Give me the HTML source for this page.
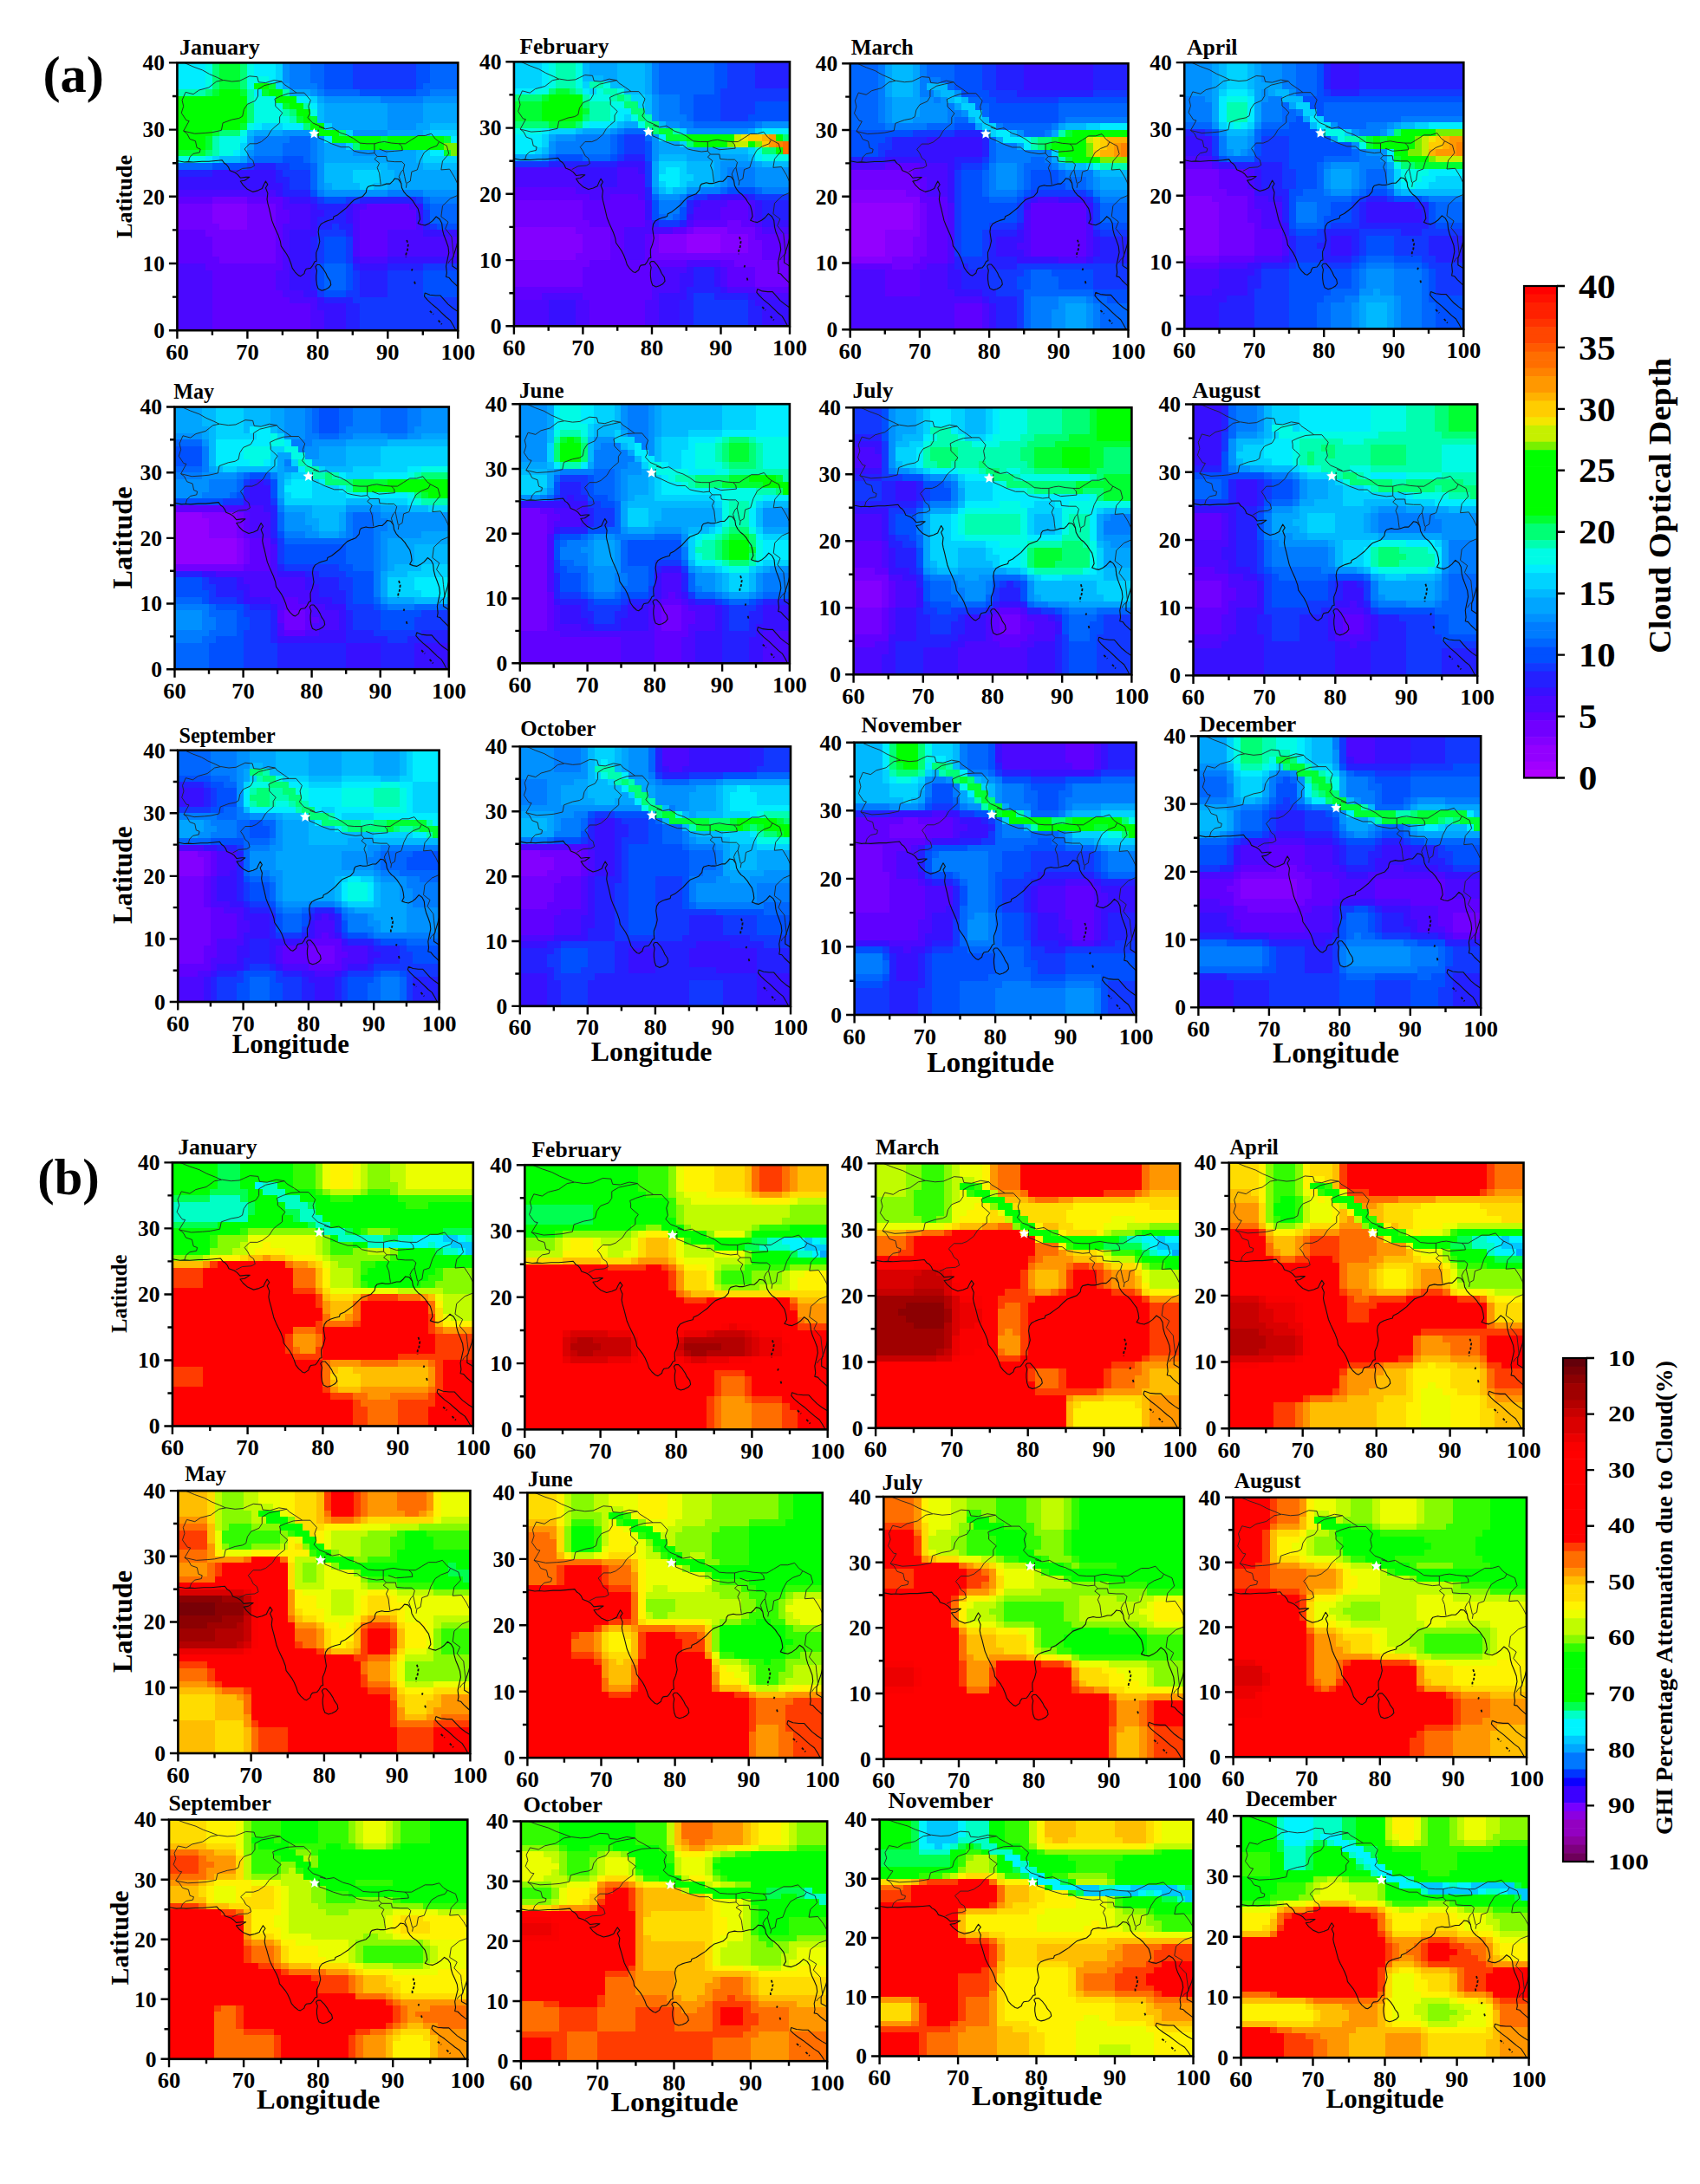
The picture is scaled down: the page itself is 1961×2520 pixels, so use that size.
<!DOCTYPE html>
<html><head><meta charset="utf-8"><title>Cloud optical depth and GHI attenuation</title>
<style>html,body{margin:0;padding:0;background:#fff;}body{width:1961px;height:2520px;overflow:hidden;}svg text{font-family:"Liberation Serif",serif;font-weight:bold;fill:#000;}</style></head>
<body><svg width="1961" height="2520" viewBox="0 0 1961 2520" style="display:block">
<rect width="1961" height="2520" fill="#fff"/>
<svg x="204.4" y="72.4" width="323.9" height="308.8" viewBox="0 0 40 40" preserveAspectRatio="none" shape-rendering="crispEdges">
<path fill="#00edff" d="M0 0h4v1h-4zM11 0h3v1h-3zM0 1h4v1h-4zM11 1h3v1h-3zM0 2h4v1h-4zM13 2h1v1h-1zM0 3h4v1h-4zM11 4h1v1h-1zM17 5h2v1h-2zM19 6h1v1h-1zM11 9h1v1h-1zM15 9h3v1h-3zM19 10h1v1h-1zM9 11h1v1h-1zM21 11h1v1h-1zM39 11h1v1h-1zM8 13h1v1h-1zM36 13h2v1h-2zM4 14h1v1h-1z"/><path fill="#00fbe5" d="M4 0h1v1h-1zM10 0h1v1h-1zM4 1h1v1h-1zM10 1h1v1h-1zM4 2h1v1h-1zM10 2h3v1h-3zM4 3h1v1h-1zM10 3h1v1h-1zM11 5h3v1h-3zM11 6h4v1h-4zM11 7h4v1h-4zM19 7h1v1h-1zM11 8h5v1h-5zM10 9h1v1h-1zM9 10h1v1h-1zM6 11h3v1h-3zM6 12h3v1h-3zM6 13h2v1h-2zM0 14h4v1h-4z"/><path fill="#00ff75" d="M5 0h1v1h-1zM9 0h1v1h-1zM5 1h1v1h-1zM9 1h1v1h-1zM5 2h1v1h-1zM9 2h1v1h-1zM5 3h1v1h-1zM9 3h1v1h-1zM4 4h1v1h-1zM10 6h1v1h-1zM10 7h1v1h-1zM16 7h1v1h-1zM10 8h1v1h-1zM18 9h1v1h-1zM6 10h3v1h-3zM23 10h1v1h-1zM25 12h1v1h-1zM4 13h1v1h-1z"/><path fill="#00ff32" d="M6 0h3v1h-3zM6 1h3v1h-3zM6 2h3v1h-3zM6 3h3v1h-3zM13 3h1v1h-1zM5 4h1v1h-1zM9 4h1v1h-1zM12 4h1v1h-1zM15 6h1v1h-1zM17 8h1v1h-1zM19 8h1v1h-1zM9 9h1v1h-1zM5 10h1v1h-1zM4 11h1v1h-1zM29 11h1v1h-1zM38 11h1v1h-1zM4 12h1v1h-1zM0 13h4v1h-4zM38 13h1v1h-1z"/><path fill="#00d3ff" d="M14 0h1v1h-1zM14 1h1v1h-1zM14 2h1v1h-1zM14 3h1v1h-1zM19 5h1v1h-1zM12 9h3v1h-3zM21 9h1v1h-1zM24 10h1v1h-1zM36 10h4v1h-4zM9 12h1v1h-1zM24 12h1v1h-1zM9 13h1v1h-1zM35 13h1v1h-1zM5 14h1v1h-1zM35 14h5v1h-5zM25 16h4v1h-4zM25 17h4v1h-4zM26 18h2v1h-2z"/><path fill="#0091ff" d="M15 0h1v1h-1zM15 1h1v1h-1zM15 2h1v1h-1zM19 4h1v1h-1zM21 5h8v1h-8zM35 5h5v1h-5zM30 6h5v1h-5zM30 7h5v1h-5zM30 8h5v1h-5zM30 9h4v1h-4zM15 10h4v1h-4zM25 10h5v1h-5zM20 11h1v1h-1zM20 12h1v1h-1zM10 13h1v1h-1zM20 13h1v1h-1zM25 13h5v1h-5zM20 14h1v1h-1zM20 15h1v1h-1zM20 16h1v1h-1zM20 17h1v1h-1zM20 18h1v1h-1zM21 19h9v1h-9zM35 19h5v1h-5z"/><path fill="#007cff" d="M16 0h3v1h-3zM16 1h3v1h-3zM16 2h3v1h-3zM16 3h4v1h-4zM20 4h1v1h-1zM36 4h4v1h-4zM29 5h6v1h-6zM11 11h5v1h-5zM19 11h1v1h-1zM11 12h4v1h-4zM19 12h1v1h-1zM11 13h4v1h-4zM19 13h1v1h-1zM10 14h1v1h-1zM19 14h1v1h-1zM20 19h1v1h-1zM30 19h5v1h-5zM36 20h4v1h-4z"/><path fill="#0066ff" d="M19 0h2v1h-2zM36 0h4v1h-4zM19 1h2v1h-2zM36 1h4v1h-4zM19 2h2v1h-2zM36 2h4v1h-4zM20 3h1v1h-1zM35 3h5v1h-5zM21 4h5v1h-5zM34 4h2v1h-2zM16 11h3v1h-3zM15 12h4v1h-4zM15 13h4v1h-4zM11 14h4v1h-4zM18 14h1v1h-1zM0 15h5v1h-5zM19 15h1v1h-1zM19 16h1v1h-1zM19 17h1v1h-1zM19 18h1v1h-1zM35 20h1v1h-1zM36 21h4v1h-4zM36 22h4v1h-4zM36 23h4v1h-4zM21 30h3v1h-3zM21 31h3v1h-3zM21 32h3v1h-3zM21 33h3v1h-3z"/><path fill="#0050ff" d="M21 0h4v1h-4zM34 0h2v1h-2zM21 1h4v1h-4zM34 1h2v1h-2zM21 2h4v1h-4zM34 2h2v1h-2zM21 3h4v1h-4zM34 3h1v1h-1zM26 4h8v1h-8zM15 14h3v1h-3zM5 15h5v1h-5zM16 15h3v1h-3zM19 19h1v1h-1zM21 20h3v1h-3zM35 21h1v1h-1zM37 24h3v1h-3zM21 26h3v1h-3zM21 27h3v1h-3zM21 28h3v1h-3zM21 29h3v1h-3zM20 30h1v1h-1zM24 30h1v1h-1zM20 31h1v1h-1zM24 31h1v1h-1zM35 31h5v1h-5zM20 32h1v1h-1zM24 32h1v1h-1zM35 32h5v1h-5zM20 33h1v1h-1zM24 33h1v1h-1zM35 33h5v1h-5zM21 34h3v1h-3zM35 34h5v1h-5z"/><path fill="#1238ff" d="M25 0h9v1h-9zM25 1h9v1h-9zM25 2h9v1h-9zM25 3h9v1h-9zM10 15h1v1h-1zM14 15h2v1h-2zM15 16h4v1h-4zM16 17h3v1h-3zM16 18h3v1h-3zM20 20h1v1h-1zM24 20h2v1h-2zM34 20h1v1h-1zM35 22h1v1h-1zM35 23h1v1h-1zM22 24h1v1h-1zM36 24h1v1h-1zM20 25h4v1h-4zM20 26h1v1h-1zM24 26h1v1h-1zM20 27h1v1h-1zM24 27h1v1h-1zM20 28h1v1h-1zM24 28h1v1h-1zM20 29h1v1h-1zM24 29h1v1h-1zM35 30h5v1h-5zM25 31h1v1h-1zM30 31h5v1h-5zM25 32h1v1h-1zM30 32h5v1h-5zM25 33h1v1h-1zM30 33h5v1h-5zM20 34h1v1h-1zM24 34h2v1h-2zM30 34h5v1h-5zM25 35h15v1h-15zM26 36h14v1h-14zM26 37h14v1h-14zM26 38h14v1h-14zM26 39h14v1h-14z"/><path fill="#00ff00" d="M11 3h2v1h-2zM6 4h3v1h-3zM13 4h2v1h-2zM0 5h10v1h-10zM14 5h3v1h-3zM0 6h10v1h-10zM16 6h2v1h-2zM0 7h10v1h-10zM17 7h2v1h-2zM0 8h10v1h-10zM18 8h1v1h-1zM0 9h9v1h-9zM19 9h2v1h-2zM0 10h5v1h-5zM20 10h3v1h-3zM0 11h4v1h-4zM22 11h7v1h-7zM30 11h8v1h-8zM0 12h4v1h-4zM26 12h12v1h-12z"/><path fill="#00a5ff" d="M15 3h1v1h-1zM16 4h3v1h-3zM20 5h1v1h-1zM21 6h9v1h-9zM35 6h5v1h-5zM21 7h9v1h-9zM35 7h5v1h-5zM21 8h9v1h-9zM35 8h5v1h-5zM22 9h8v1h-8zM34 9h2v1h-2zM11 10h4v1h-4zM30 10h5v1h-5zM10 11h1v1h-1zM10 12h1v1h-1zM21 12h3v1h-3zM21 13h4v1h-4zM30 13h4v1h-4zM9 14h1v1h-1zM21 14h13v1h-13zM30 15h5v1h-5zM31 16h9v1h-9zM31 17h9v1h-9zM21 18h1v1h-1zM30 18h10v1h-10z"/><path fill="#00feb0" d="M0 4h4v1h-4zM10 4h1v1h-1zM15 4h1v1h-1zM10 5h1v1h-1zM18 6h1v1h-1zM15 7h1v1h-1zM16 8h1v1h-1zM5 11h1v1h-1zM5 12h1v1h-1zM5 13h1v1h-1z"/><path fill="#00b9ff" d="M20 6h1v1h-1zM20 7h1v1h-1zM20 8h1v1h-1zM36 9h4v1h-4zM10 10h1v1h-1zM35 10h1v1h-1zM34 13h1v1h-1zM6 14h3v1h-3zM34 14h1v1h-1zM21 15h9v1h-9zM35 15h5v1h-5zM21 16h4v1h-4zM29 16h2v1h-2zM21 17h4v1h-4zM29 17h2v1h-2zM22 18h4v1h-4zM28 18h2v1h-2z"/><path fill="#78f000" d="M38 12h2v1h-2zM39 13h1v1h-1z"/><path fill="#2420ff" d="M11 15h3v1h-3zM0 16h5v1h-5zM14 16h1v1h-1zM14 17h2v1h-2zM15 18h1v1h-1zM15 19h4v1h-4zM19 20h1v1h-1zM26 20h8v1h-8zM20 21h4v1h-4zM21 22h3v1h-3zM20 23h4v1h-4zM20 24h2v1h-2zM23 24h2v1h-2zM35 24h1v1h-1zM24 25h1v1h-1zM19 26h1v1h-1zM19 27h1v1h-1zM19 28h1v1h-1zM19 29h1v1h-1zM19 30h1v1h-1zM25 30h1v1h-1zM30 30h5v1h-5zM19 31h1v1h-1zM26 31h4v1h-4zM19 32h1v1h-1zM26 32h4v1h-4zM19 33h1v1h-1zM26 33h4v1h-4zM26 34h4v1h-4zM21 35h4v1h-4zM24 36h2v1h-2zM24 37h2v1h-2zM24 38h2v1h-2zM24 39h2v1h-2z"/><path fill="#3710ff" d="M5 16h9v1h-9zM0 17h14v1h-14zM0 18h15v1h-15zM14 19h1v1h-1zM16 20h3v1h-3zM19 21h1v1h-1zM24 21h1v1h-1zM34 21h1v1h-1zM19 22h2v1h-2zM24 22h1v1h-1zM34 22h1v1h-1zM19 23h1v1h-1zM24 23h1v1h-1zM34 23h1v1h-1zM19 24h1v1h-1zM16 25h4v1h-4zM35 25h5v1h-5zM16 26h3v1h-3zM16 27h3v1h-3zM16 28h3v1h-3zM16 29h3v1h-3zM25 29h1v1h-1zM30 29h10v1h-10zM16 30h3v1h-3zM26 30h4v1h-4zM16 31h3v1h-3zM16 32h3v1h-3zM16 33h3v1h-3zM18 34h2v1h-2zM20 35h1v1h-1zM20 36h4v1h-4zM21 37h3v1h-3zM21 38h3v1h-3zM21 39h3v1h-3z"/><path fill="#4b08ff" d="M0 19h14v1h-14zM15 20h1v1h-1zM15 21h4v1h-4zM25 21h2v1h-2zM33 21h1v1h-1zM16 22h3v1h-3zM25 22h1v1h-1zM16 23h3v1h-3zM25 23h1v1h-1zM15 24h4v1h-4zM25 24h1v1h-1zM34 24h1v1h-1zM15 25h1v1h-1zM25 25h1v1h-1zM30 25h5v1h-5zM15 26h1v1h-1zM25 26h1v1h-1zM30 26h10v1h-10zM15 27h1v1h-1zM25 27h1v1h-1zM30 27h10v1h-10zM15 28h1v1h-1zM25 28h1v1h-1zM30 28h10v1h-10zM15 29h1v1h-1zM26 29h4v1h-4zM0 30h4v1h-4zM15 30h1v1h-1zM0 31h5v1h-5zM14 31h2v1h-2zM0 32h5v1h-5zM14 32h2v1h-2zM0 33h5v1h-5zM14 33h2v1h-2zM0 34h5v1h-5zM15 34h3v1h-3zM0 35h5v1h-5zM16 35h4v1h-4zM0 36h5v1h-5zM19 36h1v1h-1zM0 37h5v1h-5zM19 37h2v1h-2zM0 38h5v1h-5zM19 38h2v1h-2zM0 39h5v1h-5zM19 39h2v1h-2z"/><path fill="#5f00ff" d="M0 20h5v1h-5zM10 20h5v1h-5zM14 21h1v1h-1zM27 21h6v1h-6zM14 22h2v1h-2zM26 22h8v1h-8zM14 23h2v1h-2zM26 23h8v1h-8zM14 24h1v1h-1zM26 24h8v1h-8zM0 25h4v1h-4zM14 25h1v1h-1zM26 25h4v1h-4zM0 26h5v1h-5zM14 26h1v1h-1zM26 26h4v1h-4zM0 27h5v1h-5zM14 27h1v1h-1zM26 27h4v1h-4zM0 28h5v1h-5zM14 28h1v1h-1zM26 28h4v1h-4zM0 29h6v1h-6zM14 29h1v1h-1zM4 30h11v1h-11zM5 31h9v1h-9zM5 32h9v1h-9zM5 33h9v1h-9zM5 34h10v1h-10zM5 35h11v1h-11zM5 36h14v1h-14zM5 37h14v1h-14zM5 38h14v1h-14zM5 39h14v1h-14z"/><path fill="#7100ff" d="M5 20h5v1h-5zM0 21h5v1h-5zM10 21h4v1h-4zM0 22h5v1h-5zM10 22h4v1h-4zM0 23h5v1h-5zM10 23h4v1h-4zM0 24h6v1h-6zM10 24h4v1h-4zM4 25h10v1h-10zM5 26h9v1h-9zM5 27h9v1h-9zM5 28h9v1h-9zM6 29h8v1h-8z"/><path fill="#8300ff" d="M5 21h5v1h-5zM5 22h5v1h-5zM5 23h5v1h-5zM6 24h4v1h-4z"/>
</svg>
<svg x="204.4" y="72.4" width="323.9" height="308.8" viewBox="0 0 40 40" preserveAspectRatio="none">
<path d="M0.00 14.65 1.00 14.85 1.60 14.80 2.30 14.85 3.50 14.75 4.50 14.75 5.50 14.65 6.40 14.55 6.70 15.00 7.00 15.20 7.30 15.60 7.50 16.10 8.20 16.40 8.60 16.70 9.00 17.20 9.80 17.10 10.30 17.10 9.60 17.60 9.00 17.70 9.40 18.30 10.00 18.90 10.80 19.30 11.50 19.10 12.10 18.80 12.30 18.30 12.60 17.70 12.90 18.20 12.60 18.70 12.90 19.50 12.80 20.40 12.90 21.00 13.10 21.80 13.30 22.70 13.50 23.60 13.80 24.40 14.10 25.10 14.40 25.80 14.70 26.70 14.80 27.40 15.20 28.00 15.60 28.60 15.90 29.20 16.20 30.00 16.40 30.70 16.80 31.30 17.30 31.80 17.60 31.90 18.10 31.50 18.20 31.10 18.40 30.80 19.00 30.70 19.30 30.30 19.60 29.70 19.85 29.65 19.80 29.00 19.80 28.40 20.10 27.60 20.30 26.70 20.20 26.00 20.10 25.30 20.20 24.60 20.50 24.10 21.00 23.80 21.50 23.60 22.20 23.40 22.30 23.00 22.90 22.70 23.50 22.20 24.10 21.70 24.70 21.00 25.20 20.50 25.90 20.20 26.40 20.00 26.90 19.40 27.00 18.80 27.20 18.50 27.90 18.30 28.30 18.40 28.80 18.40 29.20 18.30 29.80 18.10 30.30 18.10 30.70 17.70 31.00 17.30 31.50 17.40 31.90 18.00 32.00 18.70 32.30 19.30 32.70 19.80 33.10 20.10 33.60 20.70 33.90 21.20 34.30 21.80 34.50 22.60 34.60 23.40 34.30 24.00 34.80 24.20 35.30 24.30 35.90 24.00 36.40 23.60 36.90 23.00 37.40 23.40 37.70 24.00 37.80 25.00 38.00 25.80 38.30 26.60 38.60 27.50 38.70 28.40 38.50 29.40 38.30 30.40 38.40 31.40 38.30 32.00 38.70 32.10 39.10 32.60 39.60 33.10 40.00 33.50M40.00 26.50 39.80 27.40 39.50 28.40 39.20 29.40 39.20 30.40 39.80 30.80 40.00 31.00M19.90 30.20 20.30 30.20 20.80 30.80 21.20 31.50 21.40 32.00 21.80 32.60 21.90 33.20 21.60 33.60 21.10 33.90 20.60 34.05 20.10 33.80 19.90 33.20 19.80 32.40 19.80 31.80 19.90 31.10 19.70 30.50 19.90 30.20M35.30 34.40 36.00 34.70 36.80 34.80 37.50 34.80 38.00 35.40 38.60 36.10 39.30 36.70 40.00 37.20M35.30 34.40 35.20 34.90 35.60 35.40 36.20 36.00 36.90 36.60 37.60 37.30 38.30 38.00 38.90 38.50 39.30 39.20 39.70 40.00" fill="none" stroke="#111" stroke-width="1.1" vector-effect="non-scaling-stroke" stroke-linejoin="round"/>
<path d="M1.00 0.00 2.30 0.60 3.60 1.10 4.60 1.70 5.70 2.20 6.50 2.60M1.20 4.40 2.30 4.70 3.10 4.10 4.50 3.70 5.60 2.80 6.60 2.60 7.80 2.80 8.90 2.70 9.50 2.40 10.30 2.00 11.40 2.10 11.60 2.90 12.60 3.00 13.80 2.60 14.90 2.80M1.20 4.40 0.70 5.60 0.90 6.50 0.60 7.50 1.30 8.60 1.70 8.70 0.90 10.20 1.40 10.60 1.80 11.40 2.60 11.70 2.80 12.70 3.30 12.90 3.20 13.40 2.30 13.60 1.80 14.10 1.60 14.80M0.90 10.20 2.50 10.60 4.00 10.50 5.00 10.40 6.30 10.10 6.50 9.00 7.80 8.50 8.80 8.30 9.30 8.00 9.50 7.00 10.00 6.20 11.10 5.70 11.50 5.00 11.50 4.00 12.40 3.40 13.60 3.10 14.90 2.80M8.40 16.30 9.30 15.80 10.50 15.70 11.00 15.40 10.80 14.60 10.30 14.20 10.00 13.50 9.60 12.90 10.30 12.10 11.30 12.10 12.00 11.80 12.90 11.00 13.40 10.10 13.90 9.60 14.60 9.00 14.60 8.10 15.00 7.50 14.40 6.90 14.00 6.50 14.00 5.90 13.90 5.40 14.70 5.00 15.80 4.60 17.00 4.50M14.90 2.80 15.20 3.20 16.20 3.90 17.00 4.50 18.10 4.50 19.00 5.60 18.70 6.50 18.90 7.60 18.60 8.20 19.30 9.00 20.20 9.40 21.00 9.80M20.20 9.60 21.10 9.90 22.10 9.70 23.30 10.50 24.20 10.80 25.10 11.30 26.00 12.00 27.00 12.10 28.10 12.10M20.10 10.00 20.10 11.20 21.00 11.60 22.00 12.10 23.30 12.60 24.50 12.60 25.20 13.20 26.00 13.40 27.20 13.60 28.10 13.50 28.10 12.10M28.10 12.10 28.80 11.90 29.50 11.80 30.50 12.00 31.60 12.10 32.50 12.10 33.40 11.50 34.30 10.90 35.30 10.90 36.20 10.60 36.80 11.40 37.30 11.80M28.80 12.90 29.80 13.30 31.00 13.20 32.10 13.10 32.00 12.50 31.60 12.10M37.30 11.80 38.40 12.40 38.70 13.60 37.80 14.70 37.60 16.00 38.80 15.90 39.50 17.10 39.90 18.00 40.00 18.20M37.30 11.80 37.00 12.40 36.00 12.80 35.20 13.40 34.60 14.60 34.20 16.00 33.40 16.30 33.20 17.70 32.70 18.00 32.60 18.70M28.10 13.50 28.50 14.00 29.80 14.00 29.90 14.70 31.00 14.80 32.00 14.80 32.40 15.20 32.20 16.00 31.90 16.30 31.60 17.00 31.90 18.00M28.50 14.00 28.10 14.40 28.80 15.00 28.50 15.70 28.80 16.50 28.90 17.40 29.00 18.20M32.20 16.00 32.40 17.00 32.60 18.00M40.00 19.80 38.90 20.30 37.80 21.40 37.60 23.00 38.60 23.80 38.20 24.80 39.10 26.00 39.20 27.10 39.40 29.00 38.80 29.60 38.60 30.00M40.00 18.20 40.00 19.80" fill="none" stroke="#222" stroke-width="0.9" vector-effect="non-scaling-stroke" stroke-linejoin="round"/>
<path d="M32.70 26.50 32.90 27.20 32.80 28.00 32.60 28.60 32.60 29.10M33.50 30.80 33.40 31.10M33.80 32.70 33.90 33.10M36.00 37.10 36.50 37.60M37.20 38.50 37.70 39.10" fill="none" stroke="#111" stroke-width="1.8" stroke-dasharray="3 2" vector-effect="non-scaling-stroke"/>
</svg>
<polygon points="362.30,147.73 364.02,151.87 368.48,152.22 365.08,155.14 366.12,159.49 362.30,157.16 358.48,159.49 359.52,155.14 356.12,152.22 360.58,151.87" fill="#fff"/>
<rect x="204.4" y="72.4" width="323.9" height="308.8" fill="none" stroke="#000" stroke-width="2.6"/>
<path d="M204.4 381.2v9.5M204.4 381.2h-9.5M244.9 381.2v5.5M204.4 342.6h-5.5M285.4 381.2v9.5M204.4 304.0h-9.5M325.9 381.2v5.5M204.4 265.4h-5.5M366.4 381.2v9.5M204.4 226.8h-9.5M406.8 381.2v5.5M204.4 188.2h-5.5M447.3 381.2v9.5M204.4 149.6h-9.5M487.8 381.2v5.5M204.4 111.0h-5.5M528.3 381.2v9.5M204.4 72.4h-9.5" stroke="#000" stroke-width="2.4" fill="none"/>
<text x="204.4" y="414.7" text-anchor="middle" font-size="25.5" textLength="26.5" lengthAdjust="spacingAndGlyphs">60</text>
<text x="285.4" y="414.7" text-anchor="middle" font-size="25.5" textLength="26.5" lengthAdjust="spacingAndGlyphs">70</text>
<text x="366.4" y="414.7" text-anchor="middle" font-size="25.5" textLength="26.5" lengthAdjust="spacingAndGlyphs">80</text>
<text x="447.3" y="414.7" text-anchor="middle" font-size="25.5" textLength="26.5" lengthAdjust="spacingAndGlyphs">90</text>
<text x="528.3" y="414.7" text-anchor="middle" font-size="25.5" textLength="39.8" lengthAdjust="spacingAndGlyphs">100</text>
<text x="189.9" y="390.0" text-anchor="end" font-size="25.5">0</text>
<text x="189.9" y="312.8" text-anchor="end" font-size="25.5">10</text>
<text x="189.9" y="235.6" text-anchor="end" font-size="25.5">20</text>
<text x="189.9" y="158.4" text-anchor="end" font-size="25.5">30</text>
<text x="189.9" y="81.2" text-anchor="end" font-size="25.5">40</text>
<text x="206.9" y="63.2" font-size="25.0" textLength="92.8" lengthAdjust="spacingAndGlyphs">January</text>
<svg x="592.9" y="71.3" width="318.1" height="305.0" viewBox="0 0 40 40" preserveAspectRatio="none" shape-rendering="crispEdges">
<path fill="#00d3ff" d="M0 0h4v1h-4zM0 1h4v1h-4zM0 2h4v1h-4zM0 3h4v1h-4zM10 3h1v1h-1zM11 4h1v1h-1zM17 5h2v1h-2zM18 6h1v1h-1zM16 8h1v1h-1zM14 9h1v1h-1zM5 10h4v1h-4zM19 10h1v1h-1zM24 10h1v1h-1zM35 10h1v1h-1zM4 11h1v1h-1zM4 12h1v1h-1zM24 12h1v1h-1zM3 13h1v1h-1zM34 13h1v1h-1zM21 15h4v1h-4zM21 16h1v1h-1zM24 16h1v1h-1zM24 17h2v1h-2zM21 18h1v1h-1zM24 18h1v1h-1zM22 19h1v1h-1z"/><path fill="#00edff" d="M4 0h1v1h-1zM4 1h1v1h-1zM4 2h1v1h-1zM4 3h1v1h-1zM0 4h3v1h-3zM10 4h1v1h-1zM15 7h2v1h-2zM15 8h1v1h-1zM11 9h3v1h-3zM4 10h1v1h-1zM36 10h4v1h-4zM0 11h4v1h-4zM21 11h1v1h-1zM0 12h4v1h-4zM0 13h3v1h-3zM35 14h1v1h-1zM22 16h2v1h-2zM21 17h3v1h-3zM22 18h2v1h-2z"/><path fill="#00fbe5" d="M5 0h1v1h-1zM9 0h1v1h-1zM5 1h1v1h-1zM9 1h1v1h-1zM5 2h1v1h-1zM9 2h1v1h-1zM5 3h1v1h-1zM9 3h1v1h-1zM13 3h1v1h-1zM3 4h2v1h-2zM12 4h1v1h-1zM15 4h1v1h-1zM11 5h3v1h-3zM14 6h2v1h-2zM14 7h1v1h-1zM14 8h1v1h-1zM17 8h1v1h-1zM10 9h1v1h-1zM18 9h1v1h-1zM0 10h4v1h-4zM35 13h1v1h-1zM36 14h4v1h-4z"/><path fill="#00feb0" d="M6 0h3v1h-3zM6 1h3v1h-3zM6 2h3v1h-3zM6 3h3v1h-3zM11 3h2v1h-2zM9 4h1v1h-1zM13 4h2v1h-2zM10 5h1v1h-1zM14 5h1v1h-1zM16 5h1v1h-1zM11 6h3v1h-3zM11 7h3v1h-3zM11 8h3v1h-3zM19 8h1v1h-1zM23 10h1v1h-1z"/><path fill="#00b9ff" d="M10 0h1v1h-1zM15 0h4v1h-4zM10 1h1v1h-1zM15 1h4v1h-4zM10 2h3v1h-3zM15 2h4v1h-4zM14 3h5v1h-5zM16 4h3v1h-3zM19 5h1v1h-1zM19 6h1v1h-1zM19 7h1v1h-1zM15 9h1v1h-1zM21 9h1v1h-1zM9 10h1v1h-1zM4 13h1v1h-1zM30 13h4v1h-4zM21 14h4v1h-4zM34 14h1v1h-1zM25 15h4v1h-4zM36 15h4v1h-4zM25 16h4v1h-4zM26 17h3v1h-3zM25 18h4v1h-4zM21 19h1v1h-1zM23 19h2v1h-2z"/><path fill="#00a5ff" d="M11 0h4v1h-4zM19 0h1v1h-1zM11 1h4v1h-4zM19 1h1v1h-1zM13 2h2v1h-2zM19 2h1v1h-1zM19 3h1v1h-1zM19 4h1v1h-1zM16 9h2v1h-2zM10 10h4v1h-4zM34 10h1v1h-1zM5 11h1v1h-1zM21 12h3v1h-3zM21 13h9v1h-9zM0 14h4v1h-4zM25 14h9v1h-9zM20 15h1v1h-1zM29 15h1v1h-1zM35 15h1v1h-1zM20 16h1v1h-1zM29 16h1v1h-1zM20 17h1v1h-1zM29 17h1v1h-1zM20 18h1v1h-1zM29 18h1v1h-1z"/><path fill="#007cff" d="M20 0h1v1h-1zM20 1h1v1h-1zM20 2h1v1h-1zM20 3h1v1h-1zM20 4h1v1h-1zM21 5h3v1h-3zM21 6h3v1h-3zM21 7h3v1h-3zM21 8h4v1h-4zM24 9h2v1h-2zM35 9h1v1h-1zM15 10h1v1h-1zM9 11h5v1h-5zM6 12h8v1h-8zM6 13h8v1h-8zM31 16h4v1h-4zM31 17h4v1h-4zM31 18h4v1h-4zM27 19h3v1h-3zM36 19h4v1h-4zM24 20h1v1h-1zM21 21h3v1h-3zM21 22h3v1h-3zM22 23h1v1h-1z"/><path fill="#0066ff" d="M21 0h8v1h-8zM21 1h8v1h-8zM21 2h8v1h-8zM21 3h8v1h-8zM21 4h8v1h-8zM24 5h2v1h-2zM24 6h2v1h-2zM24 7h2v1h-2zM25 8h1v1h-1zM26 9h9v1h-9zM16 10h3v1h-3zM14 11h1v1h-1zM19 11h1v1h-1zM14 12h1v1h-1zM14 13h1v1h-1zM5 14h1v1h-1zM10 14h4v1h-4zM30 19h1v1h-1zM35 19h1v1h-1zM20 20h1v1h-1zM24 21h1v1h-1zM21 23h1v1h-1zM23 23h1v1h-1z"/><path fill="#0050ff" d="M29 0h2v1h-2zM29 1h2v1h-2zM29 2h2v1h-2zM29 3h2v1h-2zM29 4h1v1h-1zM26 5h4v1h-4zM26 6h4v1h-4zM35 6h5v1h-5zM26 7h4v1h-4zM35 7h5v1h-5zM26 8h4v1h-4zM34 8h6v1h-6zM15 11h1v1h-1zM15 12h1v1h-1zM19 12h1v1h-1zM15 13h1v1h-1zM19 13h1v1h-1zM6 14h4v1h-4zM14 14h1v1h-1zM19 14h1v1h-1zM31 19h4v1h-4zM25 20h1v1h-1zM20 21h1v1h-1zM20 22h1v1h-1zM24 22h1v1h-1zM20 23h1v1h-1zM24 23h1v1h-1z"/><path fill="#1238ff" d="M31 0h4v1h-4zM31 1h4v1h-4zM31 2h4v1h-4zM31 3h4v1h-4zM30 4h10v1h-10zM30 5h10v1h-10zM30 6h5v1h-5zM30 7h5v1h-5zM30 8h4v1h-4zM16 11h3v1h-3zM16 12h3v1h-3zM16 13h3v1h-3zM15 14h1v1h-1zM0 15h5v1h-5zM19 15h1v1h-1zM19 16h1v1h-1zM19 17h1v1h-1zM19 18h1v1h-1zM26 20h2v1h-2zM35 20h5v1h-5zM21 24h3v1h-3zM26 35h3v1h-3zM26 36h8v1h-8zM26 37h8v1h-8zM26 38h8v1h-8zM26 39h8v1h-8z"/><path fill="#2420ff" d="M35 0h5v1h-5zM35 1h5v1h-5zM35 2h5v1h-5zM35 3h5v1h-5zM16 14h3v1h-3zM5 15h10v1h-10zM19 19h1v1h-1zM19 20h1v1h-1zM28 20h2v1h-2zM34 20h1v1h-1zM25 21h1v1h-1zM36 21h4v1h-4zM25 22h1v1h-1zM36 22h4v1h-4zM36 23h4v1h-4zM20 24h1v1h-1zM24 24h1v1h-1zM26 31h3v1h-3zM26 32h3v1h-3zM26 33h3v1h-3zM25 34h5v1h-5zM25 35h1v1h-1zM29 35h5v1h-5zM24 36h2v1h-2zM34 36h1v1h-1zM24 37h2v1h-2zM34 37h2v1h-2zM24 38h2v1h-2zM34 38h2v1h-2zM24 39h2v1h-2zM34 39h2v1h-2z"/><path fill="#00ff75" d="M5 4h1v1h-1zM8 4h1v1h-1zM0 5h4v1h-4zM15 5h1v1h-1zM10 6h1v1h-1zM16 6h2v1h-2zM17 7h2v1h-2zM10 8h1v1h-1zM18 8h1v1h-1zM0 9h5v1h-5zM9 9h1v1h-1zM19 9h2v1h-2zM20 10h1v1h-1zM39 11h1v1h-1zM25 12h1v1h-1zM36 13h2v1h-2z"/><path fill="#00ff32" d="M6 4h2v1h-2zM4 5h1v1h-1zM0 6h4v1h-4zM0 7h4v1h-4zM10 7h1v1h-1zM0 8h4v1h-4zM5 9h4v1h-4zM21 10h2v1h-2zM22 11h3v1h-3z"/><path fill="#00ff00" d="M5 5h5v1h-5zM4 6h6v1h-6zM4 7h6v1h-6zM4 8h6v1h-6zM25 11h7v1h-7zM38 11h1v1h-1zM26 12h5v1h-5zM34 12h1v1h-1zM38 13h1v1h-1z"/><path fill="#0091ff" d="M20 5h1v1h-1zM20 6h1v1h-1zM20 7h1v1h-1zM20 8h1v1h-1zM22 9h2v1h-2zM36 9h4v1h-4zM14 10h1v1h-1zM25 10h9v1h-9zM6 11h3v1h-3zM20 11h1v1h-1zM5 12h1v1h-1zM20 12h1v1h-1zM5 13h1v1h-1zM20 13h1v1h-1zM4 14h1v1h-1zM20 14h1v1h-1zM30 15h5v1h-5zM30 16h1v1h-1zM35 16h5v1h-5zM30 17h1v1h-1zM35 17h5v1h-5zM30 18h1v1h-1zM35 18h5v1h-5zM20 19h1v1h-1zM25 19h2v1h-2zM21 20h3v1h-3z"/><path fill="#c5f000" d="M32 11h1v1h-1zM32 12h2v1h-2z"/><path fill="#f4e600" d="M33 11h1v1h-1z"/><path fill="#ffcd00" d="M34 11h2v1h-2zM36 12h1v1h-1z"/><path fill="#ffb200" d="M36 11h1v1h-1z"/><path fill="#ff9800" d="M37 11h1v1h-1zM37 12h1v1h-1z"/><path fill="#78f000" d="M31 12h1v1h-1zM35 12h1v1h-1z"/><path fill="#ff8200" d="M38 12h1v1h-1z"/><path fill="#ff6e00" d="M39 12h1v1h-1zM39 13h1v1h-1z"/><path fill="#3710ff" d="M15 15h4v1h-4zM9 16h6v1h-6zM18 16h1v1h-1zM10 17h5v1h-5zM10 18h5v1h-5zM30 20h4v1h-4zM19 21h1v1h-1zM26 21h1v1h-1zM35 21h1v1h-1zM19 22h1v1h-1zM35 22h1v1h-1zM19 23h1v1h-1zM25 23h1v1h-1zM35 23h1v1h-1zM36 24h4v1h-4zM25 31h1v1h-1zM29 31h1v1h-1zM24 32h2v1h-2zM29 32h1v1h-1zM24 33h2v1h-2zM29 33h1v1h-1zM24 34h1v1h-1zM30 34h1v1h-1zM21 35h4v1h-4zM34 35h2v1h-2zM5 36h4v1h-4zM21 36h3v1h-3zM35 36h5v1h-5zM5 37h4v1h-4zM21 37h3v1h-3zM36 37h4v1h-4zM5 38h4v1h-4zM21 38h3v1h-3zM36 38h4v1h-4zM5 39h4v1h-4zM21 39h3v1h-3zM36 39h4v1h-4z"/><path fill="#4b08ff" d="M0 16h9v1h-9zM15 16h3v1h-3zM0 17h10v1h-10zM15 17h4v1h-4zM0 18h10v1h-10zM15 18h4v1h-4zM9 19h10v1h-10zM11 20h3v1h-3zM18 20h1v1h-1zM27 21h4v1h-4zM34 21h1v1h-1zM26 22h4v1h-4zM34 22h1v1h-1zM26 23h4v1h-4zM34 23h1v1h-1zM19 24h1v1h-1zM25 24h1v1h-1zM35 24h1v1h-1zM16 25h7v1h-7zM36 25h4v1h-4zM16 26h3v1h-3zM16 27h3v1h-3zM16 28h3v1h-3zM16 29h3v1h-3zM25 30h5v1h-5zM20 31h5v1h-5zM30 31h1v1h-1zM20 32h4v1h-4zM30 32h1v1h-1zM20 33h4v1h-4zM30 33h1v1h-1zM20 34h4v1h-4zM31 34h4v1h-4zM4 35h6v1h-6zM20 35h1v1h-1zM36 35h4v1h-4zM0 36h5v1h-5zM9 36h2v1h-2zM19 36h2v1h-2zM0 37h5v1h-5zM9 37h2v1h-2zM19 37h2v1h-2zM0 38h5v1h-5zM9 38h2v1h-2zM19 38h2v1h-2zM0 39h5v1h-5zM9 39h2v1h-2zM19 39h2v1h-2z"/><path fill="#5f00ff" d="M0 19h9v1h-9zM0 20h11v1h-11zM14 20h4v1h-4zM10 21h9v1h-9zM31 21h3v1h-3zM10 22h9v1h-9zM30 22h4v1h-4zM10 23h9v1h-9zM30 23h4v1h-4zM11 24h8v1h-8zM26 24h5v1h-5zM33 24h2v1h-2zM14 25h2v1h-2zM23 25h2v1h-2zM35 25h1v1h-1zM14 26h2v1h-2zM19 26h1v1h-1zM35 26h5v1h-5zM14 27h2v1h-2zM19 27h1v1h-1zM36 27h4v1h-4zM14 28h2v1h-2zM19 28h1v1h-1zM36 28h4v1h-4zM14 29h2v1h-2zM19 29h1v1h-1zM36 29h4v1h-4zM11 30h14v1h-14zM30 30h2v1h-2zM10 31h10v1h-10zM31 31h4v1h-4zM10 32h10v1h-10zM31 32h4v1h-4zM10 33h10v1h-10zM31 33h4v1h-4zM0 34h20v1h-20zM35 34h5v1h-5zM0 35h4v1h-4zM10 35h10v1h-10zM11 36h8v1h-8zM11 37h8v1h-8zM11 38h8v1h-8zM11 39h8v1h-8z"/><path fill="#7100ff" d="M0 21h10v1h-10zM0 22h10v1h-10zM0 23h10v1h-10zM0 24h11v1h-11zM31 24h2v1h-2zM9 25h5v1h-5zM25 25h1v1h-1zM31 25h4v1h-4zM10 26h4v1h-4zM20 26h1v1h-1zM34 26h1v1h-1zM10 27h4v1h-4zM20 27h1v1h-1zM34 27h2v1h-2zM10 28h4v1h-4zM20 28h1v1h-1zM34 28h2v1h-2zM9 29h5v1h-5zM20 29h16v1h-16zM0 30h11v1h-11zM32 30h8v1h-8zM0 31h10v1h-10zM35 31h5v1h-5zM0 32h10v1h-10zM35 32h5v1h-5zM0 33h10v1h-10zM35 33h5v1h-5z"/><path fill="#8300ff" d="M0 25h9v1h-9zM26 25h5v1h-5zM0 26h10v1h-10zM21 26h4v1h-4zM30 26h4v1h-4zM0 27h10v1h-10zM21 27h4v1h-4zM30 27h4v1h-4zM0 28h10v1h-10zM21 28h4v1h-4zM30 28h4v1h-4zM0 29h9v1h-9z"/><path fill="#9300ff" d="M25 26h5v1h-5zM25 27h5v1h-5zM25 28h5v1h-5z"/>
</svg>
<svg x="592.9" y="71.3" width="318.1" height="305.0" viewBox="0 0 40 40" preserveAspectRatio="none">
<path d="M0.00 14.65 1.00 14.85 1.60 14.80 2.30 14.85 3.50 14.75 4.50 14.75 5.50 14.65 6.40 14.55 6.70 15.00 7.00 15.20 7.30 15.60 7.50 16.10 8.20 16.40 8.60 16.70 9.00 17.20 9.80 17.10 10.30 17.10 9.60 17.60 9.00 17.70 9.40 18.30 10.00 18.90 10.80 19.30 11.50 19.10 12.10 18.80 12.30 18.30 12.60 17.70 12.90 18.20 12.60 18.70 12.90 19.50 12.80 20.40 12.90 21.00 13.10 21.80 13.30 22.70 13.50 23.60 13.80 24.40 14.10 25.10 14.40 25.80 14.70 26.70 14.80 27.40 15.20 28.00 15.60 28.60 15.90 29.20 16.20 30.00 16.40 30.70 16.80 31.30 17.30 31.80 17.60 31.90 18.10 31.50 18.20 31.10 18.40 30.80 19.00 30.70 19.30 30.30 19.60 29.70 19.85 29.65 19.80 29.00 19.80 28.40 20.10 27.60 20.30 26.70 20.20 26.00 20.10 25.30 20.20 24.60 20.50 24.10 21.00 23.80 21.50 23.60 22.20 23.40 22.30 23.00 22.90 22.70 23.50 22.20 24.10 21.70 24.70 21.00 25.20 20.50 25.90 20.20 26.40 20.00 26.90 19.40 27.00 18.80 27.20 18.50 27.90 18.30 28.30 18.40 28.80 18.40 29.20 18.30 29.80 18.10 30.30 18.10 30.70 17.70 31.00 17.30 31.50 17.40 31.90 18.00 32.00 18.70 32.30 19.30 32.70 19.80 33.10 20.10 33.60 20.70 33.90 21.20 34.30 21.80 34.50 22.60 34.60 23.40 34.30 24.00 34.80 24.20 35.30 24.30 35.90 24.00 36.40 23.60 36.90 23.00 37.40 23.40 37.70 24.00 37.80 25.00 38.00 25.80 38.30 26.60 38.60 27.50 38.70 28.40 38.50 29.40 38.30 30.40 38.40 31.40 38.30 32.00 38.70 32.10 39.10 32.60 39.60 33.10 40.00 33.50M40.00 26.50 39.80 27.40 39.50 28.40 39.20 29.40 39.20 30.40 39.80 30.80 40.00 31.00M19.90 30.20 20.30 30.20 20.80 30.80 21.20 31.50 21.40 32.00 21.80 32.60 21.90 33.20 21.60 33.60 21.10 33.90 20.60 34.05 20.10 33.80 19.90 33.20 19.80 32.40 19.80 31.80 19.90 31.10 19.70 30.50 19.90 30.20M35.30 34.40 36.00 34.70 36.80 34.80 37.50 34.80 38.00 35.40 38.60 36.10 39.30 36.70 40.00 37.20M35.30 34.40 35.20 34.90 35.60 35.40 36.20 36.00 36.90 36.60 37.60 37.30 38.30 38.00 38.90 38.50 39.30 39.20 39.70 40.00" fill="none" stroke="#111" stroke-width="1.1" vector-effect="non-scaling-stroke" stroke-linejoin="round"/>
<path d="M1.00 0.00 2.30 0.60 3.60 1.10 4.60 1.70 5.70 2.20 6.50 2.60M1.20 4.40 2.30 4.70 3.10 4.10 4.50 3.70 5.60 2.80 6.60 2.60 7.80 2.80 8.90 2.70 9.50 2.40 10.30 2.00 11.40 2.10 11.60 2.90 12.60 3.00 13.80 2.60 14.90 2.80M1.20 4.40 0.70 5.60 0.90 6.50 0.60 7.50 1.30 8.60 1.70 8.70 0.90 10.20 1.40 10.60 1.80 11.40 2.60 11.70 2.80 12.70 3.30 12.90 3.20 13.40 2.30 13.60 1.80 14.10 1.60 14.80M0.90 10.20 2.50 10.60 4.00 10.50 5.00 10.40 6.30 10.10 6.50 9.00 7.80 8.50 8.80 8.30 9.30 8.00 9.50 7.00 10.00 6.20 11.10 5.70 11.50 5.00 11.50 4.00 12.40 3.40 13.60 3.10 14.90 2.80M8.40 16.30 9.30 15.80 10.50 15.70 11.00 15.40 10.80 14.60 10.30 14.20 10.00 13.50 9.60 12.90 10.30 12.10 11.30 12.10 12.00 11.80 12.90 11.00 13.40 10.10 13.90 9.60 14.60 9.00 14.60 8.10 15.00 7.50 14.40 6.90 14.00 6.50 14.00 5.90 13.90 5.40 14.70 5.00 15.80 4.60 17.00 4.50M14.90 2.80 15.20 3.20 16.20 3.90 17.00 4.50 18.10 4.50 19.00 5.60 18.70 6.50 18.90 7.60 18.60 8.20 19.30 9.00 20.20 9.40 21.00 9.80M20.20 9.60 21.10 9.90 22.10 9.70 23.30 10.50 24.20 10.80 25.10 11.30 26.00 12.00 27.00 12.10 28.10 12.10M20.10 10.00 20.10 11.20 21.00 11.60 22.00 12.10 23.30 12.60 24.50 12.60 25.20 13.20 26.00 13.40 27.20 13.60 28.10 13.50 28.10 12.10M28.10 12.10 28.80 11.90 29.50 11.80 30.50 12.00 31.60 12.10 32.50 12.10 33.40 11.50 34.30 10.90 35.30 10.90 36.20 10.60 36.80 11.40 37.30 11.80M28.80 12.90 29.80 13.30 31.00 13.20 32.10 13.10 32.00 12.50 31.60 12.10M37.30 11.80 38.40 12.40 38.70 13.60 37.80 14.70 37.60 16.00 38.80 15.90 39.50 17.10 39.90 18.00 40.00 18.20M37.30 11.80 37.00 12.40 36.00 12.80 35.20 13.40 34.60 14.60 34.20 16.00 33.40 16.30 33.20 17.70 32.70 18.00 32.60 18.70M28.10 13.50 28.50 14.00 29.80 14.00 29.90 14.70 31.00 14.80 32.00 14.80 32.40 15.20 32.20 16.00 31.90 16.30 31.60 17.00 31.90 18.00M28.50 14.00 28.10 14.40 28.80 15.00 28.50 15.70 28.80 16.50 28.90 17.40 29.00 18.20M32.20 16.00 32.40 17.00 32.60 18.00M40.00 19.80 38.90 20.30 37.80 21.40 37.60 23.00 38.60 23.80 38.20 24.80 39.10 26.00 39.20 27.10 39.40 29.00 38.80 29.60 38.60 30.00M40.00 18.20 40.00 19.80" fill="none" stroke="#222" stroke-width="0.9" vector-effect="non-scaling-stroke" stroke-linejoin="round"/>
<path d="M32.70 26.50 32.90 27.20 32.80 28.00 32.60 28.60 32.60 29.10M33.50 30.80 33.40 31.10M33.80 32.70 33.90 33.10M36.00 37.10 36.50 37.60M37.20 38.50 37.70 39.10" fill="none" stroke="#111" stroke-width="1.8" stroke-dasharray="3 2" vector-effect="non-scaling-stroke"/>
</svg>
<polygon points="747.97,145.62 749.69,149.76 754.16,150.12 750.76,153.03 751.79,157.38 747.97,155.05 744.15,157.38 745.19,153.03 741.79,150.12 746.25,149.76" fill="#fff"/>
<rect x="592.9" y="71.3" width="318.1" height="305.0" fill="none" stroke="#000" stroke-width="2.6"/>
<path d="M592.9 376.3v9.5M592.9 376.3h-9.5M632.7 376.3v5.5M592.9 338.2h-5.5M672.4 376.3v9.5M592.9 300.1h-9.5M712.2 376.3v5.5M592.9 261.9h-5.5M752.0 376.3v9.5M592.9 223.8h-9.5M791.7 376.3v5.5M592.9 185.7h-5.5M831.5 376.3v9.5M592.9 147.6h-9.5M871.2 376.3v5.5M592.9 109.4h-5.5M911.0 376.3v9.5M592.9 71.3h-9.5" stroke="#000" stroke-width="2.4" fill="none"/>
<text x="592.9" y="409.8" text-anchor="middle" font-size="25.5" textLength="26.5" lengthAdjust="spacingAndGlyphs">60</text>
<text x="672.4" y="409.8" text-anchor="middle" font-size="25.5" textLength="26.5" lengthAdjust="spacingAndGlyphs">70</text>
<text x="752.0" y="409.8" text-anchor="middle" font-size="25.5" textLength="26.5" lengthAdjust="spacingAndGlyphs">80</text>
<text x="831.5" y="409.8" text-anchor="middle" font-size="25.5" textLength="26.5" lengthAdjust="spacingAndGlyphs">90</text>
<text x="911.0" y="409.8" text-anchor="middle" font-size="25.5" textLength="39.8" lengthAdjust="spacingAndGlyphs">100</text>
<text x="578.4" y="385.1" text-anchor="end" font-size="25.5">0</text>
<text x="578.4" y="308.9" text-anchor="end" font-size="25.5">10</text>
<text x="578.4" y="232.6" text-anchor="end" font-size="25.5">20</text>
<text x="578.4" y="156.4" text-anchor="end" font-size="25.5">30</text>
<text x="578.4" y="80.1" text-anchor="end" font-size="25.5">40</text>
<text x="599.6" y="61.5" font-size="25.0" textLength="102.8" lengthAdjust="spacingAndGlyphs">February</text>
<svg x="980.7" y="73.2" width="320.8" height="307.1" viewBox="0 0 40 40" preserveAspectRatio="none" shape-rendering="crispEdges">
<path fill="#0066ff" d="M0 0h4v1h-4zM11 0h4v1h-4zM0 1h4v1h-4zM11 1h4v1h-4zM0 2h4v1h-4zM13 2h2v1h-2zM0 3h4v1h-4zM14 3h1v1h-1zM0 4h4v1h-4zM0 5h4v1h-4zM17 5h2v1h-2zM0 6h4v1h-4zM18 6h2v1h-2zM30 6h10v1h-10zM0 7h4v1h-4zM19 7h1v1h-1zM30 7h10v1h-10zM0 8h4v1h-4zM15 8h2v1h-2zM30 8h1v1h-1zM0 9h5v1h-5zM11 9h4v1h-4zM22 9h7v1h-7zM25 10h3v1h-3zM20 11h1v1h-1zM20 12h1v1h-1zM20 13h1v1h-1zM20 14h1v1h-1zM26 14h2v1h-2zM25 15h4v1h-4zM19 16h1v1h-1zM25 16h1v1h-1zM30 16h1v1h-1zM19 17h1v1h-1zM25 17h1v1h-1zM30 17h4v1h-4zM19 18h1v1h-1zM25 18h1v1h-1zM31 18h3v1h-3zM19 19h1v1h-1zM24 19h1v1h-1zM20 20h4v1h-4zM36 21h4v1h-4zM36 22h4v1h-4zM36 23h4v1h-4zM26 31h3v1h-3zM26 32h4v1h-4zM26 33h4v1h-4zM25 34h10v1h-10zM25 35h1v1h-1zM35 35h2v1h-2zM25 36h1v1h-1zM36 36h4v1h-4zM25 37h1v1h-1zM36 37h4v1h-4zM25 38h1v1h-1zM36 38h4v1h-4zM25 39h1v1h-1zM36 39h4v1h-4z"/><path fill="#007cff" d="M4 0h1v1h-1zM10 0h1v1h-1zM4 1h1v1h-1zM10 1h1v1h-1zM4 2h1v1h-1zM10 2h3v1h-3zM4 3h1v1h-1zM10 3h1v1h-1zM4 4h1v1h-1zM10 4h2v1h-2zM4 5h1v1h-1zM12 5h1v1h-1zM4 6h1v1h-1zM14 6h1v1h-1zM4 7h1v1h-1zM14 7h2v1h-2zM4 8h1v1h-1zM14 8h1v1h-1zM31 8h9v1h-9zM5 9h6v1h-6zM21 9h1v1h-1zM29 9h1v1h-1zM19 10h1v1h-1zM28 10h1v1h-1zM21 12h3v1h-3zM21 13h8v1h-8zM21 14h5v1h-5zM28 14h1v1h-1zM20 15h1v1h-1zM24 15h1v1h-1zM29 15h1v1h-1zM20 16h1v1h-1zM24 16h1v1h-1zM31 16h4v1h-4zM20 17h1v1h-1zM24 17h1v1h-1zM34 17h1v1h-1zM20 18h1v1h-1zM24 18h1v1h-1zM34 18h1v1h-1zM20 19h4v1h-4zM35 19h1v1h-1zM36 20h4v1h-4zM26 35h4v1h-4zM34 35h1v1h-1zM26 36h4v1h-4zM35 36h1v1h-1zM26 37h3v1h-3zM35 37h1v1h-1zM26 38h3v1h-3zM35 38h1v1h-1zM26 39h3v1h-3zM35 39h1v1h-1z"/><path fill="#00a5ff" d="M5 0h1v1h-1zM9 0h1v1h-1zM5 1h1v1h-1zM9 1h1v1h-1zM5 2h1v1h-1zM9 2h1v1h-1zM5 3h1v1h-1zM9 3h1v1h-1zM5 4h1v1h-1zM9 4h1v1h-1zM12 4h1v1h-1zM6 5h4v1h-4zM6 6h4v1h-4zM15 6h1v1h-1zM6 7h4v1h-4zM6 8h3v1h-3zM17 8h1v1h-1zM18 9h1v1h-1zM30 9h1v1h-1zM29 10h1v1h-1zM21 11h1v1h-1zM24 12h1v1h-1zM29 14h1v1h-1zM30 15h1v1h-1zM35 16h1v1h-1zM36 17h4v1h-4zM36 18h4v1h-4zM31 36h3v1h-3zM31 37h3v1h-3zM31 38h3v1h-3zM31 39h3v1h-3z"/><path fill="#00b9ff" d="M6 0h3v1h-3zM6 1h3v1h-3zM6 2h3v1h-3zM6 3h3v1h-3zM11 3h3v1h-3zM6 4h3v1h-3zM13 4h2v1h-2zM14 5h1v1h-1zM16 5h1v1h-1zM19 8h1v1h-1zM31 9h3v1h-3zM23 10h1v1h-1zM31 15h3v1h-3zM36 16h4v1h-4z"/><path fill="#0050ff" d="M15 0h4v1h-4zM15 1h4v1h-4zM15 2h4v1h-4zM15 3h4v1h-4zM16 4h4v1h-4zM19 5h2v1h-2zM30 5h10v1h-10zM20 6h10v1h-10zM20 7h10v1h-10zM20 8h10v1h-10zM15 9h3v1h-3zM0 10h9v1h-9zM0 11h5v1h-5zM0 12h4v1h-4zM0 13h4v1h-4zM19 15h1v1h-1zM16 16h3v1h-3zM26 16h4v1h-4zM16 17h3v1h-3zM26 17h4v1h-4zM16 18h3v1h-3zM26 18h5v1h-5zM16 19h3v1h-3zM25 19h1v1h-1zM34 19h1v1h-1zM16 20h4v1h-4zM24 20h1v1h-1zM35 20h1v1h-1zM16 21h8v1h-8zM16 22h8v1h-8zM16 23h8v1h-8zM16 24h4v1h-4zM36 24h4v1h-4zM16 25h3v1h-3zM16 26h3v1h-3zM16 27h3v1h-3zM16 28h3v1h-3zM25 31h1v1h-1zM29 31h6v1h-6zM24 32h2v1h-2zM30 32h5v1h-5zM24 33h2v1h-2zM30 33h5v1h-5zM35 34h5v1h-5zM37 35h3v1h-3z"/><path fill="#1238ff" d="M19 0h2v1h-2zM19 1h2v1h-2zM19 2h2v1h-2zM19 3h2v1h-2zM20 4h4v1h-4zM35 4h5v1h-5zM21 5h9v1h-9zM9 10h6v1h-6zM5 11h1v1h-1zM4 12h2v1h-2zM4 13h1v1h-1zM19 14h1v1h-1zM16 15h3v1h-3zM15 16h1v1h-1zM15 17h1v1h-1zM15 18h1v1h-1zM15 19h1v1h-1zM26 19h8v1h-8zM15 20h1v1h-1zM15 21h1v1h-1zM24 21h1v1h-1zM35 21h1v1h-1zM15 22h1v1h-1zM24 22h1v1h-1zM35 22h1v1h-1zM15 23h1v1h-1zM24 23h1v1h-1zM35 23h1v1h-1zM15 24h1v1h-1zM20 24h4v1h-4zM35 24h1v1h-1zM15 25h1v1h-1zM19 25h1v1h-1zM36 25h4v1h-4zM15 26h1v1h-1zM19 26h1v1h-1zM15 27h1v1h-1zM19 27h1v1h-1zM15 28h1v1h-1zM19 28h1v1h-1zM16 29h4v1h-4zM17 30h3v1h-3zM24 30h16v1h-16zM20 31h5v1h-5zM35 31h5v1h-5zM20 32h4v1h-4zM35 32h5v1h-5zM20 33h4v1h-4zM35 33h5v1h-5zM21 34h4v1h-4zM24 35h1v1h-1zM24 36h1v1h-1zM24 37h1v1h-1zM24 38h1v1h-1zM24 39h1v1h-1z"/><path fill="#2420ff" d="M21 0h4v1h-4zM35 0h5v1h-5zM21 1h4v1h-4zM35 1h5v1h-5zM21 2h4v1h-4zM35 2h5v1h-5zM21 3h4v1h-4zM35 3h5v1h-5zM24 4h11v1h-11zM15 10h4v1h-4zM6 11h5v1h-5zM19 11h1v1h-1zM6 12h4v1h-4zM19 12h1v1h-1zM5 13h5v1h-5zM19 13h1v1h-1zM0 14h5v1h-5zM15 14h4v1h-4zM15 15h1v1h-1zM25 20h1v1h-1zM34 20h1v1h-1zM24 24h1v1h-1zM20 25h4v1h-4zM35 25h1v1h-1zM20 26h1v1h-1zM36 26h4v1h-4zM20 27h1v1h-1zM36 27h4v1h-4zM20 28h1v1h-1zM36 28h4v1h-4zM15 29h1v1h-1zM20 29h4v1h-4zM35 29h5v1h-5zM15 30h2v1h-2zM20 30h4v1h-4zM16 31h4v1h-4zM16 32h4v1h-4zM16 33h4v1h-4zM19 34h2v1h-2zM20 35h4v1h-4zM21 36h3v1h-3zM21 37h3v1h-3zM21 38h3v1h-3zM21 39h3v1h-3z"/><path fill="#3710ff" d="M25 0h10v1h-10zM25 1h10v1h-10zM25 2h10v1h-10zM25 3h10v1h-10zM11 11h8v1h-8zM10 12h9v1h-9zM10 13h9v1h-9zM5 14h10v1h-10zM14 15h1v1h-1zM14 16h1v1h-1zM14 17h1v1h-1zM14 18h1v1h-1zM14 19h1v1h-1zM14 20h1v1h-1zM26 20h1v1h-1zM30 20h4v1h-4zM25 21h1v1h-1zM34 21h1v1h-1zM34 22h1v1h-1zM34 23h1v1h-1zM24 25h1v1h-1zM21 26h4v1h-4zM35 26h1v1h-1zM21 27h3v1h-3zM35 27h1v1h-1zM21 28h4v1h-4zM35 28h1v1h-1zM24 29h6v1h-6zM34 29h1v1h-1zM14 30h1v1h-1zM14 31h2v1h-2zM14 32h2v1h-2zM14 33h2v1h-2zM15 34h4v1h-4zM19 35h1v1h-1zM20 36h1v1h-1zM20 37h1v1h-1zM20 38h1v1h-1zM20 39h1v1h-1z"/><path fill="#0091ff" d="M15 4h1v1h-1zM5 5h1v1h-1zM10 5h2v1h-2zM13 5h1v1h-1zM5 6h1v1h-1zM10 6h4v1h-4zM5 7h1v1h-1zM10 7h4v1h-4zM16 7h1v1h-1zM5 8h1v1h-1zM9 8h5v1h-5zM24 10h1v1h-1zM21 15h3v1h-3zM21 16h3v1h-3zM21 17h3v1h-3zM35 17h1v1h-1zM21 18h3v1h-3zM35 18h1v1h-1zM36 19h4v1h-4zM30 35h4v1h-4zM30 36h1v1h-1zM34 36h1v1h-1zM29 37h2v1h-2zM34 37h1v1h-1zM29 38h2v1h-2zM34 38h1v1h-1zM29 39h2v1h-2zM34 39h1v1h-1z"/><path fill="#00d3ff" d="M15 5h1v1h-1zM16 6h2v1h-2zM17 7h2v1h-2zM18 8h1v1h-1zM19 9h2v1h-2zM34 9h2v1h-2zM20 10h1v1h-1zM29 13h1v1h-1zM34 15h1v1h-1z"/><path fill="#00edff" d="M36 9h4v1h-4zM21 10h2v1h-2zM22 11h3v1h-3zM25 12h1v1h-1z"/><path fill="#00feb0" d="M30 10h1v1h-1zM26 11h1v1h-1zM26 12h1v1h-1zM30 14h1v1h-1zM36 15h4v1h-4z"/><path fill="#00ff32" d="M31 10h1v1h-1zM29 11h1v1h-1zM28 12h1v1h-1zM31 14h1v1h-1z"/><path fill="#00ff00" d="M32 10h8v1h-8zM30 11h4v1h-4zM29 12h5v1h-5zM30 13h4v1h-4zM32 14h4v1h-4z"/><path fill="#00fbe5" d="M25 11h1v1h-1zM35 15h1v1h-1z"/><path fill="#00ff75" d="M27 11h2v1h-2zM27 12h1v1h-1z"/><path fill="#c5f000" d="M34 11h1v1h-1z"/><path fill="#f4e600" d="M35 11h1v1h-1zM35 12h1v1h-1z"/><path fill="#ffcd00" d="M36 11h1v1h-1zM36 12h1v1h-1zM35 13h1v1h-1z"/><path fill="#ffb200" d="M37 11h3v1h-3zM37 12h1v1h-1zM36 13h2v1h-2z"/><path fill="#78f000" d="M34 12h1v1h-1zM34 13h1v1h-1zM36 14h4v1h-4z"/><path fill="#ff9800" d="M38 12h1v1h-1zM38 13h1v1h-1z"/><path fill="#ff8200" d="M39 12h1v1h-1zM39 13h1v1h-1z"/><path fill="#4b08ff" d="M0 15h5v1h-5zM10 15h4v1h-4zM10 16h4v1h-4zM11 17h3v1h-3zM11 18h3v1h-3zM11 19h3v1h-3zM27 20h3v1h-3zM14 21h1v1h-1zM14 22h1v1h-1zM25 22h1v1h-1zM14 23h1v1h-1zM25 23h1v1h-1zM14 24h1v1h-1zM25 24h1v1h-1zM34 24h1v1h-1zM14 25h1v1h-1zM25 25h1v1h-1zM34 25h1v1h-1zM14 26h1v1h-1zM25 26h1v1h-1zM34 26h1v1h-1zM14 27h1v1h-1zM24 27h2v1h-2zM34 27h1v1h-1zM14 28h1v1h-1zM25 28h1v1h-1zM34 28h1v1h-1zM14 29h1v1h-1zM30 29h4v1h-4zM11 30h3v1h-3zM0 31h5v1h-5zM10 31h4v1h-4zM0 32h5v1h-5zM10 32h4v1h-4zM0 33h5v1h-5zM10 33h4v1h-4zM0 34h5v1h-5zM10 34h5v1h-5zM0 35h19v1h-19zM0 36h15v1h-15zM19 36h1v1h-1zM0 37h15v1h-15zM19 37h1v1h-1zM0 38h15v1h-15zM19 38h1v1h-1zM0 39h15v1h-15zM19 39h1v1h-1z"/><path fill="#5f00ff" d="M5 15h5v1h-5zM9 16h1v1h-1zM9 17h2v1h-2zM10 18h1v1h-1zM10 19h1v1h-1zM10 20h4v1h-4zM11 21h3v1h-3zM26 21h8v1h-8zM11 22h3v1h-3zM26 22h8v1h-8zM11 23h3v1h-3zM26 23h8v1h-8zM11 24h3v1h-3zM26 24h8v1h-8zM11 25h3v1h-3zM26 25h8v1h-8zM11 26h3v1h-3zM26 26h8v1h-8zM11 27h3v1h-3zM26 27h8v1h-8zM11 28h3v1h-3zM26 28h8v1h-8zM10 29h4v1h-4zM0 30h6v1h-6zM9 30h2v1h-2zM5 31h5v1h-5zM5 32h5v1h-5zM5 33h5v1h-5zM5 34h5v1h-5zM15 36h4v1h-4zM15 37h4v1h-4zM15 38h4v1h-4zM15 39h4v1h-4z"/><path fill="#7100ff" d="M0 16h9v1h-9zM0 17h9v1h-9zM0 18h10v1h-10zM8 19h2v1h-2zM10 21h1v1h-1zM10 22h1v1h-1zM10 23h1v1h-1zM10 24h1v1h-1zM10 25h1v1h-1zM9 26h2v1h-2zM9 27h2v1h-2zM9 28h2v1h-2zM6 29h4v1h-4zM6 30h3v1h-3z"/><path fill="#8300ff" d="M0 19h8v1h-8zM0 20h10v1h-10zM9 21h1v1h-1zM9 22h1v1h-1zM9 23h1v1h-1zM9 24h1v1h-1zM5 25h5v1h-5zM5 26h4v1h-4zM5 27h4v1h-4zM5 28h4v1h-4zM0 29h6v1h-6z"/><path fill="#9300ff" d="M0 21h9v1h-9zM0 22h9v1h-9zM0 23h9v1h-9zM0 24h9v1h-9zM0 25h5v1h-5zM0 26h5v1h-5zM0 27h5v1h-5zM0 28h5v1h-5z"/>
</svg>
<svg x="980.7" y="73.2" width="320.8" height="307.1" viewBox="0 0 40 40" preserveAspectRatio="none">
<path d="M0.00 14.65 1.00 14.85 1.60 14.80 2.30 14.85 3.50 14.75 4.50 14.75 5.50 14.65 6.40 14.55 6.70 15.00 7.00 15.20 7.30 15.60 7.50 16.10 8.20 16.40 8.60 16.70 9.00 17.20 9.80 17.10 10.30 17.10 9.60 17.60 9.00 17.70 9.40 18.30 10.00 18.90 10.80 19.30 11.50 19.10 12.10 18.80 12.30 18.30 12.60 17.70 12.90 18.20 12.60 18.70 12.90 19.50 12.80 20.40 12.90 21.00 13.10 21.80 13.30 22.70 13.50 23.60 13.80 24.40 14.10 25.10 14.40 25.80 14.70 26.70 14.80 27.40 15.20 28.00 15.60 28.60 15.90 29.20 16.20 30.00 16.40 30.70 16.80 31.30 17.30 31.80 17.60 31.90 18.10 31.50 18.20 31.10 18.40 30.80 19.00 30.70 19.30 30.30 19.60 29.70 19.85 29.65 19.80 29.00 19.80 28.40 20.10 27.60 20.30 26.70 20.20 26.00 20.10 25.30 20.20 24.60 20.50 24.10 21.00 23.80 21.50 23.60 22.20 23.40 22.30 23.00 22.90 22.70 23.50 22.20 24.10 21.70 24.70 21.00 25.20 20.50 25.90 20.20 26.40 20.00 26.90 19.40 27.00 18.80 27.20 18.50 27.90 18.30 28.30 18.40 28.80 18.40 29.20 18.30 29.80 18.10 30.30 18.10 30.70 17.70 31.00 17.30 31.50 17.40 31.90 18.00 32.00 18.70 32.30 19.30 32.70 19.80 33.10 20.10 33.60 20.70 33.90 21.20 34.30 21.80 34.50 22.60 34.60 23.40 34.30 24.00 34.80 24.20 35.30 24.30 35.90 24.00 36.40 23.60 36.90 23.00 37.40 23.40 37.70 24.00 37.80 25.00 38.00 25.80 38.30 26.60 38.60 27.50 38.70 28.40 38.50 29.40 38.30 30.40 38.40 31.40 38.30 32.00 38.70 32.10 39.10 32.60 39.60 33.10 40.00 33.50M40.00 26.50 39.80 27.40 39.50 28.40 39.20 29.40 39.20 30.40 39.80 30.80 40.00 31.00M19.90 30.20 20.30 30.20 20.80 30.80 21.20 31.50 21.40 32.00 21.80 32.60 21.90 33.20 21.60 33.60 21.10 33.90 20.60 34.05 20.10 33.80 19.90 33.20 19.80 32.40 19.80 31.80 19.90 31.10 19.70 30.50 19.90 30.20M35.30 34.40 36.00 34.70 36.80 34.80 37.50 34.80 38.00 35.40 38.60 36.10 39.30 36.70 40.00 37.20M35.30 34.40 35.20 34.90 35.60 35.40 36.20 36.00 36.90 36.60 37.60 37.30 38.30 38.00 38.90 38.50 39.30 39.20 39.70 40.00" fill="none" stroke="#111" stroke-width="1.1" vector-effect="non-scaling-stroke" stroke-linejoin="round"/>
<path d="M1.00 0.00 2.30 0.60 3.60 1.10 4.60 1.70 5.70 2.20 6.50 2.60M1.20 4.40 2.30 4.70 3.10 4.10 4.50 3.70 5.60 2.80 6.60 2.60 7.80 2.80 8.90 2.70 9.50 2.40 10.30 2.00 11.40 2.10 11.60 2.90 12.60 3.00 13.80 2.60 14.90 2.80M1.20 4.40 0.70 5.60 0.90 6.50 0.60 7.50 1.30 8.60 1.70 8.70 0.90 10.20 1.40 10.60 1.80 11.40 2.60 11.70 2.80 12.70 3.30 12.90 3.20 13.40 2.30 13.60 1.80 14.10 1.60 14.80M0.90 10.20 2.50 10.60 4.00 10.50 5.00 10.40 6.30 10.10 6.50 9.00 7.80 8.50 8.80 8.30 9.30 8.00 9.50 7.00 10.00 6.20 11.10 5.70 11.50 5.00 11.50 4.00 12.40 3.40 13.60 3.10 14.90 2.80M8.40 16.30 9.30 15.80 10.50 15.70 11.00 15.40 10.80 14.60 10.30 14.20 10.00 13.50 9.60 12.90 10.30 12.10 11.30 12.10 12.00 11.80 12.90 11.00 13.40 10.10 13.90 9.60 14.60 9.00 14.60 8.10 15.00 7.50 14.40 6.90 14.00 6.50 14.00 5.90 13.90 5.40 14.70 5.00 15.80 4.60 17.00 4.50M14.90 2.80 15.20 3.20 16.20 3.90 17.00 4.50 18.10 4.50 19.00 5.60 18.70 6.50 18.90 7.60 18.60 8.20 19.30 9.00 20.20 9.40 21.00 9.80M20.20 9.60 21.10 9.90 22.10 9.70 23.30 10.50 24.20 10.80 25.10 11.30 26.00 12.00 27.00 12.10 28.10 12.10M20.10 10.00 20.10 11.20 21.00 11.60 22.00 12.10 23.30 12.60 24.50 12.60 25.20 13.20 26.00 13.40 27.20 13.60 28.10 13.50 28.10 12.10M28.10 12.10 28.80 11.90 29.50 11.80 30.50 12.00 31.60 12.10 32.50 12.10 33.40 11.50 34.30 10.90 35.30 10.90 36.20 10.60 36.80 11.40 37.30 11.80M28.80 12.90 29.80 13.30 31.00 13.20 32.10 13.10 32.00 12.50 31.60 12.10M37.30 11.80 38.40 12.40 38.70 13.60 37.80 14.70 37.60 16.00 38.80 15.90 39.50 17.10 39.90 18.00 40.00 18.20M37.30 11.80 37.00 12.40 36.00 12.80 35.20 13.40 34.60 14.60 34.20 16.00 33.40 16.30 33.20 17.70 32.70 18.00 32.60 18.70M28.10 13.50 28.50 14.00 29.80 14.00 29.90 14.70 31.00 14.80 32.00 14.80 32.40 15.20 32.20 16.00 31.90 16.30 31.60 17.00 31.90 18.00M28.50 14.00 28.10 14.40 28.80 15.00 28.50 15.70 28.80 16.50 28.90 17.40 29.00 18.20M32.20 16.00 32.40 17.00 32.60 18.00M40.00 19.80 38.90 20.30 37.80 21.40 37.60 23.00 38.60 23.80 38.20 24.80 39.10 26.00 39.20 27.10 39.40 29.00 38.80 29.60 38.60 30.00M40.00 18.20 40.00 19.80" fill="none" stroke="#222" stroke-width="0.9" vector-effect="non-scaling-stroke" stroke-linejoin="round"/>
<path d="M32.70 26.50 32.90 27.20 32.80 28.00 32.60 28.60 32.60 29.10M33.50 30.80 33.40 31.10M33.80 32.70 33.90 33.10M36.00 37.10 36.50 37.60M37.20 38.50 37.70 39.10" fill="none" stroke="#111" stroke-width="1.8" stroke-dasharray="3 2" vector-effect="non-scaling-stroke"/>
</svg>
<polygon points="1137.09,148.08 1138.81,152.22 1143.27,152.57 1139.87,155.49 1140.91,159.84 1137.09,157.51 1133.27,159.84 1134.31,155.49 1130.91,152.57 1135.37,152.22" fill="#fff"/>
<rect x="980.7" y="73.2" width="320.8" height="307.1" fill="none" stroke="#000" stroke-width="2.6"/>
<path d="M980.7 380.3v9.5M980.7 380.3h-9.5M1020.8 380.3v5.5M980.7 341.9h-5.5M1060.9 380.3v9.5M980.7 303.5h-9.5M1101.0 380.3v5.5M980.7 265.1h-5.5M1141.1 380.3v9.5M980.7 226.8h-9.5M1181.2 380.3v5.5M980.7 188.4h-5.5M1221.3 380.3v9.5M980.7 150.0h-9.5M1261.4 380.3v5.5M980.7 111.6h-5.5M1301.5 380.3v9.5M980.7 73.2h-9.5" stroke="#000" stroke-width="2.4" fill="none"/>
<text x="980.7" y="413.8" text-anchor="middle" font-size="25.5" textLength="26.5" lengthAdjust="spacingAndGlyphs">60</text>
<text x="1060.9" y="413.8" text-anchor="middle" font-size="25.5" textLength="26.5" lengthAdjust="spacingAndGlyphs">70</text>
<text x="1141.1" y="413.8" text-anchor="middle" font-size="25.5" textLength="26.5" lengthAdjust="spacingAndGlyphs">80</text>
<text x="1221.3" y="413.8" text-anchor="middle" font-size="25.5" textLength="26.5" lengthAdjust="spacingAndGlyphs">90</text>
<text x="1301.5" y="413.8" text-anchor="middle" font-size="25.5" textLength="39.8" lengthAdjust="spacingAndGlyphs">100</text>
<text x="966.2" y="389.1" text-anchor="end" font-size="25.5">0</text>
<text x="966.2" y="312.3" text-anchor="end" font-size="25.5">10</text>
<text x="966.2" y="235.6" text-anchor="end" font-size="25.5">20</text>
<text x="966.2" y="158.8" text-anchor="end" font-size="25.5">30</text>
<text x="966.2" y="82.0" text-anchor="end" font-size="25.5">40</text>
<text x="981.8" y="63.3" font-size="25.0" textLength="72.0" lengthAdjust="spacingAndGlyphs">March</text>
<svg x="1366.2" y="72.1" width="322.1" height="307.4" viewBox="0 0 40 40" preserveAspectRatio="none" shape-rendering="crispEdges">
<path fill="#0091ff" d="M0 0h4v1h-4zM11 0h3v1h-3zM0 1h4v1h-4zM11 1h3v1h-3zM0 2h4v1h-4zM11 2h3v1h-3zM0 3h4v1h-4zM0 4h4v1h-4zM11 4h1v1h-1zM15 4h1v1h-1zM3 5h1v1h-1zM11 5h1v1h-1zM4 9h1v1h-1zM10 9h1v1h-1zM21 9h1v1h-1zM29 9h1v1h-1zM5 10h1v1h-1zM24 10h1v1h-1zM28 10h1v1h-1zM9 11h1v1h-1zM9 12h1v1h-1zM24 12h1v1h-1zM6 13h1v1h-1zM8 13h1v1h-1zM26 13h3v1h-3zM28 14h1v1h-1zM21 15h4v1h-4zM20 16h1v1h-1zM24 16h1v1h-1zM29 16h1v1h-1zM20 17h1v1h-1zM24 17h1v1h-1zM29 17h1v1h-1zM20 18h1v1h-1zM24 18h1v1h-1zM29 18h1v1h-1zM21 19h3v1h-3zM26 31h4v1h-4zM26 32h4v1h-4zM26 33h4v1h-4zM25 34h2v1h-2zM28 34h2v1h-2zM30 35h1v1h-1zM24 36h1v1h-1zM30 36h1v1h-1zM24 37h1v1h-1zM30 37h1v1h-1zM24 38h1v1h-1zM30 38h1v1h-1zM24 39h1v1h-1zM30 39h1v1h-1z"/><path fill="#00a5ff" d="M4 0h1v1h-1zM10 0h1v1h-1zM4 1h1v1h-1zM10 1h1v1h-1zM4 2h1v1h-1zM10 2h1v1h-1zM4 3h1v1h-1zM10 3h4v1h-4zM4 4h1v1h-1zM10 4h1v1h-1zM12 4h1v1h-1zM4 5h1v1h-1zM10 5h1v1h-1zM4 6h1v1h-1zM10 6h1v1h-1zM15 6h1v1h-1zM4 7h1v1h-1zM10 7h1v1h-1zM4 8h1v1h-1zM10 8h1v1h-1zM17 8h1v1h-1zM30 9h1v1h-1zM9 10h1v1h-1zM19 10h1v1h-1zM6 11h3v1h-3zM21 11h1v1h-1zM6 12h3v1h-3zM7 13h1v1h-1zM29 15h1v1h-1zM21 16h3v1h-3zM21 17h3v1h-3zM21 18h3v1h-3zM30 19h1v1h-1zM27 34h1v1h-1zM25 35h5v1h-5zM25 36h1v1h-1zM29 36h1v1h-1zM25 37h1v1h-1zM29 37h1v1h-1zM25 38h1v1h-1zM29 38h1v1h-1zM25 39h1v1h-1zM29 39h1v1h-1z"/><path fill="#00b9ff" d="M5 0h1v1h-1zM9 0h1v1h-1zM5 1h1v1h-1zM9 1h1v1h-1zM5 2h1v1h-1zM9 2h1v1h-1zM5 3h1v1h-1zM9 3h1v1h-1zM13 4h2v1h-2zM14 5h3v1h-3zM18 9h1v1h-1zM31 9h2v1h-2zM6 10h3v1h-3zM29 10h1v1h-1zM31 19h9v1h-9zM26 36h3v1h-3zM26 37h3v1h-3zM26 38h3v1h-3zM26 39h3v1h-3z"/><path fill="#00d3ff" d="M6 0h3v1h-3zM6 1h3v1h-3zM6 2h3v1h-3zM6 3h3v1h-3zM5 4h1v1h-1zM9 4h1v1h-1zM16 6h2v1h-2zM17 7h2v1h-2zM19 8h1v1h-1zM5 9h1v1h-1zM9 9h1v1h-1zM33 9h2v1h-2zM23 10h1v1h-1zM29 14h1v1h-1zM30 16h1v1h-1zM30 17h1v1h-1zM36 17h4v1h-4zM30 18h1v1h-1zM35 18h5v1h-5z"/><path fill="#007cff" d="M14 0h2v1h-2zM14 1h2v1h-2zM14 2h2v1h-2zM14 3h2v1h-2zM0 5h3v1h-3zM12 5h2v1h-2zM0 6h4v1h-4zM11 6h3v1h-3zM0 7h4v1h-4zM11 7h3v1h-3zM16 7h1v1h-1zM0 8h4v1h-4zM11 8h3v1h-3zM31 8h9v1h-9zM26 9h3v1h-3zM25 10h3v1h-3zM5 11h1v1h-1zM5 12h1v1h-1zM5 13h1v1h-1zM9 13h1v1h-1zM25 13h1v1h-1zM25 14h3v1h-3zM20 15h1v1h-1zM25 15h4v1h-4zM25 16h1v1h-1zM25 17h1v1h-1zM25 18h1v1h-1zM20 19h1v1h-1zM24 19h1v1h-1zM35 20h5v1h-5zM16 21h3v1h-3zM16 22h3v1h-3zM16 23h3v1h-3zM26 30h4v1h-4zM25 31h1v1h-1zM30 31h4v1h-4zM25 32h1v1h-1zM30 32h4v1h-4zM25 33h1v1h-1zM30 33h4v1h-4zM30 34h4v1h-4zM23 35h2v1h-2zM31 35h3v1h-3zM21 36h3v1h-3zM31 36h3v1h-3zM21 37h3v1h-3zM31 37h3v1h-3zM21 38h3v1h-3zM31 38h3v1h-3zM21 39h3v1h-3zM31 39h3v1h-3z"/><path fill="#0066ff" d="M16 0h3v1h-3zM16 1h3v1h-3zM16 2h3v1h-3zM16 3h3v1h-3zM16 4h3v1h-3zM14 6h1v1h-1zM20 6h20v1h-20zM14 7h2v1h-2zM20 7h20v1h-20zM14 8h2v1h-2zM20 8h11v1h-11zM0 9h4v1h-4zM11 9h4v1h-4zM22 9h4v1h-4zM10 10h1v1h-1zM10 11h1v1h-1zM24 13h1v1h-1zM6 14h4v1h-4zM20 14h5v1h-5zM19 15h1v1h-1zM19 16h1v1h-1zM26 16h3v1h-3zM19 17h1v1h-1zM26 17h3v1h-3zM19 18h1v1h-1zM26 18h3v1h-3zM17 19h3v1h-3zM25 19h1v1h-1zM29 19h1v1h-1zM16 20h8v1h-8zM34 20h1v1h-1zM19 21h2v1h-2zM36 21h4v1h-4zM19 22h2v1h-2zM36 22h4v1h-4zM19 23h1v1h-1zM36 23h4v1h-4zM16 24h4v1h-4zM26 29h4v1h-4zM25 30h1v1h-1zM30 30h4v1h-4zM24 31h1v1h-1zM34 31h1v1h-1zM24 32h1v1h-1zM34 32h1v1h-1zM24 33h1v1h-1zM34 33h1v1h-1zM21 34h4v1h-4zM34 34h1v1h-1zM20 35h3v1h-3zM34 35h1v1h-1zM19 36h2v1h-2zM34 36h2v1h-2zM19 37h2v1h-2zM34 37h2v1h-2zM19 38h2v1h-2zM34 38h2v1h-2zM19 39h2v1h-2zM34 39h2v1h-2z"/><path fill="#0050ff" d="M19 0h1v1h-1zM19 1h1v1h-1zM19 2h1v1h-1zM19 3h1v1h-1zM19 4h1v1h-1zM17 5h23v1h-23zM18 6h2v1h-2zM19 7h1v1h-1zM16 8h1v1h-1zM15 9h3v1h-3zM4 10h1v1h-1zM11 10h8v1h-8zM15 11h6v1h-6zM10 12h1v1h-1zM15 12h9v1h-9zM10 13h1v1h-1zM15 13h9v1h-9zM5 14h1v1h-1zM15 14h5v1h-5zM15 15h4v1h-4zM16 16h3v1h-3zM16 17h3v1h-3zM16 18h3v1h-3zM15 19h2v1h-2zM26 19h3v1h-3zM15 20h1v1h-1zM24 20h1v1h-1zM30 20h4v1h-4zM15 21h1v1h-1zM21 21h3v1h-3zM35 21h1v1h-1zM15 22h1v1h-1zM21 22h3v1h-3zM35 22h1v1h-1zM15 23h1v1h-1zM20 23h4v1h-4zM35 23h1v1h-1zM15 24h1v1h-1zM20 24h1v1h-1zM36 24h4v1h-4zM16 25h3v1h-3zM26 26h4v1h-4zM26 27h4v1h-4zM26 28h4v1h-4zM25 29h1v1h-1zM30 29h4v1h-4zM16 30h4v1h-4zM24 30h1v1h-1zM34 30h1v1h-1zM15 31h9v1h-9zM35 31h1v1h-1zM15 32h9v1h-9zM35 32h1v1h-1zM15 33h9v1h-9zM35 33h1v1h-1zM15 34h6v1h-6zM35 34h1v1h-1zM15 35h5v1h-5zM35 35h5v1h-5zM15 36h4v1h-4zM36 36h4v1h-4zM15 37h4v1h-4zM36 37h4v1h-4zM15 38h4v1h-4zM36 38h4v1h-4zM15 39h4v1h-4zM36 39h4v1h-4z"/><path fill="#2420ff" d="M20 0h1v1h-1zM25 0h15v1h-15zM20 1h1v1h-1zM25 1h15v1h-15zM20 2h1v1h-1zM25 2h15v1h-15zM20 3h1v1h-1zM25 3h15v1h-15zM21 4h4v1h-4zM0 10h3v1h-3zM4 14h1v1h-1zM7 15h7v1h-7zM11 16h3v1h-3zM11 17h3v1h-3zM11 18h3v1h-3zM13 19h2v1h-2zM14 20h1v1h-1zM26 20h3v1h-3zM14 21h1v1h-1zM25 21h1v1h-1zM33 21h2v1h-2zM14 22h1v1h-1zM25 22h1v1h-1zM34 22h1v1h-1zM14 23h1v1h-1zM25 23h1v1h-1zM34 23h1v1h-1zM25 24h10v1h-10zM20 25h5v1h-5zM31 25h3v1h-3zM15 26h1v1h-1zM20 26h1v1h-1zM24 26h1v1h-1zM35 26h5v1h-5zM15 27h1v1h-1zM19 27h2v1h-2zM24 27h1v1h-1zM35 27h5v1h-5zM15 28h1v1h-1zM20 28h1v1h-1zM24 28h1v1h-1zM35 28h5v1h-5zM15 29h1v1h-1zM20 29h4v1h-4zM36 29h4v1h-4zM11 30h4v1h-4zM10 31h1v1h-1zM9 32h2v1h-2zM9 33h2v1h-2zM9 34h1v1h-1zM6 35h4v1h-4zM5 36h5v1h-5zM5 37h5v1h-5zM5 38h5v1h-5zM5 39h5v1h-5z"/><path fill="#3710ff" d="M21 0h4v1h-4zM21 1h4v1h-4zM21 2h4v1h-4zM21 3h4v1h-4zM0 11h4v1h-4zM0 12h4v1h-4zM0 13h4v1h-4zM5 15h2v1h-2zM10 16h1v1h-1zM10 17h1v1h-1zM10 18h1v1h-1zM10 19h3v1h-3zM12 20h2v1h-2zM26 21h7v1h-7zM26 22h8v1h-8zM26 23h8v1h-8zM14 24h1v1h-1zM14 25h1v1h-1zM21 26h3v1h-3zM21 27h3v1h-3zM21 28h3v1h-3zM14 29h1v1h-1zM9 30h2v1h-2zM5 31h5v1h-5zM5 32h4v1h-4zM5 33h4v1h-4zM4 34h5v1h-5zM0 35h6v1h-6zM0 36h5v1h-5zM0 37h5v1h-5zM0 38h5v1h-5zM0 39h5v1h-5z"/><path fill="#00edff" d="M6 4h3v1h-3zM5 5h1v1h-1zM9 5h1v1h-1zM5 6h1v1h-1zM9 6h1v1h-1zM5 7h1v1h-1zM9 7h1v1h-1zM5 8h1v1h-1zM9 8h1v1h-1zM18 8h1v1h-1zM6 9h1v1h-1zM8 9h1v1h-1zM19 9h2v1h-2zM35 9h5v1h-5zM29 13h1v1h-1zM35 16h5v1h-5zM34 17h2v1h-2zM31 18h1v1h-1zM33 18h2v1h-2z"/><path fill="#1238ff" d="M20 4h1v1h-1zM25 4h15v1h-15zM3 10h1v1h-1zM4 11h1v1h-1zM11 11h4v1h-4zM4 12h1v1h-1zM11 12h4v1h-4zM4 13h1v1h-1zM11 13h4v1h-4zM10 14h5v1h-5zM14 15h1v1h-1zM14 16h2v1h-2zM14 17h2v1h-2zM14 18h2v1h-2zM25 20h1v1h-1zM29 20h1v1h-1zM24 21h1v1h-1zM24 22h1v1h-1zM24 23h1v1h-1zM21 24h4v1h-4zM35 24h1v1h-1zM15 25h1v1h-1zM19 25h1v1h-1zM25 25h6v1h-6zM34 25h6v1h-6zM16 26h4v1h-4zM25 26h1v1h-1zM30 26h5v1h-5zM16 27h3v1h-3zM25 27h1v1h-1zM30 27h5v1h-5zM16 28h4v1h-4zM25 28h1v1h-1zM30 28h5v1h-5zM16 29h4v1h-4zM24 29h1v1h-1zM34 29h2v1h-2zM15 30h1v1h-1zM20 30h4v1h-4zM35 30h5v1h-5zM11 31h4v1h-4zM36 31h4v1h-4zM11 32h4v1h-4zM36 32h4v1h-4zM11 33h4v1h-4zM36 33h4v1h-4zM10 34h5v1h-5zM36 34h4v1h-4zM10 35h5v1h-5zM10 36h5v1h-5zM10 37h5v1h-5zM10 38h5v1h-5zM10 39h5v1h-5z"/><path fill="#00fbe5" d="M6 5h3v1h-3zM7 9h1v1h-1zM20 10h3v1h-3zM22 11h1v1h-1zM25 12h1v1h-1zM30 15h1v1h-1zM31 16h4v1h-4zM31 17h3v1h-3zM32 18h1v1h-1z"/><path fill="#00feb0" d="M6 6h3v1h-3zM6 7h3v1h-3zM6 8h3v1h-3zM23 11h2v1h-2z"/><path fill="#00ff75" d="M30 10h1v1h-1zM25 11h1v1h-1zM31 15h2v1h-2z"/><path fill="#00ff00" d="M31 10h5v1h-5zM27 11h1v1h-1zM29 11h4v1h-4zM27 12h6v1h-6zM30 13h2v1h-2zM31 14h4v1h-4z"/><path fill="#78f000" d="M36 10h4v1h-4zM33 11h1v1h-1zM33 12h1v1h-1zM32 13h2v1h-2zM35 14h1v1h-1z"/><path fill="#00ff32" d="M26 11h1v1h-1zM28 11h1v1h-1zM26 12h1v1h-1zM30 14h1v1h-1zM33 15h7v1h-7z"/><path fill="#c5f000" d="M34 11h1v1h-1zM34 12h1v1h-1zM34 13h1v1h-1zM36 14h4v1h-4z"/><path fill="#f4e600" d="M35 11h1v1h-1z"/><path fill="#ffcd00" d="M36 11h1v1h-1zM35 12h2v1h-2z"/><path fill="#ffb200" d="M37 11h1v1h-1zM37 12h1v1h-1zM35 13h1v1h-1z"/><path fill="#ff9800" d="M38 11h2v1h-2zM38 12h1v1h-1zM36 13h3v1h-3z"/><path fill="#ff8200" d="M39 12h1v1h-1zM39 13h1v1h-1z"/><path fill="#4b08ff" d="M0 14h4v1h-4zM4 15h1v1h-1zM9 16h1v1h-1zM9 17h1v1h-1zM9 18h1v1h-1zM10 20h2v1h-2zM10 21h4v1h-4zM11 22h3v1h-3zM11 23h3v1h-3zM11 24h3v1h-3zM14 26h1v1h-1zM14 27h1v1h-1zM14 28h1v1h-1zM10 29h4v1h-4zM5 30h4v1h-4zM0 31h5v1h-5zM0 32h5v1h-5zM0 33h5v1h-5zM0 34h4v1h-4z"/><path fill="#5f00ff" d="M0 15h4v1h-4zM5 16h4v1h-4zM5 17h4v1h-4zM5 18h4v1h-4zM6 19h4v1h-4zM9 20h1v1h-1zM9 21h1v1h-1zM9 22h2v1h-2zM9 23h2v1h-2zM10 24h1v1h-1zM10 25h4v1h-4zM10 26h4v1h-4zM10 27h4v1h-4zM10 28h4v1h-4zM5 29h5v1h-5zM0 30h5v1h-5z"/><path fill="#7100ff" d="M0 16h5v1h-5zM0 17h5v1h-5zM0 18h5v1h-5zM0 19h6v1h-6zM4 20h5v1h-5zM5 21h4v1h-4zM5 22h4v1h-4zM5 23h4v1h-4zM5 24h5v1h-5zM5 25h5v1h-5zM5 26h5v1h-5zM5 27h5v1h-5zM5 28h5v1h-5zM0 29h5v1h-5z"/><path fill="#8300ff" d="M0 20h4v1h-4zM0 21h5v1h-5zM0 22h5v1h-5zM0 23h5v1h-5zM0 24h5v1h-5zM0 25h5v1h-5zM0 26h5v1h-5zM0 27h5v1h-5zM0 28h5v1h-5z"/>
</svg>
<svg x="1366.2" y="72.1" width="322.1" height="307.4" viewBox="0 0 40 40" preserveAspectRatio="none">
<path d="M0.00 14.65 1.00 14.85 1.60 14.80 2.30 14.85 3.50 14.75 4.50 14.75 5.50 14.65 6.40 14.55 6.70 15.00 7.00 15.20 7.30 15.60 7.50 16.10 8.20 16.40 8.60 16.70 9.00 17.20 9.80 17.10 10.30 17.10 9.60 17.60 9.00 17.70 9.40 18.30 10.00 18.90 10.80 19.30 11.50 19.10 12.10 18.80 12.30 18.30 12.60 17.70 12.90 18.20 12.60 18.70 12.90 19.50 12.80 20.40 12.90 21.00 13.10 21.80 13.30 22.70 13.50 23.60 13.80 24.40 14.10 25.10 14.40 25.80 14.70 26.70 14.80 27.40 15.20 28.00 15.60 28.60 15.90 29.20 16.20 30.00 16.40 30.70 16.80 31.30 17.30 31.80 17.60 31.90 18.10 31.50 18.20 31.10 18.40 30.80 19.00 30.70 19.30 30.30 19.60 29.70 19.85 29.65 19.80 29.00 19.80 28.40 20.10 27.60 20.30 26.70 20.20 26.00 20.10 25.30 20.20 24.60 20.50 24.10 21.00 23.80 21.50 23.60 22.20 23.40 22.30 23.00 22.90 22.70 23.50 22.20 24.10 21.70 24.70 21.00 25.20 20.50 25.90 20.20 26.40 20.00 26.90 19.40 27.00 18.80 27.20 18.50 27.90 18.30 28.30 18.40 28.80 18.40 29.20 18.30 29.80 18.10 30.30 18.10 30.70 17.70 31.00 17.30 31.50 17.40 31.90 18.00 32.00 18.70 32.30 19.30 32.70 19.80 33.10 20.10 33.60 20.70 33.90 21.20 34.30 21.80 34.50 22.60 34.60 23.40 34.30 24.00 34.80 24.20 35.30 24.30 35.90 24.00 36.40 23.60 36.90 23.00 37.40 23.40 37.70 24.00 37.80 25.00 38.00 25.80 38.30 26.60 38.60 27.50 38.70 28.40 38.50 29.40 38.30 30.40 38.40 31.40 38.30 32.00 38.70 32.10 39.10 32.60 39.60 33.10 40.00 33.50M40.00 26.50 39.80 27.40 39.50 28.40 39.20 29.40 39.20 30.40 39.80 30.80 40.00 31.00M19.90 30.20 20.30 30.20 20.80 30.80 21.20 31.50 21.40 32.00 21.80 32.60 21.90 33.20 21.60 33.60 21.10 33.90 20.60 34.05 20.10 33.80 19.90 33.20 19.80 32.40 19.80 31.80 19.90 31.10 19.70 30.50 19.90 30.20M35.30 34.40 36.00 34.70 36.80 34.80 37.50 34.80 38.00 35.40 38.60 36.10 39.30 36.70 40.00 37.20M35.30 34.40 35.20 34.90 35.60 35.40 36.20 36.00 36.90 36.60 37.60 37.30 38.30 38.00 38.90 38.50 39.30 39.20 39.70 40.00" fill="none" stroke="#111" stroke-width="1.1" vector-effect="non-scaling-stroke" stroke-linejoin="round"/>
<path d="M1.00 0.00 2.30 0.60 3.60 1.10 4.60 1.70 5.70 2.20 6.50 2.60M1.20 4.40 2.30 4.70 3.10 4.10 4.50 3.70 5.60 2.80 6.60 2.60 7.80 2.80 8.90 2.70 9.50 2.40 10.30 2.00 11.40 2.10 11.60 2.90 12.60 3.00 13.80 2.60 14.90 2.80M1.20 4.40 0.70 5.60 0.90 6.50 0.60 7.50 1.30 8.60 1.70 8.70 0.90 10.20 1.40 10.60 1.80 11.40 2.60 11.70 2.80 12.70 3.30 12.90 3.20 13.40 2.30 13.60 1.80 14.10 1.60 14.80M0.90 10.20 2.50 10.60 4.00 10.50 5.00 10.40 6.30 10.10 6.50 9.00 7.80 8.50 8.80 8.30 9.30 8.00 9.50 7.00 10.00 6.20 11.10 5.70 11.50 5.00 11.50 4.00 12.40 3.40 13.60 3.10 14.90 2.80M8.40 16.30 9.30 15.80 10.50 15.70 11.00 15.40 10.80 14.60 10.30 14.20 10.00 13.50 9.60 12.90 10.30 12.10 11.30 12.10 12.00 11.80 12.90 11.00 13.40 10.10 13.90 9.60 14.60 9.00 14.60 8.10 15.00 7.50 14.40 6.90 14.00 6.50 14.00 5.90 13.90 5.40 14.70 5.00 15.80 4.60 17.00 4.50M14.90 2.80 15.20 3.20 16.20 3.90 17.00 4.50 18.10 4.50 19.00 5.60 18.70 6.50 18.90 7.60 18.60 8.20 19.30 9.00 20.20 9.40 21.00 9.80M20.20 9.60 21.10 9.90 22.10 9.70 23.30 10.50 24.20 10.80 25.10 11.30 26.00 12.00 27.00 12.10 28.10 12.10M20.10 10.00 20.10 11.20 21.00 11.60 22.00 12.10 23.30 12.60 24.50 12.60 25.20 13.20 26.00 13.40 27.20 13.60 28.10 13.50 28.10 12.10M28.10 12.10 28.80 11.90 29.50 11.80 30.50 12.00 31.60 12.10 32.50 12.10 33.40 11.50 34.30 10.90 35.30 10.90 36.20 10.60 36.80 11.40 37.30 11.80M28.80 12.90 29.80 13.30 31.00 13.20 32.10 13.10 32.00 12.50 31.60 12.10M37.30 11.80 38.40 12.40 38.70 13.60 37.80 14.70 37.60 16.00 38.80 15.90 39.50 17.10 39.90 18.00 40.00 18.20M37.30 11.80 37.00 12.40 36.00 12.80 35.20 13.40 34.60 14.60 34.20 16.00 33.40 16.30 33.20 17.70 32.70 18.00 32.60 18.70M28.10 13.50 28.50 14.00 29.80 14.00 29.90 14.70 31.00 14.80 32.00 14.80 32.40 15.20 32.20 16.00 31.90 16.30 31.60 17.00 31.90 18.00M28.50 14.00 28.10 14.40 28.80 15.00 28.50 15.70 28.80 16.50 28.90 17.40 29.00 18.20M32.20 16.00 32.40 17.00 32.60 18.00M40.00 19.80 38.90 20.30 37.80 21.40 37.60 23.00 38.60 23.80 38.20 24.80 39.10 26.00 39.20 27.10 39.40 29.00 38.80 29.60 38.60 30.00M40.00 18.20 40.00 19.80" fill="none" stroke="#222" stroke-width="0.9" vector-effect="non-scaling-stroke" stroke-linejoin="round"/>
<path d="M32.70 26.50 32.90 27.20 32.80 28.00 32.60 28.60 32.60 29.10M33.50 30.80 33.40 31.10M33.80 32.70 33.90 33.10M36.00 37.10 36.50 37.60M37.20 38.50 37.70 39.10" fill="none" stroke="#111" stroke-width="1.8" stroke-dasharray="3 2" vector-effect="non-scaling-stroke"/>
</svg>
<polygon points="1523.22,147.06 1524.94,151.19 1529.41,151.55 1526.01,154.46 1527.04,158.82 1523.22,156.49 1519.40,158.82 1520.44,154.46 1517.04,151.55 1521.50,151.19" fill="#fff"/>
<rect x="1366.2" y="72.1" width="322.1" height="307.4" fill="none" stroke="#000" stroke-width="2.6"/>
<path d="M1366.2 379.5v9.5M1366.2 379.5h-9.5M1406.5 379.5v5.5M1366.2 341.1h-5.5M1446.7 379.5v9.5M1366.2 302.6h-9.5M1487.0 379.5v5.5M1366.2 264.2h-5.5M1527.2 379.5v9.5M1366.2 225.8h-9.5M1567.5 379.5v5.5M1366.2 187.4h-5.5M1607.8 379.5v9.5M1366.2 149.0h-9.5M1648.0 379.5v5.5M1366.2 110.5h-5.5M1688.3 379.5v9.5M1366.2 72.1h-9.5" stroke="#000" stroke-width="2.4" fill="none"/>
<text x="1366.2" y="413.0" text-anchor="middle" font-size="25.5" textLength="26.5" lengthAdjust="spacingAndGlyphs">60</text>
<text x="1446.7" y="413.0" text-anchor="middle" font-size="25.5" textLength="26.5" lengthAdjust="spacingAndGlyphs">70</text>
<text x="1527.2" y="413.0" text-anchor="middle" font-size="25.5" textLength="26.5" lengthAdjust="spacingAndGlyphs">80</text>
<text x="1607.8" y="413.0" text-anchor="middle" font-size="25.5" textLength="26.5" lengthAdjust="spacingAndGlyphs">90</text>
<text x="1688.3" y="413.0" text-anchor="middle" font-size="25.5" textLength="39.8" lengthAdjust="spacingAndGlyphs">100</text>
<text x="1351.7" y="388.3" text-anchor="end" font-size="25.5">0</text>
<text x="1351.7" y="311.4" text-anchor="end" font-size="25.5">10</text>
<text x="1351.7" y="234.6" text-anchor="end" font-size="25.5">20</text>
<text x="1351.7" y="157.8" text-anchor="end" font-size="25.5">30</text>
<text x="1351.7" y="80.9" text-anchor="end" font-size="25.5">40</text>
<text x="1369.0" y="62.9" font-size="25.0" textLength="58.5" lengthAdjust="spacingAndGlyphs">April</text>
<svg x="201.5" y="469.5" width="316.3" height="302.7" viewBox="0 0 40 40" preserveAspectRatio="none" shape-rendering="crispEdges">
<path fill="#00a5ff" d="M0 0h4v1h-4zM14 0h2v1h-2zM0 1h4v1h-4zM14 1h2v1h-2zM0 2h4v1h-4zM14 2h2v1h-2zM0 3h5v1h-5zM15 3h1v1h-1zM4 4h1v1h-1zM36 4h4v1h-4zM25 5h6v1h-6zM21 6h4v1h-4zM15 7h2v1h-2zM21 7h4v1h-4zM15 8h1v1h-1zM20 8h5v1h-5zM5 9h1v1h-1zM15 9h1v1h-1zM15 10h1v1h-1zM15 11h1v1h-1zM15 12h1v1h-1zM15 13h1v1h-1zM16 15h4v1h-4zM30 15h4v1h-4zM19 16h1v1h-1zM24 16h1v1h-1zM19 17h2v1h-2zM24 17h1v1h-1zM20 18h1v1h-1zM24 18h1v1h-1zM21 19h3v1h-3zM36 19h4v1h-4zM31 20h9v1h-9zM31 21h4v1h-4zM31 22h4v1h-4zM31 23h4v1h-4zM31 24h1v1h-1zM30 25h1v1h-1zM30 26h1v1h-1zM30 27h1v1h-1zM30 28h1v1h-1zM31 29h4v1h-4z"/><path fill="#00b9ff" d="M4 0h2v1h-2zM10 0h4v1h-4zM4 1h2v1h-2zM10 1h4v1h-4zM4 2h2v1h-2zM10 2h4v1h-4zM5 3h1v1h-1zM10 3h1v1h-1zM14 3h1v1h-1zM5 4h1v1h-1zM5 5h1v1h-1zM31 5h9v1h-9zM5 6h1v1h-1zM25 6h5v1h-5zM5 7h1v1h-1zM25 7h5v1h-5zM5 8h1v1h-1zM25 8h5v1h-5zM6 9h1v1h-1zM9 9h6v1h-6zM22 9h4v1h-4zM16 10h1v1h-1zM25 14h5v1h-5zM20 15h5v1h-5zM34 15h3v1h-3zM20 16h4v1h-4zM21 17h3v1h-3zM21 18h3v1h-3zM35 21h5v1h-5zM35 22h5v1h-5zM35 23h5v1h-5zM32 24h4v1h-4zM31 25h3v1h-3zM35 29h5v1h-5z"/><path fill="#00d3ff" d="M6 0h4v1h-4zM6 1h4v1h-4zM6 2h4v1h-4zM6 3h4v1h-4zM6 4h6v1h-6zM15 4h1v1h-1zM14 6h2v1h-2zM30 6h10v1h-10zM14 7h1v1h-1zM30 7h10v1h-10zM14 8h1v1h-1zM17 8h1v1h-1zM30 8h10v1h-10zM7 9h2v1h-2zM21 9h1v1h-1zM26 9h8v1h-8zM17 10h2v1h-2zM25 10h4v1h-4zM16 11h1v1h-1zM20 11h1v1h-1zM20 12h4v1h-4zM16 13h1v1h-1zM20 13h5v1h-5zM16 14h9v1h-9zM30 14h4v1h-4zM37 15h3v1h-3zM36 24h4v1h-4zM34 25h6v1h-6zM31 26h4v1h-4zM31 27h4v1h-4zM31 28h5v1h-5z"/><path fill="#0091ff" d="M16 0h3v1h-3zM36 0h4v1h-4zM16 1h3v1h-3zM36 1h4v1h-4zM16 2h3v1h-3zM36 2h4v1h-4zM16 3h3v1h-3zM35 3h5v1h-5zM0 4h4v1h-4zM16 4h3v1h-3zM26 4h5v1h-5zM34 4h2v1h-2zM4 5h1v1h-1zM20 5h5v1h-5zM19 6h2v1h-2zM19 7h2v1h-2zM16 9h2v1h-2zM4 10h5v1h-5zM0 11h5v1h-5zM0 12h5v1h-5zM0 13h4v1h-4zM15 14h1v1h-1zM25 15h5v1h-5zM16 16h3v1h-3zM30 16h10v1h-10zM16 17h3v1h-3zM31 17h9v1h-9zM16 18h4v1h-4zM31 18h9v1h-9zM19 19h2v1h-2zM24 19h1v1h-1zM30 19h6v1h-6zM30 20h1v1h-1zM30 21h1v1h-1zM30 22h1v1h-1zM30 23h1v1h-1zM30 24h1v1h-1zM30 29h1v1h-1zM0 31h4v1h-4zM0 32h4v1h-4zM0 33h4v1h-4z"/><path fill="#007cff" d="M19 0h1v1h-1zM26 0h4v1h-4zM34 0h2v1h-2zM19 1h1v1h-1zM26 1h4v1h-4zM34 1h2v1h-2zM19 2h1v1h-1zM26 2h4v1h-4zM34 2h2v1h-2zM19 3h1v1h-1zM25 3h5v1h-5zM34 3h1v1h-1zM19 4h2v1h-2zM24 4h2v1h-2zM31 4h3v1h-3zM17 5h3v1h-3zM4 6h1v1h-1zM18 6h1v1h-1zM4 7h1v1h-1zM4 8h1v1h-1zM16 8h1v1h-1zM4 9h1v1h-1zM0 10h4v1h-4zM9 10h1v1h-1zM14 10h1v1h-1zM5 11h4v1h-4zM5 12h4v1h-4zM4 13h4v1h-4zM15 15h1v1h-1zM25 16h1v1h-1zM29 16h1v1h-1zM25 17h1v1h-1zM29 17h2v1h-2zM25 18h1v1h-1zM29 18h2v1h-2zM16 19h3v1h-3zM25 19h1v1h-1zM29 19h1v1h-1zM29 20h1v1h-1zM29 21h1v1h-1zM29 22h1v1h-1zM29 23h1v1h-1zM29 24h1v1h-1zM29 25h1v1h-1zM29 26h1v1h-1zM29 27h1v1h-1zM29 28h1v1h-1zM0 30h5v1h-5zM31 30h4v1h-4zM4 31h1v1h-1zM4 32h2v1h-2zM4 33h2v1h-2zM0 34h5v1h-5zM0 35h4v1h-4z"/><path fill="#0066ff" d="M20 0h1v1h-1zM24 0h2v1h-2zM30 0h4v1h-4zM20 1h1v1h-1zM24 1h2v1h-2zM30 1h4v1h-4zM20 2h1v1h-1zM24 2h2v1h-2zM30 2h4v1h-4zM20 3h1v1h-1zM24 3h1v1h-1zM30 3h4v1h-4zM21 4h3v1h-3zM0 5h4v1h-4zM0 9h4v1h-4zM10 10h1v1h-1zM9 11h1v1h-1zM9 12h1v1h-1zM8 13h1v1h-1zM15 16h1v1h-1zM26 16h3v1h-3zM15 17h1v1h-1zM26 17h3v1h-3zM15 18h1v1h-1zM26 18h3v1h-3zM26 19h3v1h-3zM16 20h13v1h-13zM25 21h4v1h-4zM25 22h4v1h-4zM25 23h4v1h-4zM26 24h3v1h-3zM0 29h4v1h-4zM29 29h1v1h-1zM5 30h1v1h-1zM30 30h1v1h-1zM35 30h5v1h-5zM5 31h4v1h-4zM6 32h3v1h-3zM6 33h3v1h-3zM5 34h4v1h-4zM4 35h2v1h-2zM0 36h5v1h-5zM0 37h5v1h-5zM0 38h5v1h-5zM0 39h5v1h-5z"/><path fill="#0050ff" d="M21 0h3v1h-3zM21 1h3v1h-3zM21 2h3v1h-3zM21 3h3v1h-3zM0 6h4v1h-4zM0 7h4v1h-4zM0 8h4v1h-4zM11 10h3v1h-3zM14 11h1v1h-1zM14 12h1v1h-1zM9 13h1v1h-1zM14 13h1v1h-1zM0 14h7v1h-7zM15 19h1v1h-1zM16 21h9v1h-9zM16 22h9v1h-9zM16 23h9v1h-9zM24 24h2v1h-2zM25 25h4v1h-4zM0 26h4v1h-4zM26 26h3v1h-3zM0 27h4v1h-4zM26 27h3v1h-3zM0 28h5v1h-5zM26 28h3v1h-3zM4 29h1v1h-1zM26 29h3v1h-3zM6 30h4v1h-4zM29 30h1v1h-1zM9 31h1v1h-1zM30 31h6v1h-6zM9 32h2v1h-2zM30 32h5v1h-5zM9 33h2v1h-2zM30 33h5v1h-5zM9 34h1v1h-1zM6 35h4v1h-4zM5 36h5v1h-5zM5 37h5v1h-5zM5 38h5v1h-5zM5 39h5v1h-5z"/><path fill="#00edff" d="M11 3h3v1h-3zM12 4h2v1h-2zM6 5h8v1h-8zM16 5h1v1h-1zM6 6h4v1h-4zM6 7h4v1h-4zM6 8h5v1h-5zM13 8h1v1h-1zM18 9h1v1h-1zM34 9h2v1h-2zM19 10h1v1h-1zM24 10h1v1h-1zM29 10h5v1h-5zM17 11h3v1h-3zM21 11h1v1h-1zM16 12h4v1h-4zM24 12h1v1h-1zM17 13h3v1h-3zM25 13h9v1h-9zM34 14h1v1h-1zM35 26h5v1h-5zM35 27h5v1h-5zM36 28h4v1h-4z"/><path fill="#00fbe5" d="M14 4h1v1h-1zM14 5h2v1h-2zM10 6h4v1h-4zM16 6h2v1h-2zM10 7h4v1h-4zM17 7h2v1h-2zM11 8h2v1h-2zM19 8h1v1h-1zM36 9h4v1h-4zM34 10h1v1h-1zM34 13h1v1h-1zM35 14h1v1h-1z"/><path fill="#00feb0" d="M18 8h1v1h-1zM19 9h2v1h-2zM20 10h2v1h-2zM23 10h1v1h-1zM35 10h1v1h-1zM25 12h1v1h-1zM36 14h4v1h-4z"/><path fill="#00ff75" d="M22 10h1v1h-1zM36 10h4v1h-4zM22 11h4v1h-4zM35 13h1v1h-1z"/><path fill="#1238ff" d="M10 11h1v1h-1zM7 14h3v1h-3zM14 14h1v1h-1zM15 20h1v1h-1zM15 21h1v1h-1zM15 22h1v1h-1zM15 23h1v1h-1zM16 24h8v1h-8zM21 25h4v1h-4zM4 26h1v1h-1zM24 26h2v1h-2zM4 27h2v1h-2zM24 27h2v1h-2zM5 28h1v1h-1zM25 28h1v1h-1zM5 29h4v1h-4zM25 29h1v1h-1zM10 30h1v1h-1zM25 30h4v1h-4zM10 31h4v1h-4zM26 31h4v1h-4zM36 31h4v1h-4zM11 32h3v1h-3zM26 32h4v1h-4zM35 32h5v1h-5zM11 33h3v1h-3zM26 33h4v1h-4zM35 33h5v1h-5zM10 34h4v1h-4zM29 34h7v1h-7zM10 35h4v1h-4zM31 35h3v1h-3zM10 36h5v1h-5zM10 37h5v1h-5zM10 38h5v1h-5zM10 39h5v1h-5z"/><path fill="#2420ff" d="M11 11h1v1h-1zM13 11h1v1h-1zM10 12h1v1h-1zM10 13h1v1h-1zM14 15h1v1h-1zM14 16h1v1h-1zM14 17h1v1h-1zM14 18h1v1h-1zM14 19h1v1h-1zM15 24h1v1h-1zM0 25h4v1h-4zM19 25h2v1h-2zM5 26h4v1h-4zM20 26h4v1h-4zM6 27h3v1h-3zM21 27h3v1h-3zM6 28h4v1h-4zM21 28h4v1h-4zM9 29h1v1h-1zM23 29h2v1h-2zM11 30h3v1h-3zM14 31h1v1h-1zM25 31h1v1h-1zM14 32h1v1h-1zM25 32h1v1h-1zM14 33h1v1h-1zM25 33h1v1h-1zM14 34h1v1h-1zM25 34h4v1h-4zM36 34h4v1h-4zM14 35h1v1h-1zM25 35h6v1h-6zM34 35h6v1h-6zM15 36h10v1h-10zM30 36h5v1h-5zM15 37h10v1h-10zM30 37h5v1h-5zM15 38h10v1h-10zM30 38h5v1h-5zM15 39h10v1h-10zM30 39h5v1h-5z"/><path fill="#3710ff" d="M12 11h1v1h-1zM11 12h3v1h-3zM11 13h3v1h-3zM10 14h4v1h-4zM13 15h1v1h-1zM14 20h1v1h-1zM4 25h2v1h-2zM15 25h4v1h-4zM9 26h1v1h-1zM19 26h1v1h-1zM9 27h2v1h-2zM19 27h2v1h-2zM10 28h1v1h-1zM20 28h1v1h-1zM10 29h4v1h-4zM20 29h3v1h-3zM14 30h1v1h-1zM22 30h3v1h-3zM24 31h1v1h-1zM24 32h1v1h-1zM24 33h1v1h-1zM21 34h4v1h-4zM15 35h10v1h-10zM25 36h5v1h-5zM35 36h5v1h-5zM25 37h5v1h-5zM35 37h5v1h-5zM25 38h5v1h-5zM35 38h5v1h-5zM25 39h5v1h-5zM35 39h5v1h-5z"/><path fill="#00ff32" d="M26 11h5v1h-5zM26 12h2v1h-2zM36 13h1v1h-1z"/><path fill="#00ff00" d="M31 11h9v1h-9zM28 12h12v1h-12zM37 13h3v1h-3z"/><path fill="#5f00ff" d="M0 15h7v1h-7zM10 16h1v1h-1zM10 17h1v1h-1zM10 18h1v1h-1zM10 19h1v1h-1zM11 20h3v1h-3zM11 21h3v1h-3zM11 22h3v1h-3zM11 23h3v1h-3zM10 24h4v1h-4zM16 29h2v1h-2zM16 30h4v1h-4zM15 31h1v1h-1zM19 31h1v1h-1zM15 32h1v1h-1zM19 32h2v1h-2zM19 33h1v1h-1zM16 34h3v1h-3z"/><path fill="#4b08ff" d="M7 15h6v1h-6zM11 16h3v1h-3zM11 17h3v1h-3zM11 18h3v1h-3zM11 19h3v1h-3zM14 21h1v1h-1zM14 22h1v1h-1zM14 23h1v1h-1zM14 24h1v1h-1zM6 25h9v1h-9zM10 26h9v1h-9zM11 27h8v1h-8zM11 28h9v1h-9zM14 29h2v1h-2zM18 29h2v1h-2zM15 30h1v1h-1zM20 30h2v1h-2zM20 31h4v1h-4zM21 32h3v1h-3zM15 33h1v1h-1zM20 33h4v1h-4zM15 34h1v1h-1zM19 34h2v1h-2z"/><path fill="#9300ff" d="M0 16h4v1h-4zM0 17h5v1h-5zM0 18h5v1h-5zM0 19h5v1h-5zM0 20h9v1h-9zM0 21h9v1h-9zM0 22h9v1h-9zM0 23h9v1h-9z"/><path fill="#8300ff" d="M4 16h5v1h-5zM5 17h4v1h-4zM5 18h4v1h-4zM5 19h4v1h-4zM9 20h1v1h-1zM9 21h1v1h-1zM9 22h1v1h-1zM9 23h1v1h-1z"/><path fill="#7100ff" d="M9 16h1v1h-1zM9 17h1v1h-1zM9 18h1v1h-1zM9 19h1v1h-1zM10 20h1v1h-1zM10 21h1v1h-1zM10 22h1v1h-1zM10 23h1v1h-1zM0 24h10v1h-10zM16 31h3v1h-3zM16 32h3v1h-3zM16 33h3v1h-3z"/>
</svg>
<svg x="201.5" y="469.5" width="316.3" height="302.7" viewBox="0 0 40 40" preserveAspectRatio="none">
<path d="M0.00 14.65 1.00 14.85 1.60 14.80 2.30 14.85 3.50 14.75 4.50 14.75 5.50 14.65 6.40 14.55 6.70 15.00 7.00 15.20 7.30 15.60 7.50 16.10 8.20 16.40 8.60 16.70 9.00 17.20 9.80 17.10 10.30 17.10 9.60 17.60 9.00 17.70 9.40 18.30 10.00 18.90 10.80 19.30 11.50 19.10 12.10 18.80 12.30 18.30 12.60 17.70 12.90 18.20 12.60 18.70 12.90 19.50 12.80 20.40 12.90 21.00 13.10 21.80 13.30 22.70 13.50 23.60 13.80 24.40 14.10 25.10 14.40 25.80 14.70 26.70 14.80 27.40 15.20 28.00 15.60 28.60 15.90 29.20 16.20 30.00 16.40 30.70 16.80 31.30 17.30 31.80 17.60 31.90 18.10 31.50 18.20 31.10 18.40 30.80 19.00 30.70 19.30 30.30 19.60 29.70 19.85 29.65 19.80 29.00 19.80 28.40 20.10 27.60 20.30 26.70 20.20 26.00 20.10 25.30 20.20 24.60 20.50 24.10 21.00 23.80 21.50 23.60 22.20 23.40 22.30 23.00 22.90 22.70 23.50 22.20 24.10 21.70 24.70 21.00 25.20 20.50 25.90 20.20 26.40 20.00 26.90 19.40 27.00 18.80 27.20 18.50 27.90 18.30 28.30 18.40 28.80 18.40 29.20 18.30 29.80 18.10 30.30 18.10 30.70 17.70 31.00 17.30 31.50 17.40 31.90 18.00 32.00 18.70 32.30 19.30 32.70 19.80 33.10 20.10 33.60 20.70 33.90 21.20 34.30 21.80 34.50 22.60 34.60 23.40 34.30 24.00 34.80 24.20 35.30 24.30 35.90 24.00 36.40 23.60 36.90 23.00 37.40 23.40 37.70 24.00 37.80 25.00 38.00 25.80 38.30 26.60 38.60 27.50 38.70 28.40 38.50 29.40 38.30 30.40 38.40 31.40 38.30 32.00 38.70 32.10 39.10 32.60 39.60 33.10 40.00 33.50M40.00 26.50 39.80 27.40 39.50 28.40 39.20 29.40 39.20 30.40 39.80 30.80 40.00 31.00M19.90 30.20 20.30 30.20 20.80 30.80 21.20 31.50 21.40 32.00 21.80 32.60 21.90 33.20 21.60 33.60 21.10 33.90 20.60 34.05 20.10 33.80 19.90 33.20 19.80 32.40 19.80 31.80 19.90 31.10 19.70 30.50 19.90 30.20M35.30 34.40 36.00 34.70 36.80 34.80 37.50 34.80 38.00 35.40 38.60 36.10 39.30 36.70 40.00 37.20M35.30 34.40 35.20 34.90 35.60 35.40 36.20 36.00 36.90 36.60 37.60 37.30 38.30 38.00 38.90 38.50 39.30 39.20 39.70 40.00" fill="none" stroke="#111" stroke-width="1.1" vector-effect="non-scaling-stroke" stroke-linejoin="round"/>
<path d="M1.00 0.00 2.30 0.60 3.60 1.10 4.60 1.70 5.70 2.20 6.50 2.60M1.20 4.40 2.30 4.70 3.10 4.10 4.50 3.70 5.60 2.80 6.60 2.60 7.80 2.80 8.90 2.70 9.50 2.40 10.30 2.00 11.40 2.10 11.60 2.90 12.60 3.00 13.80 2.60 14.90 2.80M1.20 4.40 0.70 5.60 0.90 6.50 0.60 7.50 1.30 8.60 1.70 8.70 0.90 10.20 1.40 10.60 1.80 11.40 2.60 11.70 2.80 12.70 3.30 12.90 3.20 13.40 2.30 13.60 1.80 14.10 1.60 14.80M0.90 10.20 2.50 10.60 4.00 10.50 5.00 10.40 6.30 10.10 6.50 9.00 7.80 8.50 8.80 8.30 9.30 8.00 9.50 7.00 10.00 6.20 11.10 5.70 11.50 5.00 11.50 4.00 12.40 3.40 13.60 3.10 14.90 2.80M8.40 16.30 9.30 15.80 10.50 15.70 11.00 15.40 10.80 14.60 10.30 14.20 10.00 13.50 9.60 12.90 10.30 12.10 11.30 12.10 12.00 11.80 12.90 11.00 13.40 10.10 13.90 9.60 14.60 9.00 14.60 8.10 15.00 7.50 14.40 6.90 14.00 6.50 14.00 5.90 13.90 5.40 14.70 5.00 15.80 4.60 17.00 4.50M14.90 2.80 15.20 3.20 16.20 3.90 17.00 4.50 18.10 4.50 19.00 5.60 18.70 6.50 18.90 7.60 18.60 8.20 19.30 9.00 20.20 9.40 21.00 9.80M20.20 9.60 21.10 9.90 22.10 9.70 23.30 10.50 24.20 10.80 25.10 11.30 26.00 12.00 27.00 12.10 28.10 12.10M20.10 10.00 20.10 11.20 21.00 11.60 22.00 12.10 23.30 12.60 24.50 12.60 25.20 13.20 26.00 13.40 27.20 13.60 28.10 13.50 28.10 12.10M28.10 12.10 28.80 11.90 29.50 11.80 30.50 12.00 31.60 12.10 32.50 12.10 33.40 11.50 34.30 10.90 35.30 10.90 36.20 10.60 36.80 11.40 37.30 11.80M28.80 12.90 29.80 13.30 31.00 13.20 32.10 13.10 32.00 12.50 31.60 12.10M37.30 11.80 38.40 12.40 38.70 13.60 37.80 14.70 37.60 16.00 38.80 15.90 39.50 17.10 39.90 18.00 40.00 18.20M37.30 11.80 37.00 12.40 36.00 12.80 35.20 13.40 34.60 14.60 34.20 16.00 33.40 16.30 33.20 17.70 32.70 18.00 32.60 18.70M28.10 13.50 28.50 14.00 29.80 14.00 29.90 14.70 31.00 14.80 32.00 14.80 32.40 15.20 32.20 16.00 31.90 16.30 31.60 17.00 31.90 18.00M28.50 14.00 28.10 14.40 28.80 15.00 28.50 15.70 28.80 16.50 28.90 17.40 29.00 18.20M32.20 16.00 32.40 17.00 32.60 18.00M40.00 19.80 38.90 20.30 37.80 21.40 37.60 23.00 38.60 23.80 38.20 24.80 39.10 26.00 39.20 27.10 39.40 29.00 38.80 29.60 38.60 30.00M40.00 18.20 40.00 19.80" fill="none" stroke="#222" stroke-width="0.9" vector-effect="non-scaling-stroke" stroke-linejoin="round"/>
<path d="M32.70 26.50 32.90 27.20 32.80 28.00 32.60 28.60 32.60 29.10M33.50 30.80 33.40 31.10M33.80 32.70 33.90 33.10M36.00 37.10 36.50 37.60M37.20 38.50 37.70 39.10" fill="none" stroke="#111" stroke-width="1.8" stroke-dasharray="3 2" vector-effect="non-scaling-stroke"/>
</svg>
<polygon points="355.70,543.22 357.42,547.35 361.88,547.71 358.48,550.62 359.52,554.97 355.70,552.64 351.88,554.97 352.91,550.62 349.51,547.71 353.98,547.35" fill="#fff"/>
<rect x="201.5" y="469.5" width="316.3" height="302.7" fill="none" stroke="#000" stroke-width="2.6"/>
<path d="M201.5 772.2v9.5M201.5 772.2h-9.5M241.0 772.2v5.5M201.5 734.4h-5.5M280.6 772.2v9.5M201.5 696.5h-9.5M320.1 772.2v5.5M201.5 658.7h-5.5M359.6 772.2v9.5M201.5 620.9h-9.5M399.2 772.2v5.5M201.5 583.0h-5.5M438.7 772.2v9.5M201.5 545.2h-9.5M478.3 772.2v5.5M201.5 507.3h-5.5M517.8 772.2v9.5M201.5 469.5h-9.5" stroke="#000" stroke-width="2.4" fill="none"/>
<text x="201.5" y="805.7" text-anchor="middle" font-size="25.5" textLength="26.5" lengthAdjust="spacingAndGlyphs">60</text>
<text x="280.6" y="805.7" text-anchor="middle" font-size="25.5" textLength="26.5" lengthAdjust="spacingAndGlyphs">70</text>
<text x="359.6" y="805.7" text-anchor="middle" font-size="25.5" textLength="26.5" lengthAdjust="spacingAndGlyphs">80</text>
<text x="438.7" y="805.7" text-anchor="middle" font-size="25.5" textLength="26.5" lengthAdjust="spacingAndGlyphs">90</text>
<text x="517.8" y="805.7" text-anchor="middle" font-size="25.5" textLength="39.8" lengthAdjust="spacingAndGlyphs">100</text>
<text x="187.0" y="781.0" text-anchor="end" font-size="25.5">0</text>
<text x="187.0" y="705.3" text-anchor="end" font-size="25.5">10</text>
<text x="187.0" y="629.6" text-anchor="end" font-size="25.5">20</text>
<text x="187.0" y="554.0" text-anchor="end" font-size="25.5">30</text>
<text x="187.0" y="478.3" text-anchor="end" font-size="25.5">40</text>
<text x="200.3" y="459.6" font-size="25.0" textLength="46.9" lengthAdjust="spacingAndGlyphs">May</text>
<svg x="599.8" y="466.2" width="311.1" height="299.1" viewBox="0 0 40 40" preserveAspectRatio="none" shape-rendering="crispEdges">
<path fill="#0091ff" d="M0 0h4v1h-4zM15 0h1v1h-1zM19 0h1v1h-1zM0 1h4v1h-4zM15 1h1v1h-1zM19 1h1v1h-1zM0 2h4v1h-4zM15 2h1v1h-1zM19 2h1v1h-1zM0 3h4v1h-4zM15 3h1v1h-1zM19 3h1v1h-1zM0 4h4v1h-4zM19 4h1v1h-1zM0 5h4v1h-4zM11 5h3v1h-3zM19 5h1v1h-1zM0 6h4v1h-4zM11 6h1v1h-1zM19 6h1v1h-1zM0 7h4v1h-4zM19 7h1v1h-1zM0 8h4v1h-4zM16 9h2v1h-2zM5 10h1v1h-1zM15 10h3v1h-3zM15 11h1v1h-1zM15 12h1v1h-1zM4 13h1v1h-1zM15 13h1v1h-1zM0 14h3v1h-3zM15 14h1v1h-1zM36 16h4v1h-4zM36 17h4v1h-4zM36 18h4v1h-4zM15 19h1v1h-1zM20 19h4v1h-4zM11 20h3v1h-3zM24 20h1v1h-1zM10 21h1v1h-1zM14 21h1v1h-1zM24 21h1v1h-1zM9 22h2v1h-2zM14 22h1v1h-1zM10 23h1v1h-1zM14 23h1v1h-1zM10 24h1v1h-1zM14 24h1v1h-1zM10 25h5v1h-5zM25 25h1v1h-1zM37 25h3v1h-3zM11 26h3v1h-3zM26 26h3v1h-3zM35 26h1v1h-1zM11 27h3v1h-3zM26 27h3v1h-3zM35 27h1v1h-1zM11 28h3v1h-3zM27 28h2v1h-2zM35 28h1v1h-1zM30 29h1v1h-1zM34 29h1v1h-1z"/><path fill="#00a5ff" d="M4 0h1v1h-1zM20 0h1v1h-1zM4 1h1v1h-1zM20 1h1v1h-1zM4 2h1v1h-1zM20 2h1v1h-1zM4 3h1v1h-1zM20 3h1v1h-1zM15 4h1v1h-1zM20 4h1v1h-1zM16 7h1v1h-1zM0 9h4v1h-4zM10 9h1v1h-1zM4 10h1v1h-1zM18 10h1v1h-1zM4 11h1v1h-1zM16 11h3v1h-3zM4 12h1v1h-1zM16 12h3v1h-3zM16 13h3v1h-3zM16 14h1v1h-1zM15 15h1v1h-1zM15 16h1v1h-1zM21 16h8v1h-8zM15 17h1v1h-1zM21 17h8v1h-8zM15 18h1v1h-1zM20 18h9v1h-9zM16 19h4v1h-4zM24 19h1v1h-1zM36 19h4v1h-4zM11 21h3v1h-3zM11 22h3v1h-3zM11 23h3v1h-3zM11 24h3v1h-3zM26 25h1v1h-1zM36 25h1v1h-1zM29 26h1v1h-1zM29 27h1v1h-1zM29 28h1v1h-1zM31 29h3v1h-3z"/><path fill="#00edff" d="M5 0h1v1h-1zM9 0h2v1h-2zM35 0h5v1h-5zM5 1h1v1h-1zM9 1h2v1h-2zM35 1h5v1h-5zM5 2h1v1h-1zM9 2h2v1h-2zM35 2h5v1h-5zM5 3h1v1h-1zM35 3h5v1h-5zM30 4h10v1h-10zM25 5h4v1h-4zM17 6h1v1h-1zM25 6h1v1h-1zM17 7h2v1h-2zM24 7h2v1h-2zM18 8h2v1h-2zM24 8h2v1h-2zM5 9h1v1h-1zM9 9h1v1h-1zM21 9h1v1h-1zM24 9h2v1h-2zM25 10h4v1h-4zM21 11h1v1h-1zM21 12h3v1h-3zM21 13h9v1h-9zM29 14h1v1h-1zM36 14h4v1h-4zM34 16h1v1h-1zM34 17h1v1h-1zM34 18h1v1h-1zM29 19h1v1h-1zM26 20h1v1h-1zM35 20h1v1h-1zM36 21h4v1h-4zM36 22h4v1h-4zM36 23h4v1h-4zM26 24h3v1h-3zM35 24h1v1h-1zM30 25h1v1h-1z"/><path fill="#00fbe5" d="M6 0h3v1h-3zM6 1h3v1h-3zM6 2h3v1h-3zM6 3h4v1h-4zM5 4h1v1h-1zM9 4h1v1h-1zM29 5h1v1h-1zM35 5h5v1h-5zM26 6h3v1h-3zM36 6h4v1h-4zM26 7h3v1h-3zM36 7h4v1h-4zM26 8h3v1h-3zM36 8h4v1h-4zM19 9h2v1h-2zM26 9h4v1h-4zM36 9h4v1h-4zM20 10h5v1h-5zM29 10h2v1h-2zM22 11h1v1h-1zM24 12h1v1h-1zM30 13h5v1h-5zM30 14h6v1h-6zM30 15h1v1h-1zM34 15h1v1h-1zM30 16h1v1h-1zM30 17h1v1h-1zM30 18h1v1h-1zM34 19h1v1h-1zM27 20h2v1h-2zM26 21h1v1h-1zM35 21h1v1h-1zM35 22h1v1h-1zM26 23h1v1h-1zM35 23h1v1h-1zM29 24h1v1h-1zM31 25h3v1h-3z"/><path fill="#00d3ff" d="M11 0h3v1h-3zM30 0h5v1h-5zM11 1h3v1h-3zM30 1h5v1h-5zM11 2h3v1h-3zM30 2h5v1h-5zM10 3h1v1h-1zM30 3h5v1h-5zM10 4h1v1h-1zM14 4h1v1h-1zM25 4h5v1h-5zM14 5h3v1h-3zM21 5h4v1h-4zM4 6h1v1h-1zM16 6h1v1h-1zM21 6h4v1h-4zM4 7h1v1h-1zM21 7h3v1h-3zM4 8h1v1h-1zM21 8h3v1h-3zM18 9h1v1h-1zM22 9h2v1h-2zM19 10h1v1h-1zM0 11h4v1h-4zM20 11h1v1h-1zM0 12h4v1h-4zM20 12h1v1h-1zM0 13h3v1h-3zM20 13h1v1h-1zM20 14h9v1h-9zM29 15h1v1h-1zM35 15h1v1h-1zM16 16h3v1h-3zM16 17h3v1h-3zM16 18h3v1h-3zM29 18h1v1h-1zM28 19h1v1h-1zM35 19h1v1h-1zM25 20h1v1h-1zM36 20h4v1h-4zM25 21h1v1h-1zM25 22h1v1h-1zM25 23h1v1h-1zM36 24h4v1h-4zM29 25h1v1h-1zM34 25h1v1h-1zM31 26h3v1h-3zM31 27h3v1h-3zM31 28h3v1h-3z"/><path fill="#00b9ff" d="M14 0h1v1h-1zM21 0h9v1h-9zM14 1h1v1h-1zM21 1h9v1h-9zM14 2h1v1h-1zM21 2h9v1h-9zM11 3h4v1h-4zM21 3h9v1h-9zM4 4h1v1h-1zM11 4h3v1h-3zM21 4h4v1h-4zM4 5h1v1h-1zM10 5h1v1h-1zM20 5h1v1h-1zM10 6h1v1h-1zM15 6h1v1h-1zM20 6h1v1h-1zM10 7h1v1h-1zM20 7h1v1h-1zM10 8h1v1h-1zM17 8h1v1h-1zM20 8h1v1h-1zM4 9h1v1h-1zM0 10h4v1h-4zM19 11h1v1h-1zM19 12h1v1h-1zM3 13h1v1h-1zM19 13h1v1h-1zM17 14h3v1h-3zM16 15h13v1h-13zM36 15h4v1h-4zM19 16h2v1h-2zM29 16h1v1h-1zM35 16h1v1h-1zM19 17h2v1h-2zM29 17h1v1h-1zM35 17h1v1h-1zM19 18h1v1h-1zM35 18h1v1h-1zM25 19h3v1h-3zM25 24h1v1h-1zM27 25h2v1h-2zM35 25h1v1h-1zM30 26h1v1h-1zM34 26h1v1h-1zM30 27h1v1h-1zM34 27h1v1h-1zM30 28h1v1h-1zM34 28h1v1h-1z"/><path fill="#007cff" d="M16 0h3v1h-3zM16 1h3v1h-3zM16 2h3v1h-3zM16 3h3v1h-3zM16 4h3v1h-3zM17 5h2v1h-2zM12 6h3v1h-3zM18 6h1v1h-1zM11 7h5v1h-5zM11 8h6v1h-6zM11 9h5v1h-5zM6 10h5v1h-5zM14 10h1v1h-1zM14 11h1v1h-1zM14 12h1v1h-1zM14 13h1v1h-1zM3 14h1v1h-1zM14 14h1v1h-1zM10 20h1v1h-1zM14 20h6v1h-6zM7 21h3v1h-3zM6 22h3v1h-3zM24 22h1v1h-1zM6 23h4v1h-4zM24 23h1v1h-1zM8 24h2v1h-2zM10 26h1v1h-1zM14 26h2v1h-2zM36 26h4v1h-4zM10 27h1v1h-1zM14 27h2v1h-2zM36 27h4v1h-4zM10 28h1v1h-1zM14 28h1v1h-1zM26 28h1v1h-1zM36 28h4v1h-4zM11 29h3v1h-3zM29 29h1v1h-1zM35 29h1v1h-1z"/><path fill="#00feb0" d="M6 4h3v1h-3zM5 5h1v1h-1zM9 5h1v1h-1zM30 5h1v1h-1zM34 5h1v1h-1zM29 6h1v1h-1zM35 6h1v1h-1zM29 7h1v1h-1zM35 7h1v1h-1zM29 8h1v1h-1zM35 8h1v1h-1zM6 9h3v1h-3zM30 9h1v1h-1zM35 9h1v1h-1zM31 10h9v1h-9zM23 11h3v1h-3zM39 11h1v1h-1zM25 12h1v1h-1zM35 13h3v1h-3zM31 15h3v1h-3zM31 16h3v1h-3zM31 17h3v1h-3zM31 18h3v1h-3zM30 19h1v1h-1zM29 20h1v1h-1zM27 21h2v1h-2zM26 22h3v1h-3zM27 23h2v1h-2zM30 24h1v1h-1zM34 24h1v1h-1z"/><path fill="#00ff32" d="M6 5h1v1h-1zM8 5h1v1h-1zM31 6h3v1h-3zM31 7h3v1h-3zM31 8h3v1h-3zM31 11h3v1h-3zM38 11h1v1h-1zM30 12h6v1h-6zM31 20h3v1h-3zM30 21h1v1h-1zM30 22h1v1h-1zM34 22h1v1h-1zM30 23h1v1h-1z"/><path fill="#00ff00" d="M7 5h1v1h-1zM6 6h3v1h-3zM6 7h3v1h-3zM6 8h3v1h-3zM34 11h4v1h-4zM36 12h4v1h-4zM39 13h1v1h-1zM31 21h3v1h-3zM31 22h3v1h-3zM31 23h3v1h-3z"/><path fill="#00ff75" d="M31 5h3v1h-3zM5 6h1v1h-1zM9 6h1v1h-1zM30 6h1v1h-1zM34 6h1v1h-1zM5 7h1v1h-1zM9 7h1v1h-1zM30 7h1v1h-1zM34 7h1v1h-1zM5 8h1v1h-1zM9 8h1v1h-1zM30 8h1v1h-1zM34 8h1v1h-1zM31 9h4v1h-4zM26 11h5v1h-5zM26 12h4v1h-4zM38 13h1v1h-1zM31 19h3v1h-3zM30 20h1v1h-1zM34 20h1v1h-1zM29 21h1v1h-1zM34 21h1v1h-1zM29 22h1v1h-1zM29 23h1v1h-1zM34 23h1v1h-1zM31 24h3v1h-3z"/><path fill="#0066ff" d="M11 10h3v1h-3zM5 11h1v1h-1zM11 11h3v1h-3zM11 12h3v1h-3zM11 13h3v1h-3zM4 14h1v1h-1zM13 14h1v1h-1zM14 15h1v1h-1zM14 16h1v1h-1zM14 17h1v1h-1zM14 18h1v1h-1zM13 19h2v1h-2zM9 20h1v1h-1zM20 20h4v1h-4zM6 21h1v1h-1zM15 21h1v1h-1zM15 22h1v1h-1zM15 23h1v1h-1zM6 24h2v1h-2zM15 24h1v1h-1zM24 24h1v1h-1zM7 25h3v1h-3zM15 25h4v1h-4zM9 26h1v1h-1zM16 26h3v1h-3zM25 26h1v1h-1zM9 27h1v1h-1zM16 27h3v1h-3zM25 27h1v1h-1zM9 28h1v1h-1zM15 28h4v1h-4zM25 28h1v1h-1zM10 29h1v1h-1zM14 29h1v1h-1zM26 29h3v1h-3zM36 29h4v1h-4zM31 30h3v1h-3z"/><path fill="#1238ff" d="M6 11h4v1h-4zM9 12h1v1h-1zM9 13h1v1h-1zM5 14h1v1h-1zM10 15h2v1h-2zM11 16h3v1h-3zM11 17h3v1h-3zM11 18h3v1h-3zM5 20h1v1h-1zM5 24h1v1h-1zM20 24h4v1h-4zM5 25h1v1h-1zM24 25h1v1h-1zM19 28h1v1h-1zM6 29h3v1h-3zM19 29h1v1h-1zM25 29h1v1h-1zM10 30h1v1h-1zM15 30h1v1h-1zM29 30h1v1h-1zM35 30h1v1h-1zM10 31h5v1h-5zM31 31h4v1h-4zM11 32h3v1h-3zM31 32h3v1h-3zM11 33h3v1h-3zM31 33h3v1h-3zM31 34h3v1h-3z"/><path fill="#0050ff" d="M10 11h1v1h-1zM5 12h1v1h-1zM10 12h1v1h-1zM5 13h1v1h-1zM10 13h1v1h-1zM10 14h3v1h-3zM12 15h2v1h-2zM10 19h3v1h-3zM6 20h3v1h-3zM5 21h1v1h-1zM16 21h8v1h-8zM5 22h1v1h-1zM16 22h8v1h-8zM5 23h1v1h-1zM16 23h8v1h-8zM16 24h4v1h-4zM6 25h1v1h-1zM19 25h1v1h-1zM6 26h3v1h-3zM19 26h1v1h-1zM6 27h3v1h-3zM19 27h1v1h-1zM6 28h3v1h-3zM9 29h1v1h-1zM15 29h4v1h-4zM11 30h4v1h-4zM30 30h1v1h-1zM34 30h1v1h-1z"/><path fill="#2420ff" d="M6 12h3v1h-3zM6 13h3v1h-3zM6 14h1v1h-1zM8 14h2v1h-2zM10 16h1v1h-1zM10 17h1v1h-1zM10 18h1v1h-1zM6 19h4v1h-4zM20 25h1v1h-1zM5 26h1v1h-1zM24 26h1v1h-1zM5 27h1v1h-1zM24 27h1v1h-1zM5 28h1v1h-1zM24 28h1v1h-1zM5 29h1v1h-1zM6 30h4v1h-4zM16 30h3v1h-3zM26 30h3v1h-3zM36 30h4v1h-4zM9 31h1v1h-1zM15 31h1v1h-1zM30 31h1v1h-1zM35 31h1v1h-1zM9 32h2v1h-2zM14 32h2v1h-2zM30 32h1v1h-1zM34 32h2v1h-2zM10 33h1v1h-1zM14 33h1v1h-1zM30 33h1v1h-1zM34 33h2v1h-2zM11 34h4v1h-4zM30 34h1v1h-1zM34 34h1v1h-1zM30 35h5v1h-5zM30 36h4v1h-4zM30 37h4v1h-4zM30 38h4v1h-4zM30 39h4v1h-4z"/><path fill="#3710ff" d="M7 14h1v1h-1zM0 15h10v1h-10zM9 16h1v1h-1zM9 17h1v1h-1zM9 18h1v1h-1zM5 19h1v1h-1zM21 25h3v1h-3zM20 26h1v1h-1zM20 27h1v1h-1zM20 28h1v1h-1zM20 29h1v1h-1zM24 29h1v1h-1zM5 30h1v1h-1zM19 30h1v1h-1zM25 30h1v1h-1zM6 31h3v1h-3zM16 31h3v1h-3zM29 31h1v1h-1zM36 31h4v1h-4zM6 32h3v1h-3zM16 32h3v1h-3zM29 32h1v1h-1zM36 32h4v1h-4zM6 33h4v1h-4zM15 33h4v1h-4zM29 33h1v1h-1zM36 33h4v1h-4zM9 34h2v1h-2zM15 34h4v1h-4zM29 34h1v1h-1zM35 34h5v1h-5zM26 35h4v1h-4zM35 35h1v1h-1zM26 36h4v1h-4zM34 36h2v1h-2zM26 37h4v1h-4zM34 37h2v1h-2zM26 38h4v1h-4zM34 38h2v1h-2zM26 39h4v1h-4zM34 39h2v1h-2z"/><path fill="#7100ff" d="M0 16h3v1h-3zM0 17h4v1h-4zM0 18h4v1h-4zM0 19h4v1h-4zM0 20h4v1h-4zM0 21h4v1h-4zM0 22h4v1h-4zM0 23h4v1h-4zM0 24h4v1h-4zM0 25h4v1h-4zM0 26h4v1h-4zM0 27h4v1h-4zM0 28h4v1h-4zM0 29h4v1h-4zM0 30h4v1h-4zM0 31h4v1h-4zM21 31h3v1h-3zM0 32h4v1h-4zM21 32h3v1h-3zM0 33h4v1h-4zM21 33h3v1h-3zM0 34h4v1h-4zM21 34h3v1h-3z"/><path fill="#5f00ff" d="M3 16h2v1h-2zM4 17h2v1h-2zM4 18h1v1h-1zM4 19h1v1h-1zM4 29h1v1h-1zM22 29h1v1h-1zM4 30h1v1h-1zM21 30h3v1h-3zM4 31h1v1h-1zM20 31h1v1h-1zM24 31h1v1h-1zM4 32h1v1h-1zM20 32h1v1h-1zM24 32h2v1h-2zM4 33h1v1h-1zM20 33h1v1h-1zM24 33h2v1h-2zM4 34h1v1h-1zM20 34h1v1h-1zM24 34h1v1h-1zM0 35h6v1h-6zM20 35h5v1h-5zM0 36h15v1h-15zM20 36h4v1h-4zM0 37h15v1h-15zM20 37h4v1h-4zM0 38h15v1h-15zM20 38h4v1h-4zM0 39h15v1h-15zM20 39h4v1h-4z"/><path fill="#4b08ff" d="M5 16h4v1h-4zM6 17h3v1h-3zM5 18h4v1h-4zM4 20h1v1h-1zM4 21h1v1h-1zM4 22h1v1h-1zM4 23h1v1h-1zM4 24h1v1h-1zM4 25h1v1h-1zM4 26h1v1h-1zM21 26h3v1h-3zM4 27h1v1h-1zM21 27h3v1h-3zM4 28h1v1h-1zM21 28h3v1h-3zM21 29h1v1h-1zM23 29h1v1h-1zM20 30h1v1h-1zM24 30h1v1h-1zM5 31h1v1h-1zM19 31h1v1h-1zM25 31h4v1h-4zM5 32h1v1h-1zM19 32h1v1h-1zM26 32h3v1h-3zM5 33h1v1h-1zM19 33h1v1h-1zM26 33h3v1h-3zM5 34h4v1h-4zM19 34h1v1h-1zM25 34h4v1h-4zM6 35h14v1h-14zM25 35h1v1h-1zM36 35h4v1h-4zM15 36h5v1h-5zM24 36h2v1h-2zM36 36h4v1h-4zM15 37h5v1h-5zM24 37h2v1h-2zM36 37h4v1h-4zM15 38h5v1h-5zM24 38h2v1h-2zM36 38h4v1h-4zM15 39h5v1h-5zM24 39h2v1h-2zM36 39h4v1h-4z"/>
</svg>
<svg x="599.8" y="466.2" width="311.1" height="299.1" viewBox="0 0 40 40" preserveAspectRatio="none">
<path d="M0.00 14.65 1.00 14.85 1.60 14.80 2.30 14.85 3.50 14.75 4.50 14.75 5.50 14.65 6.40 14.55 6.70 15.00 7.00 15.20 7.30 15.60 7.50 16.10 8.20 16.40 8.60 16.70 9.00 17.20 9.80 17.10 10.30 17.10 9.60 17.60 9.00 17.70 9.40 18.30 10.00 18.90 10.80 19.30 11.50 19.10 12.10 18.80 12.30 18.30 12.60 17.70 12.90 18.20 12.60 18.70 12.90 19.50 12.80 20.40 12.90 21.00 13.10 21.80 13.30 22.70 13.50 23.60 13.80 24.40 14.10 25.10 14.40 25.80 14.70 26.70 14.80 27.40 15.20 28.00 15.60 28.60 15.90 29.20 16.20 30.00 16.40 30.70 16.80 31.30 17.30 31.80 17.60 31.90 18.10 31.50 18.20 31.10 18.40 30.80 19.00 30.70 19.30 30.30 19.60 29.70 19.85 29.65 19.80 29.00 19.80 28.40 20.10 27.60 20.30 26.70 20.20 26.00 20.10 25.30 20.20 24.60 20.50 24.10 21.00 23.80 21.50 23.60 22.20 23.40 22.30 23.00 22.90 22.70 23.50 22.20 24.10 21.70 24.70 21.00 25.20 20.50 25.90 20.20 26.40 20.00 26.90 19.40 27.00 18.80 27.20 18.50 27.90 18.30 28.30 18.40 28.80 18.40 29.20 18.30 29.80 18.10 30.30 18.10 30.70 17.70 31.00 17.30 31.50 17.40 31.90 18.00 32.00 18.70 32.30 19.30 32.70 19.80 33.10 20.10 33.60 20.70 33.90 21.20 34.30 21.80 34.50 22.60 34.60 23.40 34.30 24.00 34.80 24.20 35.30 24.30 35.90 24.00 36.40 23.60 36.90 23.00 37.40 23.40 37.70 24.00 37.80 25.00 38.00 25.80 38.30 26.60 38.60 27.50 38.70 28.40 38.50 29.40 38.30 30.40 38.40 31.40 38.30 32.00 38.70 32.10 39.10 32.60 39.60 33.10 40.00 33.50M40.00 26.50 39.80 27.40 39.50 28.40 39.20 29.40 39.20 30.40 39.80 30.80 40.00 31.00M19.90 30.20 20.30 30.20 20.80 30.80 21.20 31.50 21.40 32.00 21.80 32.60 21.90 33.20 21.60 33.60 21.10 33.90 20.60 34.05 20.10 33.80 19.90 33.20 19.80 32.40 19.80 31.80 19.90 31.10 19.70 30.50 19.90 30.20M35.30 34.40 36.00 34.70 36.80 34.80 37.50 34.80 38.00 35.40 38.60 36.10 39.30 36.70 40.00 37.20M35.30 34.40 35.20 34.90 35.60 35.40 36.20 36.00 36.90 36.60 37.60 37.30 38.30 38.00 38.90 38.50 39.30 39.20 39.70 40.00" fill="none" stroke="#111" stroke-width="1.1" vector-effect="non-scaling-stroke" stroke-linejoin="round"/>
<path d="M1.00 0.00 2.30 0.60 3.60 1.10 4.60 1.70 5.70 2.20 6.50 2.60M1.20 4.40 2.30 4.70 3.10 4.10 4.50 3.70 5.60 2.80 6.60 2.60 7.80 2.80 8.90 2.70 9.50 2.40 10.30 2.00 11.40 2.10 11.60 2.90 12.60 3.00 13.80 2.60 14.90 2.80M1.20 4.40 0.70 5.60 0.90 6.50 0.60 7.50 1.30 8.60 1.70 8.70 0.90 10.20 1.40 10.60 1.80 11.40 2.60 11.70 2.80 12.70 3.30 12.90 3.20 13.40 2.30 13.60 1.80 14.10 1.60 14.80M0.90 10.20 2.50 10.60 4.00 10.50 5.00 10.40 6.30 10.10 6.50 9.00 7.80 8.50 8.80 8.30 9.30 8.00 9.50 7.00 10.00 6.20 11.10 5.70 11.50 5.00 11.50 4.00 12.40 3.40 13.60 3.10 14.90 2.80M8.40 16.30 9.30 15.80 10.50 15.70 11.00 15.40 10.80 14.60 10.30 14.20 10.00 13.50 9.60 12.90 10.30 12.10 11.30 12.10 12.00 11.80 12.90 11.00 13.40 10.10 13.90 9.60 14.60 9.00 14.60 8.10 15.00 7.50 14.40 6.90 14.00 6.50 14.00 5.90 13.90 5.40 14.70 5.00 15.80 4.60 17.00 4.50M14.90 2.80 15.20 3.20 16.20 3.90 17.00 4.50 18.10 4.50 19.00 5.60 18.70 6.50 18.90 7.60 18.60 8.20 19.30 9.00 20.20 9.40 21.00 9.80M20.20 9.60 21.10 9.90 22.10 9.70 23.30 10.50 24.20 10.80 25.10 11.30 26.00 12.00 27.00 12.10 28.10 12.10M20.10 10.00 20.10 11.20 21.00 11.60 22.00 12.10 23.30 12.60 24.50 12.60 25.20 13.20 26.00 13.40 27.20 13.60 28.10 13.50 28.10 12.10M28.10 12.10 28.80 11.90 29.50 11.80 30.50 12.00 31.60 12.10 32.50 12.10 33.40 11.50 34.30 10.90 35.30 10.90 36.20 10.60 36.80 11.40 37.30 11.80M28.80 12.90 29.80 13.30 31.00 13.20 32.10 13.10 32.00 12.50 31.60 12.10M37.30 11.80 38.40 12.40 38.70 13.60 37.80 14.70 37.60 16.00 38.80 15.90 39.50 17.10 39.90 18.00 40.00 18.20M37.30 11.80 37.00 12.40 36.00 12.80 35.20 13.40 34.60 14.60 34.20 16.00 33.40 16.30 33.20 17.70 32.70 18.00 32.60 18.70M28.10 13.50 28.50 14.00 29.80 14.00 29.90 14.70 31.00 14.80 32.00 14.80 32.40 15.20 32.20 16.00 31.90 16.30 31.60 17.00 31.90 18.00M28.50 14.00 28.10 14.40 28.80 15.00 28.50 15.70 28.80 16.50 28.90 17.40 29.00 18.20M32.20 16.00 32.40 17.00 32.60 18.00M40.00 19.80 38.90 20.30 37.80 21.40 37.60 23.00 38.60 23.80 38.20 24.80 39.10 26.00 39.20 27.10 39.40 29.00 38.80 29.60 38.60 30.00M40.00 18.20 40.00 19.80" fill="none" stroke="#222" stroke-width="0.9" vector-effect="non-scaling-stroke" stroke-linejoin="round"/>
<path d="M32.70 26.50 32.90 27.20 32.80 28.00 32.60 28.60 32.60 29.10M33.50 30.80 33.40 31.10M33.80 32.70 33.90 33.10M36.00 37.10 36.50 37.60M37.20 38.50 37.70 39.10" fill="none" stroke="#111" stroke-width="1.8" stroke-dasharray="3 2" vector-effect="non-scaling-stroke"/>
</svg>
<polygon points="751.46,538.96 753.18,543.10 757.64,543.45 754.24,546.37 755.28,550.72 751.46,548.39 747.64,550.72 748.68,546.37 745.28,543.45 749.74,543.10" fill="#fff"/>
<rect x="599.8" y="466.2" width="311.1" height="299.1" fill="none" stroke="#000" stroke-width="2.6"/>
<path d="M599.8 765.3v9.5M599.8 765.3h-9.5M638.7 765.3v5.5M599.8 727.9h-5.5M677.6 765.3v9.5M599.8 690.5h-9.5M716.5 765.3v5.5M599.8 653.1h-5.5M755.3 765.3v9.5M599.8 615.8h-9.5M794.2 765.3v5.5M599.8 578.4h-5.5M833.1 765.3v9.5M599.8 541.0h-9.5M872.0 765.3v5.5M599.8 503.6h-5.5M910.9 765.3v9.5M599.8 466.2h-9.5" stroke="#000" stroke-width="2.4" fill="none"/>
<text x="599.8" y="798.8" text-anchor="middle" font-size="25.5" textLength="26.5" lengthAdjust="spacingAndGlyphs">60</text>
<text x="677.6" y="798.8" text-anchor="middle" font-size="25.5" textLength="26.5" lengthAdjust="spacingAndGlyphs">70</text>
<text x="755.3" y="798.8" text-anchor="middle" font-size="25.5" textLength="26.5" lengthAdjust="spacingAndGlyphs">80</text>
<text x="833.1" y="798.8" text-anchor="middle" font-size="25.5" textLength="26.5" lengthAdjust="spacingAndGlyphs">90</text>
<text x="910.9" y="798.8" text-anchor="middle" font-size="25.5" textLength="39.8" lengthAdjust="spacingAndGlyphs">100</text>
<text x="585.3" y="774.1" text-anchor="end" font-size="25.5">0</text>
<text x="585.3" y="699.3" text-anchor="end" font-size="25.5">10</text>
<text x="585.3" y="624.5" text-anchor="end" font-size="25.5">20</text>
<text x="585.3" y="549.8" text-anchor="end" font-size="25.5">30</text>
<text x="585.3" y="475.0" text-anchor="end" font-size="25.5">40</text>
<text x="599.1" y="459.0" font-size="25.0" textLength="51.4" lengthAdjust="spacingAndGlyphs">June</text>
<svg x="984.6" y="470.2" width="320.8" height="308.1" viewBox="0 0 40 40" preserveAspectRatio="none" shape-rendering="crispEdges">
<path fill="#1238ff" d="M0 0h4v1h-4zM0 1h4v1h-4zM0 2h4v1h-4zM0 3h4v1h-4zM4 5h1v1h-1zM4 6h1v1h-1zM4 7h1v1h-1zM4 8h1v1h-1zM4 9h1v1h-1zM4 10h3v1h-3zM0 11h4v1h-4zM0 12h4v1h-4zM10 12h1v1h-1zM0 13h4v1h-4zM10 13h1v1h-1zM9 14h1v1h-1zM5 15h4v1h-4zM5 16h1v1h-1zM5 17h1v1h-1zM5 18h1v1h-1zM6 19h2v1h-2zM7 20h2v1h-2zM9 24h1v1h-1zM21 26h1v1h-1zM23 26h1v1h-1zM20 27h1v1h-1zM20 28h1v1h-1zM10 29h1v1h-1zM10 30h2v1h-2zM14 30h5v1h-5zM27 30h2v1h-2zM11 31h4v1h-4zM36 31h4v1h-4zM11 32h3v1h-3zM36 32h4v1h-4zM11 33h3v1h-3zM36 33h4v1h-4zM30 34h1v1h-1zM35 34h5v1h-5zM30 35h1v1h-1zM35 35h5v1h-5zM30 36h1v1h-1zM35 36h5v1h-5zM30 37h1v1h-1zM35 37h5v1h-5zM30 38h1v1h-1zM35 38h5v1h-5zM30 39h1v1h-1zM35 39h5v1h-5z"/><path fill="#0050ff" d="M4 0h1v1h-1zM4 1h1v1h-1zM4 2h1v1h-1zM4 3h1v1h-1zM4 4h1v1h-1zM7 10h3v1h-3zM10 11h3v1h-3zM11 12h3v1h-3zM11 13h3v1h-3zM6 16h3v1h-3zM6 17h3v1h-3zM6 18h3v1h-3zM8 19h1v1h-1zM9 21h1v1h-1zM9 22h1v1h-1zM9 23h1v1h-1zM10 26h1v1h-1zM20 26h1v1h-1zM24 26h1v1h-1zM10 27h1v1h-1zM24 27h1v1h-1zM10 28h1v1h-1zM24 28h1v1h-1zM11 29h3v1h-3zM19 29h1v1h-1zM12 30h2v1h-2zM29 30h1v1h-1zM30 31h1v1h-1zM35 31h1v1h-1zM30 32h1v1h-1zM34 32h2v1h-2zM30 33h1v1h-1zM34 33h2v1h-2zM34 34h1v1h-1zM31 35h4v1h-4zM31 36h4v1h-4zM31 37h4v1h-4zM31 38h4v1h-4zM31 39h4v1h-4z"/><path fill="#0091ff" d="M5 0h1v1h-1zM5 1h1v1h-1zM5 2h1v1h-1zM5 3h1v1h-1zM5 4h1v1h-1zM5 5h1v1h-1zM5 6h1v1h-1zM5 7h1v1h-1zM5 8h1v1h-1zM6 9h2v1h-2zM11 10h3v1h-3zM14 14h1v1h-1zM10 15h1v1h-1zM36 16h1v1h-1zM36 19h4v1h-4zM37 20h3v1h-3zM10 24h1v1h-1zM14 25h2v1h-2zM18 25h2v1h-2zM15 26h4v1h-4zM25 26h1v1h-1zM16 27h3v1h-3zM25 27h1v1h-1zM16 28h3v1h-3zM25 28h1v1h-1zM28 29h3v1h-3z"/><path fill="#00a5ff" d="M6 0h3v1h-3zM6 1h3v1h-3zM6 2h3v1h-3zM6 3h3v1h-3zM6 4h1v1h-1zM8 9h1v1h-1zM14 10h1v1h-1zM15 12h1v1h-1zM15 13h1v1h-1zM11 15h3v1h-3zM10 16h1v1h-1zM35 16h1v1h-1zM10 17h1v1h-1zM35 17h1v1h-1zM10 18h1v1h-1zM35 18h1v1h-1zM10 19h1v1h-1zM35 19h1v1h-1zM10 20h1v1h-1zM36 20h1v1h-1zM10 21h1v1h-1zM36 21h4v1h-4zM10 22h1v1h-1zM36 22h4v1h-4zM10 23h1v1h-1zM36 23h4v1h-4zM11 24h1v1h-1zM15 24h7v1h-7zM16 25h2v1h-2zM26 28h1v1h-1zM31 29h9v1h-9z"/><path fill="#00b9ff" d="M9 0h1v1h-1zM16 0h3v1h-3zM9 1h1v1h-1zM16 1h3v1h-3zM9 2h1v1h-1zM16 2h3v1h-3zM9 3h1v1h-1zM16 3h3v1h-3zM7 4h3v1h-3zM6 5h2v1h-2zM6 8h1v1h-1zM9 9h1v1h-1zM15 11h1v1h-1zM15 14h1v1h-1zM14 15h1v1h-1zM36 15h4v1h-4zM26 16h3v1h-3zM26 17h3v1h-3zM26 18h3v1h-3zM35 20h1v1h-1zM15 21h4v1h-4zM15 22h4v1h-4zM11 23h1v1h-1zM15 23h5v1h-5zM12 24h3v1h-3zM22 24h2v1h-2zM36 24h4v1h-4zM25 25h1v1h-1zM36 25h4v1h-4zM26 26h9v1h-9zM26 27h9v1h-9zM27 28h9v1h-9z"/><path fill="#00d3ff" d="M10 0h1v1h-1zM14 0h2v1h-2zM19 0h1v1h-1zM10 1h1v1h-1zM14 1h2v1h-2zM19 1h1v1h-1zM10 2h1v1h-1zM14 2h2v1h-2zM19 2h1v1h-1zM10 3h1v1h-1zM15 3h1v1h-1zM19 3h1v1h-1zM16 4h3v1h-3zM8 5h2v1h-2zM6 6h3v1h-3zM6 7h3v1h-3zM7 8h2v1h-2zM10 9h1v1h-1zM15 10h1v1h-1zM16 11h4v1h-4zM16 12h4v1h-4zM16 13h4v1h-4zM26 14h3v1h-3zM25 15h5v1h-5zM35 15h1v1h-1zM11 16h3v1h-3zM25 16h1v1h-1zM29 16h1v1h-1zM11 17h3v1h-3zM25 17h1v1h-1zM29 17h1v1h-1zM11 18h3v1h-3zM25 18h1v1h-1zM29 18h1v1h-1zM11 19h3v1h-3zM11 20h8v1h-8zM11 21h4v1h-4zM19 21h1v1h-1zM35 21h1v1h-1zM11 22h4v1h-4zM19 22h2v1h-2zM35 22h1v1h-1zM12 23h3v1h-3zM20 23h1v1h-1zM35 23h1v1h-1zM24 24h1v1h-1zM35 24h1v1h-1zM26 25h1v1h-1zM30 25h6v1h-6zM35 26h5v1h-5zM35 27h5v1h-5zM36 28h4v1h-4z"/><path fill="#00edff" d="M11 0h3v1h-3zM20 0h1v1h-1zM11 1h3v1h-3zM20 1h1v1h-1zM11 2h3v1h-3zM20 2h1v1h-1zM14 3h1v1h-1zM20 3h1v1h-1zM10 4h1v1h-1zM19 4h1v1h-1zM9 6h1v1h-1zM9 7h1v1h-1zM9 8h1v1h-1zM11 9h4v1h-4zM16 10h3v1h-3zM20 11h1v1h-1zM20 12h4v1h-4zM20 13h14v1h-14zM16 14h5v1h-5zM24 14h2v1h-2zM29 14h2v1h-2zM15 15h1v1h-1zM34 15h1v1h-1zM14 16h1v1h-1zM34 16h1v1h-1zM14 17h1v1h-1zM34 17h1v1h-1zM14 18h1v1h-1zM34 18h1v1h-1zM14 19h2v1h-2zM25 19h5v1h-5zM34 19h1v1h-1zM19 20h2v1h-2zM20 21h4v1h-4zM21 22h3v1h-3zM21 23h3v1h-3zM34 24h1v1h-1zM27 25h3v1h-3z"/><path fill="#00fbe5" d="M21 0h4v1h-4zM21 1h4v1h-4zM21 2h4v1h-4zM21 3h4v1h-4zM11 4h1v1h-1zM15 4h1v1h-1zM20 4h4v1h-4zM10 5h1v1h-1zM17 5h4v1h-4zM15 9h3v1h-3zM22 9h2v1h-2zM19 10h1v1h-1zM24 10h10v1h-10zM21 11h1v1h-1zM24 12h1v1h-1zM34 13h1v1h-1zM21 14h3v1h-3zM31 14h9v1h-9zM16 15h9v1h-9zM30 15h4v1h-4zM15 16h1v1h-1zM24 16h1v1h-1zM30 16h1v1h-1zM15 17h1v1h-1zM24 17h1v1h-1zM30 17h1v1h-1zM15 18h1v1h-1zM24 18h1v1h-1zM30 18h1v1h-1zM16 19h9v1h-9zM21 20h4v1h-4zM34 20h1v1h-1zM24 21h1v1h-1zM34 21h1v1h-1zM24 22h1v1h-1zM34 22h1v1h-1zM24 23h1v1h-1zM34 23h1v1h-1zM25 24h1v1h-1zM33 24h1v1h-1z"/><path fill="#00feb0" d="M25 0h5v1h-5zM25 1h5v1h-5zM25 2h5v1h-5zM11 3h3v1h-3zM25 3h5v1h-5zM12 4h3v1h-3zM24 4h2v1h-2zM11 5h6v1h-6zM21 5h4v1h-4zM10 6h1v1h-1zM15 6h9v1h-9zM10 7h1v1h-1zM15 7h9v1h-9zM10 8h2v1h-2zM14 8h4v1h-4zM19 8h6v1h-6zM18 9h1v1h-1zM21 9h1v1h-1zM24 9h2v1h-2zM23 10h1v1h-1zM34 10h1v1h-1zM25 12h1v1h-1zM16 16h8v1h-8zM31 16h3v1h-3zM16 17h8v1h-8zM31 17h3v1h-3zM16 18h8v1h-8zM31 18h3v1h-3zM30 19h4v1h-4zM25 20h5v1h-5zM33 20h1v1h-1zM26 24h7v1h-7z"/><path fill="#00ff75" d="M30 0h4v1h-4zM30 1h4v1h-4zM30 2h4v1h-4zM30 3h4v1h-4zM26 4h5v1h-5zM25 5h4v1h-4zM11 6h4v1h-4zM24 6h2v1h-2zM36 6h4v1h-4zM11 7h4v1h-4zM24 7h2v1h-2zM36 7h4v1h-4zM12 8h2v1h-2zM18 8h1v1h-1zM25 8h1v1h-1zM36 8h4v1h-4zM19 9h2v1h-2zM26 9h5v1h-5zM35 9h5v1h-5zM20 10h3v1h-3zM35 10h1v1h-1zM22 11h10v1h-10zM26 12h6v1h-6zM33 12h3v1h-3zM35 13h1v1h-1zM30 20h3v1h-3zM25 21h1v1h-1zM30 21h4v1h-4zM25 22h1v1h-1zM30 22h4v1h-4zM25 23h1v1h-1zM29 23h5v1h-5z"/><path fill="#00ff32" d="M34 0h1v1h-1zM34 1h1v1h-1zM34 2h1v1h-1zM34 3h1v1h-1zM31 4h4v1h-4zM29 5h11v1h-11zM26 6h4v1h-4zM34 6h2v1h-2zM26 7h4v1h-4zM34 7h2v1h-2zM26 8h4v1h-4zM34 8h2v1h-2zM31 9h4v1h-4zM36 10h4v1h-4zM32 11h8v1h-8zM32 12h1v1h-1zM36 12h4v1h-4zM36 13h4v1h-4zM26 21h4v1h-4zM26 22h4v1h-4zM26 23h3v1h-3z"/><path fill="#00ff00" d="M35 0h5v1h-5zM35 1h5v1h-5zM35 2h5v1h-5zM35 3h5v1h-5zM35 4h5v1h-5zM30 6h4v1h-4zM30 7h4v1h-4zM30 8h4v1h-4z"/><path fill="#2420ff" d="M0 4h4v1h-4zM0 10h4v1h-4zM4 11h2v1h-2zM9 11h1v1h-1zM4 12h2v1h-2zM9 12h1v1h-1zM4 13h2v1h-2zM9 13h1v1h-1zM0 14h9v1h-9zM5 19h1v1h-1zM5 20h2v1h-2zM6 21h3v1h-3zM6 22h3v1h-3zM6 23h3v1h-3zM8 24h1v1h-1zM9 25h1v1h-1zM9 26h1v1h-1zM22 26h1v1h-1zM21 27h3v1h-3zM21 28h3v1h-3zM20 29h1v1h-1zM24 29h1v1h-1zM9 30h1v1h-1zM19 30h1v1h-1zM25 30h2v1h-2zM9 31h2v1h-2zM15 31h1v1h-1zM29 31h1v1h-1zM9 32h2v1h-2zM14 32h2v1h-2zM9 33h2v1h-2zM14 33h2v1h-2zM9 34h6v1h-6zM29 34h1v1h-1zM6 35h8v1h-8zM29 35h1v1h-1zM6 36h4v1h-4zM29 36h1v1h-1zM6 37h4v1h-4zM29 37h1v1h-1zM6 38h4v1h-4zM29 38h1v1h-1zM6 39h4v1h-4zM29 39h1v1h-1z"/><path fill="#3710ff" d="M0 5h4v1h-4zM3 6h1v1h-1zM0 9h4v1h-4zM6 11h3v1h-3zM6 12h3v1h-3zM6 13h3v1h-3zM0 15h5v1h-5zM4 16h1v1h-1zM4 17h1v1h-1zM4 18h1v1h-1zM4 19h1v1h-1zM5 21h1v1h-1zM5 22h1v1h-1zM5 23h1v1h-1zM5 24h3v1h-3zM7 25h2v1h-2zM9 27h1v1h-1zM9 28h1v1h-1zM9 29h1v1h-1zM21 29h3v1h-3zM6 30h3v1h-3zM6 31h3v1h-3zM16 31h3v1h-3zM28 31h1v1h-1zM6 32h3v1h-3zM16 32h3v1h-3zM29 32h1v1h-1zM6 33h3v1h-3zM16 33h3v1h-3zM29 33h1v1h-1zM5 34h4v1h-4zM15 34h4v1h-4zM5 35h1v1h-1zM14 35h2v1h-2zM26 35h3v1h-3zM5 36h1v1h-1zM10 36h5v1h-5zM25 36h4v1h-4zM4 37h2v1h-2zM10 37h5v1h-5zM25 37h4v1h-4zM4 38h2v1h-2zM10 38h5v1h-5zM25 38h4v1h-4zM4 39h2v1h-2zM10 39h5v1h-5zM25 39h4v1h-4z"/><path fill="#4b08ff" d="M0 6h3v1h-3zM0 7h4v1h-4zM0 8h4v1h-4zM0 16h4v1h-4zM0 17h4v1h-4zM0 18h4v1h-4zM0 19h4v1h-4zM4 20h1v1h-1zM4 21h1v1h-1zM4 22h1v1h-1zM4 23h1v1h-1zM5 25h2v1h-2zM6 26h3v1h-3zM6 27h3v1h-3zM6 28h3v1h-3zM6 29h3v1h-3zM5 30h1v1h-1zM20 30h1v1h-1zM24 30h1v1h-1zM5 31h1v1h-1zM19 31h1v1h-1zM25 31h3v1h-3zM5 32h1v1h-1zM19 32h1v1h-1zM26 32h3v1h-3zM5 33h1v1h-1zM19 33h1v1h-1zM26 33h3v1h-3zM19 34h1v1h-1zM25 34h4v1h-4zM3 35h2v1h-2zM16 35h5v1h-5zM24 35h2v1h-2zM0 36h5v1h-5zM15 36h10v1h-10zM0 37h4v1h-4zM15 37h10v1h-10zM0 38h4v1h-4zM15 38h10v1h-10zM0 39h4v1h-4zM15 39h10v1h-10z"/><path fill="#007cff" d="M5 9h1v1h-1zM10 10h1v1h-1zM14 11h1v1h-1zM14 12h1v1h-1zM14 13h1v1h-1zM11 14h3v1h-3zM9 16h1v1h-1zM37 16h3v1h-3zM9 17h1v1h-1zM36 17h4v1h-4zM9 18h1v1h-1zM36 18h4v1h-4zM11 25h3v1h-3zM24 25h1v1h-1zM14 26h1v1h-1zM19 26h1v1h-1zM14 27h2v1h-2zM19 27h1v1h-1zM15 28h1v1h-1zM26 29h2v1h-2zM31 30h4v1h-4z"/><path fill="#0066ff" d="M13 11h1v1h-1zM10 14h1v1h-1zM9 15h1v1h-1zM9 19h1v1h-1zM9 20h1v1h-1zM10 25h1v1h-1zM20 25h4v1h-4zM11 26h3v1h-3zM11 27h3v1h-3zM11 28h4v1h-4zM19 28h1v1h-1zM14 29h5v1h-5zM25 29h1v1h-1zM30 30h1v1h-1zM35 30h5v1h-5zM31 31h4v1h-4zM31 32h3v1h-3zM31 33h3v1h-3zM31 34h3v1h-3z"/><path fill="#5f00ff" d="M0 20h4v1h-4zM0 21h4v1h-4zM0 22h4v1h-4zM0 23h4v1h-4zM3 24h2v1h-2zM5 26h1v1h-1zM5 27h1v1h-1zM5 28h1v1h-1zM5 29h1v1h-1zM4 30h1v1h-1zM21 30h3v1h-3zM4 31h1v1h-1zM20 31h1v1h-1zM24 31h1v1h-1zM4 32h1v1h-1zM20 32h1v1h-1zM24 32h2v1h-2zM4 33h1v1h-1zM20 33h1v1h-1zM24 33h2v1h-2zM0 34h5v1h-5zM20 34h5v1h-5zM0 35h3v1h-3zM21 35h3v1h-3z"/><path fill="#7100ff" d="M0 24h3v1h-3zM0 25h5v1h-5zM4 26h1v1h-1zM4 27h1v1h-1zM4 28h1v1h-1zM4 29h1v1h-1zM0 30h4v1h-4zM0 31h4v1h-4zM21 31h3v1h-3zM0 32h4v1h-4zM21 32h3v1h-3zM0 33h4v1h-4zM21 33h3v1h-3z"/><path fill="#8300ff" d="M0 26h4v1h-4zM0 27h4v1h-4zM0 28h4v1h-4zM0 29h4v1h-4z"/>
</svg>
<svg x="984.6" y="470.2" width="320.8" height="308.1" viewBox="0 0 40 40" preserveAspectRatio="none">
<path d="M0.00 14.65 1.00 14.85 1.60 14.80 2.30 14.85 3.50 14.75 4.50 14.75 5.50 14.65 6.40 14.55 6.70 15.00 7.00 15.20 7.30 15.60 7.50 16.10 8.20 16.40 8.60 16.70 9.00 17.20 9.80 17.10 10.30 17.10 9.60 17.60 9.00 17.70 9.40 18.30 10.00 18.90 10.80 19.30 11.50 19.10 12.10 18.80 12.30 18.30 12.60 17.70 12.90 18.20 12.60 18.70 12.90 19.50 12.80 20.40 12.90 21.00 13.10 21.80 13.30 22.70 13.50 23.60 13.80 24.40 14.10 25.10 14.40 25.80 14.70 26.70 14.80 27.40 15.20 28.00 15.60 28.60 15.90 29.20 16.20 30.00 16.40 30.70 16.80 31.30 17.30 31.80 17.60 31.90 18.10 31.50 18.20 31.10 18.40 30.80 19.00 30.70 19.30 30.30 19.60 29.70 19.85 29.65 19.80 29.00 19.80 28.40 20.10 27.60 20.30 26.70 20.20 26.00 20.10 25.30 20.20 24.60 20.50 24.10 21.00 23.80 21.50 23.60 22.20 23.40 22.30 23.00 22.90 22.70 23.50 22.20 24.10 21.70 24.70 21.00 25.20 20.50 25.90 20.20 26.40 20.00 26.90 19.40 27.00 18.80 27.20 18.50 27.90 18.30 28.30 18.40 28.80 18.40 29.20 18.30 29.80 18.10 30.30 18.10 30.70 17.70 31.00 17.30 31.50 17.40 31.90 18.00 32.00 18.70 32.30 19.30 32.70 19.80 33.10 20.10 33.60 20.70 33.90 21.20 34.30 21.80 34.50 22.60 34.60 23.40 34.30 24.00 34.80 24.20 35.30 24.30 35.90 24.00 36.40 23.60 36.90 23.00 37.40 23.40 37.70 24.00 37.80 25.00 38.00 25.80 38.30 26.60 38.60 27.50 38.70 28.40 38.50 29.40 38.30 30.40 38.40 31.40 38.30 32.00 38.70 32.10 39.10 32.60 39.60 33.10 40.00 33.50M40.00 26.50 39.80 27.40 39.50 28.40 39.20 29.40 39.20 30.40 39.80 30.80 40.00 31.00M19.90 30.20 20.30 30.20 20.80 30.80 21.20 31.50 21.40 32.00 21.80 32.60 21.90 33.20 21.60 33.60 21.10 33.90 20.60 34.05 20.10 33.80 19.90 33.20 19.80 32.40 19.80 31.80 19.90 31.10 19.70 30.50 19.90 30.20M35.30 34.40 36.00 34.70 36.80 34.80 37.50 34.80 38.00 35.40 38.60 36.10 39.30 36.70 40.00 37.20M35.30 34.40 35.20 34.90 35.60 35.40 36.20 36.00 36.90 36.60 37.60 37.30 38.30 38.00 38.90 38.50 39.30 39.20 39.70 40.00" fill="none" stroke="#111" stroke-width="1.1" vector-effect="non-scaling-stroke" stroke-linejoin="round"/>
<path d="M1.00 0.00 2.30 0.60 3.60 1.10 4.60 1.70 5.70 2.20 6.50 2.60M1.20 4.40 2.30 4.70 3.10 4.10 4.50 3.70 5.60 2.80 6.60 2.60 7.80 2.80 8.90 2.70 9.50 2.40 10.30 2.00 11.40 2.10 11.60 2.90 12.60 3.00 13.80 2.60 14.90 2.80M1.20 4.40 0.70 5.60 0.90 6.50 0.60 7.50 1.30 8.60 1.70 8.70 0.90 10.20 1.40 10.60 1.80 11.40 2.60 11.70 2.80 12.70 3.30 12.90 3.20 13.40 2.30 13.60 1.80 14.10 1.60 14.80M0.90 10.20 2.50 10.60 4.00 10.50 5.00 10.40 6.30 10.10 6.50 9.00 7.80 8.50 8.80 8.30 9.30 8.00 9.50 7.00 10.00 6.20 11.10 5.70 11.50 5.00 11.50 4.00 12.40 3.40 13.60 3.10 14.90 2.80M8.40 16.30 9.30 15.80 10.50 15.70 11.00 15.40 10.80 14.60 10.30 14.20 10.00 13.50 9.60 12.90 10.30 12.10 11.30 12.10 12.00 11.80 12.90 11.00 13.40 10.10 13.90 9.60 14.60 9.00 14.60 8.10 15.00 7.50 14.40 6.90 14.00 6.50 14.00 5.90 13.90 5.40 14.70 5.00 15.80 4.60 17.00 4.50M14.90 2.80 15.20 3.20 16.20 3.90 17.00 4.50 18.10 4.50 19.00 5.60 18.70 6.50 18.90 7.60 18.60 8.20 19.30 9.00 20.20 9.40 21.00 9.80M20.20 9.60 21.10 9.90 22.10 9.70 23.30 10.50 24.20 10.80 25.10 11.30 26.00 12.00 27.00 12.10 28.10 12.10M20.10 10.00 20.10 11.20 21.00 11.60 22.00 12.10 23.30 12.60 24.50 12.60 25.20 13.20 26.00 13.40 27.20 13.60 28.10 13.50 28.10 12.10M28.10 12.10 28.80 11.90 29.50 11.80 30.50 12.00 31.60 12.10 32.50 12.10 33.40 11.50 34.30 10.90 35.30 10.90 36.20 10.60 36.80 11.40 37.30 11.80M28.80 12.90 29.80 13.30 31.00 13.20 32.10 13.10 32.00 12.50 31.60 12.10M37.30 11.80 38.40 12.40 38.70 13.60 37.80 14.70 37.60 16.00 38.80 15.90 39.50 17.10 39.90 18.00 40.00 18.20M37.30 11.80 37.00 12.40 36.00 12.80 35.20 13.40 34.60 14.60 34.20 16.00 33.40 16.30 33.20 17.70 32.70 18.00 32.60 18.70M28.10 13.50 28.50 14.00 29.80 14.00 29.90 14.70 31.00 14.80 32.00 14.80 32.40 15.20 32.20 16.00 31.90 16.30 31.60 17.00 31.90 18.00M28.50 14.00 28.10 14.40 28.80 15.00 28.50 15.70 28.80 16.50 28.90 17.40 29.00 18.20M32.20 16.00 32.40 17.00 32.60 18.00M40.00 19.80 38.90 20.30 37.80 21.40 37.60 23.00 38.60 23.80 38.20 24.80 39.10 26.00 39.20 27.10 39.40 29.00 38.80 29.60 38.60 30.00M40.00 18.20 40.00 19.80" fill="none" stroke="#222" stroke-width="0.9" vector-effect="non-scaling-stroke" stroke-linejoin="round"/>
<path d="M32.70 26.50 32.90 27.20 32.80 28.00 32.60 28.60 32.60 29.10M33.50 30.80 33.40 31.10M33.80 32.70 33.90 33.10M36.00 37.10 36.50 37.60M37.20 38.50 37.70 39.10" fill="none" stroke="#111" stroke-width="1.8" stroke-dasharray="3 2" vector-effect="non-scaling-stroke"/>
</svg>
<polygon points="1140.99,545.35 1142.71,549.48 1147.17,549.84 1143.77,552.75 1144.81,557.11 1140.99,554.77 1137.17,557.11 1138.21,552.75 1134.81,549.84 1139.27,549.48" fill="#fff"/>
<rect x="984.6" y="470.2" width="320.8" height="308.1" fill="none" stroke="#000" stroke-width="2.6"/>
<path d="M984.6 778.3v9.5M984.6 778.3h-9.5M1024.7 778.3v5.5M984.6 739.8h-5.5M1064.8 778.3v9.5M984.6 701.3h-9.5M1104.9 778.3v5.5M984.6 662.8h-5.5M1145.0 778.3v9.5M984.6 624.2h-9.5M1185.1 778.3v5.5M984.6 585.7h-5.5M1225.2 778.3v9.5M984.6 547.2h-9.5M1265.3 778.3v5.5M984.6 508.7h-5.5M1305.4 778.3v9.5M984.6 470.2h-9.5" stroke="#000" stroke-width="2.4" fill="none"/>
<text x="984.6" y="811.8" text-anchor="middle" font-size="25.5" textLength="26.5" lengthAdjust="spacingAndGlyphs">60</text>
<text x="1064.8" y="811.8" text-anchor="middle" font-size="25.5" textLength="26.5" lengthAdjust="spacingAndGlyphs">70</text>
<text x="1145.0" y="811.8" text-anchor="middle" font-size="25.5" textLength="26.5" lengthAdjust="spacingAndGlyphs">80</text>
<text x="1225.2" y="811.8" text-anchor="middle" font-size="25.5" textLength="26.5" lengthAdjust="spacingAndGlyphs">90</text>
<text x="1305.4" y="811.8" text-anchor="middle" font-size="25.5" textLength="39.8" lengthAdjust="spacingAndGlyphs">100</text>
<text x="970.1" y="787.1" text-anchor="end" font-size="25.5">0</text>
<text x="970.1" y="710.1" text-anchor="end" font-size="25.5">10</text>
<text x="970.1" y="633.0" text-anchor="end" font-size="25.5">20</text>
<text x="970.1" y="556.0" text-anchor="end" font-size="25.5">30</text>
<text x="970.1" y="479.0" text-anchor="end" font-size="25.5">40</text>
<text x="983.5" y="459.0" font-size="25.0" textLength="47.0" lengthAdjust="spacingAndGlyphs">July</text>
<svg x="1376.5" y="466.5" width="327.7" height="312.9" viewBox="0 0 40 40" preserveAspectRatio="none" shape-rendering="crispEdges">
<path fill="#3710ff" d="M0 0h4v1h-4zM0 1h4v1h-4zM0 2h4v1h-4zM0 3h4v1h-4zM0 4h4v1h-4zM0 5h4v1h-4zM0 6h4v1h-4zM0 7h4v1h-4zM0 8h4v1h-4zM6 11h3v1h-3zM6 12h3v1h-3zM6 13h3v1h-3zM6 14h3v1h-3zM0 15h6v1h-6zM5 16h1v1h-1zM5 17h1v1h-1zM5 18h1v1h-1zM5 19h1v1h-1zM5 20h1v1h-1zM4 21h2v1h-2zM4 22h2v1h-2zM5 23h1v1h-1zM5 24h3v1h-3zM7 25h2v1h-2zM9 26h1v1h-1zM21 26h2v1h-2zM9 27h1v1h-1zM21 27h3v1h-3zM9 28h1v1h-1zM21 28h3v1h-3zM9 29h1v1h-1zM20 29h2v1h-2zM23 29h1v1h-1zM6 30h4v1h-4zM24 30h1v1h-1zM6 31h3v1h-3zM19 31h1v1h-1zM25 31h1v1h-1zM6 32h3v1h-3zM19 32h1v1h-1zM25 32h1v1h-1zM6 33h3v1h-3zM19 33h1v1h-1zM25 33h1v1h-1zM5 34h5v1h-5zM19 34h1v1h-1zM25 34h1v1h-1zM4 35h6v1h-6zM20 35h2v1h-2zM23 35h2v1h-2zM0 36h10v1h-10zM20 36h5v1h-5zM0 37h10v1h-10zM20 37h5v1h-5zM0 38h10v1h-10zM20 38h5v1h-5zM0 39h10v1h-10zM20 39h5v1h-5z"/><path fill="#2420ff" d="M4 0h1v1h-1zM4 1h1v1h-1zM4 2h1v1h-1zM4 3h1v1h-1zM0 9h4v1h-4zM5 11h1v1h-1zM9 11h1v1h-1zM5 12h1v1h-1zM9 12h1v1h-1zM5 13h1v1h-1zM9 13h1v1h-1zM5 14h1v1h-1zM9 14h1v1h-1zM6 15h3v1h-3zM6 16h3v1h-3zM6 17h3v1h-3zM6 18h3v1h-3zM6 19h3v1h-3zM6 20h3v1h-3zM6 21h3v1h-3zM6 22h3v1h-3zM6 23h3v1h-3zM8 24h1v1h-1zM9 25h1v1h-1zM20 26h1v1h-1zM23 26h1v1h-1zM20 27h1v1h-1zM20 28h1v1h-1zM24 29h1v1h-1zM18 30h2v1h-2zM9 31h2v1h-2zM15 31h4v1h-4zM26 31h3v1h-3zM9 32h2v1h-2zM15 32h4v1h-4zM26 32h4v1h-4zM9 33h2v1h-2zM15 33h4v1h-4zM26 33h4v1h-4zM10 34h1v1h-1zM15 34h4v1h-4zM26 34h4v1h-4zM10 35h10v1h-10zM25 35h5v1h-5zM10 36h10v1h-10zM25 36h5v1h-5zM35 36h5v1h-5zM10 37h10v1h-10zM25 37h5v1h-5zM35 37h5v1h-5zM10 38h10v1h-10zM25 38h5v1h-5zM35 38h5v1h-5zM10 39h10v1h-10zM25 39h5v1h-5zM35 39h5v1h-5z"/><path fill="#0066ff" d="M5 0h1v1h-1zM5 1h1v1h-1zM5 2h1v1h-1zM5 3h1v1h-1zM5 4h1v1h-1zM10 10h1v1h-1zM0 11h4v1h-4zM14 11h1v1h-1zM0 12h4v1h-4zM14 12h1v1h-1zM0 13h4v1h-4zM14 13h1v1h-1zM11 14h3v1h-3zM10 15h1v1h-1zM10 20h1v1h-1zM10 21h1v1h-1zM10 22h1v1h-1zM10 23h1v1h-1zM11 24h7v1h-7zM12 25h7v1h-7zM24 25h1v1h-1zM36 25h4v1h-4zM36 26h4v1h-4zM36 27h4v1h-4zM36 28h4v1h-4zM25 29h1v1h-1zM35 29h5v1h-5zM34 30h6v1h-6zM36 31h4v1h-4zM36 32h4v1h-4zM36 33h4v1h-4z"/><path fill="#007cff" d="M6 0h3v1h-3zM6 1h3v1h-3zM6 2h3v1h-3zM6 3h3v1h-3zM5 9h1v1h-1zM11 10h3v1h-3zM14 14h1v1h-1zM10 16h1v1h-1zM26 16h8v1h-8zM10 17h1v1h-1zM26 17h9v1h-9zM10 18h1v1h-1zM26 18h9v1h-9zM10 19h1v1h-1zM11 20h1v1h-1zM36 20h4v1h-4zM11 21h8v1h-8zM36 21h4v1h-4zM11 22h8v1h-8zM36 22h4v1h-4zM11 23h8v1h-8zM36 23h4v1h-4zM18 24h2v1h-2zM36 24h4v1h-4zM35 25h1v1h-1zM25 26h1v1h-1zM35 26h1v1h-1zM25 27h1v1h-1zM35 27h1v1h-1zM25 28h1v1h-1zM35 28h1v1h-1zM26 29h4v1h-4zM34 29h1v1h-1z"/><path fill="#0091ff" d="M9 0h1v1h-1zM9 1h1v1h-1zM9 2h1v1h-1zM9 3h1v1h-1zM6 4h3v1h-3zM5 5h1v1h-1zM5 6h1v1h-1zM5 7h1v1h-1zM5 8h1v1h-1zM6 9h2v1h-2zM14 10h1v1h-1zM15 11h1v1h-1zM15 12h1v1h-1zM15 13h1v1h-1zM11 15h3v1h-3zM26 15h4v1h-4zM25 16h1v1h-1zM34 16h6v1h-6zM25 17h1v1h-1zM35 17h5v1h-5zM25 18h1v1h-1zM35 18h5v1h-5zM11 19h3v1h-3zM35 19h5v1h-5zM12 20h7v1h-7zM19 21h1v1h-1zM19 22h1v1h-1zM19 23h1v1h-1zM20 24h3v1h-3zM35 24h1v1h-1zM34 26h1v1h-1zM34 27h1v1h-1zM26 28h1v1h-1zM34 28h1v1h-1zM30 29h4v1h-4z"/><path fill="#00b9ff" d="M10 0h1v1h-1zM10 1h1v1h-1zM10 2h1v1h-1zM10 3h1v1h-1zM10 4h1v1h-1zM6 5h4v1h-4zM6 6h1v1h-1zM6 8h1v1h-1zM10 9h4v1h-4zM15 10h1v1h-1zM19 11h1v1h-1zM19 12h2v1h-2zM19 13h2v1h-2zM17 14h4v1h-4zM24 14h6v1h-6zM15 15h10v1h-10zM36 15h4v1h-4zM15 16h1v1h-1zM20 16h4v1h-4zM14 17h2v1h-2zM20 17h4v1h-4zM15 18h1v1h-1zM20 18h4v1h-4zM16 19h10v1h-10zM20 20h1v1h-1zM20 21h1v1h-1zM20 22h1v1h-1zM20 23h1v1h-1zM24 24h1v1h-1zM26 25h1v1h-1zM30 25h4v1h-4z"/><path fill="#00d3ff" d="M11 0h4v1h-4zM11 1h4v1h-4zM11 2h4v1h-4zM14 3h1v1h-1zM11 4h1v1h-1zM10 5h1v1h-1zM7 6h3v1h-3zM6 7h4v1h-4zM7 8h4v1h-4zM14 9h1v1h-1zM16 10h3v1h-3zM20 11h1v1h-1zM21 12h3v1h-3zM21 13h9v1h-9zM21 14h3v1h-3zM30 14h4v1h-4zM16 16h4v1h-4zM16 17h4v1h-4zM16 18h4v1h-4zM21 20h4v1h-4zM34 20h1v1h-1zM21 21h3v1h-3zM21 22h3v1h-3zM21 23h3v1h-3zM34 24h1v1h-1zM27 25h3v1h-3z"/><path fill="#00edff" d="M15 0h10v1h-10zM15 1h10v1h-10zM15 2h10v1h-10zM15 3h10v1h-10zM11 5h3v1h-3zM10 6h4v1h-4zM10 7h4v1h-4zM11 8h3v1h-3zM15 9h1v1h-1zM25 10h5v1h-5zM24 12h1v1h-1zM30 13h1v1h-1zM34 14h6v1h-6zM25 20h1v1h-1zM30 20h4v1h-4zM24 21h1v1h-1zM34 21h1v1h-1zM24 22h1v1h-1zM34 22h1v1h-1zM24 23h1v1h-1zM34 23h1v1h-1zM25 24h1v1h-1zM33 24h1v1h-1z"/><path fill="#00fbe5" d="M25 0h5v1h-5zM25 1h5v1h-5zM25 2h5v1h-5zM11 3h3v1h-3zM25 3h5v1h-5zM12 4h14v1h-14zM14 5h1v1h-1zM21 5h3v1h-3zM14 6h1v1h-1zM35 6h5v1h-5zM14 7h1v1h-1zM35 7h5v1h-5zM14 8h1v1h-1zM35 8h5v1h-5zM16 9h2v1h-2zM22 9h3v1h-3zM35 9h5v1h-5zM19 10h1v1h-1zM24 10h1v1h-1zM30 10h5v1h-5zM21 11h1v1h-1zM31 13h5v1h-5zM26 20h4v1h-4zM33 21h1v1h-1zM26 24h7v1h-7z"/><path fill="#00feb0" d="M30 0h4v1h-4zM30 1h4v1h-4zM30 2h4v1h-4zM30 3h4v1h-4zM26 4h9v1h-9zM15 5h6v1h-6zM24 5h16v1h-16zM15 6h3v1h-3zM20 6h5v1h-5zM30 6h5v1h-5zM15 7h1v1h-1zM17 7h2v1h-2zM20 7h5v1h-5zM30 7h5v1h-5zM15 8h1v1h-1zM17 8h8v1h-8zM30 8h5v1h-5zM18 9h4v1h-4zM25 9h10v1h-10zM20 10h1v1h-1zM23 10h1v1h-1zM35 10h5v1h-5zM28 11h2v1h-2zM38 11h2v1h-2zM25 12h1v1h-1zM34 12h1v1h-1zM36 13h3v1h-3zM25 21h1v1h-1zM29 21h4v1h-4zM25 22h1v1h-1zM30 22h4v1h-4zM25 23h1v1h-1zM29 23h5v1h-5z"/><path fill="#00ff75" d="M34 0h2v1h-2zM34 1h2v1h-2zM34 2h2v1h-2zM34 3h2v1h-2zM35 4h5v1h-5zM18 6h2v1h-2zM25 6h5v1h-5zM16 7h1v1h-1zM19 7h1v1h-1zM25 7h5v1h-5zM16 8h1v1h-1zM25 8h5v1h-5zM21 10h2v1h-2zM22 11h6v1h-6zM30 11h8v1h-8zM26 12h8v1h-8zM35 12h5v1h-5zM39 13h1v1h-1zM26 21h3v1h-3zM26 22h4v1h-4zM26 23h3v1h-3z"/><path fill="#00ff32" d="M36 0h4v1h-4zM36 1h4v1h-4zM36 2h4v1h-4zM36 3h4v1h-4z"/><path fill="#1238ff" d="M4 4h1v1h-1zM4 5h1v1h-1zM4 6h1v1h-1zM10 11h1v1h-1zM10 12h1v1h-1zM10 13h1v1h-1zM0 14h5v1h-5zM9 15h1v1h-1zM9 20h1v1h-1zM9 21h1v1h-1zM9 22h1v1h-1zM9 23h1v1h-1zM9 24h1v1h-1zM10 25h1v1h-1zM10 26h1v1h-1zM19 26h1v1h-1zM24 26h1v1h-1zM10 27h1v1h-1zM19 27h1v1h-1zM24 27h1v1h-1zM10 28h1v1h-1zM19 28h1v1h-1zM24 28h1v1h-1zM10 29h1v1h-1zM16 29h4v1h-4zM10 30h8v1h-8zM25 30h1v1h-1zM11 31h4v1h-4zM29 31h5v1h-5zM11 32h4v1h-4zM30 32h4v1h-4zM11 33h4v1h-4zM30 33h4v1h-4zM11 34h4v1h-4zM30 34h5v1h-5zM30 35h10v1h-10zM30 36h5v1h-5zM30 37h5v1h-5zM30 38h5v1h-5zM30 39h5v1h-5z"/><path fill="#00a5ff" d="M9 4h1v1h-1zM8 9h2v1h-2zM16 11h3v1h-3zM16 12h3v1h-3zM16 13h3v1h-3zM15 14h2v1h-2zM14 15h1v1h-1zM25 15h1v1h-1zM30 15h6v1h-6zM11 16h4v1h-4zM24 16h1v1h-1zM11 17h3v1h-3zM24 17h1v1h-1zM11 18h4v1h-4zM24 18h1v1h-1zM14 19h2v1h-2zM26 19h9v1h-9zM19 20h1v1h-1zM35 20h1v1h-1zM35 21h1v1h-1zM35 22h1v1h-1zM35 23h1v1h-1zM23 24h1v1h-1zM25 25h1v1h-1zM34 25h1v1h-1zM26 26h8v1h-8zM26 27h8v1h-8zM27 28h7v1h-7z"/><path fill="#0050ff" d="M4 7h1v1h-1zM4 8h1v1h-1zM4 9h1v1h-1zM0 10h10v1h-10zM4 11h1v1h-1zM11 11h3v1h-3zM4 12h1v1h-1zM11 12h3v1h-3zM4 13h1v1h-1zM11 13h3v1h-3zM10 14h1v1h-1zM9 16h1v1h-1zM9 17h1v1h-1zM9 18h1v1h-1zM9 19h1v1h-1zM10 24h1v1h-1zM11 25h1v1h-1zM19 25h5v1h-5zM11 26h8v1h-8zM11 27h8v1h-8zM11 28h8v1h-8zM11 29h5v1h-5zM26 30h8v1h-8zM34 31h2v1h-2zM34 32h2v1h-2zM34 33h2v1h-2zM35 34h5v1h-5z"/><path fill="#5f00ff" d="M0 16h4v1h-4zM0 17h4v1h-4zM0 18h4v1h-4zM0 19h4v1h-4zM0 24h3v1h-3zM0 25h5v1h-5zM4 26h1v1h-1zM4 27h2v1h-2zM4 28h2v1h-2zM4 29h1v1h-1zM0 30h5v1h-5zM0 31h4v1h-4zM21 31h3v1h-3zM0 32h4v1h-4zM21 32h3v1h-3zM0 33h4v1h-4zM21 33h3v1h-3z"/><path fill="#4b08ff" d="M4 16h1v1h-1zM4 17h1v1h-1zM4 18h1v1h-1zM4 19h1v1h-1zM0 20h5v1h-5zM0 21h4v1h-4zM0 22h4v1h-4zM0 23h5v1h-5zM3 24h2v1h-2zM5 25h2v1h-2zM5 26h4v1h-4zM6 27h3v1h-3zM6 28h3v1h-3zM5 29h4v1h-4zM22 29h1v1h-1zM5 30h1v1h-1zM20 30h4v1h-4zM4 31h2v1h-2zM20 31h1v1h-1zM24 31h1v1h-1zM4 32h2v1h-2zM20 32h1v1h-1zM24 32h1v1h-1zM4 33h2v1h-2zM20 33h1v1h-1zM24 33h1v1h-1zM0 34h5v1h-5zM20 34h5v1h-5zM0 35h4v1h-4zM22 35h1v1h-1z"/><path fill="#7100ff" d="M0 26h4v1h-4zM0 27h4v1h-4zM0 28h4v1h-4zM0 29h4v1h-4z"/>
</svg>
<svg x="1376.5" y="466.5" width="327.7" height="312.9" viewBox="0 0 40 40" preserveAspectRatio="none">
<path d="M0.00 14.65 1.00 14.85 1.60 14.80 2.30 14.85 3.50 14.75 4.50 14.75 5.50 14.65 6.40 14.55 6.70 15.00 7.00 15.20 7.30 15.60 7.50 16.10 8.20 16.40 8.60 16.70 9.00 17.20 9.80 17.10 10.30 17.10 9.60 17.60 9.00 17.70 9.40 18.30 10.00 18.90 10.80 19.30 11.50 19.10 12.10 18.80 12.30 18.30 12.60 17.70 12.90 18.20 12.60 18.70 12.90 19.50 12.80 20.40 12.90 21.00 13.10 21.80 13.30 22.70 13.50 23.60 13.80 24.40 14.10 25.10 14.40 25.80 14.70 26.70 14.80 27.40 15.20 28.00 15.60 28.60 15.90 29.20 16.20 30.00 16.40 30.70 16.80 31.30 17.30 31.80 17.60 31.90 18.10 31.50 18.20 31.10 18.40 30.80 19.00 30.70 19.30 30.30 19.60 29.70 19.85 29.65 19.80 29.00 19.80 28.40 20.10 27.60 20.30 26.70 20.20 26.00 20.10 25.30 20.20 24.60 20.50 24.10 21.00 23.80 21.50 23.60 22.20 23.40 22.30 23.00 22.90 22.70 23.50 22.20 24.10 21.70 24.70 21.00 25.20 20.50 25.90 20.20 26.40 20.00 26.90 19.40 27.00 18.80 27.20 18.50 27.90 18.30 28.30 18.40 28.80 18.40 29.20 18.30 29.80 18.10 30.30 18.10 30.70 17.70 31.00 17.30 31.50 17.40 31.90 18.00 32.00 18.70 32.30 19.30 32.70 19.80 33.10 20.10 33.60 20.70 33.90 21.20 34.30 21.80 34.50 22.60 34.60 23.40 34.30 24.00 34.80 24.20 35.30 24.30 35.90 24.00 36.40 23.60 36.90 23.00 37.40 23.40 37.70 24.00 37.80 25.00 38.00 25.80 38.30 26.60 38.60 27.50 38.70 28.40 38.50 29.40 38.30 30.40 38.40 31.40 38.30 32.00 38.70 32.10 39.10 32.60 39.60 33.10 40.00 33.50M40.00 26.50 39.80 27.40 39.50 28.40 39.20 29.40 39.20 30.40 39.80 30.80 40.00 31.00M19.90 30.20 20.30 30.20 20.80 30.80 21.20 31.50 21.40 32.00 21.80 32.60 21.90 33.20 21.60 33.60 21.10 33.90 20.60 34.05 20.10 33.80 19.90 33.20 19.80 32.40 19.80 31.80 19.90 31.10 19.70 30.50 19.90 30.20M35.30 34.40 36.00 34.70 36.80 34.80 37.50 34.80 38.00 35.40 38.60 36.10 39.30 36.70 40.00 37.20M35.30 34.40 35.20 34.90 35.60 35.40 36.20 36.00 36.90 36.60 37.60 37.30 38.30 38.00 38.90 38.50 39.30 39.20 39.70 40.00" fill="none" stroke="#111" stroke-width="1.1" vector-effect="non-scaling-stroke" stroke-linejoin="round"/>
<path d="M1.00 0.00 2.30 0.60 3.60 1.10 4.60 1.70 5.70 2.20 6.50 2.60M1.20 4.40 2.30 4.70 3.10 4.10 4.50 3.70 5.60 2.80 6.60 2.60 7.80 2.80 8.90 2.70 9.50 2.40 10.30 2.00 11.40 2.10 11.60 2.90 12.60 3.00 13.80 2.60 14.90 2.80M1.20 4.40 0.70 5.60 0.90 6.50 0.60 7.50 1.30 8.60 1.70 8.70 0.90 10.20 1.40 10.60 1.80 11.40 2.60 11.70 2.80 12.70 3.30 12.90 3.20 13.40 2.30 13.60 1.80 14.10 1.60 14.80M0.90 10.20 2.50 10.60 4.00 10.50 5.00 10.40 6.30 10.10 6.50 9.00 7.80 8.50 8.80 8.30 9.30 8.00 9.50 7.00 10.00 6.20 11.10 5.70 11.50 5.00 11.50 4.00 12.40 3.40 13.60 3.10 14.90 2.80M8.40 16.30 9.30 15.80 10.50 15.70 11.00 15.40 10.80 14.60 10.30 14.20 10.00 13.50 9.60 12.90 10.30 12.10 11.30 12.10 12.00 11.80 12.90 11.00 13.40 10.10 13.90 9.60 14.60 9.00 14.60 8.10 15.00 7.50 14.40 6.90 14.00 6.50 14.00 5.90 13.90 5.40 14.70 5.00 15.80 4.60 17.00 4.50M14.90 2.80 15.20 3.20 16.20 3.90 17.00 4.50 18.10 4.50 19.00 5.60 18.70 6.50 18.90 7.60 18.60 8.20 19.30 9.00 20.20 9.40 21.00 9.80M20.20 9.60 21.10 9.90 22.10 9.70 23.30 10.50 24.20 10.80 25.10 11.30 26.00 12.00 27.00 12.10 28.10 12.10M20.10 10.00 20.10 11.20 21.00 11.60 22.00 12.10 23.30 12.60 24.50 12.60 25.20 13.20 26.00 13.40 27.20 13.60 28.10 13.50 28.10 12.10M28.10 12.10 28.80 11.90 29.50 11.80 30.50 12.00 31.60 12.10 32.50 12.10 33.40 11.50 34.30 10.90 35.30 10.90 36.20 10.60 36.80 11.40 37.30 11.80M28.80 12.90 29.80 13.30 31.00 13.20 32.10 13.10 32.00 12.50 31.60 12.10M37.30 11.80 38.40 12.40 38.70 13.60 37.80 14.70 37.60 16.00 38.80 15.90 39.50 17.10 39.90 18.00 40.00 18.20M37.30 11.80 37.00 12.40 36.00 12.80 35.20 13.40 34.60 14.60 34.20 16.00 33.40 16.30 33.20 17.70 32.70 18.00 32.60 18.70M28.10 13.50 28.50 14.00 29.80 14.00 29.90 14.70 31.00 14.80 32.00 14.80 32.40 15.20 32.20 16.00 31.90 16.30 31.60 17.00 31.90 18.00M28.50 14.00 28.10 14.40 28.80 15.00 28.50 15.70 28.80 16.50 28.90 17.40 29.00 18.20M32.20 16.00 32.40 17.00 32.60 18.00M40.00 19.80 38.90 20.30 37.80 21.40 37.60 23.00 38.60 23.80 38.20 24.80 39.10 26.00 39.20 27.10 39.40 29.00 38.80 29.60 38.60 30.00M40.00 18.20 40.00 19.80" fill="none" stroke="#222" stroke-width="0.9" vector-effect="non-scaling-stroke" stroke-linejoin="round"/>
<path d="M32.70 26.50 32.90 27.20 32.80 28.00 32.60 28.60 32.60 29.10M33.50 30.80 33.40 31.10M33.80 32.70 33.90 33.10M36.00 37.10 36.50 37.60M37.20 38.50 37.70 39.10" fill="none" stroke="#111" stroke-width="1.8" stroke-dasharray="3 2" vector-effect="non-scaling-stroke"/>
</svg>
<polygon points="1536.25,542.92 1537.97,547.05 1542.44,547.41 1539.04,550.32 1540.07,554.68 1536.25,552.34 1532.43,554.68 1533.47,550.32 1530.07,547.41 1534.53,547.05" fill="#fff"/>
<rect x="1376.5" y="466.5" width="327.7" height="312.9" fill="none" stroke="#000" stroke-width="2.6"/>
<path d="M1376.5 779.4v9.5M1376.5 779.4h-9.5M1417.5 779.4v5.5M1376.5 740.3h-5.5M1458.4 779.4v9.5M1376.5 701.2h-9.5M1499.4 779.4v5.5M1376.5 662.1h-5.5M1540.3 779.4v9.5M1376.5 623.0h-9.5M1581.3 779.4v5.5M1376.5 583.8h-5.5M1622.3 779.4v9.5M1376.5 544.7h-9.5M1663.2 779.4v5.5M1376.5 505.6h-5.5M1704.2 779.4v9.5M1376.5 466.5h-9.5" stroke="#000" stroke-width="2.4" fill="none"/>
<text x="1376.5" y="812.9" text-anchor="middle" font-size="25.5" textLength="26.5" lengthAdjust="spacingAndGlyphs">60</text>
<text x="1458.4" y="812.9" text-anchor="middle" font-size="25.5" textLength="26.5" lengthAdjust="spacingAndGlyphs">70</text>
<text x="1540.3" y="812.9" text-anchor="middle" font-size="25.5" textLength="26.5" lengthAdjust="spacingAndGlyphs">80</text>
<text x="1622.3" y="812.9" text-anchor="middle" font-size="25.5" textLength="26.5" lengthAdjust="spacingAndGlyphs">90</text>
<text x="1704.2" y="812.9" text-anchor="middle" font-size="25.5" textLength="39.8" lengthAdjust="spacingAndGlyphs">100</text>
<text x="1362.0" y="788.2" text-anchor="end" font-size="25.5">0</text>
<text x="1362.0" y="710.0" text-anchor="end" font-size="25.5">10</text>
<text x="1362.0" y="631.8" text-anchor="end" font-size="25.5">20</text>
<text x="1362.0" y="553.5" text-anchor="end" font-size="25.5">30</text>
<text x="1362.0" y="475.3" text-anchor="end" font-size="25.5">40</text>
<text x="1375.3" y="459.4" font-size="25.0" textLength="78.8" lengthAdjust="spacingAndGlyphs">August</text>
<svg x="205.2" y="865.7" width="301.4" height="290.3" viewBox="0 0 40 40" preserveAspectRatio="none" shape-rendering="crispEdges">
<path fill="#0066ff" d="M0 0h5v1h-5zM0 1h5v1h-5zM0 2h5v1h-5zM0 3h5v1h-5zM5 4h3v1h-3zM7 5h2v1h-2zM7 9h2v1h-2zM6 10h3v1h-3zM9 11h2v1h-2zM13 11h2v1h-2zM9 12h2v1h-2zM14 12h1v1h-1zM9 13h2v1h-2zM14 13h1v1h-1zM0 14h5v1h-5zM10 14h4v1h-4zM10 15h1v1h-1zM10 16h1v1h-1zM31 16h5v1h-5zM10 17h1v1h-1zM31 17h4v1h-4zM10 18h1v1h-1zM31 18h4v1h-4zM10 19h1v1h-1zM34 19h6v1h-6zM11 20h3v1h-3zM37 20h3v1h-3zM14 21h1v1h-1zM14 22h1v1h-1zM14 23h1v1h-1zM15 25h1v1h-1zM19 25h1v1h-1zM16 26h3v1h-3zM25 26h1v1h-1zM16 27h3v1h-3zM16 28h3v1h-3zM29 29h1v1h-1zM35 30h5v1h-5zM31 35h3v1h-3zM11 36h3v1h-3zM30 36h1v1h-1zM34 36h1v1h-1zM11 37h3v1h-3zM29 37h2v1h-2zM34 37h1v1h-1zM11 38h3v1h-3zM29 38h2v1h-2zM34 38h1v1h-1zM11 39h3v1h-3zM29 39h2v1h-2zM34 39h1v1h-1z"/><path fill="#007cff" d="M5 0h4v1h-4zM5 1h4v1h-4zM5 2h4v1h-4zM5 3h4v1h-4zM8 4h1v1h-1zM9 9h1v1h-1zM0 10h6v1h-6zM9 10h2v1h-2zM5 11h4v1h-4zM6 12h3v1h-3zM5 13h4v1h-4zM14 14h1v1h-1zM11 15h3v1h-3zM31 15h9v1h-9zM30 16h1v1h-1zM29 17h2v1h-2zM30 18h1v1h-1zM11 19h3v1h-3zM31 19h3v1h-3zM14 20h1v1h-1zM35 20h2v1h-2zM35 21h5v1h-5zM36 22h4v1h-4zM36 23h4v1h-4zM15 24h1v1h-1zM20 24h4v1h-4zM36 24h4v1h-4zM16 25h3v1h-3zM25 25h1v1h-1zM26 26h3v1h-3zM26 27h3v1h-3zM26 28h4v1h-4zM30 29h10v1h-10zM31 36h3v1h-3zM31 37h3v1h-3zM31 38h3v1h-3zM31 39h3v1h-3z"/><path fill="#0091ff" d="M9 0h2v1h-2zM9 1h2v1h-2zM9 2h2v1h-2zM9 3h1v1h-1zM9 4h1v1h-1zM9 5h1v1h-1zM9 6h1v1h-1zM9 7h1v1h-1zM9 8h1v1h-1zM11 10h4v1h-4zM4 11h1v1h-1zM15 11h1v1h-1zM4 12h2v1h-2zM15 12h1v1h-1zM3 13h2v1h-2zM15 13h1v1h-1zM15 14h1v1h-1zM14 15h2v1h-2zM29 15h2v1h-2zM11 16h4v1h-4zM25 16h5v1h-5zM11 17h4v1h-4zM25 17h4v1h-4zM11 18h4v1h-4zM25 18h5v1h-5zM14 19h2v1h-2zM30 19h1v1h-1zM15 20h1v1h-1zM31 20h4v1h-4zM15 21h1v1h-1zM34 21h1v1h-1zM15 22h1v1h-1zM34 22h2v1h-2zM15 23h1v1h-1zM34 23h2v1h-2zM16 24h4v1h-4zM24 24h1v1h-1zM35 24h1v1h-1zM26 25h1v1h-1zM35 25h5v1h-5zM29 26h1v1h-1zM35 26h5v1h-5zM29 27h2v1h-2zM35 27h5v1h-5zM30 28h1v1h-1zM35 28h5v1h-5z"/><path fill="#00a5ff" d="M11 0h4v1h-4zM20 0h5v1h-5zM30 0h4v1h-4zM11 1h4v1h-4zM20 1h5v1h-5zM30 1h4v1h-4zM13 2h2v1h-2zM20 2h5v1h-5zM30 2h4v1h-4zM10 3h1v1h-1zM20 3h5v1h-5zM30 3h4v1h-4zM10 4h1v1h-1zM15 10h1v1h-1zM0 11h4v1h-4zM16 11h4v1h-4zM0 12h4v1h-4zM16 12h4v1h-4zM0 13h3v1h-3zM16 13h4v1h-4zM16 14h4v1h-4zM26 14h4v1h-4zM16 15h13v1h-13zM15 16h10v1h-10zM15 17h10v1h-10zM15 18h10v1h-10zM16 19h14v1h-14zM16 20h8v1h-8zM30 20h1v1h-1zM16 21h8v1h-8zM31 21h3v1h-3zM16 22h8v1h-8zM31 22h3v1h-3zM16 23h8v1h-8zM31 23h3v1h-3zM31 24h4v1h-4zM27 25h8v1h-8zM30 26h5v1h-5zM31 27h4v1h-4zM31 28h4v1h-4z"/><path fill="#00b9ff" d="M15 0h5v1h-5zM25 0h5v1h-5zM34 0h1v1h-1zM15 1h5v1h-5zM25 1h5v1h-5zM34 1h1v1h-1zM11 2h2v1h-2zM15 2h5v1h-5zM25 2h5v1h-5zM34 2h1v1h-1zM14 3h6v1h-6zM25 3h5v1h-5zM34 3h1v1h-1zM20 4h5v1h-5zM31 4h3v1h-3zM10 9h1v1h-1zM16 10h3v1h-3zM20 11h1v1h-1zM20 12h4v1h-4zM20 13h10v1h-10zM20 14h6v1h-6zM30 14h10v1h-10zM24 20h1v1h-1zM24 21h1v1h-1zM30 21h1v1h-1zM24 22h1v1h-1zM30 22h1v1h-1zM24 23h1v1h-1zM30 23h1v1h-1zM25 24h1v1h-1zM30 24h1v1h-1z"/><path fill="#00d3ff" d="M35 0h1v1h-1zM35 1h1v1h-1zM35 2h1v1h-1zM35 3h1v1h-1zM11 4h1v1h-1zM16 4h4v1h-4zM25 4h6v1h-6zM34 4h2v1h-2zM10 5h1v1h-1zM20 5h5v1h-5zM36 5h4v1h-4zM36 6h4v1h-4zM36 7h4v1h-4zM36 8h4v1h-4zM22 9h2v1h-2zM36 9h4v1h-4zM25 10h5v1h-5zM30 13h6v1h-6zM25 20h1v1h-1zM28 20h2v1h-2zM26 24h4v1h-4z"/><path fill="#00edff" d="M36 0h4v1h-4zM36 1h4v1h-4zM36 2h4v1h-4zM36 3h4v1h-4zM36 4h4v1h-4zM17 5h3v1h-3zM25 5h6v1h-6zM34 5h2v1h-2zM10 6h1v1h-1zM20 6h5v1h-5zM35 6h1v1h-1zM10 7h1v1h-1zM20 7h5v1h-5zM35 7h1v1h-1zM10 8h1v1h-1zM20 8h5v1h-5zM35 8h1v1h-1zM11 9h7v1h-7zM21 9h1v1h-1zM24 9h6v1h-6zM35 9h1v1h-1zM19 10h1v1h-1zM24 10h1v1h-1zM30 10h10v1h-10zM21 11h1v1h-1zM39 11h1v1h-1zM24 12h1v1h-1zM36 13h2v1h-2zM26 20h2v1h-2zM25 21h1v1h-1zM29 21h1v1h-1zM25 22h1v1h-1zM29 22h1v1h-1zM25 23h1v1h-1zM29 23h1v1h-1z"/><path fill="#00ff75" d="M11 3h2v1h-2zM13 4h2v1h-2zM14 5h3v1h-3zM12 6h2v1h-2zM16 6h2v1h-2zM11 7h3v1h-3zM17 7h2v1h-2zM12 8h2v1h-2zM18 8h1v1h-1zM19 9h2v1h-2zM20 10h3v1h-3zM22 11h6v1h-6zM30 11h2v1h-2zM26 12h6v1h-6zM33 12h1v1h-1zM36 12h1v1h-1z"/><path fill="#00feb0" d="M13 3h1v1h-1zM12 4h1v1h-1zM11 6h1v1h-1zM14 6h2v1h-2zM30 6h4v1h-4zM14 7h3v1h-3zM30 7h4v1h-4zM11 8h1v1h-1zM14 8h1v1h-1zM17 8h1v1h-1zM19 8h1v1h-1zM30 8h4v1h-4zM18 9h1v1h-1zM23 10h1v1h-1zM28 11h2v1h-2zM38 11h1v1h-1zM25 12h1v1h-1zM34 12h2v1h-2zM38 13h1v1h-1z"/><path fill="#0050ff" d="M0 4h5v1h-5zM5 5h2v1h-2zM6 6h3v1h-3zM6 7h3v1h-3zM6 8h3v1h-3zM5 9h2v1h-2zM11 11h2v1h-2zM11 12h3v1h-3zM11 13h3v1h-3zM5 14h5v1h-5zM36 16h4v1h-4zM35 17h5v1h-5zM35 18h5v1h-5zM10 20h1v1h-1zM11 21h3v1h-3zM11 22h3v1h-3zM11 23h3v1h-3zM14 24h1v1h-1zM24 25h1v1h-1zM15 26h1v1h-1zM19 26h1v1h-1zM15 27h1v1h-1zM19 27h1v1h-1zM25 27h1v1h-1zM15 28h1v1h-1zM25 28h1v1h-1zM26 29h3v1h-3zM31 30h4v1h-4zM35 31h5v1h-5zM36 32h4v1h-4zM36 33h4v1h-4zM10 35h5v1h-5zM30 35h1v1h-1zM34 35h1v1h-1zM10 36h1v1h-1zM14 36h1v1h-1zM26 36h4v1h-4zM9 37h2v1h-2zM14 37h2v1h-2zM26 37h3v1h-3zM9 38h2v1h-2zM14 38h2v1h-2zM26 38h3v1h-3zM9 39h2v1h-2zM14 39h2v1h-2zM26 39h3v1h-3z"/><path fill="#00fbe5" d="M15 4h1v1h-1zM11 5h3v1h-3zM31 5h3v1h-3zM18 6h2v1h-2zM25 6h5v1h-5zM34 6h1v1h-1zM19 7h1v1h-1zM25 7h5v1h-5zM34 7h1v1h-1zM15 8h2v1h-2zM25 8h5v1h-5zM34 8h1v1h-1zM30 9h5v1h-5zM26 21h3v1h-3zM26 22h3v1h-3zM26 23h3v1h-3z"/><path fill="#2420ff" d="M0 5h4v1h-4zM4 6h1v1h-1zM4 7h1v1h-1zM4 8h1v1h-1zM6 15h3v1h-3zM9 16h1v1h-1zM9 17h1v1h-1zM9 18h1v1h-1zM9 19h1v1h-1zM9 20h1v1h-1zM9 21h1v1h-1zM9 22h1v1h-1zM9 23h1v1h-1zM10 24h1v1h-1zM11 25h3v1h-3zM21 25h3v1h-3zM14 26h1v1h-1zM20 26h1v1h-1zM24 26h1v1h-1zM14 27h1v1h-1zM24 27h1v1h-1zM14 28h1v1h-1zM24 28h1v1h-1zM14 29h1v1h-1zM19 29h1v1h-1zM11 30h3v1h-3zM26 30h4v1h-4zM11 31h3v1h-3zM30 31h4v1h-4zM11 32h3v1h-3zM31 32h3v1h-3zM10 33h4v1h-4zM30 33h4v1h-4zM10 34h1v1h-1zM14 34h1v1h-1zM29 34h1v1h-1zM6 35h3v1h-3zM16 35h3v1h-3zM25 35h1v1h-1zM5 36h1v1h-1zM19 36h1v1h-1zM24 36h1v1h-1zM36 36h4v1h-4zM5 37h1v1h-1zM19 37h2v1h-2zM24 37h1v1h-1zM36 37h4v1h-4zM5 38h1v1h-1zM19 38h2v1h-2zM24 38h1v1h-1zM36 38h4v1h-4zM5 39h1v1h-1zM19 39h2v1h-2zM24 39h1v1h-1zM36 39h4v1h-4z"/><path fill="#1238ff" d="M4 5h1v1h-1zM5 6h1v1h-1zM5 7h1v1h-1zM5 8h1v1h-1zM0 9h5v1h-5zM9 15h1v1h-1zM10 21h1v1h-1zM10 22h1v1h-1zM10 23h1v1h-1zM11 24h3v1h-3zM14 25h1v1h-1zM20 25h1v1h-1zM19 28h1v1h-1zM15 29h4v1h-4zM25 29h1v1h-1zM30 30h1v1h-1zM34 31h1v1h-1zM34 32h2v1h-2zM34 33h2v1h-2zM11 34h3v1h-3zM30 34h10v1h-10zM9 35h1v1h-1zM15 35h1v1h-1zM26 35h4v1h-4zM35 35h5v1h-5zM6 36h4v1h-4zM15 36h4v1h-4zM25 36h1v1h-1zM35 36h1v1h-1zM6 37h3v1h-3zM16 37h3v1h-3zM25 37h1v1h-1zM35 37h1v1h-1zM6 38h3v1h-3zM16 38h3v1h-3zM25 38h1v1h-1zM35 38h1v1h-1zM6 39h3v1h-3zM16 39h3v1h-3zM25 39h1v1h-1zM35 39h1v1h-1z"/><path fill="#3710ff" d="M0 6h4v1h-4zM0 7h4v1h-4zM0 8h4v1h-4zM4 15h2v1h-2zM8 19h1v1h-1zM6 20h3v1h-3zM6 21h3v1h-3zM6 22h3v1h-3zM6 23h3v1h-3zM8 24h2v1h-2zM10 25h1v1h-1zM10 26h4v1h-4zM21 26h1v1h-1zM23 26h1v1h-1zM11 27h3v1h-3zM20 27h1v1h-1zM11 28h3v1h-3zM20 28h1v1h-1zM10 29h4v1h-4zM20 29h1v1h-1zM24 29h1v1h-1zM10 30h1v1h-1zM14 30h5v1h-5zM25 30h1v1h-1zM9 31h2v1h-2zM14 31h1v1h-1zM29 31h1v1h-1zM9 32h2v1h-2zM14 32h1v1h-1zM29 32h2v1h-2zM9 33h1v1h-1zM14 33h1v1h-1zM29 33h1v1h-1zM6 34h4v1h-4zM15 34h1v1h-1zM26 34h3v1h-3zM5 35h1v1h-1zM19 35h2v1h-2zM24 35h1v1h-1zM4 36h1v1h-1zM20 36h4v1h-4zM4 37h1v1h-1zM21 37h3v1h-3zM4 38h1v1h-1zM21 38h3v1h-3zM4 39h1v1h-1zM21 39h3v1h-3z"/><path fill="#00ff32" d="M32 11h6v1h-6zM32 12h1v1h-1zM37 12h3v1h-3zM39 13h1v1h-1z"/><path fill="#4b08ff" d="M0 15h4v1h-4zM6 16h3v1h-3zM6 17h3v1h-3zM6 18h3v1h-3zM6 19h2v1h-2zM5 20h1v1h-1zM5 21h1v1h-1zM5 22h1v1h-1zM5 23h1v1h-1zM5 24h3v1h-3zM7 25h3v1h-3zM9 26h1v1h-1zM22 26h1v1h-1zM9 27h2v1h-2zM21 27h3v1h-3zM9 28h2v1h-2zM21 28h3v1h-3zM9 29h1v1h-1zM21 29h1v1h-1zM23 29h1v1h-1zM6 30h4v1h-4zM19 30h1v1h-1zM6 31h3v1h-3zM15 31h1v1h-1zM25 31h4v1h-4zM6 32h3v1h-3zM15 32h1v1h-1zM26 32h3v1h-3zM5 33h4v1h-4zM15 33h1v1h-1zM25 33h4v1h-4zM5 34h1v1h-1zM16 34h4v1h-4zM25 34h1v1h-1zM3 35h2v1h-2zM21 35h3v1h-3zM0 36h4v1h-4zM0 37h4v1h-4zM0 38h4v1h-4zM0 39h4v1h-4z"/><path fill="#8300ff" d="M0 16h3v1h-3zM0 17h4v1h-4zM0 18h4v1h-4zM0 19h4v1h-4z"/><path fill="#7100ff" d="M3 16h2v1h-2zM4 17h1v1h-1zM4 18h1v1h-1zM4 19h1v1h-1zM0 20h4v1h-4zM0 21h4v1h-4zM0 22h4v1h-4zM0 23h4v1h-4zM0 24h4v1h-4zM0 25h5v1h-5zM0 26h5v1h-5zM0 27h5v1h-5zM0 28h5v1h-5zM0 29h5v1h-5zM0 30h5v1h-5zM0 31h4v1h-4zM20 31h4v1h-4zM0 32h4v1h-4zM20 32h4v1h-4zM0 33h4v1h-4zM20 33h4v1h-4z"/><path fill="#5f00ff" d="M5 16h1v1h-1zM5 17h1v1h-1zM5 18h1v1h-1zM5 19h1v1h-1zM4 20h1v1h-1zM4 21h1v1h-1zM4 22h1v1h-1zM4 23h1v1h-1zM4 24h1v1h-1zM5 25h2v1h-2zM5 26h4v1h-4zM5 27h4v1h-4zM5 28h4v1h-4zM5 29h4v1h-4zM22 29h1v1h-1zM5 30h1v1h-1zM20 30h5v1h-5zM4 31h2v1h-2zM16 31h4v1h-4zM24 31h1v1h-1zM4 32h2v1h-2zM16 32h4v1h-4zM24 32h2v1h-2zM4 33h1v1h-1zM16 33h4v1h-4zM24 33h1v1h-1zM0 34h5v1h-5zM20 34h5v1h-5zM0 35h3v1h-3z"/>
</svg>
<svg x="205.2" y="865.7" width="301.4" height="290.3" viewBox="0 0 40 40" preserveAspectRatio="none">
<path d="M0.00 14.65 1.00 14.85 1.60 14.80 2.30 14.85 3.50 14.75 4.50 14.75 5.50 14.65 6.40 14.55 6.70 15.00 7.00 15.20 7.30 15.60 7.50 16.10 8.20 16.40 8.60 16.70 9.00 17.20 9.80 17.10 10.30 17.10 9.60 17.60 9.00 17.70 9.40 18.30 10.00 18.90 10.80 19.30 11.50 19.10 12.10 18.80 12.30 18.30 12.60 17.70 12.90 18.20 12.60 18.70 12.90 19.50 12.80 20.40 12.90 21.00 13.10 21.80 13.30 22.70 13.50 23.60 13.80 24.40 14.10 25.10 14.40 25.80 14.70 26.70 14.80 27.40 15.20 28.00 15.60 28.60 15.90 29.20 16.20 30.00 16.40 30.70 16.80 31.30 17.30 31.80 17.60 31.90 18.10 31.50 18.20 31.10 18.40 30.80 19.00 30.70 19.30 30.30 19.60 29.70 19.85 29.65 19.80 29.00 19.80 28.40 20.10 27.60 20.30 26.70 20.20 26.00 20.10 25.30 20.20 24.60 20.50 24.10 21.00 23.80 21.50 23.60 22.20 23.40 22.30 23.00 22.90 22.70 23.50 22.20 24.10 21.70 24.70 21.00 25.20 20.50 25.90 20.20 26.40 20.00 26.90 19.40 27.00 18.80 27.20 18.50 27.90 18.30 28.30 18.40 28.80 18.40 29.20 18.30 29.80 18.10 30.30 18.10 30.70 17.70 31.00 17.30 31.50 17.40 31.90 18.00 32.00 18.70 32.30 19.30 32.70 19.80 33.10 20.10 33.60 20.70 33.90 21.20 34.30 21.80 34.50 22.60 34.60 23.40 34.30 24.00 34.80 24.20 35.30 24.30 35.90 24.00 36.40 23.60 36.90 23.00 37.40 23.40 37.70 24.00 37.80 25.00 38.00 25.80 38.30 26.60 38.60 27.50 38.70 28.40 38.50 29.40 38.30 30.40 38.40 31.40 38.30 32.00 38.70 32.10 39.10 32.60 39.60 33.10 40.00 33.50M40.00 26.50 39.80 27.40 39.50 28.40 39.20 29.40 39.20 30.40 39.80 30.80 40.00 31.00M19.90 30.20 20.30 30.20 20.80 30.80 21.20 31.50 21.40 32.00 21.80 32.60 21.90 33.20 21.60 33.60 21.10 33.90 20.60 34.05 20.10 33.80 19.90 33.20 19.80 32.40 19.80 31.80 19.90 31.10 19.70 30.50 19.90 30.20M35.30 34.40 36.00 34.70 36.80 34.80 37.50 34.80 38.00 35.40 38.60 36.10 39.30 36.70 40.00 37.20M35.30 34.40 35.20 34.90 35.60 35.40 36.20 36.00 36.90 36.60 37.60 37.30 38.30 38.00 38.90 38.50 39.30 39.20 39.70 40.00" fill="none" stroke="#111" stroke-width="1.1" vector-effect="non-scaling-stroke" stroke-linejoin="round"/>
<path d="M1.00 0.00 2.30 0.60 3.60 1.10 4.60 1.70 5.70 2.20 6.50 2.60M1.20 4.40 2.30 4.70 3.10 4.10 4.50 3.70 5.60 2.80 6.60 2.60 7.80 2.80 8.90 2.70 9.50 2.40 10.30 2.00 11.40 2.10 11.60 2.90 12.60 3.00 13.80 2.60 14.90 2.80M1.20 4.40 0.70 5.60 0.90 6.50 0.60 7.50 1.30 8.60 1.70 8.70 0.90 10.20 1.40 10.60 1.80 11.40 2.60 11.70 2.80 12.70 3.30 12.90 3.20 13.40 2.30 13.60 1.80 14.10 1.60 14.80M0.90 10.20 2.50 10.60 4.00 10.50 5.00 10.40 6.30 10.10 6.50 9.00 7.80 8.50 8.80 8.30 9.30 8.00 9.50 7.00 10.00 6.20 11.10 5.70 11.50 5.00 11.50 4.00 12.40 3.40 13.60 3.10 14.90 2.80M8.40 16.30 9.30 15.80 10.50 15.70 11.00 15.40 10.80 14.60 10.30 14.20 10.00 13.50 9.60 12.90 10.30 12.10 11.30 12.10 12.00 11.80 12.90 11.00 13.40 10.10 13.90 9.60 14.60 9.00 14.60 8.10 15.00 7.50 14.40 6.90 14.00 6.50 14.00 5.90 13.90 5.40 14.70 5.00 15.80 4.60 17.00 4.50M14.90 2.80 15.20 3.20 16.20 3.90 17.00 4.50 18.10 4.50 19.00 5.60 18.70 6.50 18.90 7.60 18.60 8.20 19.30 9.00 20.20 9.40 21.00 9.80M20.20 9.60 21.10 9.90 22.10 9.70 23.30 10.50 24.20 10.80 25.10 11.30 26.00 12.00 27.00 12.10 28.10 12.10M20.10 10.00 20.10 11.20 21.00 11.60 22.00 12.10 23.30 12.60 24.50 12.60 25.20 13.20 26.00 13.40 27.20 13.60 28.10 13.50 28.10 12.10M28.10 12.10 28.80 11.90 29.50 11.80 30.50 12.00 31.60 12.10 32.50 12.10 33.40 11.50 34.30 10.90 35.30 10.90 36.20 10.60 36.80 11.40 37.30 11.80M28.80 12.90 29.80 13.30 31.00 13.20 32.10 13.10 32.00 12.50 31.60 12.10M37.30 11.80 38.40 12.40 38.70 13.60 37.80 14.70 37.60 16.00 38.80 15.90 39.50 17.10 39.90 18.00 40.00 18.20M37.30 11.80 37.00 12.40 36.00 12.80 35.20 13.40 34.60 14.60 34.20 16.00 33.40 16.30 33.20 17.70 32.70 18.00 32.60 18.70M28.10 13.50 28.50 14.00 29.80 14.00 29.90 14.70 31.00 14.80 32.00 14.80 32.40 15.20 32.20 16.00 31.90 16.30 31.60 17.00 31.90 18.00M28.50 14.00 28.10 14.40 28.80 15.00 28.50 15.70 28.80 16.50 28.90 17.40 29.00 18.20M32.20 16.00 32.40 17.00 32.60 18.00M40.00 19.80 38.90 20.30 37.80 21.40 37.60 23.00 38.60 23.80 38.20 24.80 39.10 26.00 39.20 27.10 39.40 29.00 38.80 29.60 38.60 30.00M40.00 18.20 40.00 19.80" fill="none" stroke="#222" stroke-width="0.9" vector-effect="non-scaling-stroke" stroke-linejoin="round"/>
<path d="M32.70 26.50 32.90 27.20 32.80 28.00 32.60 28.60 32.60 29.10M33.50 30.80 33.40 31.10M33.80 32.70 33.90 33.10M36.00 37.10 36.50 37.60M37.20 38.50 37.70 39.10" fill="none" stroke="#111" stroke-width="1.8" stroke-dasharray="3 2" vector-effect="non-scaling-stroke"/>
</svg>
<polygon points="352.13,936.13 353.85,940.26 358.31,940.62 354.91,943.53 355.95,947.89 352.13,945.55 348.31,947.89 349.35,943.53 345.95,940.62 350.41,940.26" fill="#fff"/>
<rect x="205.2" y="865.7" width="301.4" height="290.3" fill="none" stroke="#000" stroke-width="2.6"/>
<path d="M205.2 1156.0v9.5M205.2 1156.0h-9.5M242.9 1156.0v5.5M205.2 1119.7h-5.5M280.6 1156.0v9.5M205.2 1083.4h-9.5M318.2 1156.0v5.5M205.2 1047.1h-5.5M355.9 1156.0v9.5M205.2 1010.9h-9.5M393.6 1156.0v5.5M205.2 974.6h-5.5M431.2 1156.0v9.5M205.2 938.3h-9.5M468.9 1156.0v5.5M205.2 902.0h-5.5M506.6 1156.0v9.5M205.2 865.7h-9.5" stroke="#000" stroke-width="2.4" fill="none"/>
<text x="205.2" y="1189.5" text-anchor="middle" font-size="25.5" textLength="26.5" lengthAdjust="spacingAndGlyphs">60</text>
<text x="280.6" y="1189.5" text-anchor="middle" font-size="25.5" textLength="26.5" lengthAdjust="spacingAndGlyphs">70</text>
<text x="355.9" y="1189.5" text-anchor="middle" font-size="25.5" textLength="26.5" lengthAdjust="spacingAndGlyphs">80</text>
<text x="431.2" y="1189.5" text-anchor="middle" font-size="25.5" textLength="26.5" lengthAdjust="spacingAndGlyphs">90</text>
<text x="506.6" y="1189.5" text-anchor="middle" font-size="25.5" textLength="39.8" lengthAdjust="spacingAndGlyphs">100</text>
<text x="190.7" y="1164.8" text-anchor="end" font-size="25.5">0</text>
<text x="190.7" y="1092.2" text-anchor="end" font-size="25.5">10</text>
<text x="190.7" y="1019.6" text-anchor="end" font-size="25.5">20</text>
<text x="190.7" y="947.1" text-anchor="end" font-size="25.5">30</text>
<text x="190.7" y="874.5" text-anchor="end" font-size="25.5">40</text>
<text x="206.5" y="856.6" font-size="25.0" textLength="111.1" lengthAdjust="spacingAndGlyphs">September</text>
<svg x="599.8" y="861.4" width="312.2" height="299.5" viewBox="0 0 40 40" preserveAspectRatio="none" shape-rendering="crispEdges">
<path fill="#0091ff" d="M0 0h5v1h-5zM9 0h1v1h-1zM16 0h3v1h-3zM0 1h5v1h-5zM9 1h1v1h-1zM16 1h3v1h-3zM0 2h5v1h-5zM9 2h1v1h-1zM16 2h3v1h-3zM0 3h5v1h-5zM9 3h1v1h-1zM16 3h3v1h-3zM0 4h10v1h-10zM16 4h3v1h-3zM4 5h4v1h-4zM19 5h1v1h-1zM29 5h1v1h-1zM4 6h2v1h-2zM20 6h6v1h-6zM4 7h2v1h-2zM20 7h5v1h-5zM4 8h2v1h-2zM20 8h5v1h-5zM0 9h18v1h-18zM23 9h2v1h-2zM5 10h3v1h-3zM5 11h1v1h-1zM5 12h1v1h-1zM25 14h1v1h-1zM29 15h1v1h-1zM36 19h4v1h-4zM29 20h2v1h-2zM34 20h6v1h-6zM26 21h9v1h-9zM26 22h9v1h-9zM26 23h9v1h-9z"/><path fill="#007cff" d="M5 0h4v1h-4zM5 1h4v1h-4zM5 2h4v1h-4zM5 3h4v1h-4zM19 4h1v1h-1zM0 5h4v1h-4zM20 5h1v1h-1zM25 5h4v1h-4zM0 6h4v1h-4zM0 7h4v1h-4zM0 8h4v1h-4zM22 9h1v1h-1zM8 10h2v1h-2zM6 11h3v1h-3zM6 12h3v1h-3zM5 13h4v1h-4zM24 13h1v1h-1zM0 14h4v1h-4zM24 14h1v1h-1zM25 15h4v1h-4zM29 16h1v1h-1zM29 17h1v1h-1zM29 18h1v1h-1zM27 19h3v1h-3zM25 20h4v1h-4zM25 21h1v1h-1zM35 21h5v1h-5zM25 22h1v1h-1zM35 22h5v1h-5zM25 23h1v1h-1zM35 23h5v1h-5zM26 24h10v1h-10z"/><path fill="#00b9ff" d="M10 0h1v1h-1zM14 0h1v1h-1zM10 1h1v1h-1zM14 1h1v1h-1zM10 2h1v1h-1zM14 2h1v1h-1zM10 3h1v1h-1zM14 3h1v1h-1zM10 4h1v1h-1zM10 5h3v1h-3zM10 6h5v1h-5zM29 6h1v1h-1zM10 7h5v1h-5zM29 7h1v1h-1zM11 8h3v1h-3zM29 8h1v1h-1zM21 9h1v1h-1zM29 9h1v1h-1zM19 10h1v1h-1zM24 10h1v1h-1zM26 10h4v1h-4zM0 11h4v1h-4zM21 11h1v1h-1zM0 12h4v1h-4zM24 12h1v1h-1zM0 13h3v1h-3zM26 13h4v1h-4zM30 14h1v1h-1zM31 15h4v1h-4zM31 16h4v1h-4zM31 17h4v1h-4zM31 18h4v1h-4z"/><path fill="#00d3ff" d="M11 0h3v1h-3zM11 1h3v1h-3zM11 2h1v1h-1zM13 2h1v1h-1zM11 4h1v1h-1zM13 5h1v1h-1zM30 6h2v1h-2zM34 6h6v1h-6zM16 7h1v1h-1zM30 7h1v1h-1zM35 7h5v1h-5zM30 8h1v1h-1zM35 8h5v1h-5zM30 9h1v1h-1zM30 10h4v1h-4zM30 13h4v1h-4zM31 14h4v1h-4zM35 15h5v1h-5z"/><path fill="#00a5ff" d="M15 0h1v1h-1zM15 1h1v1h-1zM15 2h1v1h-1zM15 3h1v1h-1zM8 5h2v1h-2zM17 5h2v1h-2zM30 5h10v1h-10zM6 6h4v1h-4zM18 6h2v1h-2zM26 6h3v1h-3zM6 7h4v1h-4zM15 7h1v1h-1zM19 7h1v1h-1zM25 7h4v1h-4zM6 8h5v1h-5zM14 8h3v1h-3zM25 8h4v1h-4zM25 9h4v1h-4zM0 10h5v1h-5zM25 10h1v1h-1zM4 11h1v1h-1zM4 12h1v1h-1zM3 13h2v1h-2zM25 13h1v1h-1zM26 14h4v1h-4zM30 15h1v1h-1zM30 16h1v1h-1zM35 16h5v1h-5zM30 17h1v1h-1zM35 17h5v1h-5zM30 18h1v1h-1zM35 18h5v1h-5zM30 19h6v1h-6zM31 20h3v1h-3z"/><path fill="#0066ff" d="M19 0h1v1h-1zM19 1h1v1h-1zM19 2h1v1h-1zM19 3h1v1h-1zM35 4h5v1h-5zM21 5h4v1h-4zM9 11h1v1h-1zM20 11h1v1h-1zM9 12h1v1h-1zM21 12h3v1h-3zM21 13h3v1h-3zM4 14h1v1h-1zM21 14h3v1h-3zM24 15h1v1h-1zM25 16h4v1h-4zM25 17h4v1h-4zM25 18h4v1h-4zM25 19h2v1h-2zM25 24h1v1h-1zM36 24h4v1h-4zM36 25h4v1h-4z"/><path fill="#2420ff" d="M20 0h1v1h-1zM34 0h2v1h-2zM20 1h1v1h-1zM34 1h2v1h-2zM20 2h1v1h-1zM34 2h2v1h-2zM20 3h1v1h-1zM34 3h1v1h-1zM21 4h4v1h-4zM11 11h1v1h-1zM14 11h1v1h-1zM10 12h1v1h-1zM14 12h2v1h-2zM10 13h1v1h-1zM14 13h2v1h-2zM10 14h1v1h-1zM14 14h1v1h-1zM14 15h1v1h-1zM14 16h1v1h-1zM14 17h1v1h-1zM14 18h1v1h-1zM14 19h1v1h-1zM11 20h4v1h-4zM11 21h3v1h-3zM11 22h3v1h-3zM11 23h3v1h-3zM11 24h3v1h-3zM11 25h3v1h-3zM11 26h3v1h-3zM25 26h5v1h-5zM11 27h3v1h-3zM25 27h5v1h-5zM10 28h4v1h-4zM25 28h5v1h-5zM10 29h4v1h-4zM24 29h10v1h-10zM4 30h2v1h-2zM14 30h12v1h-12zM31 30h5v1h-5zM0 31h5v1h-5zM14 31h2v1h-2zM20 31h5v1h-5zM35 31h5v1h-5zM0 32h4v1h-4zM14 32h2v1h-2zM20 32h5v1h-5zM35 32h5v1h-5zM0 33h4v1h-4zM14 33h2v1h-2zM20 33h5v1h-5zM35 33h5v1h-5zM0 34h5v1h-5zM14 34h2v1h-2zM20 34h9v1h-9zM35 34h5v1h-5zM4 35h1v1h-1zM11 35h24v1h-24zM4 36h2v1h-2zM10 36h15v1h-15zM30 36h5v1h-5zM4 37h2v1h-2zM10 37h15v1h-15zM30 37h5v1h-5zM4 38h2v1h-2zM10 38h15v1h-15zM30 38h5v1h-5zM4 39h2v1h-2zM10 39h15v1h-15zM30 39h5v1h-5z"/><path fill="#4b08ff" d="M21 0h4v1h-4zM21 1h4v1h-4zM21 2h4v1h-4zM22 3h2v1h-2zM0 15h10v1h-10zM10 16h1v1h-1zM10 17h1v1h-1zM10 18h1v1h-1zM10 19h1v1h-1zM9 20h1v1h-1zM9 21h1v1h-1zM9 22h1v1h-1zM9 23h1v1h-1zM9 24h1v1h-1zM6 25h4v1h-4zM5 26h4v1h-4zM5 27h4v1h-4zM5 28h4v1h-4zM0 29h5v1h-5z"/><path fill="#3710ff" d="M25 0h9v1h-9zM25 1h9v1h-9zM25 2h9v1h-9zM21 3h1v1h-1zM24 3h10v1h-10zM12 11h2v1h-2zM11 12h3v1h-3zM11 13h3v1h-3zM11 14h3v1h-3zM10 15h4v1h-4zM11 16h3v1h-3zM11 17h3v1h-3zM11 18h3v1h-3zM11 19h3v1h-3zM10 20h1v1h-1zM10 21h1v1h-1zM10 22h1v1h-1zM10 23h1v1h-1zM10 24h1v1h-1zM10 25h1v1h-1zM9 26h2v1h-2zM9 27h2v1h-2zM9 28h1v1h-1zM5 29h5v1h-5zM0 30h4v1h-4zM26 30h5v1h-5zM16 31h4v1h-4zM25 31h10v1h-10zM16 32h4v1h-4zM25 32h10v1h-10zM16 33h4v1h-4zM25 33h10v1h-10zM16 34h4v1h-4zM29 34h6v1h-6zM0 35h4v1h-4zM35 35h5v1h-5zM0 36h4v1h-4zM35 36h5v1h-5zM0 37h4v1h-4zM35 37h5v1h-5zM0 38h4v1h-4zM35 38h5v1h-5zM0 39h4v1h-4zM35 39h5v1h-5z"/><path fill="#1238ff" d="M36 0h4v1h-4zM36 1h4v1h-4zM36 2h4v1h-4zM35 3h5v1h-5zM20 4h1v1h-1zM25 4h5v1h-5zM11 10h3v1h-3zM10 11h1v1h-1zM15 11h4v1h-4zM16 12h3v1h-3zM16 13h3v1h-3zM9 14h1v1h-1zM15 14h4v1h-4zM15 15h1v1h-1zM15 16h1v1h-1zM15 17h1v1h-1zM15 18h1v1h-1zM15 19h1v1h-1zM15 20h1v1h-1zM20 20h4v1h-4zM14 21h2v1h-2zM20 21h4v1h-4zM14 22h2v1h-2zM20 22h4v1h-4zM14 23h2v1h-2zM20 23h4v1h-4zM14 24h2v1h-2zM20 24h4v1h-4zM14 25h2v1h-2zM20 25h9v1h-9zM14 26h2v1h-2zM20 26h5v1h-5zM30 26h5v1h-5zM14 27h2v1h-2zM20 27h5v1h-5zM30 27h5v1h-5zM14 28h2v1h-2zM20 28h5v1h-5zM30 28h5v1h-5zM14 29h10v1h-10zM34 29h6v1h-6zM6 30h8v1h-8zM36 30h4v1h-4zM5 31h1v1h-1zM10 31h4v1h-4zM4 32h2v1h-2zM10 32h4v1h-4zM4 33h2v1h-2zM10 33h4v1h-4zM5 34h1v1h-1zM9 34h5v1h-5zM5 35h6v1h-6zM6 36h4v1h-4zM25 36h5v1h-5zM6 37h4v1h-4zM25 37h5v1h-5zM6 38h4v1h-4zM25 38h5v1h-5zM6 39h4v1h-4zM25 39h5v1h-5z"/><path fill="#00edff" d="M12 2h1v1h-1zM15 4h1v1h-1zM15 6h1v1h-1zM32 6h2v1h-2zM31 7h4v1h-4zM17 8h1v1h-1zM31 8h4v1h-4zM31 9h9v1h-9zM34 10h1v1h-1zM34 13h1v1h-1z"/><path fill="#00feb0" d="M11 3h3v1h-3zM13 4h2v1h-2zM14 5h1v1h-1zM16 5h1v1h-1zM19 8h1v1h-1zM36 10h4v1h-4zM25 12h1v1h-1zM35 13h1v1h-1z"/><path fill="#00fbe5" d="M12 4h1v1h-1zM18 9h1v1h-1zM23 10h1v1h-1zM35 10h1v1h-1zM35 14h5v1h-5z"/><path fill="#0050ff" d="M30 4h5v1h-5zM10 10h1v1h-1zM14 10h5v1h-5zM19 11h1v1h-1zM19 12h2v1h-2zM9 13h1v1h-1zM19 13h2v1h-2zM5 14h4v1h-4zM19 14h2v1h-2zM16 15h8v1h-8zM16 16h9v1h-9zM16 17h9v1h-9zM16 18h9v1h-9zM16 19h9v1h-9zM16 20h4v1h-4zM24 20h1v1h-1zM16 21h4v1h-4zM24 21h1v1h-1zM16 22h4v1h-4zM24 22h1v1h-1zM16 23h4v1h-4zM24 23h1v1h-1zM16 24h4v1h-4zM24 24h1v1h-1zM16 25h4v1h-4zM29 25h7v1h-7zM16 26h4v1h-4zM35 26h5v1h-5zM16 27h4v1h-4zM35 27h5v1h-5zM16 28h4v1h-4zM35 28h5v1h-5zM6 31h4v1h-4zM6 32h4v1h-4zM6 33h4v1h-4zM6 34h3v1h-3z"/><path fill="#00ff75" d="M15 5h1v1h-1zM16 6h2v1h-2zM17 7h2v1h-2zM18 8h1v1h-1zM19 9h2v1h-2zM20 10h1v1h-1zM28 11h3v1h-3zM39 11h1v1h-1zM34 12h1v1h-1zM36 13h2v1h-2z"/><path fill="#00ff32" d="M21 10h2v1h-2zM22 11h6v1h-6zM31 11h1v1h-1zM38 11h1v1h-1zM26 12h6v1h-6zM33 12h1v1h-1zM35 12h1v1h-1zM38 13h1v1h-1z"/><path fill="#00ff00" d="M32 11h6v1h-6zM32 12h1v1h-1zM36 12h4v1h-4zM39 13h1v1h-1z"/><path fill="#8300ff" d="M0 16h3v1h-3zM0 17h5v1h-5zM0 18h5v1h-5zM0 19h4v1h-4z"/><path fill="#7100ff" d="M3 16h6v1h-6zM5 17h4v1h-4zM5 18h4v1h-4zM4 19h5v1h-5zM0 20h6v1h-6zM0 21h5v1h-5zM0 22h5v1h-5zM0 23h5v1h-5zM0 24h4v1h-4z"/><path fill="#5f00ff" d="M9 16h1v1h-1zM9 17h1v1h-1zM9 18h1v1h-1zM9 19h1v1h-1zM6 20h3v1h-3zM5 21h4v1h-4zM5 22h4v1h-4zM5 23h4v1h-4zM4 24h5v1h-5zM0 25h6v1h-6zM0 26h5v1h-5zM0 27h5v1h-5zM0 28h5v1h-5z"/>
</svg>
<svg x="599.8" y="861.4" width="312.2" height="299.5" viewBox="0 0 40 40" preserveAspectRatio="none">
<path d="M0.00 14.65 1.00 14.85 1.60 14.80 2.30 14.85 3.50 14.75 4.50 14.75 5.50 14.65 6.40 14.55 6.70 15.00 7.00 15.20 7.30 15.60 7.50 16.10 8.20 16.40 8.60 16.70 9.00 17.20 9.80 17.10 10.30 17.10 9.60 17.60 9.00 17.70 9.40 18.30 10.00 18.90 10.80 19.30 11.50 19.10 12.10 18.80 12.30 18.30 12.60 17.70 12.90 18.20 12.60 18.70 12.90 19.50 12.80 20.40 12.90 21.00 13.10 21.80 13.30 22.70 13.50 23.60 13.80 24.40 14.10 25.10 14.40 25.80 14.70 26.70 14.80 27.40 15.20 28.00 15.60 28.60 15.90 29.20 16.20 30.00 16.40 30.70 16.80 31.30 17.30 31.80 17.60 31.90 18.10 31.50 18.20 31.10 18.40 30.80 19.00 30.70 19.30 30.30 19.60 29.70 19.85 29.65 19.80 29.00 19.80 28.40 20.10 27.60 20.30 26.70 20.20 26.00 20.10 25.30 20.20 24.60 20.50 24.10 21.00 23.80 21.50 23.60 22.20 23.40 22.30 23.00 22.90 22.70 23.50 22.20 24.10 21.70 24.70 21.00 25.20 20.50 25.90 20.20 26.40 20.00 26.90 19.40 27.00 18.80 27.20 18.50 27.90 18.30 28.30 18.40 28.80 18.40 29.20 18.30 29.80 18.10 30.30 18.10 30.70 17.70 31.00 17.30 31.50 17.40 31.90 18.00 32.00 18.70 32.30 19.30 32.70 19.80 33.10 20.10 33.60 20.70 33.90 21.20 34.30 21.80 34.50 22.60 34.60 23.40 34.30 24.00 34.80 24.20 35.30 24.30 35.90 24.00 36.40 23.60 36.90 23.00 37.40 23.40 37.70 24.00 37.80 25.00 38.00 25.80 38.30 26.60 38.60 27.50 38.70 28.40 38.50 29.40 38.30 30.40 38.40 31.40 38.30 32.00 38.70 32.10 39.10 32.60 39.60 33.10 40.00 33.50M40.00 26.50 39.80 27.40 39.50 28.40 39.20 29.40 39.20 30.40 39.80 30.80 40.00 31.00M19.90 30.20 20.30 30.20 20.80 30.80 21.20 31.50 21.40 32.00 21.80 32.60 21.90 33.20 21.60 33.60 21.10 33.90 20.60 34.05 20.10 33.80 19.90 33.20 19.80 32.40 19.80 31.80 19.90 31.10 19.70 30.50 19.90 30.20M35.30 34.40 36.00 34.70 36.80 34.80 37.50 34.80 38.00 35.40 38.60 36.10 39.30 36.70 40.00 37.20M35.30 34.40 35.20 34.90 35.60 35.40 36.20 36.00 36.90 36.60 37.60 37.30 38.30 38.00 38.90 38.50 39.30 39.20 39.70 40.00" fill="none" stroke="#111" stroke-width="1.1" vector-effect="non-scaling-stroke" stroke-linejoin="round"/>
<path d="M1.00 0.00 2.30 0.60 3.60 1.10 4.60 1.70 5.70 2.20 6.50 2.60M1.20 4.40 2.30 4.70 3.10 4.10 4.50 3.70 5.60 2.80 6.60 2.60 7.80 2.80 8.90 2.70 9.50 2.40 10.30 2.00 11.40 2.10 11.60 2.90 12.60 3.00 13.80 2.60 14.90 2.80M1.20 4.40 0.70 5.60 0.90 6.50 0.60 7.50 1.30 8.60 1.70 8.70 0.90 10.20 1.40 10.60 1.80 11.40 2.60 11.70 2.80 12.70 3.30 12.90 3.20 13.40 2.30 13.60 1.80 14.10 1.60 14.80M0.90 10.20 2.50 10.60 4.00 10.50 5.00 10.40 6.30 10.10 6.50 9.00 7.80 8.50 8.80 8.30 9.30 8.00 9.50 7.00 10.00 6.20 11.10 5.70 11.50 5.00 11.50 4.00 12.40 3.40 13.60 3.10 14.90 2.80M8.40 16.30 9.30 15.80 10.50 15.70 11.00 15.40 10.80 14.60 10.30 14.20 10.00 13.50 9.60 12.90 10.30 12.10 11.30 12.10 12.00 11.80 12.90 11.00 13.40 10.10 13.90 9.60 14.60 9.00 14.60 8.10 15.00 7.50 14.40 6.90 14.00 6.50 14.00 5.90 13.90 5.40 14.70 5.00 15.80 4.60 17.00 4.50M14.90 2.80 15.20 3.20 16.20 3.90 17.00 4.50 18.10 4.50 19.00 5.60 18.70 6.50 18.90 7.60 18.60 8.20 19.30 9.00 20.20 9.40 21.00 9.80M20.20 9.60 21.10 9.90 22.10 9.70 23.30 10.50 24.20 10.80 25.10 11.30 26.00 12.00 27.00 12.10 28.10 12.10M20.10 10.00 20.10 11.20 21.00 11.60 22.00 12.10 23.30 12.60 24.50 12.60 25.20 13.20 26.00 13.40 27.20 13.60 28.10 13.50 28.10 12.10M28.10 12.10 28.80 11.90 29.50 11.80 30.50 12.00 31.60 12.10 32.50 12.10 33.40 11.50 34.30 10.90 35.30 10.90 36.20 10.60 36.80 11.40 37.30 11.80M28.80 12.90 29.80 13.30 31.00 13.20 32.10 13.10 32.00 12.50 31.60 12.10M37.30 11.80 38.40 12.40 38.70 13.60 37.80 14.70 37.60 16.00 38.80 15.90 39.50 17.10 39.90 18.00 40.00 18.20M37.30 11.80 37.00 12.40 36.00 12.80 35.20 13.40 34.60 14.60 34.20 16.00 33.40 16.30 33.20 17.70 32.70 18.00 32.60 18.70M28.10 13.50 28.50 14.00 29.80 14.00 29.90 14.70 31.00 14.80 32.00 14.80 32.40 15.20 32.20 16.00 31.90 16.30 31.60 17.00 31.90 18.00M28.50 14.00 28.10 14.40 28.80 15.00 28.50 15.70 28.80 16.50 28.90 17.40 29.00 18.20M32.20 16.00 32.40 17.00 32.60 18.00M40.00 19.80 38.90 20.30 37.80 21.40 37.60 23.00 38.60 23.80 38.20 24.80 39.10 26.00 39.20 27.10 39.40 29.00 38.80 29.60 38.60 30.00M40.00 18.20 40.00 19.80" fill="none" stroke="#222" stroke-width="0.9" vector-effect="non-scaling-stroke" stroke-linejoin="round"/>
<path d="M32.70 26.50 32.90 27.20 32.80 28.00 32.60 28.60 32.60 29.10M33.50 30.80 33.40 31.10M33.80 32.70 33.90 33.10M36.00 37.10 36.50 37.60M37.20 38.50 37.70 39.10" fill="none" stroke="#111" stroke-width="1.8" stroke-dasharray="3 2" vector-effect="non-scaling-stroke"/>
</svg>
<polygon points="752.00,934.27 753.72,938.40 758.18,938.76 754.78,941.67 755.82,946.03 752.00,943.69 748.18,946.03 749.22,941.67 745.82,938.76 750.28,938.40" fill="#fff"/>
<rect x="599.8" y="861.4" width="312.2" height="299.5" fill="none" stroke="#000" stroke-width="2.6"/>
<path d="M599.8 1160.9v9.5M599.8 1160.9h-9.5M638.8 1160.9v5.5M599.8 1123.5h-5.5M677.8 1160.9v9.5M599.8 1086.0h-9.5M716.9 1160.9v5.5M599.8 1048.6h-5.5M755.9 1160.9v9.5M599.8 1011.2h-9.5M794.9 1160.9v5.5M599.8 973.7h-5.5M834.0 1160.9v9.5M599.8 936.3h-9.5M873.0 1160.9v5.5M599.8 898.8h-5.5M912.0 1160.9v9.5M599.8 861.4h-9.5" stroke="#000" stroke-width="2.4" fill="none"/>
<text x="599.8" y="1194.4" text-anchor="middle" font-size="25.5" textLength="26.5" lengthAdjust="spacingAndGlyphs">60</text>
<text x="677.8" y="1194.4" text-anchor="middle" font-size="25.5" textLength="26.5" lengthAdjust="spacingAndGlyphs">70</text>
<text x="755.9" y="1194.4" text-anchor="middle" font-size="25.5" textLength="26.5" lengthAdjust="spacingAndGlyphs">80</text>
<text x="834.0" y="1194.4" text-anchor="middle" font-size="25.5" textLength="26.5" lengthAdjust="spacingAndGlyphs">90</text>
<text x="912.0" y="1194.4" text-anchor="middle" font-size="25.5" textLength="39.8" lengthAdjust="spacingAndGlyphs">100</text>
<text x="585.3" y="1169.7" text-anchor="end" font-size="25.5">0</text>
<text x="585.3" y="1094.8" text-anchor="end" font-size="25.5">10</text>
<text x="585.3" y="1020.0" text-anchor="end" font-size="25.5">20</text>
<text x="585.3" y="945.1" text-anchor="end" font-size="25.5">30</text>
<text x="585.3" y="870.2" text-anchor="end" font-size="25.5">40</text>
<text x="600.2" y="849.0" font-size="25.0" textLength="87.2" lengthAdjust="spacingAndGlyphs">October</text>
<svg x="985.6" y="856.7" width="325.0" height="314.3" viewBox="0 0 40 40" preserveAspectRatio="none" shape-rendering="crispEdges">
<path fill="#00b9ff" d="M0 0h4v1h-4zM14 0h1v1h-1zM0 1h4v1h-4zM14 1h1v1h-1zM0 2h4v1h-4zM14 2h1v1h-1zM0 3h4v1h-4zM14 3h1v1h-1zM0 4h4v1h-4zM11 4h1v1h-1zM0 5h4v1h-4zM17 5h1v1h-1zM0 6h5v1h-5zM9 6h1v1h-1zM19 6h1v1h-1zM0 7h5v1h-5zM19 7h1v1h-1zM0 8h7v1h-7zM8 8h1v1h-1zM16 8h1v1h-1zM19 10h1v1h-1zM24 10h1v1h-1zM31 10h4v1h-4zM24 12h1v1h-1zM34 14h1v1h-1z"/><path fill="#00edff" d="M4 0h1v1h-1zM4 1h1v1h-1zM4 2h1v1h-1zM11 2h2v1h-2zM4 3h1v1h-1zM10 3h1v1h-1zM15 4h1v1h-1zM5 5h1v1h-1zM8 5h1v1h-1zM16 7h1v1h-1zM35 13h1v1h-1z"/><path fill="#00ff75" d="M5 0h1v1h-1zM9 0h1v1h-1zM5 1h1v1h-1zM9 1h1v1h-1zM5 2h1v1h-1zM9 2h1v1h-1zM5 3h1v1h-1zM9 3h1v1h-1zM11 3h2v1h-2zM6 4h3v1h-3zM13 4h2v1h-2zM14 5h1v1h-1zM16 5h1v1h-1zM19 8h1v1h-1zM28 11h2v1h-2zM38 11h1v1h-1zM38 13h1v1h-1z"/><path fill="#00ff00" d="M6 0h3v1h-3zM6 1h3v1h-3zM6 2h3v1h-3zM7 3h2v1h-2zM21 10h2v1h-2zM22 11h6v1h-6zM31 11h7v1h-7zM26 12h8v1h-8zM36 12h4v1h-4zM39 13h1v1h-1z"/><path fill="#00fbe5" d="M10 0h1v1h-1zM10 1h1v1h-1zM10 2h1v1h-1zM6 5h2v1h-2zM15 6h1v1h-1zM39 11h1v1h-1zM36 13h2v1h-2z"/><path fill="#00d3ff" d="M11 0h3v1h-3zM11 1h3v1h-3zM13 2h1v1h-1zM4 4h1v1h-1zM10 4h1v1h-1zM4 5h1v1h-1zM9 5h1v1h-1zM5 6h4v1h-4zM18 6h1v1h-1zM5 7h4v1h-4zM7 8h1v1h-1zM35 10h5v1h-5zM21 11h1v1h-1zM31 13h4v1h-4zM35 14h5v1h-5z"/><path fill="#007cff" d="M15 0h1v1h-1zM15 1h1v1h-1zM15 2h1v1h-1zM15 3h1v1h-1zM16 4h3v1h-3zM11 5h2v1h-2zM20 5h1v1h-1zM10 6h1v1h-1zM14 6h1v1h-1zM21 6h3v1h-3zM31 6h9v1h-9zM10 7h1v1h-1zM14 7h1v1h-1zM21 7h3v1h-3zM31 7h9v1h-9zM21 8h3v1h-3zM30 8h10v1h-10zM0 9h5v1h-5zM9 9h1v1h-1zM15 9h1v1h-1zM22 9h3v1h-3zM30 9h1v1h-1zM29 10h1v1h-1zM21 12h3v1h-3zM21 13h4v1h-4zM29 13h1v1h-1zM34 15h1v1h-1zM12 16h7v1h-7zM36 16h4v1h-4zM11 17h8v1h-8zM36 17h4v1h-4zM11 18h8v1h-8zM36 18h4v1h-4zM15 19h4v1h-4zM16 20h3v1h-3zM16 21h3v1h-3zM16 22h3v1h-3zM16 23h3v1h-3zM16 24h3v1h-3zM16 25h1v1h-1zM19 25h1v1h-1zM19 26h1v1h-1zM19 27h1v1h-1zM19 28h1v1h-1zM16 29h4v1h-4zM0 31h4v1h-4zM0 32h4v1h-4zM0 33h4v1h-4zM21 35h4v1h-4zM30 35h4v1h-4zM20 36h10v1h-10zM34 36h1v1h-1zM20 37h10v1h-10zM34 37h1v1h-1zM20 38h10v1h-10zM34 38h1v1h-1zM20 39h10v1h-10zM34 39h1v1h-1z"/><path fill="#0066ff" d="M16 0h3v1h-3zM16 1h3v1h-3zM16 2h3v1h-3zM16 3h3v1h-3zM19 4h1v1h-1zM35 5h5v1h-5zM24 6h1v1h-1zM30 6h1v1h-1zM24 7h2v1h-2zM29 7h2v1h-2zM10 8h1v1h-1zM14 8h1v1h-1zM24 8h2v1h-2zM29 8h1v1h-1zM25 9h1v1h-1zM29 9h1v1h-1zM25 10h4v1h-4zM20 11h1v1h-1zM20 12h1v1h-1zM20 13h1v1h-1zM25 13h4v1h-4zM20 14h6v1h-6zM28 14h2v1h-2zM16 15h8v1h-8zM30 15h4v1h-4zM11 16h1v1h-1zM19 16h2v1h-2zM35 16h1v1h-1zM19 17h2v1h-2zM35 17h1v1h-1zM19 18h2v1h-2zM35 18h1v1h-1zM14 19h1v1h-1zM19 19h1v1h-1zM36 19h4v1h-4zM15 20h1v1h-1zM19 20h1v1h-1zM19 21h1v1h-1zM19 22h1v1h-1zM19 23h1v1h-1zM15 24h1v1h-1zM19 24h1v1h-1zM15 25h1v1h-1zM20 25h1v1h-1zM15 26h1v1h-1zM20 26h1v1h-1zM15 27h1v1h-1zM20 27h1v1h-1zM15 28h1v1h-1zM20 28h1v1h-1zM15 29h1v1h-1zM20 29h1v1h-1zM16 30h8v1h-8zM20 31h4v1h-4zM4 32h1v1h-1zM20 32h4v1h-4zM4 33h1v1h-1zM20 33h5v1h-5zM0 34h4v1h-4zM19 34h6v1h-6zM30 34h5v1h-5zM15 35h6v1h-6zM25 35h5v1h-5zM34 35h1v1h-1zM15 36h5v1h-5zM15 37h5v1h-5zM15 38h5v1h-5zM15 39h5v1h-5z"/><path fill="#0050ff" d="M19 0h1v1h-1zM19 1h1v1h-1zM19 2h1v1h-1zM19 3h1v1h-1zM21 5h4v1h-4zM30 5h5v1h-5zM11 6h3v1h-3zM25 6h5v1h-5zM11 7h3v1h-3zM26 7h3v1h-3zM11 8h3v1h-3zM26 8h3v1h-3zM10 9h1v1h-1zM14 9h1v1h-1zM26 9h3v1h-3zM17 10h2v1h-2zM26 14h2v1h-2zM11 15h5v1h-5zM24 15h6v1h-6zM10 16h1v1h-1zM21 16h4v1h-4zM34 16h1v1h-1zM10 17h1v1h-1zM21 17h4v1h-4zM34 17h1v1h-1zM10 18h1v1h-1zM21 18h4v1h-4zM34 18h1v1h-1zM11 19h3v1h-3zM20 19h4v1h-4zM35 19h1v1h-1zM20 20h1v1h-1zM15 21h1v1h-1zM20 21h1v1h-1zM15 22h1v1h-1zM20 22h1v1h-1zM15 23h1v1h-1zM20 23h1v1h-1zM20 24h1v1h-1zM21 25h3v1h-3zM21 26h3v1h-3zM21 27h3v1h-3zM21 28h3v1h-3zM21 29h4v1h-4zM0 30h4v1h-4zM14 30h2v1h-2zM24 30h1v1h-1zM4 31h1v1h-1zM11 31h9v1h-9zM24 31h1v1h-1zM30 31h10v1h-10zM11 32h9v1h-9zM24 32h2v1h-2zM30 32h10v1h-10zM11 33h9v1h-9zM25 33h1v1h-1zM30 33h10v1h-10zM4 34h1v1h-1zM11 34h8v1h-8zM25 34h5v1h-5zM35 34h5v1h-5zM0 35h4v1h-4zM11 35h4v1h-4zM35 35h1v1h-1zM11 36h4v1h-4zM35 36h1v1h-1zM11 37h4v1h-4zM35 37h1v1h-1zM11 38h4v1h-4zM35 38h1v1h-1zM11 39h4v1h-4zM35 39h1v1h-1z"/><path fill="#3710ff" d="M20 0h1v1h-1zM35 0h1v1h-1zM20 1h1v1h-1zM35 1h1v1h-1zM20 2h1v1h-1zM35 2h1v1h-1zM35 3h1v1h-1zM25 4h9v1h-9zM5 10h6v1h-6zM13 10h2v1h-2zM15 11h3v1h-3zM16 12h3v1h-3zM15 13h4v1h-4zM11 14h4v1h-4zM9 15h1v1h-1zM9 19h1v1h-1zM10 20h1v1h-1zM26 20h4v1h-4zM34 20h1v1h-1zM25 21h1v1h-1zM35 21h5v1h-5zM25 22h1v1h-1zM36 22h4v1h-4zM25 23h1v1h-1zM36 23h4v1h-4zM13 24h1v1h-1zM25 24h1v1h-1zM35 24h5v1h-5zM11 25h3v1h-3zM26 25h3v1h-3zM35 25h1v1h-1zM11 26h3v1h-3zM26 26h3v1h-3zM35 26h1v1h-1zM11 27h3v1h-3zM26 27h3v1h-3zM35 27h1v1h-1zM10 28h4v1h-4zM26 28h4v1h-4zM35 28h1v1h-1zM0 29h5v1h-5zM10 29h1v1h-1zM29 29h2v1h-2zM34 29h1v1h-1zM5 30h2v1h-2zM8 30h2v1h-2zM6 31h3v1h-3zM6 32h3v1h-3zM6 33h3v1h-3zM6 34h3v1h-3z"/><path fill="#4b08ff" d="M21 0h9v1h-9zM34 0h1v1h-1zM21 1h9v1h-9zM34 1h1v1h-1zM21 2h9v1h-9zM34 2h1v1h-1zM21 3h10v1h-10zM34 3h1v1h-1zM11 10h2v1h-2zM14 11h1v1h-1zM14 12h2v1h-2zM14 13h1v1h-1zM10 14h1v1h-1zM8 15h1v1h-1zM6 16h3v1h-3zM6 17h3v1h-3zM6 18h3v1h-3zM6 19h3v1h-3zM9 20h1v1h-1zM30 20h4v1h-4zM10 21h4v1h-4zM26 21h4v1h-4zM34 21h1v1h-1zM10 22h4v1h-4zM26 22h4v1h-4zM34 22h2v1h-2zM10 23h4v1h-4zM26 23h4v1h-4zM34 23h2v1h-2zM10 24h3v1h-3zM26 24h4v1h-4zM34 24h1v1h-1zM10 25h1v1h-1zM29 25h1v1h-1zM34 25h1v1h-1zM9 26h2v1h-2zM29 26h2v1h-2zM34 26h1v1h-1zM9 27h2v1h-2zM29 27h2v1h-2zM34 27h1v1h-1zM9 28h1v1h-1zM30 28h1v1h-1zM34 28h1v1h-1zM5 29h5v1h-5zM31 29h3v1h-3zM7 30h1v1h-1z"/><path fill="#5f00ff" d="M30 0h4v1h-4zM30 1h4v1h-4zM30 2h4v1h-4zM31 3h3v1h-3zM0 11h7v1h-7zM9 11h5v1h-5zM0 12h5v1h-5zM10 12h4v1h-4zM0 13h5v1h-5zM10 13h4v1h-4zM0 14h10v1h-10zM4 15h4v1h-4zM4 16h2v1h-2zM4 17h2v1h-2zM4 18h2v1h-2zM5 19h1v1h-1zM5 20h4v1h-4zM5 21h5v1h-5zM30 21h4v1h-4zM5 22h5v1h-5zM30 22h4v1h-4zM5 23h5v1h-5zM30 23h4v1h-4zM5 24h5v1h-5zM30 24h4v1h-4zM0 25h10v1h-10zM30 25h4v1h-4zM0 26h9v1h-9zM31 26h3v1h-3zM0 27h9v1h-9zM31 27h3v1h-3zM0 28h9v1h-9zM31 28h3v1h-3z"/><path fill="#2420ff" d="M36 0h4v1h-4zM36 1h4v1h-4zM36 2h4v1h-4zM20 3h1v1h-1zM36 3h4v1h-4zM21 4h4v1h-4zM34 4h1v1h-1zM0 10h5v1h-5zM18 11h1v1h-1zM19 12h1v1h-1zM15 14h3v1h-3zM9 16h1v1h-1zM9 17h1v1h-1zM9 18h1v1h-1zM26 19h8v1h-8zM11 20h3v1h-3zM25 20h1v1h-1zM35 20h5v1h-5zM14 21h1v1h-1zM24 21h1v1h-1zM14 22h1v1h-1zM24 22h1v1h-1zM14 23h1v1h-1zM24 23h1v1h-1zM14 24h1v1h-1zM24 24h1v1h-1zM14 25h1v1h-1zM25 25h1v1h-1zM36 25h4v1h-4zM25 26h1v1h-1zM36 26h4v1h-4zM25 27h1v1h-1zM36 27h4v1h-4zM25 28h1v1h-1zM36 28h4v1h-4zM11 29h3v1h-3zM25 29h4v1h-4zM35 29h2v1h-2zM10 30h1v1h-1zM27 30h3v1h-3zM5 31h1v1h-1zM9 31h1v1h-1zM5 32h1v1h-1zM9 32h1v1h-1zM5 33h1v1h-1zM9 33h1v1h-1zM5 34h1v1h-1zM9 34h1v1h-1zM5 35h5v1h-5zM5 36h4v1h-4zM5 37h4v1h-4zM5 38h4v1h-4zM5 39h4v1h-4z"/><path fill="#00ff32" d="M6 3h1v1h-1zM15 5h1v1h-1zM16 6h2v1h-2zM17 7h2v1h-2zM18 8h1v1h-1zM19 9h2v1h-2zM20 10h1v1h-1zM30 11h1v1h-1zM34 12h2v1h-2z"/><path fill="#00feb0" d="M13 3h1v1h-1zM5 4h1v1h-1zM9 4h1v1h-1zM12 4h1v1h-1zM17 8h1v1h-1zM18 9h1v1h-1zM23 10h1v1h-1zM25 12h1v1h-1z"/><path fill="#1238ff" d="M20 4h1v1h-1zM35 4h5v1h-5zM25 5h5v1h-5zM11 9h3v1h-3zM15 10h2v1h-2zM19 11h1v1h-1zM19 13h1v1h-1zM18 14h2v1h-2zM10 15h1v1h-1zM25 16h9v1h-9zM25 17h9v1h-9zM25 18h9v1h-9zM10 19h1v1h-1zM24 19h2v1h-2zM34 19h1v1h-1zM14 20h1v1h-1zM21 20h4v1h-4zM21 21h3v1h-3zM21 22h3v1h-3zM21 23h3v1h-3zM21 24h3v1h-3zM24 25h1v1h-1zM14 26h1v1h-1zM24 26h1v1h-1zM14 27h1v1h-1zM24 27h1v1h-1zM14 28h1v1h-1zM24 28h1v1h-1zM14 29h1v1h-1zM37 29h3v1h-3zM4 30h1v1h-1zM11 30h3v1h-3zM25 30h2v1h-2zM30 30h10v1h-10zM10 31h1v1h-1zM25 31h5v1h-5zM10 32h1v1h-1zM26 32h4v1h-4zM10 33h1v1h-1zM26 33h4v1h-4zM10 34h1v1h-1zM4 35h1v1h-1zM10 35h1v1h-1zM36 35h4v1h-4zM0 36h5v1h-5zM9 36h2v1h-2zM36 36h4v1h-4zM0 37h5v1h-5zM9 37h2v1h-2zM36 37h4v1h-4zM0 38h5v1h-5zM9 38h2v1h-2zM36 38h4v1h-4zM0 39h5v1h-5zM9 39h2v1h-2zM36 39h4v1h-4z"/><path fill="#0091ff" d="M10 5h1v1h-1zM13 5h1v1h-1zM19 5h1v1h-1zM20 6h1v1h-1zM20 7h1v1h-1zM20 8h1v1h-1zM5 9h4v1h-4zM16 9h2v1h-2zM31 9h4v1h-4zM30 14h1v1h-1zM35 15h1v1h-1zM17 25h2v1h-2zM16 26h3v1h-3zM16 27h3v1h-3zM16 28h3v1h-3zM30 36h4v1h-4zM30 37h4v1h-4zM30 38h4v1h-4zM30 39h4v1h-4z"/><path fill="#00a5ff" d="M18 5h1v1h-1zM9 7h1v1h-1zM15 7h1v1h-1zM9 8h1v1h-1zM15 8h1v1h-1zM21 9h1v1h-1zM35 9h5v1h-5zM30 10h1v1h-1zM30 13h1v1h-1zM31 14h3v1h-3zM36 15h4v1h-4z"/><path fill="#7100ff" d="M7 11h2v1h-2zM5 12h5v1h-5zM5 13h5v1h-5zM0 15h4v1h-4zM0 16h4v1h-4zM0 17h4v1h-4zM0 18h4v1h-4zM0 19h5v1h-5zM0 20h5v1h-5zM0 21h5v1h-5zM0 22h5v1h-5zM0 23h5v1h-5zM0 24h5v1h-5z"/>
</svg>
<svg x="985.6" y="856.7" width="325.0" height="314.3" viewBox="0 0 40 40" preserveAspectRatio="none">
<path d="M0.00 14.65 1.00 14.85 1.60 14.80 2.30 14.85 3.50 14.75 4.50 14.75 5.50 14.65 6.40 14.55 6.70 15.00 7.00 15.20 7.30 15.60 7.50 16.10 8.20 16.40 8.60 16.70 9.00 17.20 9.80 17.10 10.30 17.10 9.60 17.60 9.00 17.70 9.40 18.30 10.00 18.90 10.80 19.30 11.50 19.10 12.10 18.80 12.30 18.30 12.60 17.70 12.90 18.20 12.60 18.70 12.90 19.50 12.80 20.40 12.90 21.00 13.10 21.80 13.30 22.70 13.50 23.60 13.80 24.40 14.10 25.10 14.40 25.80 14.70 26.70 14.80 27.40 15.20 28.00 15.60 28.60 15.90 29.20 16.20 30.00 16.40 30.70 16.80 31.30 17.30 31.80 17.60 31.90 18.10 31.50 18.20 31.10 18.40 30.80 19.00 30.70 19.30 30.30 19.60 29.70 19.85 29.65 19.80 29.00 19.80 28.40 20.10 27.60 20.30 26.70 20.20 26.00 20.10 25.30 20.20 24.60 20.50 24.10 21.00 23.80 21.50 23.60 22.20 23.40 22.30 23.00 22.90 22.70 23.50 22.20 24.10 21.70 24.70 21.00 25.20 20.50 25.90 20.20 26.40 20.00 26.90 19.40 27.00 18.80 27.20 18.50 27.90 18.30 28.30 18.40 28.80 18.40 29.20 18.30 29.80 18.10 30.30 18.10 30.70 17.70 31.00 17.30 31.50 17.40 31.90 18.00 32.00 18.70 32.30 19.30 32.70 19.80 33.10 20.10 33.60 20.70 33.90 21.20 34.30 21.80 34.50 22.60 34.60 23.40 34.30 24.00 34.80 24.20 35.30 24.30 35.90 24.00 36.40 23.60 36.90 23.00 37.40 23.40 37.70 24.00 37.80 25.00 38.00 25.80 38.30 26.60 38.60 27.50 38.70 28.40 38.50 29.40 38.30 30.40 38.40 31.40 38.30 32.00 38.70 32.10 39.10 32.60 39.60 33.10 40.00 33.50M40.00 26.50 39.80 27.40 39.50 28.40 39.20 29.40 39.20 30.40 39.80 30.80 40.00 31.00M19.90 30.20 20.30 30.20 20.80 30.80 21.20 31.50 21.40 32.00 21.80 32.60 21.90 33.20 21.60 33.60 21.10 33.90 20.60 34.05 20.10 33.80 19.90 33.20 19.80 32.40 19.80 31.80 19.90 31.10 19.70 30.50 19.90 30.20M35.30 34.40 36.00 34.70 36.80 34.80 37.50 34.80 38.00 35.40 38.60 36.10 39.30 36.70 40.00 37.20M35.30 34.40 35.20 34.90 35.60 35.40 36.20 36.00 36.90 36.60 37.60 37.30 38.30 38.00 38.90 38.50 39.30 39.20 39.70 40.00" fill="none" stroke="#111" stroke-width="1.1" vector-effect="non-scaling-stroke" stroke-linejoin="round"/>
<path d="M1.00 0.00 2.30 0.60 3.60 1.10 4.60 1.70 5.70 2.20 6.50 2.60M1.20 4.40 2.30 4.70 3.10 4.10 4.50 3.70 5.60 2.80 6.60 2.60 7.80 2.80 8.90 2.70 9.50 2.40 10.30 2.00 11.40 2.10 11.60 2.90 12.60 3.00 13.80 2.60 14.90 2.80M1.20 4.40 0.70 5.60 0.90 6.50 0.60 7.50 1.30 8.60 1.70 8.70 0.90 10.20 1.40 10.60 1.80 11.40 2.60 11.70 2.80 12.70 3.30 12.90 3.20 13.40 2.30 13.60 1.80 14.10 1.60 14.80M0.90 10.20 2.50 10.60 4.00 10.50 5.00 10.40 6.30 10.10 6.50 9.00 7.80 8.50 8.80 8.30 9.30 8.00 9.50 7.00 10.00 6.20 11.10 5.70 11.50 5.00 11.50 4.00 12.40 3.40 13.60 3.10 14.90 2.80M8.40 16.30 9.30 15.80 10.50 15.70 11.00 15.40 10.80 14.60 10.30 14.20 10.00 13.50 9.60 12.90 10.30 12.10 11.30 12.10 12.00 11.80 12.90 11.00 13.40 10.10 13.90 9.60 14.60 9.00 14.60 8.10 15.00 7.50 14.40 6.90 14.00 6.50 14.00 5.90 13.90 5.40 14.70 5.00 15.80 4.60 17.00 4.50M14.90 2.80 15.20 3.20 16.20 3.90 17.00 4.50 18.10 4.50 19.00 5.60 18.70 6.50 18.90 7.60 18.60 8.20 19.30 9.00 20.20 9.40 21.00 9.80M20.20 9.60 21.10 9.90 22.10 9.70 23.30 10.50 24.20 10.80 25.10 11.30 26.00 12.00 27.00 12.10 28.10 12.10M20.10 10.00 20.10 11.20 21.00 11.60 22.00 12.10 23.30 12.60 24.50 12.60 25.20 13.20 26.00 13.40 27.20 13.60 28.10 13.50 28.10 12.10M28.10 12.10 28.80 11.90 29.50 11.80 30.50 12.00 31.60 12.10 32.50 12.10 33.40 11.50 34.30 10.90 35.30 10.90 36.20 10.60 36.80 11.40 37.30 11.80M28.80 12.90 29.80 13.30 31.00 13.20 32.10 13.10 32.00 12.50 31.60 12.10M37.30 11.80 38.40 12.40 38.70 13.60 37.80 14.70 37.60 16.00 38.80 15.90 39.50 17.10 39.90 18.00 40.00 18.20M37.30 11.80 37.00 12.40 36.00 12.80 35.20 13.40 34.60 14.60 34.20 16.00 33.40 16.30 33.20 17.70 32.70 18.00 32.60 18.70M28.10 13.50 28.50 14.00 29.80 14.00 29.90 14.70 31.00 14.80 32.00 14.80 32.40 15.20 32.20 16.00 31.90 16.30 31.60 17.00 31.90 18.00M28.50 14.00 28.10 14.40 28.80 15.00 28.50 15.70 28.80 16.50 28.90 17.40 29.00 18.20M32.20 16.00 32.40 17.00 32.60 18.00M40.00 19.80 38.90 20.30 37.80 21.40 37.60 23.00 38.60 23.80 38.20 24.80 39.10 26.00 39.20 27.10 39.40 29.00 38.80 29.60 38.60 30.00M40.00 18.20 40.00 19.80" fill="none" stroke="#222" stroke-width="0.9" vector-effect="non-scaling-stroke" stroke-linejoin="round"/>
<path d="M32.70 26.50 32.90 27.20 32.80 28.00 32.60 28.60 32.60 29.10M33.50 30.80 33.40 31.10M33.80 32.70 33.90 33.10M36.00 37.10 36.50 37.60M37.20 38.50 37.70 39.10" fill="none" stroke="#111" stroke-width="1.8" stroke-dasharray="3 2" vector-effect="non-scaling-stroke"/>
</svg>
<polygon points="1144.04,933.49 1145.76,937.62 1150.22,937.98 1146.82,940.89 1147.86,945.25 1144.04,942.91 1140.22,945.25 1141.26,940.89 1137.86,937.98 1142.32,937.62" fill="#fff"/>
<rect x="985.6" y="856.7" width="325.0" height="314.3" fill="none" stroke="#000" stroke-width="2.6"/>
<path d="M985.6 1171.0v9.5M985.6 1171.0h-9.5M1026.2 1171.0v5.5M985.6 1131.7h-5.5M1066.8 1171.0v9.5M985.6 1092.4h-9.5M1107.5 1171.0v5.5M985.6 1053.1h-5.5M1148.1 1171.0v9.5M985.6 1013.9h-9.5M1188.7 1171.0v5.5M985.6 974.6h-5.5M1229.3 1171.0v9.5M985.6 935.3h-9.5M1270.0 1171.0v5.5M985.6 896.0h-5.5M1310.6 1171.0v9.5M985.6 856.7h-9.5" stroke="#000" stroke-width="2.4" fill="none"/>
<text x="985.6" y="1204.5" text-anchor="middle" font-size="25.5" textLength="26.5" lengthAdjust="spacingAndGlyphs">60</text>
<text x="1066.8" y="1204.5" text-anchor="middle" font-size="25.5" textLength="26.5" lengthAdjust="spacingAndGlyphs">70</text>
<text x="1148.1" y="1204.5" text-anchor="middle" font-size="25.5" textLength="26.5" lengthAdjust="spacingAndGlyphs">80</text>
<text x="1229.3" y="1204.5" text-anchor="middle" font-size="25.5" textLength="26.5" lengthAdjust="spacingAndGlyphs">90</text>
<text x="1310.6" y="1204.5" text-anchor="middle" font-size="25.5" textLength="39.8" lengthAdjust="spacingAndGlyphs">100</text>
<text x="971.1" y="1179.8" text-anchor="end" font-size="25.5">0</text>
<text x="971.1" y="1101.2" text-anchor="end" font-size="25.5">10</text>
<text x="971.1" y="1022.6" text-anchor="end" font-size="25.5">20</text>
<text x="971.1" y="944.1" text-anchor="end" font-size="25.5">30</text>
<text x="971.1" y="865.5" text-anchor="end" font-size="25.5">40</text>
<text x="993.6" y="845.0" font-size="25.0" textLength="115.8" lengthAdjust="spacingAndGlyphs">November</text>
<svg x="1382.4" y="849.4" width="325.8" height="313.0" viewBox="0 0 40 40" preserveAspectRatio="none" shape-rendering="crispEdges">
<path fill="#00a5ff" d="M0 0h4v1h-4zM0 1h4v1h-4zM0 2h4v1h-4zM0 3h4v1h-4zM19 4h1v1h-1zM10 5h1v1h-1zM20 6h1v1h-1zM9 7h1v1h-1zM20 7h1v1h-1zM9 8h1v1h-1zM20 8h1v1h-1zM5 9h1v1h-1zM8 9h1v1h-1zM0 10h4v1h-4zM30 10h1v1h-1zM35 10h5v1h-5zM4 11h1v1h-1zM4 12h1v1h-1zM21 12h3v1h-3zM4 13h1v1h-1zM21 13h3v1h-3zM0 14h3v1h-3zM31 14h9v1h-9z"/><path fill="#00d3ff" d="M4 0h1v1h-1zM15 0h1v1h-1zM4 1h1v1h-1zM15 1h1v1h-1zM4 2h1v1h-1zM15 2h1v1h-1zM4 3h1v1h-1zM15 3h1v1h-1zM11 4h1v1h-1zM16 4h3v1h-3zM5 5h1v1h-1zM9 5h1v1h-1zM19 5h1v1h-1zM6 6h3v1h-3zM6 7h3v1h-3zM6 8h3v1h-3zM19 10h1v1h-1zM24 12h1v1h-1zM31 13h1v1h-1zM34 13h1v1h-1z"/><path fill="#00fbe5" d="M5 0h1v1h-1zM11 0h3v1h-3zM5 1h1v1h-1zM11 1h3v1h-3zM5 2h1v1h-1zM13 2h1v1h-1zM5 3h1v1h-1zM10 3h1v1h-1zM9 4h1v1h-1zM18 5h1v1h-1zM19 6h1v1h-1zM19 7h1v1h-1z"/><path fill="#00ff75" d="M6 0h3v1h-3zM6 1h3v1h-3zM6 2h3v1h-3zM6 3h3v1h-3zM13 3h1v1h-1zM12 4h1v1h-1zM16 7h1v1h-1zM17 8h1v1h-1zM19 8h1v1h-1zM18 9h1v1h-1zM30 11h1v1h-1zM34 12h1v1h-1zM36 12h1v1h-1z"/><path fill="#00feb0" d="M9 0h2v1h-2zM9 1h2v1h-2zM9 2h4v1h-4zM9 3h1v1h-1zM6 4h3v1h-3zM15 4h1v1h-1zM17 5h1v1h-1zM15 6h1v1h-1zM18 6h1v1h-1zM16 8h1v1h-1zM23 10h1v1h-1zM28 11h2v1h-2zM25 12h1v1h-1zM35 12h1v1h-1z"/><path fill="#00edff" d="M14 0h1v1h-1zM14 1h1v1h-1zM14 2h1v1h-1zM14 3h1v1h-1zM5 4h1v1h-1zM10 4h1v1h-1zM6 5h3v1h-3zM15 7h1v1h-1zM15 8h1v1h-1zM16 9h2v1h-2zM21 11h1v1h-1zM38 11h1v1h-1zM32 13h2v1h-2zM38 13h1v1h-1z"/><path fill="#00b9ff" d="M16 0h3v1h-3zM16 1h3v1h-3zM16 2h3v1h-3zM16 3h3v1h-3zM4 4h1v1h-1zM5 6h1v1h-1zM9 6h1v1h-1zM5 7h1v1h-1zM5 8h1v1h-1zM6 9h2v1h-2zM15 9h1v1h-1zM21 9h1v1h-1zM24 10h1v1h-1zM31 10h4v1h-4zM0 11h4v1h-4zM39 11h1v1h-1zM0 12h4v1h-4zM0 13h4v1h-4zM30 13h1v1h-1zM35 13h3v1h-3z"/><path fill="#007cff" d="M19 0h1v1h-1zM19 1h1v1h-1zM0 5h4v1h-4zM11 5h2v1h-2zM10 6h1v1h-1zM21 6h3v1h-3zM4 7h1v1h-1zM10 7h1v1h-1zM21 7h3v1h-3zM4 8h1v1h-1zM10 8h1v1h-1zM21 8h4v1h-4zM0 9h4v1h-4zM14 9h1v1h-1zM23 9h2v1h-2zM30 9h1v1h-1zM35 9h5v1h-5zM6 10h3v1h-3zM16 10h3v1h-3zM29 10h1v1h-1zM5 11h1v1h-1zM5 12h1v1h-1zM5 13h1v1h-1zM20 13h1v1h-1zM25 13h1v1h-1zM29 13h1v1h-1zM4 14h1v1h-1zM21 14h1v1h-1zM24 14h1v1h-1zM22 29h1v1h-1zM21 30h8v1h-8zM0 31h9v1h-9zM20 31h1v1h-1zM30 31h4v1h-4zM0 32h9v1h-9zM20 32h1v1h-1zM30 32h4v1h-4zM0 33h9v1h-9zM20 33h1v1h-1zM30 33h4v1h-4zM21 34h10v1h-10z"/><path fill="#1238ff" d="M20 0h1v1h-1zM35 0h5v1h-5zM20 1h1v1h-1zM35 1h5v1h-5zM20 2h1v1h-1zM35 2h5v1h-5zM20 3h1v1h-1zM35 3h5v1h-5zM30 4h6v1h-6zM25 5h5v1h-5zM12 9h1v1h-1zM11 10h3v1h-3zM10 11h1v1h-1zM15 11h3v1h-3zM10 12h1v1h-1zM15 12h4v1h-4zM10 13h1v1h-1zM15 13h4v1h-4zM9 14h1v1h-1zM19 14h1v1h-1zM5 15h1v1h-1zM20 15h1v1h-1zM25 15h1v1h-1zM29 15h1v1h-1zM4 16h1v1h-1zM21 16h4v1h-4zM34 16h1v1h-1zM4 17h1v1h-1zM21 17h3v1h-3zM34 17h2v1h-2zM4 18h1v1h-1zM21 18h3v1h-3zM35 18h1v1h-1zM0 19h3v1h-3zM36 19h4v1h-4zM20 25h2v1h-2zM24 25h1v1h-1zM20 26h1v1h-1zM25 26h1v1h-1zM25 27h1v1h-1zM25 28h1v1h-1zM26 29h4v1h-4zM9 30h1v1h-1zM19 30h1v1h-1zM11 31h4v1h-4zM19 31h1v1h-1zM36 31h4v1h-4zM11 32h4v1h-4zM19 32h1v1h-1zM36 32h4v1h-4zM11 33h4v1h-4zM19 33h1v1h-1zM36 33h4v1h-4zM11 34h4v1h-4zM19 34h1v1h-1zM35 34h5v1h-5zM4 35h16v1h-16zM35 35h1v1h-1zM10 36h10v1h-10zM25 36h5v1h-5zM35 36h1v1h-1zM10 37h10v1h-10zM25 37h5v1h-5zM34 37h2v1h-2zM10 38h10v1h-10zM25 38h5v1h-5zM34 38h2v1h-2zM10 39h10v1h-10zM25 39h5v1h-5zM34 39h2v1h-2z"/><path fill="#4b08ff" d="M21 0h4v1h-4zM21 1h4v1h-4zM21 2h4v1h-4zM22 3h3v1h-3zM10 15h5v1h-5zM6 16h4v1h-4zM15 16h4v1h-4zM6 17h4v1h-4zM15 17h4v1h-4zM6 18h4v1h-4zM15 18h4v1h-4zM5 19h1v1h-1zM16 19h4v1h-4zM27 19h2v1h-2zM0 20h5v1h-5zM19 20h2v1h-2zM24 20h11v1h-11zM20 21h5v1h-5zM35 21h5v1h-5zM20 22h5v1h-5zM35 22h5v1h-5zM20 23h5v1h-5zM35 23h5v1h-5zM0 24h3v1h-3zM19 24h1v1h-1zM25 24h5v1h-5zM0 25h5v1h-5zM16 25h3v1h-3zM30 25h4v1h-4zM4 26h1v1h-1zM15 26h4v1h-4zM30 26h4v1h-4zM4 27h2v1h-2zM15 27h4v1h-4zM31 27h3v1h-3zM5 28h1v1h-1zM15 28h4v1h-4zM31 28h4v1h-4zM10 29h6v1h-6zM35 29h1v1h-1z"/><path fill="#3710ff" d="M25 0h5v1h-5zM25 1h5v1h-5zM25 2h5v1h-5zM21 3h1v1h-1zM25 3h5v1h-5zM11 14h4v1h-4zM7 15h3v1h-3zM15 15h4v1h-4zM5 16h1v1h-1zM19 16h1v1h-1zM26 16h4v1h-4zM5 17h1v1h-1zM19 17h1v1h-1zM26 17h4v1h-4zM5 18h1v1h-1zM19 18h1v1h-1zM25 18h5v1h-5zM20 19h1v1h-1zM25 19h2v1h-2zM29 19h5v1h-5zM21 20h3v1h-3zM35 20h5v1h-5zM20 24h5v1h-5zM19 25h1v1h-1zM26 25h4v1h-4zM0 26h4v1h-4zM19 26h1v1h-1zM29 26h1v1h-1zM0 27h4v1h-4zM19 27h1v1h-1zM29 27h2v1h-2zM0 28h5v1h-5zM19 28h1v1h-1zM30 28h1v1h-1zM5 29h5v1h-5zM16 29h3v1h-3zM34 29h1v1h-1zM16 30h2v1h-2zM0 36h5v1h-5zM0 37h5v1h-5zM0 38h5v1h-5zM0 39h5v1h-5z"/><path fill="#2420ff" d="M30 0h5v1h-5zM30 1h5v1h-5zM30 2h5v1h-5zM30 3h5v1h-5zM21 4h9v1h-9zM11 11h4v1h-4zM11 12h4v1h-4zM11 13h4v1h-4zM10 14h1v1h-1zM15 14h4v1h-4zM6 15h1v1h-1zM19 15h1v1h-1zM26 15h3v1h-3zM20 16h1v1h-1zM25 16h1v1h-1zM30 16h4v1h-4zM20 17h1v1h-1zM24 17h2v1h-2zM30 17h4v1h-4zM20 18h1v1h-1zM24 18h1v1h-1zM30 18h5v1h-5zM3 19h2v1h-2zM21 19h4v1h-4zM34 19h2v1h-2zM25 25h1v1h-1zM26 26h3v1h-3zM26 27h3v1h-3zM26 28h4v1h-4zM0 29h5v1h-5zM19 29h1v1h-1zM30 29h4v1h-4zM10 30h6v1h-6zM18 30h1v1h-1zM35 30h5v1h-5zM15 31h4v1h-4zM15 32h4v1h-4zM15 33h4v1h-4zM15 34h4v1h-4zM0 35h4v1h-4zM36 35h4v1h-4zM5 36h5v1h-5zM36 36h4v1h-4zM5 37h5v1h-5zM36 37h4v1h-4zM5 38h5v1h-5zM36 38h4v1h-4zM5 39h5v1h-5zM36 39h4v1h-4z"/><path fill="#0091ff" d="M19 2h1v1h-1zM19 3h1v1h-1zM0 4h4v1h-4zM4 5h1v1h-1zM13 5h1v1h-1zM20 5h1v1h-1zM4 6h1v1h-1zM14 6h1v1h-1zM14 7h1v1h-1zM14 8h1v1h-1zM4 9h1v1h-1zM9 9h1v1h-1zM22 9h1v1h-1zM31 9h4v1h-4zM4 10h2v1h-2zM20 11h1v1h-1zM20 12h1v1h-1zM24 13h1v1h-1zM3 14h1v1h-1zM22 14h2v1h-2zM30 14h1v1h-1zM21 31h9v1h-9zM21 32h9v1h-9zM21 33h9v1h-9z"/><path fill="#00ff32" d="M11 3h2v1h-2zM13 4h2v1h-2zM14 5h3v1h-3zM16 6h2v1h-2zM17 7h2v1h-2zM18 8h1v1h-1zM19 9h2v1h-2zM20 10h3v1h-3zM22 11h6v1h-6zM31 11h7v1h-7zM26 12h8v1h-8zM37 12h3v1h-3zM39 13h1v1h-1z"/><path fill="#0050ff" d="M20 4h1v1h-1zM36 4h4v1h-4zM22 5h3v1h-3zM30 5h10v1h-10zM12 6h1v1h-1zM25 6h5v1h-5zM11 7h3v1h-3zM26 7h4v1h-4zM11 8h3v1h-3zM26 8h4v1h-4zM11 9h1v1h-1zM13 9h1v1h-1zM26 9h3v1h-3zM10 10h1v1h-1zM14 10h1v1h-1zM9 11h1v1h-1zM18 11h1v1h-1zM9 12h1v1h-1zM19 12h1v1h-1zM9 13h1v1h-1zM19 13h1v1h-1zM6 14h3v1h-3zM26 14h3v1h-3zM4 15h1v1h-1zM21 15h4v1h-4zM30 15h2v1h-2zM0 16h4v1h-4zM35 16h5v1h-5zM0 17h4v1h-4zM36 17h4v1h-4zM0 18h4v1h-4zM36 18h4v1h-4zM22 25h2v1h-2zM24 26h1v1h-1zM20 27h1v1h-1zM24 27h1v1h-1zM20 28h1v1h-1zM24 28h1v1h-1zM20 29h1v1h-1zM25 29h1v1h-1zM4 30h5v1h-5zM31 30h4v1h-4zM10 31h1v1h-1zM35 31h1v1h-1zM10 32h1v1h-1zM35 32h1v1h-1zM10 33h1v1h-1zM35 33h1v1h-1zM9 34h2v1h-2zM20 35h1v1h-1zM25 35h6v1h-6zM33 35h2v1h-2zM20 36h5v1h-5zM30 36h5v1h-5zM20 37h5v1h-5zM30 37h4v1h-4zM20 38h5v1h-5zM30 38h4v1h-4zM20 39h5v1h-5zM30 39h4v1h-4z"/><path fill="#0066ff" d="M21 5h1v1h-1zM0 6h4v1h-4zM11 6h1v1h-1zM13 6h1v1h-1zM24 6h1v1h-1zM30 6h10v1h-10zM0 7h4v1h-4zM24 7h2v1h-2zM30 7h10v1h-10zM0 8h4v1h-4zM25 8h1v1h-1zM30 8h10v1h-10zM10 9h1v1h-1zM25 9h1v1h-1zM29 9h1v1h-1zM9 10h1v1h-1zM15 10h1v1h-1zM25 10h4v1h-4zM6 11h3v1h-3zM19 11h1v1h-1zM6 12h3v1h-3zM6 13h3v1h-3zM26 13h3v1h-3zM5 14h1v1h-1zM20 14h1v1h-1zM25 14h1v1h-1zM29 14h1v1h-1zM0 15h4v1h-4zM32 15h8v1h-8zM21 26h3v1h-3zM21 27h3v1h-3zM21 28h3v1h-3zM21 29h1v1h-1zM23 29h2v1h-2zM0 30h4v1h-4zM20 30h1v1h-1zM29 30h2v1h-2zM9 31h1v1h-1zM34 31h1v1h-1zM9 32h1v1h-1zM34 32h1v1h-1zM9 33h1v1h-1zM34 33h1v1h-1zM0 34h9v1h-9zM20 34h1v1h-1zM31 34h4v1h-4zM21 35h4v1h-4zM31 35h2v1h-2z"/><path fill="#5f00ff" d="M10 16h5v1h-5zM10 17h5v1h-5zM10 18h5v1h-5zM6 19h5v1h-5zM14 19h2v1h-2zM5 20h1v1h-1zM15 20h4v1h-4zM0 21h5v1h-5zM16 21h4v1h-4zM25 21h10v1h-10zM0 22h4v1h-4zM16 22h4v1h-4zM25 22h10v1h-10zM0 23h5v1h-5zM16 23h4v1h-4zM25 23h10v1h-10zM3 24h2v1h-2zM15 24h4v1h-4zM30 24h10v1h-10zM5 25h2v1h-2zM14 25h2v1h-2zM34 25h6v1h-6zM5 26h10v1h-10zM34 26h2v1h-2zM6 27h9v1h-9zM34 27h2v1h-2zM6 28h9v1h-9zM35 28h1v1h-1zM36 29h4v1h-4z"/><path fill="#7100ff" d="M11 19h3v1h-3zM6 20h9v1h-9zM5 21h1v1h-1zM14 21h2v1h-2zM4 22h2v1h-2zM14 22h2v1h-2zM5 23h1v1h-1zM14 23h2v1h-2zM5 24h10v1h-10zM7 25h7v1h-7zM36 26h4v1h-4zM36 27h4v1h-4zM36 28h4v1h-4z"/><path fill="#8300ff" d="M6 21h8v1h-8zM6 22h8v1h-8zM6 23h8v1h-8z"/>
</svg>
<svg x="1382.4" y="849.4" width="325.8" height="313.0" viewBox="0 0 40 40" preserveAspectRatio="none">
<path d="M0.00 14.65 1.00 14.85 1.60 14.80 2.30 14.85 3.50 14.75 4.50 14.75 5.50 14.65 6.40 14.55 6.70 15.00 7.00 15.20 7.30 15.60 7.50 16.10 8.20 16.40 8.60 16.70 9.00 17.20 9.80 17.10 10.30 17.10 9.60 17.60 9.00 17.70 9.40 18.30 10.00 18.90 10.80 19.30 11.50 19.10 12.10 18.80 12.30 18.30 12.60 17.70 12.90 18.20 12.60 18.70 12.90 19.50 12.80 20.40 12.90 21.00 13.10 21.80 13.30 22.70 13.50 23.60 13.80 24.40 14.10 25.10 14.40 25.80 14.70 26.70 14.80 27.40 15.20 28.00 15.60 28.60 15.90 29.20 16.20 30.00 16.40 30.70 16.80 31.30 17.30 31.80 17.60 31.90 18.10 31.50 18.20 31.10 18.40 30.80 19.00 30.70 19.30 30.30 19.60 29.70 19.85 29.65 19.80 29.00 19.80 28.40 20.10 27.60 20.30 26.70 20.20 26.00 20.10 25.30 20.20 24.60 20.50 24.10 21.00 23.80 21.50 23.60 22.20 23.40 22.30 23.00 22.90 22.70 23.50 22.20 24.10 21.70 24.70 21.00 25.20 20.50 25.90 20.20 26.40 20.00 26.90 19.40 27.00 18.80 27.20 18.50 27.90 18.30 28.30 18.40 28.80 18.40 29.20 18.30 29.80 18.10 30.30 18.10 30.70 17.70 31.00 17.30 31.50 17.40 31.90 18.00 32.00 18.70 32.30 19.30 32.70 19.80 33.10 20.10 33.60 20.70 33.90 21.20 34.30 21.80 34.50 22.60 34.60 23.40 34.30 24.00 34.80 24.20 35.30 24.30 35.90 24.00 36.40 23.60 36.90 23.00 37.40 23.40 37.70 24.00 37.80 25.00 38.00 25.80 38.30 26.60 38.60 27.50 38.70 28.40 38.50 29.40 38.30 30.40 38.40 31.40 38.30 32.00 38.70 32.10 39.10 32.60 39.60 33.10 40.00 33.50M40.00 26.50 39.80 27.40 39.50 28.40 39.20 29.40 39.20 30.40 39.80 30.80 40.00 31.00M19.90 30.20 20.30 30.20 20.80 30.80 21.20 31.50 21.40 32.00 21.80 32.60 21.90 33.20 21.60 33.60 21.10 33.90 20.60 34.05 20.10 33.80 19.90 33.20 19.80 32.40 19.80 31.80 19.90 31.10 19.70 30.50 19.90 30.20M35.30 34.40 36.00 34.70 36.80 34.80 37.50 34.80 38.00 35.40 38.60 36.10 39.30 36.70 40.00 37.20M35.30 34.40 35.20 34.90 35.60 35.40 36.20 36.00 36.90 36.60 37.60 37.30 38.30 38.00 38.90 38.50 39.30 39.20 39.70 40.00" fill="none" stroke="#111" stroke-width="1.1" vector-effect="non-scaling-stroke" stroke-linejoin="round"/>
<path d="M1.00 0.00 2.30 0.60 3.60 1.10 4.60 1.70 5.70 2.20 6.50 2.60M1.20 4.40 2.30 4.70 3.10 4.10 4.50 3.70 5.60 2.80 6.60 2.60 7.80 2.80 8.90 2.70 9.50 2.40 10.30 2.00 11.40 2.10 11.60 2.90 12.60 3.00 13.80 2.60 14.90 2.80M1.20 4.40 0.70 5.60 0.90 6.50 0.60 7.50 1.30 8.60 1.70 8.70 0.90 10.20 1.40 10.60 1.80 11.40 2.60 11.70 2.80 12.70 3.30 12.90 3.20 13.40 2.30 13.60 1.80 14.10 1.60 14.80M0.90 10.20 2.50 10.60 4.00 10.50 5.00 10.40 6.30 10.10 6.50 9.00 7.80 8.50 8.80 8.30 9.30 8.00 9.50 7.00 10.00 6.20 11.10 5.70 11.50 5.00 11.50 4.00 12.40 3.40 13.60 3.10 14.90 2.80M8.40 16.30 9.30 15.80 10.50 15.70 11.00 15.40 10.80 14.60 10.30 14.20 10.00 13.50 9.60 12.90 10.30 12.10 11.30 12.10 12.00 11.80 12.90 11.00 13.40 10.10 13.90 9.60 14.60 9.00 14.60 8.10 15.00 7.50 14.40 6.90 14.00 6.50 14.00 5.90 13.90 5.40 14.70 5.00 15.80 4.60 17.00 4.50M14.90 2.80 15.20 3.20 16.20 3.90 17.00 4.50 18.10 4.50 19.00 5.60 18.70 6.50 18.90 7.60 18.60 8.20 19.30 9.00 20.20 9.40 21.00 9.80M20.20 9.60 21.10 9.90 22.10 9.70 23.30 10.50 24.20 10.80 25.10 11.30 26.00 12.00 27.00 12.10 28.10 12.10M20.10 10.00 20.10 11.20 21.00 11.60 22.00 12.10 23.30 12.60 24.50 12.60 25.20 13.20 26.00 13.40 27.20 13.60 28.10 13.50 28.10 12.10M28.10 12.10 28.80 11.90 29.50 11.80 30.50 12.00 31.60 12.10 32.50 12.10 33.40 11.50 34.30 10.90 35.30 10.90 36.20 10.60 36.80 11.40 37.30 11.80M28.80 12.90 29.80 13.30 31.00 13.20 32.10 13.10 32.00 12.50 31.60 12.10M37.30 11.80 38.40 12.40 38.70 13.60 37.80 14.70 37.60 16.00 38.80 15.90 39.50 17.10 39.90 18.00 40.00 18.20M37.30 11.80 37.00 12.40 36.00 12.80 35.20 13.40 34.60 14.60 34.20 16.00 33.40 16.30 33.20 17.70 32.70 18.00 32.60 18.70M28.10 13.50 28.50 14.00 29.80 14.00 29.90 14.70 31.00 14.80 32.00 14.80 32.40 15.20 32.20 16.00 31.90 16.30 31.60 17.00 31.90 18.00M28.50 14.00 28.10 14.40 28.80 15.00 28.50 15.70 28.80 16.50 28.90 17.40 29.00 18.20M32.20 16.00 32.40 17.00 32.60 18.00M40.00 19.80 38.90 20.30 37.80 21.40 37.60 23.00 38.60 23.80 38.20 24.80 39.10 26.00 39.20 27.10 39.40 29.00 38.80 29.60 38.60 30.00M40.00 18.20 40.00 19.80" fill="none" stroke="#222" stroke-width="0.9" vector-effect="non-scaling-stroke" stroke-linejoin="round"/>
<path d="M32.70 26.50 32.90 27.20 32.80 28.00 32.60 28.60 32.60 29.10M33.50 30.80 33.40 31.10M33.80 32.70 33.90 33.10M36.00 37.10 36.50 37.60M37.20 38.50 37.70 39.10" fill="none" stroke="#111" stroke-width="1.8" stroke-dasharray="3 2" vector-effect="non-scaling-stroke"/>
</svg>
<polygon points="1541.23,925.85 1542.95,929.98 1547.41,930.34 1544.01,933.25 1545.05,937.60 1541.23,935.27 1537.41,937.60 1538.45,933.25 1535.05,930.34 1539.51,929.98" fill="#fff"/>
<rect x="1382.4" y="849.4" width="325.8" height="313.0" fill="none" stroke="#000" stroke-width="2.6"/>
<path d="M1382.4 1162.4v9.5M1382.4 1162.4h-9.5M1423.1 1162.4v5.5M1382.4 1123.3h-5.5M1463.9 1162.4v9.5M1382.4 1084.2h-9.5M1504.6 1162.4v5.5M1382.4 1045.0h-5.5M1545.3 1162.4v9.5M1382.4 1005.9h-9.5M1586.0 1162.4v5.5M1382.4 966.8h-5.5M1626.8 1162.4v9.5M1382.4 927.6h-9.5M1667.5 1162.4v5.5M1382.4 888.5h-5.5M1708.2 1162.4v9.5M1382.4 849.4h-9.5" stroke="#000" stroke-width="2.4" fill="none"/>
<text x="1382.4" y="1195.9" text-anchor="middle" font-size="25.5" textLength="26.5" lengthAdjust="spacingAndGlyphs">60</text>
<text x="1463.9" y="1195.9" text-anchor="middle" font-size="25.5" textLength="26.5" lengthAdjust="spacingAndGlyphs">70</text>
<text x="1545.3" y="1195.9" text-anchor="middle" font-size="25.5" textLength="26.5" lengthAdjust="spacingAndGlyphs">80</text>
<text x="1626.8" y="1195.9" text-anchor="middle" font-size="25.5" textLength="26.5" lengthAdjust="spacingAndGlyphs">90</text>
<text x="1708.2" y="1195.9" text-anchor="middle" font-size="25.5" textLength="39.8" lengthAdjust="spacingAndGlyphs">100</text>
<text x="1367.9" y="1171.2" text-anchor="end" font-size="25.5">0</text>
<text x="1367.9" y="1093.0" text-anchor="end" font-size="25.5">10</text>
<text x="1367.9" y="1014.7" text-anchor="end" font-size="25.5">20</text>
<text x="1367.9" y="936.4" text-anchor="end" font-size="25.5">30</text>
<text x="1367.9" y="858.2" text-anchor="end" font-size="25.5">40</text>
<text x="1383.5" y="843.5" font-size="25.0" textLength="111.8" lengthAdjust="spacingAndGlyphs">December</text>
<svg x="198.9" y="1341.4" width="346.9" height="304.1" viewBox="0 0 40 40" preserveAspectRatio="none" shape-rendering="crispEdges">
<path fill="#00ff00" d="M0 0h6v1h-6zM9 0h7v1h-7zM0 1h6v1h-6zM9 1h7v1h-7zM0 2h6v1h-6zM9 2h7v1h-7zM0 3h6v1h-6zM9 3h2v1h-2zM14 3h2v1h-2zM0 4h5v1h-5zM10 4h2v1h-2zM15 4h4v1h-4zM10 5h4v1h-4zM17 5h4v1h-4zM24 5h6v1h-6zM11 6h4v1h-4zM19 6h12v1h-12zM34 6h6v1h-6zM11 7h4v1h-4zM19 7h21v1h-21zM10 8h6v1h-6zM20 8h20v1h-20zM6 9h12v1h-12zM21 9h19v1h-19zM0 10h9v1h-9zM19 10h1v1h-1zM24 10h1v1h-1zM30 10h6v1h-6zM0 11h5v1h-5zM21 11h1v1h-1zM0 12h5v1h-5zM24 12h2v1h-2zM0 13h5v1h-5zM30 13h5v1h-5zM30 14h10v1h-10zM27 15h13v1h-13zM26 16h9v1h-9zM25 17h9v1h-9zM26 18h7v1h-7z"/><path fill="#00ff50" d="M6 0h3v1h-3zM6 1h3v1h-3zM6 2h3v1h-3zM6 3h3v1h-3zM5 4h5v1h-5zM0 5h5v1h-5zM9 5h1v1h-1zM10 6h1v1h-1zM18 6h1v1h-1zM10 7h1v1h-1zM15 7h2v1h-2zM16 8h1v1h-1zM0 9h6v1h-6zM18 9h1v1h-1zM23 10h1v1h-1zM36 10h4v1h-4zM28 11h2v1h-2zM35 13h1v1h-1z"/><path fill="#32fc00" d="M16 0h3v1h-3zM16 1h3v1h-3zM16 2h3v1h-3zM16 3h3v1h-3zM19 4h1v1h-1zM26 4h3v1h-3zM21 5h3v1h-3zM30 5h10v1h-10zM31 6h3v1h-3zM9 10h1v1h-1zM25 10h1v1h-1zM29 10h1v1h-1zM5 11h1v1h-1zM5 12h1v1h-1zM21 12h3v1h-3zM21 13h3v1h-3zM29 14h1v1h-1zM25 15h2v1h-2zM25 16h1v1h-1zM35 16h1v1h-1zM34 17h2v1h-2zM25 18h1v1h-1zM33 18h2v1h-2z"/><path fill="#87fa00" d="M19 0h1v1h-1zM26 0h3v1h-3zM19 1h1v1h-1zM26 1h3v1h-3zM19 2h1v1h-1zM26 2h3v1h-3zM19 3h1v1h-1zM26 3h4v1h-4zM20 4h1v1h-1zM25 4h1v1h-1zM29 4h1v1h-1zM10 10h9v1h-9zM26 10h3v1h-3zM6 11h4v1h-4zM20 11h1v1h-1zM6 12h3v1h-3zM20 12h1v1h-1zM5 13h3v1h-3zM20 13h1v1h-1zM24 13h2v1h-2zM29 13h1v1h-1zM0 14h4v1h-4zM21 14h8v1h-8zM22 15h3v1h-3zM24 16h1v1h-1zM36 16h4v1h-4zM24 17h1v1h-1zM36 17h4v1h-4zM24 18h1v1h-1zM35 18h5v1h-5zM36 19h4v1h-4z"/><path fill="#ebff00" d="M20 0h1v1h-1zM24 0h1v1h-1zM31 0h9v1h-9zM20 1h1v1h-1zM24 1h1v1h-1zM31 1h9v1h-9zM20 2h1v1h-1zM24 2h1v1h-1zM31 2h9v1h-9zM20 3h1v1h-1zM24 3h1v1h-1zM31 3h9v1h-9zM10 11h9v1h-9zM10 12h2v1h-2zM13 12h6v1h-6zM10 13h1v1h-1zM15 13h4v1h-4zM5 14h1v1h-1zM19 14h1v1h-1zM20 15h1v1h-1zM21 19h9v1h-9zM35 20h1v1h-1zM36 23h1v1h-1z"/><path fill="#fff300" d="M21 0h3v1h-3zM21 1h3v1h-3zM21 2h3v1h-3zM21 3h3v1h-3zM12 12h1v1h-1zM11 13h4v1h-4zM6 14h3v1h-3zM16 14h3v1h-3zM20 16h1v1h-1zM20 17h1v1h-1zM20 18h1v1h-1zM35 21h1v1h-1zM36 24h4v1h-4z"/><path fill="#c0fc00" d="M25 0h1v1h-1zM29 0h2v1h-2zM25 1h1v1h-1zM29 1h2v1h-2zM25 2h1v1h-1zM29 2h2v1h-2zM25 3h1v1h-1zM30 3h1v1h-1zM21 4h4v1h-4zM30 4h10v1h-10zM19 11h1v1h-1zM9 12h1v1h-1zM19 12h1v1h-1zM8 13h2v1h-2zM19 13h1v1h-1zM26 13h3v1h-3zM4 14h1v1h-1zM20 14h1v1h-1zM21 15h1v1h-1zM21 16h3v1h-3zM21 17h3v1h-3zM21 18h3v1h-3zM30 19h6v1h-6zM36 20h4v1h-4zM36 21h4v1h-4zM36 22h4v1h-4zM37 23h3v1h-3z"/><path fill="#00f4ff" d="M11 3h1v1h-1zM32 11h4v1h-4zM38 11h1v1h-1zM28 12h6v1h-6zM35 12h2v1h-2zM38 13h1v1h-1z"/><path fill="#00ffc6" d="M12 3h2v1h-2zM12 4h3v1h-3zM5 5h4v1h-4zM14 5h3v1h-3zM0 6h10v1h-10zM15 6h3v1h-3zM0 7h10v1h-10zM17 7h2v1h-2zM0 8h10v1h-10zM17 8h3v1h-3zM19 9h2v1h-2zM20 10h3v1h-3zM22 11h6v1h-6zM30 11h2v1h-2zM39 11h1v1h-1zM26 12h2v1h-2zM34 12h1v1h-1zM36 13h2v1h-2z"/><path fill="#00c8ff" d="M36 11h2v1h-2zM37 12h3v1h-3zM39 13h1v1h-1z"/><path fill="#ffdc00" d="M9 14h1v1h-1zM15 14h1v1h-1zM19 15h1v1h-1zM20 19h1v1h-1zM21 20h3v1h-3zM35 22h1v1h-1zM35 23h1v1h-1zM22 31h2v1h-2zM21 32h4v1h-4zM22 33h3v1h-3z"/><path fill="#ffbe00" d="M10 14h2v1h-2zM13 14h2v1h-2zM0 15h4v1h-4zM18 15h1v1h-1zM19 16h1v1h-1zM19 17h1v1h-1zM19 18h1v1h-1zM20 20h1v1h-1zM24 20h1v1h-1zM34 20h1v1h-1zM21 21h3v1h-3zM21 22h3v1h-3zM21 23h2v1h-2zM35 24h1v1h-1zM21 31h1v1h-1zM24 31h10v1h-10zM25 32h9v1h-9zM21 33h1v1h-1zM25 33h9v1h-9zM22 34h3v1h-3z"/><path fill="#ff9600" d="M12 14h1v1h-1zM4 15h1v1h-1zM16 15h2v1h-2zM19 19h1v1h-1zM33 20h1v1h-1zM20 21h1v1h-1zM20 22h1v1h-1zM23 23h1v1h-1zM36 25h4v1h-4zM16 26h3v1h-3zM16 27h3v1h-3zM17 28h2v1h-2zM21 30h4v1h-4zM30 30h4v1h-4zM34 31h1v1h-1zM34 32h1v1h-1zM34 33h1v1h-1zM21 34h1v1h-1zM25 34h9v1h-9zM26 35h3v1h-3z"/><path fill="#ff3c00" d="M5 15h1v1h-1zM0 16h4v1h-4zM0 17h4v1h-4zM0 18h4v1h-4zM16 19h3v1h-3zM19 20h1v1h-1zM26 20h4v1h-4zM19 21h1v1h-1zM34 23h1v1h-1zM19 24h1v1h-1zM24 24h1v1h-1zM34 24h1v1h-1zM19 25h1v1h-1zM34 25h1v1h-1zM15 26h1v1h-1zM35 26h5v1h-5zM15 27h1v1h-1zM35 27h5v1h-5zM15 28h1v1h-1zM19 28h1v1h-1zM35 28h5v1h-5zM16 29h4v1h-4zM30 29h10v1h-10zM35 30h1v1h-1zM0 31h4v1h-4zM35 31h1v1h-1zM0 32h4v1h-4zM35 32h1v1h-1zM0 33h4v1h-4zM35 33h1v1h-1zM20 34h1v1h-1zM35 34h1v1h-1zM21 35h3v1h-3zM34 35h1v1h-1zM24 36h1v1h-1zM30 36h5v1h-5zM24 37h2v1h-2zM30 37h4v1h-4zM24 38h2v1h-2zM30 38h4v1h-4zM24 39h2v1h-2zM30 39h4v1h-4z"/><path fill="#ff0000" d="M6 15h9v1h-9zM4 16h12v1h-12zM4 17h12v1h-12zM4 18h12v1h-12zM0 19h16v1h-16zM0 20h19v1h-19zM0 21h19v1h-19zM25 21h9v1h-9zM0 22h20v1h-20zM25 22h9v1h-9zM0 23h20v1h-20zM25 23h9v1h-9zM0 24h19v1h-19zM25 24h9v1h-9zM0 25h16v1h-16zM20 25h14v1h-14zM0 26h15v1h-15zM20 26h15v1h-15zM0 27h15v1h-15zM20 27h15v1h-15zM0 28h15v1h-15zM20 28h15v1h-15zM0 29h16v1h-16zM20 29h10v1h-10zM0 30h20v1h-20zM36 30h4v1h-4zM4 31h16v1h-16zM36 31h4v1h-4zM4 32h16v1h-16zM36 32h4v1h-4zM4 33h16v1h-16zM36 33h4v1h-4zM0 34h20v1h-20zM36 34h4v1h-4zM0 35h21v1h-21zM35 35h5v1h-5zM0 36h24v1h-24zM35 36h5v1h-5zM0 37h24v1h-24zM34 37h6v1h-6zM0 38h24v1h-24zM34 38h6v1h-6zM0 39h24v1h-24zM34 39h6v1h-6z"/><path fill="#ff6e00" d="M15 15h1v1h-1zM16 16h3v1h-3zM16 17h3v1h-3zM16 18h3v1h-3zM25 20h1v1h-1zM30 20h3v1h-3zM24 21h1v1h-1zM34 21h1v1h-1zM24 22h1v1h-1zM34 22h1v1h-1zM20 23h1v1h-1zM24 23h1v1h-1zM20 24h4v1h-4zM16 25h3v1h-3zM35 25h1v1h-1zM19 26h1v1h-1zM19 27h1v1h-1zM16 28h1v1h-1zM20 30h1v1h-1zM25 30h5v1h-5zM34 30h1v1h-1zM20 31h1v1h-1zM20 32h1v1h-1zM20 33h1v1h-1zM34 34h1v1h-1zM24 35h2v1h-2zM29 35h5v1h-5zM25 36h5v1h-5zM26 37h4v1h-4zM26 38h4v1h-4zM26 39h4v1h-4z"/>
</svg>
<svg x="198.9" y="1341.4" width="346.9" height="304.1" viewBox="0 0 40 40" preserveAspectRatio="none">
<path d="M0.00 14.65 1.00 14.85 1.60 14.80 2.30 14.85 3.50 14.75 4.50 14.75 5.50 14.65 6.40 14.55 6.70 15.00 7.00 15.20 7.30 15.60 7.50 16.10 8.20 16.40 8.60 16.70 9.00 17.20 9.80 17.10 10.30 17.10 9.60 17.60 9.00 17.70 9.40 18.30 10.00 18.90 10.80 19.30 11.50 19.10 12.10 18.80 12.30 18.30 12.60 17.70 12.90 18.20 12.60 18.70 12.90 19.50 12.80 20.40 12.90 21.00 13.10 21.80 13.30 22.70 13.50 23.60 13.80 24.40 14.10 25.10 14.40 25.80 14.70 26.70 14.80 27.40 15.20 28.00 15.60 28.60 15.90 29.20 16.20 30.00 16.40 30.70 16.80 31.30 17.30 31.80 17.60 31.90 18.10 31.50 18.20 31.10 18.40 30.80 19.00 30.70 19.30 30.30 19.60 29.70 19.85 29.65 19.80 29.00 19.80 28.40 20.10 27.60 20.30 26.70 20.20 26.00 20.10 25.30 20.20 24.60 20.50 24.10 21.00 23.80 21.50 23.60 22.20 23.40 22.30 23.00 22.90 22.70 23.50 22.20 24.10 21.70 24.70 21.00 25.20 20.50 25.90 20.20 26.40 20.00 26.90 19.40 27.00 18.80 27.20 18.50 27.90 18.30 28.30 18.40 28.80 18.40 29.20 18.30 29.80 18.10 30.30 18.10 30.70 17.70 31.00 17.30 31.50 17.40 31.90 18.00 32.00 18.70 32.30 19.30 32.70 19.80 33.10 20.10 33.60 20.70 33.90 21.20 34.30 21.80 34.50 22.60 34.60 23.40 34.30 24.00 34.80 24.20 35.30 24.30 35.90 24.00 36.40 23.60 36.90 23.00 37.40 23.40 37.70 24.00 37.80 25.00 38.00 25.80 38.30 26.60 38.60 27.50 38.70 28.40 38.50 29.40 38.30 30.40 38.40 31.40 38.30 32.00 38.70 32.10 39.10 32.60 39.60 33.10 40.00 33.50M40.00 26.50 39.80 27.40 39.50 28.40 39.20 29.40 39.20 30.40 39.80 30.80 40.00 31.00M19.90 30.20 20.30 30.20 20.80 30.80 21.20 31.50 21.40 32.00 21.80 32.60 21.90 33.20 21.60 33.60 21.10 33.90 20.60 34.05 20.10 33.80 19.90 33.20 19.80 32.40 19.80 31.80 19.90 31.10 19.70 30.50 19.90 30.20M35.30 34.40 36.00 34.70 36.80 34.80 37.50 34.80 38.00 35.40 38.60 36.10 39.30 36.70 40.00 37.20M35.30 34.40 35.20 34.90 35.60 35.40 36.20 36.00 36.90 36.60 37.60 37.30 38.30 38.00 38.90 38.50 39.30 39.20 39.70 40.00" fill="none" stroke="#111" stroke-width="1.1" vector-effect="non-scaling-stroke" stroke-linejoin="round"/>
<path d="M1.00 0.00 2.30 0.60 3.60 1.10 4.60 1.70 5.70 2.20 6.50 2.60M1.20 4.40 2.30 4.70 3.10 4.10 4.50 3.70 5.60 2.80 6.60 2.60 7.80 2.80 8.90 2.70 9.50 2.40 10.30 2.00 11.40 2.10 11.60 2.90 12.60 3.00 13.80 2.60 14.90 2.80M1.20 4.40 0.70 5.60 0.90 6.50 0.60 7.50 1.30 8.60 1.70 8.70 0.90 10.20 1.40 10.60 1.80 11.40 2.60 11.70 2.80 12.70 3.30 12.90 3.20 13.40 2.30 13.60 1.80 14.10 1.60 14.80M0.90 10.20 2.50 10.60 4.00 10.50 5.00 10.40 6.30 10.10 6.50 9.00 7.80 8.50 8.80 8.30 9.30 8.00 9.50 7.00 10.00 6.20 11.10 5.70 11.50 5.00 11.50 4.00 12.40 3.40 13.60 3.10 14.90 2.80M8.40 16.30 9.30 15.80 10.50 15.70 11.00 15.40 10.80 14.60 10.30 14.20 10.00 13.50 9.60 12.90 10.30 12.10 11.30 12.10 12.00 11.80 12.90 11.00 13.40 10.10 13.90 9.60 14.60 9.00 14.60 8.10 15.00 7.50 14.40 6.90 14.00 6.50 14.00 5.90 13.90 5.40 14.70 5.00 15.80 4.60 17.00 4.50M14.90 2.80 15.20 3.20 16.20 3.90 17.00 4.50 18.10 4.50 19.00 5.60 18.70 6.50 18.90 7.60 18.60 8.20 19.30 9.00 20.20 9.40 21.00 9.80M20.20 9.60 21.10 9.90 22.10 9.70 23.30 10.50 24.20 10.80 25.10 11.30 26.00 12.00 27.00 12.10 28.10 12.10M20.10 10.00 20.10 11.20 21.00 11.60 22.00 12.10 23.30 12.60 24.50 12.60 25.20 13.20 26.00 13.40 27.20 13.60 28.10 13.50 28.10 12.10M28.10 12.10 28.80 11.90 29.50 11.80 30.50 12.00 31.60 12.10 32.50 12.10 33.40 11.50 34.30 10.90 35.30 10.90 36.20 10.60 36.80 11.40 37.30 11.80M28.80 12.90 29.80 13.30 31.00 13.20 32.10 13.10 32.00 12.50 31.60 12.10M37.30 11.80 38.40 12.40 38.70 13.60 37.80 14.70 37.60 16.00 38.80 15.90 39.50 17.10 39.90 18.00 40.00 18.20M37.30 11.80 37.00 12.40 36.00 12.80 35.20 13.40 34.60 14.60 34.20 16.00 33.40 16.30 33.20 17.70 32.70 18.00 32.60 18.70M28.10 13.50 28.50 14.00 29.80 14.00 29.90 14.70 31.00 14.80 32.00 14.80 32.40 15.20 32.20 16.00 31.90 16.30 31.60 17.00 31.90 18.00M28.50 14.00 28.10 14.40 28.80 15.00 28.50 15.70 28.80 16.50 28.90 17.40 29.00 18.20M32.20 16.00 32.40 17.00 32.60 18.00M40.00 19.80 38.90 20.30 37.80 21.40 37.60 23.00 38.60 23.80 38.20 24.80 39.10 26.00 39.20 27.10 39.40 29.00 38.80 29.60 38.60 30.00M40.00 18.20 40.00 19.80" fill="none" stroke="#222" stroke-width="0.9" vector-effect="non-scaling-stroke" stroke-linejoin="round"/>
<path d="M32.70 26.50 32.90 27.20 32.80 28.00 32.60 28.60 32.60 29.10M33.50 30.80 33.40 31.10M33.80 32.70 33.90 33.10M36.00 37.10 36.50 37.60M37.20 38.50 37.70 39.10" fill="none" stroke="#111" stroke-width="1.8" stroke-dasharray="3 2" vector-effect="non-scaling-stroke"/>
</svg>
<polygon points="368.01,1415.49 369.73,1419.62 374.20,1419.98 370.80,1422.89 371.83,1427.25 368.01,1424.91 364.19,1427.25 365.23,1422.89 361.83,1419.98 366.29,1419.62" fill="#fff"/>
<rect x="198.9" y="1341.4" width="346.9" height="304.1" fill="none" stroke="#000" stroke-width="2.6"/>
<path d="M198.9 1645.5v9.5M198.9 1645.5h-9.5M242.3 1645.5v5.5M198.9 1607.5h-5.5M285.6 1645.5v9.5M198.9 1569.5h-9.5M329.0 1645.5v5.5M198.9 1531.5h-5.5M372.4 1645.5v9.5M198.9 1493.5h-9.5M415.7 1645.5v5.5M198.9 1455.4h-5.5M459.1 1645.5v9.5M198.9 1417.4h-9.5M502.4 1645.5v5.5M198.9 1379.4h-5.5M545.8 1645.5v9.5M198.9 1341.4h-9.5" stroke="#000" stroke-width="2.4" fill="none"/>
<text x="198.9" y="1679.0" text-anchor="middle" font-size="25.5" textLength="26.5" lengthAdjust="spacingAndGlyphs">60</text>
<text x="285.6" y="1679.0" text-anchor="middle" font-size="25.5" textLength="26.5" lengthAdjust="spacingAndGlyphs">70</text>
<text x="372.4" y="1679.0" text-anchor="middle" font-size="25.5" textLength="26.5" lengthAdjust="spacingAndGlyphs">80</text>
<text x="459.1" y="1679.0" text-anchor="middle" font-size="25.5" textLength="26.5" lengthAdjust="spacingAndGlyphs">90</text>
<text x="545.8" y="1679.0" text-anchor="middle" font-size="25.5" textLength="39.8" lengthAdjust="spacingAndGlyphs">100</text>
<text x="184.4" y="1654.3" text-anchor="end" font-size="25.5">0</text>
<text x="184.4" y="1578.3" text-anchor="end" font-size="25.5">10</text>
<text x="184.4" y="1502.2" text-anchor="end" font-size="25.5">20</text>
<text x="184.4" y="1426.2" text-anchor="end" font-size="25.5">30</text>
<text x="184.4" y="1350.2" text-anchor="end" font-size="25.5">40</text>
<text x="205.2" y="1332.0" font-size="25.0" textLength="91.3" lengthAdjust="spacingAndGlyphs">January</text>
<svg x="605.3" y="1344.2" width="349.4" height="305.2" viewBox="0 0 40 40" preserveAspectRatio="none" shape-rendering="crispEdges">
<path fill="#00ff00" d="M0 0h15v1h-15zM0 1h15v1h-15zM0 2h15v1h-15zM0 3h15v1h-15zM0 4h16v1h-16zM0 5h19v1h-19zM9 6h10v1h-10zM9 7h10v1h-10zM9 8h11v1h-11zM0 9h14v1h-14zM18 9h3v1h-3zM35 9h5v1h-5zM0 10h4v1h-4zM20 10h4v1h-4zM30 10h10v1h-10zM22 11h8v1h-8zM25 12h4v1h-4zM30 13h5v1h-5zM30 14h10v1h-10z"/><path fill="#32fc00" d="M15 0h4v1h-4zM15 1h4v1h-4zM15 2h4v1h-4zM15 3h4v1h-4zM16 4h3v1h-3zM19 5h1v1h-1zM19 6h1v1h-1zM19 7h1v1h-1zM14 9h2v1h-2zM31 9h4v1h-4zM4 10h1v1h-1zM19 10h1v1h-1zM21 11h1v1h-1zM29 15h6v1h-6zM26 16h4v1h-4zM26 17h4v1h-4z"/><path fill="#87fa00" d="M19 0h1v1h-1zM19 1h1v1h-1zM19 2h1v1h-1zM19 3h1v1h-1zM19 4h1v1h-1zM20 6h1v1h-1zM35 6h5v1h-5zM20 7h1v1h-1zM35 7h5v1h-5zM20 8h1v1h-1zM34 8h6v1h-6zM16 9h2v1h-2zM21 9h1v1h-1zM30 9h1v1h-1zM5 10h9v1h-9zM24 10h1v1h-1zM29 10h1v1h-1zM0 11h4v1h-4zM0 12h4v1h-4zM24 12h1v1h-1zM29 13h1v1h-1zM29 14h1v1h-1zM26 15h3v1h-3zM35 15h5v1h-5zM25 16h1v1h-1zM30 16h4v1h-4zM25 17h1v1h-1zM30 17h4v1h-4zM26 18h5v1h-5z"/><path fill="#ebff00" d="M20 0h1v1h-1zM20 1h1v1h-1zM20 2h1v1h-1zM20 3h1v1h-1zM21 4h3v1h-3zM22 5h8v1h-8zM35 5h1v1h-1zM15 10h1v1h-1zM25 10h4v1h-4zM5 11h1v1h-1zM9 11h1v1h-1zM14 11h1v1h-1zM20 11h1v1h-1zM5 12h1v1h-1zM9 12h2v1h-2zM14 12h1v1h-1zM20 12h1v1h-1zM10 13h1v1h-1zM13 13h2v1h-2zM20 13h1v1h-1zM25 13h4v1h-4zM21 14h4v1h-4zM24 15h1v1h-1zM35 16h2v1h-2zM35 17h1v1h-1zM35 18h1v1h-1z"/><path fill="#fff300" d="M21 0h4v1h-4zM21 1h4v1h-4zM21 2h4v1h-4zM21 3h4v1h-4zM24 4h5v1h-5zM30 5h5v1h-5zM16 10h3v1h-3zM6 11h3v1h-3zM6 12h3v1h-3zM5 13h5v1h-5zM20 14h1v1h-1zM21 15h3v1h-3zM24 16h1v1h-1zM37 16h3v1h-3zM24 17h1v1h-1zM36 17h4v1h-4zM24 18h1v1h-1zM36 18h4v1h-4z"/><path fill="#ffdc00" d="M25 0h4v1h-4zM25 1h4v1h-4zM25 2h4v1h-4zM25 3h4v1h-4zM29 4h1v1h-1zM35 4h5v1h-5zM15 11h1v1h-1zM19 11h1v1h-1zM15 12h1v1h-1zM19 12h1v1h-1zM15 13h1v1h-1zM19 13h1v1h-1zM0 14h5v1h-5zM10 14h4v1h-4zM21 16h3v1h-3zM21 17h3v1h-3zM21 18h3v1h-3zM25 19h15v1h-15z"/><path fill="#ffbe00" d="M29 0h1v1h-1zM36 0h4v1h-4zM29 1h1v1h-1zM36 1h4v1h-4zM29 2h1v1h-1zM36 2h4v1h-4zM29 3h1v1h-1zM36 3h4v1h-4zM30 4h1v1h-1zM34 4h1v1h-1zM16 11h3v1h-3zM16 12h3v1h-3zM16 13h3v1h-3zM5 14h5v1h-5zM14 14h1v1h-1zM19 14h1v1h-1zM20 15h1v1h-1zM22 19h3v1h-3zM36 20h4v1h-4z"/><path fill="#ff6e00" d="M30 0h1v1h-1zM34 0h1v1h-1zM30 1h1v1h-1zM34 1h1v1h-1zM30 2h1v1h-1zM34 2h1v1h-1zM30 3h1v1h-1zM34 3h1v1h-1zM19 15h1v1h-1zM20 19h1v1h-1zM35 20h1v1h-1zM36 23h1v1h-1zM26 32h3v1h-3zM26 33h3v1h-3zM26 34h3v1h-3zM25 35h1v1h-1zM29 35h1v1h-1zM25 36h1v1h-1zM30 36h4v1h-4zM25 37h1v1h-1zM30 37h4v1h-4zM25 38h1v1h-1zM30 38h4v1h-4zM25 39h1v1h-1zM30 39h4v1h-4z"/><path fill="#ff3c00" d="M31 0h3v1h-3zM31 1h3v1h-3zM31 2h3v1h-3zM31 3h3v1h-3zM11 15h5v1h-5zM18 15h1v1h-1zM19 16h1v1h-1zM19 17h1v1h-1zM19 18h1v1h-1zM21 20h3v1h-3zM35 21h1v1h-1zM36 24h4v1h-4zM25 31h4v1h-4zM25 32h1v1h-1zM29 32h1v1h-1zM25 33h1v1h-1zM29 33h1v1h-1zM25 34h1v1h-1zM29 34h1v1h-1zM24 35h1v1h-1zM30 35h4v1h-4zM24 36h1v1h-1zM34 36h1v1h-1zM24 37h1v1h-1zM34 37h2v1h-2zM24 38h1v1h-1zM34 38h2v1h-2zM24 39h1v1h-1zM34 39h2v1h-2z"/><path fill="#ff9600" d="M35 0h1v1h-1zM35 1h1v1h-1zM35 2h1v1h-1zM35 3h1v1h-1zM31 4h3v1h-3zM15 14h4v1h-4zM20 16h1v1h-1zM20 17h1v1h-1zM20 18h1v1h-1zM21 19h1v1h-1zM36 21h4v1h-4zM36 22h4v1h-4zM37 23h3v1h-3zM26 35h3v1h-3zM26 36h4v1h-4zM26 37h4v1h-4zM26 38h4v1h-4zM26 39h4v1h-4z"/><path fill="#c0fc00" d="M20 4h1v1h-1zM20 5h2v1h-2zM36 5h4v1h-4zM21 6h14v1h-14zM21 7h14v1h-14zM21 8h13v1h-13zM22 9h8v1h-8zM14 10h1v1h-1zM4 11h1v1h-1zM10 11h4v1h-4zM4 12h1v1h-1zM11 12h3v1h-3zM21 12h3v1h-3zM0 13h5v1h-5zM11 13h2v1h-2zM21 13h4v1h-4zM25 14h4v1h-4zM25 15h1v1h-1zM34 16h1v1h-1zM34 17h1v1h-1zM25 18h1v1h-1zM31 18h4v1h-4z"/><path fill="#00ff50" d="M0 6h9v1h-9zM0 7h9v1h-9zM0 8h9v1h-9zM30 11h2v1h-2zM29 12h2v1h-2zM35 13h1v1h-1z"/><path fill="#00ffc6" d="M32 11h2v1h-2zM39 11h1v1h-1zM31 12h4v1h-4zM36 13h2v1h-2z"/><path fill="#00f4ff" d="M34 11h3v1h-3zM38 11h1v1h-1zM35 12h2v1h-2zM38 13h1v1h-1z"/><path fill="#00c8ff" d="M37 11h1v1h-1zM37 12h3v1h-3z"/><path fill="#00a7ff" d="M39 13h1v1h-1z"/><path fill="#ff0000" d="M0 15h11v1h-11zM16 15h2v1h-2zM0 16h19v1h-19zM0 17h19v1h-19zM0 18h19v1h-19zM0 19h20v1h-20zM0 20h21v1h-21zM24 20h11v1h-11zM0 21h35v1h-35zM0 22h36v1h-36zM0 23h36v1h-36zM0 24h26v1h-26zM30 24h6v1h-6zM0 25h5v1h-5zM15 25h5v1h-5zM34 25h6v1h-6zM0 26h5v1h-5zM15 26h5v1h-5zM34 26h6v1h-6zM0 27h5v1h-5zM15 27h5v1h-5zM35 27h5v1h-5zM0 28h5v1h-5zM15 28h5v1h-5zM34 28h6v1h-6zM0 29h5v1h-5zM15 29h5v1h-5zM30 29h10v1h-10zM0 30h40v1h-40zM0 31h25v1h-25zM29 31h11v1h-11zM0 32h25v1h-25zM30 32h10v1h-10zM0 33h25v1h-25zM30 33h10v1h-10zM0 34h25v1h-25zM30 34h10v1h-10zM0 35h24v1h-24zM34 35h6v1h-6zM0 36h24v1h-24zM35 36h5v1h-5zM0 37h24v1h-24zM36 37h4v1h-4zM0 38h24v1h-24zM36 38h4v1h-4zM0 39h24v1h-24zM36 39h4v1h-4z"/><path fill="#fa0000" d="M26 24h1v1h-1zM28 24h2v1h-2zM14 25h1v1h-1zM20 25h1v1h-1zM31 25h3v1h-3zM34 27h1v1h-1zM14 29h1v1h-1zM20 29h1v1h-1zM27 29h3v1h-3z"/><path fill="#ec0000" d="M27 24h1v1h-1zM5 25h1v1h-1zM11 25h3v1h-3zM21 25h3v1h-3zM30 25h1v1h-1zM14 26h1v1h-1zM31 26h3v1h-3zM14 27h1v1h-1zM31 27h3v1h-3zM14 28h1v1h-1zM31 28h3v1h-3zM5 29h1v1h-1zM11 29h3v1h-3zM21 29h1v1h-1zM24 29h3v1h-3z"/><path fill="#da0000" d="M6 25h5v1h-5zM24 25h1v1h-1zM29 25h1v1h-1zM5 26h1v1h-1zM20 26h1v1h-1zM30 26h1v1h-1zM5 27h1v1h-1zM30 27h1v1h-1zM5 28h1v1h-1zM20 28h1v1h-1zM30 28h1v1h-1zM6 29h5v1h-5zM22 29h2v1h-2z"/><path fill="#c80000" d="M25 25h4v1h-4zM6 26h1v1h-1zM9 26h5v1h-5zM29 26h1v1h-1zM10 27h4v1h-4zM20 27h1v1h-1zM29 27h1v1h-1zM6 28h1v1h-1zM9 28h5v1h-5zM29 28h1v1h-1z"/><path fill="#b40000" d="M7 26h2v1h-2zM21 26h8v1h-8zM6 27h4v1h-4zM26 27h3v1h-3zM7 28h2v1h-2zM21 28h1v1h-1zM24 28h5v1h-5z"/><path fill="#a00000" d="M21 27h5v1h-5zM22 28h2v1h-2z"/>
</svg>
<svg x="605.3" y="1344.2" width="349.4" height="305.2" viewBox="0 0 40 40" preserveAspectRatio="none">
<path d="M0.00 14.65 1.00 14.85 1.60 14.80 2.30 14.85 3.50 14.75 4.50 14.75 5.50 14.65 6.40 14.55 6.70 15.00 7.00 15.20 7.30 15.60 7.50 16.10 8.20 16.40 8.60 16.70 9.00 17.20 9.80 17.10 10.30 17.10 9.60 17.60 9.00 17.70 9.40 18.30 10.00 18.90 10.80 19.30 11.50 19.10 12.10 18.80 12.30 18.30 12.60 17.70 12.90 18.20 12.60 18.70 12.90 19.50 12.80 20.40 12.90 21.00 13.10 21.80 13.30 22.70 13.50 23.60 13.80 24.40 14.10 25.10 14.40 25.80 14.70 26.70 14.80 27.40 15.20 28.00 15.60 28.60 15.90 29.20 16.20 30.00 16.40 30.70 16.80 31.30 17.30 31.80 17.60 31.90 18.10 31.50 18.20 31.10 18.40 30.80 19.00 30.70 19.30 30.30 19.60 29.70 19.85 29.65 19.80 29.00 19.80 28.40 20.10 27.60 20.30 26.70 20.20 26.00 20.10 25.30 20.20 24.60 20.50 24.10 21.00 23.80 21.50 23.60 22.20 23.40 22.30 23.00 22.90 22.70 23.50 22.20 24.10 21.70 24.70 21.00 25.20 20.50 25.90 20.20 26.40 20.00 26.90 19.40 27.00 18.80 27.20 18.50 27.90 18.30 28.30 18.40 28.80 18.40 29.20 18.30 29.80 18.10 30.30 18.10 30.70 17.70 31.00 17.30 31.50 17.40 31.90 18.00 32.00 18.70 32.30 19.30 32.70 19.80 33.10 20.10 33.60 20.70 33.90 21.20 34.30 21.80 34.50 22.60 34.60 23.40 34.30 24.00 34.80 24.20 35.30 24.30 35.90 24.00 36.40 23.60 36.90 23.00 37.40 23.40 37.70 24.00 37.80 25.00 38.00 25.80 38.30 26.60 38.60 27.50 38.70 28.40 38.50 29.40 38.30 30.40 38.40 31.40 38.30 32.00 38.70 32.10 39.10 32.60 39.60 33.10 40.00 33.50M40.00 26.50 39.80 27.40 39.50 28.40 39.20 29.40 39.20 30.40 39.80 30.80 40.00 31.00M19.90 30.20 20.30 30.20 20.80 30.80 21.20 31.50 21.40 32.00 21.80 32.60 21.90 33.20 21.60 33.60 21.10 33.90 20.60 34.05 20.10 33.80 19.90 33.20 19.80 32.40 19.80 31.80 19.90 31.10 19.70 30.50 19.90 30.20M35.30 34.40 36.00 34.70 36.80 34.80 37.50 34.80 38.00 35.40 38.60 36.10 39.30 36.70 40.00 37.20M35.30 34.40 35.20 34.90 35.60 35.40 36.20 36.00 36.90 36.60 37.60 37.30 38.30 38.00 38.90 38.50 39.30 39.20 39.70 40.00" fill="none" stroke="#111" stroke-width="1.1" vector-effect="non-scaling-stroke" stroke-linejoin="round"/>
<path d="M1.00 0.00 2.30 0.60 3.60 1.10 4.60 1.70 5.70 2.20 6.50 2.60M1.20 4.40 2.30 4.70 3.10 4.10 4.50 3.70 5.60 2.80 6.60 2.60 7.80 2.80 8.90 2.70 9.50 2.40 10.30 2.00 11.40 2.10 11.60 2.90 12.60 3.00 13.80 2.60 14.90 2.80M1.20 4.40 0.70 5.60 0.90 6.50 0.60 7.50 1.30 8.60 1.70 8.70 0.90 10.20 1.40 10.60 1.80 11.40 2.60 11.70 2.80 12.70 3.30 12.90 3.20 13.40 2.30 13.60 1.80 14.10 1.60 14.80M0.90 10.20 2.50 10.60 4.00 10.50 5.00 10.40 6.30 10.10 6.50 9.00 7.80 8.50 8.80 8.30 9.30 8.00 9.50 7.00 10.00 6.20 11.10 5.70 11.50 5.00 11.50 4.00 12.40 3.40 13.60 3.10 14.90 2.80M8.40 16.30 9.30 15.80 10.50 15.70 11.00 15.40 10.80 14.60 10.30 14.20 10.00 13.50 9.60 12.90 10.30 12.10 11.30 12.10 12.00 11.80 12.90 11.00 13.40 10.10 13.90 9.60 14.60 9.00 14.60 8.10 15.00 7.50 14.40 6.90 14.00 6.50 14.00 5.90 13.90 5.40 14.70 5.00 15.80 4.60 17.00 4.50M14.90 2.80 15.20 3.20 16.20 3.90 17.00 4.50 18.10 4.50 19.00 5.60 18.70 6.50 18.90 7.60 18.60 8.20 19.30 9.00 20.20 9.40 21.00 9.80M20.20 9.60 21.10 9.90 22.10 9.70 23.30 10.50 24.20 10.80 25.10 11.30 26.00 12.00 27.00 12.10 28.10 12.10M20.10 10.00 20.10 11.20 21.00 11.60 22.00 12.10 23.30 12.60 24.50 12.60 25.20 13.20 26.00 13.40 27.20 13.60 28.10 13.50 28.10 12.10M28.10 12.10 28.80 11.90 29.50 11.80 30.50 12.00 31.60 12.10 32.50 12.10 33.40 11.50 34.30 10.90 35.30 10.90 36.20 10.60 36.80 11.40 37.30 11.80M28.80 12.90 29.80 13.30 31.00 13.20 32.10 13.10 32.00 12.50 31.60 12.10M37.30 11.80 38.40 12.40 38.70 13.60 37.80 14.70 37.60 16.00 38.80 15.90 39.50 17.10 39.90 18.00 40.00 18.20M37.30 11.80 37.00 12.40 36.00 12.80 35.20 13.40 34.60 14.60 34.20 16.00 33.40 16.30 33.20 17.70 32.70 18.00 32.60 18.70M28.10 13.50 28.50 14.00 29.80 14.00 29.90 14.70 31.00 14.80 32.00 14.80 32.40 15.20 32.20 16.00 31.90 16.30 31.60 17.00 31.90 18.00M28.50 14.00 28.10 14.40 28.80 15.00 28.50 15.70 28.80 16.50 28.90 17.40 29.00 18.20M32.20 16.00 32.40 17.00 32.60 18.00M40.00 19.80 38.90 20.30 37.80 21.40 37.60 23.00 38.60 23.80 38.20 24.80 39.10 26.00 39.20 27.10 39.40 29.00 38.80 29.60 38.60 30.00M40.00 18.20 40.00 19.80" fill="none" stroke="#222" stroke-width="0.9" vector-effect="non-scaling-stroke" stroke-linejoin="round"/>
<path d="M32.70 26.50 32.90 27.20 32.80 28.00 32.60 28.60 32.60 29.10M33.50 30.80 33.40 31.10M33.80 32.70 33.90 33.10M36.00 37.10 36.50 37.60M37.20 38.50 37.70 39.10" fill="none" stroke="#111" stroke-width="1.8" stroke-dasharray="3 2" vector-effect="non-scaling-stroke"/>
</svg>
<polygon points="775.63,1418.58 777.35,1422.71 781.81,1423.07 778.41,1425.98 779.45,1430.34 775.63,1428.00 771.81,1430.34 772.85,1425.98 769.45,1423.07 773.91,1422.71" fill="#fff"/>
<rect x="605.3" y="1344.2" width="349.4" height="305.2" fill="none" stroke="#000" stroke-width="2.6"/>
<path d="M605.3 1649.4v9.5M605.3 1649.4h-9.5M649.0 1649.4v5.5M605.3 1611.2h-5.5M692.6 1649.4v9.5M605.3 1573.1h-9.5M736.3 1649.4v5.5M605.3 1535.0h-5.5M780.0 1649.4v9.5M605.3 1496.8h-9.5M823.7 1649.4v5.5M605.3 1458.7h-5.5M867.4 1649.4v9.5M605.3 1420.5h-9.5M911.0 1649.4v5.5M605.3 1382.3h-5.5M954.7 1649.4v9.5M605.3 1344.2h-9.5" stroke="#000" stroke-width="2.4" fill="none"/>
<text x="605.3" y="1682.9" text-anchor="middle" font-size="25.5" textLength="26.5" lengthAdjust="spacingAndGlyphs">60</text>
<text x="692.6" y="1682.9" text-anchor="middle" font-size="25.5" textLength="26.5" lengthAdjust="spacingAndGlyphs">70</text>
<text x="780.0" y="1682.9" text-anchor="middle" font-size="25.5" textLength="26.5" lengthAdjust="spacingAndGlyphs">80</text>
<text x="867.4" y="1682.9" text-anchor="middle" font-size="25.5" textLength="26.5" lengthAdjust="spacingAndGlyphs">90</text>
<text x="954.7" y="1682.9" text-anchor="middle" font-size="25.5" textLength="39.8" lengthAdjust="spacingAndGlyphs">100</text>
<text x="590.8" y="1658.2" text-anchor="end" font-size="25.5">0</text>
<text x="590.8" y="1581.9" text-anchor="end" font-size="25.5">10</text>
<text x="590.8" y="1505.6" text-anchor="end" font-size="25.5">20</text>
<text x="590.8" y="1429.3" text-anchor="end" font-size="25.5">30</text>
<text x="590.8" y="1353.0" text-anchor="end" font-size="25.5">40</text>
<text x="613.5" y="1335.3" font-size="25.0" textLength="103.6" lengthAdjust="spacingAndGlyphs">February</text>
<svg x="1010.1" y="1342.4" width="351.1" height="305.4" viewBox="0 0 40 40" preserveAspectRatio="none" shape-rendering="crispEdges">
<path fill="#c0fc00" d="M0 0h4v1h-4zM10 0h1v1h-1zM0 1h4v1h-4zM10 1h1v1h-1zM0 2h4v1h-4zM10 2h3v1h-3zM0 3h4v1h-4zM10 3h1v1h-1zM0 4h4v1h-4zM10 4h1v1h-1zM15 4h1v1h-1zM10 5h1v1h-1zM17 8h1v1h-1zM33 9h3v1h-3zM30 10h1v1h-1zM30 13h1v1h-1zM31 14h3v1h-3zM36 16h4v1h-4zM36 17h4v1h-4zM36 18h4v1h-4z"/><path fill="#87fa00" d="M4 0h2v1h-2zM9 0h1v1h-1zM4 1h2v1h-2zM9 1h1v1h-1zM4 2h2v1h-2zM9 2h1v1h-1zM4 3h2v1h-2zM9 3h1v1h-1zM4 4h1v1h-1zM9 4h1v1h-1zM0 5h5v1h-5zM9 5h1v1h-1zM0 6h5v1h-5zM9 6h1v1h-1zM15 6h1v1h-1zM0 7h5v1h-5zM9 7h1v1h-1zM0 8h6v1h-6zM8 8h2v1h-2zM18 9h1v1h-1zM36 9h4v1h-4zM31 10h3v1h-3zM35 15h1v1h-1z"/><path fill="#32fc00" d="M6 0h3v1h-3zM6 1h3v1h-3zM6 2h3v1h-3zM6 3h3v1h-3zM13 3h1v1h-1zM5 4h4v1h-4zM12 4h1v1h-1zM5 5h4v1h-4zM5 6h4v1h-4zM5 7h4v1h-4zM6 8h2v1h-2zM19 8h1v1h-1zM23 10h1v1h-1zM34 10h1v1h-1zM25 12h1v1h-1zM31 13h3v1h-3zM34 14h1v1h-1zM36 15h2v1h-2z"/><path fill="#ebff00" d="M11 0h3v1h-3zM11 1h3v1h-3zM13 2h1v1h-1zM11 4h1v1h-1zM11 5h3v1h-3zM10 6h3v1h-3zM10 7h2v1h-2zM16 7h1v1h-1zM10 8h1v1h-1zM31 8h3v1h-3zM0 9h9v1h-9zM30 9h3v1h-3zM30 14h1v1h-1zM35 16h1v1h-1zM35 17h1v1h-1z"/><path fill="#fff300" d="M14 0h1v1h-1zM14 1h1v1h-1zM14 2h1v1h-1zM14 3h1v1h-1zM13 6h2v1h-2zM26 6h10v1h-10zM12 7h3v1h-3zM25 7h15v1h-15zM11 8h4v1h-4zM25 8h6v1h-6zM34 8h6v1h-6zM9 9h1v1h-1zM21 9h1v1h-1zM26 9h4v1h-4zM24 10h1v1h-1zM29 10h1v1h-1zM21 11h1v1h-1zM24 12h1v1h-1zM29 13h1v1h-1zM34 15h1v1h-1zM35 18h1v1h-1zM36 19h4v1h-4zM27 36h7v1h-7zM26 37h9v1h-9zM26 38h9v1h-9zM26 39h9v1h-9z"/><path fill="#ff9600" d="M15 0h1v1h-1zM36 0h4v1h-4zM15 1h1v1h-1zM36 1h4v1h-4zM15 2h1v1h-1zM36 2h4v1h-4zM15 3h1v1h-1zM36 3h4v1h-4zM16 4h3v1h-3zM35 4h1v1h-1zM20 5h1v1h-1zM24 5h2v1h-2zM14 9h2v1h-2zM4 10h2v1h-2zM24 13h1v1h-1zM22 14h4v1h-4zM21 15h4v1h-4zM20 16h1v1h-1zM24 16h1v1h-1zM31 16h3v1h-3zM20 17h1v1h-1zM24 17h1v1h-1zM31 17h3v1h-3zM20 18h1v1h-1zM24 18h1v1h-1zM31 18h3v1h-3zM21 19h2v1h-2zM36 20h4v1h-4zM17 25h1v1h-1zM16 26h3v1h-3zM16 27h3v1h-3zM17 28h2v1h-2zM35 30h5v1h-5zM35 31h1v1h-1zM34 32h2v1h-2zM34 33h2v1h-2zM30 34h5v1h-5zM25 35h1v1h-1zM36 35h4v1h-4zM36 36h4v1h-4zM36 37h4v1h-4zM36 38h4v1h-4zM36 39h4v1h-4z"/><path fill="#ff6e00" d="M16 0h3v1h-3zM35 0h1v1h-1zM16 1h3v1h-3zM35 1h1v1h-1zM16 2h3v1h-3zM35 2h1v1h-1zM16 3h3v1h-3zM35 3h1v1h-1zM19 4h1v1h-1zM34 4h1v1h-1zM21 5h3v1h-3zM16 9h2v1h-2zM6 10h3v1h-3zM0 11h4v1h-4zM0 12h4v1h-4zM21 12h3v1h-3zM0 13h3v1h-3zM21 13h3v1h-3zM21 14h1v1h-1zM20 15h1v1h-1zM25 15h1v1h-1zM28 15h2v1h-2zM30 16h1v1h-1zM30 17h1v1h-1zM30 18h1v1h-1zM20 19h1v1h-1zM23 19h1v1h-1zM34 19h1v1h-1zM17 21h2v1h-2zM16 22h3v1h-3zM16 23h3v1h-3zM16 24h3v1h-3zM16 25h1v1h-1zM18 25h1v1h-1zM16 28h1v1h-1zM36 29h4v1h-4zM34 30h1v1h-1zM21 31h3v1h-3zM31 31h4v1h-4zM21 32h3v1h-3zM31 32h3v1h-3zM21 33h3v1h-3zM31 33h3v1h-3zM29 34h1v1h-1z"/><path fill="#ff0000" d="M19 0h16v1h-16zM19 1h16v1h-16zM19 2h16v1h-16zM19 3h16v1h-16zM20 4h10v1h-10zM10 10h9v1h-9zM5 11h16v1h-16zM5 12h16v1h-16zM5 13h16v1h-16zM0 14h20v1h-20zM0 15h5v1h-5zM9 15h11v1h-11zM10 16h9v1h-9zM26 16h3v1h-3zM10 17h9v1h-9zM26 17h3v1h-3zM11 18h8v1h-8zM26 18h3v1h-3zM11 19h6v1h-6zM25 19h6v1h-6zM14 20h2v1h-2zM21 20h14v1h-14zM14 21h2v1h-2zM20 21h16v1h-16zM14 22h2v1h-2zM20 22h16v1h-16zM14 23h2v1h-2zM20 23h16v1h-16zM14 24h2v1h-2zM20 24h16v1h-16zM14 25h2v1h-2zM20 25h16v1h-16zM14 26h2v1h-2zM20 26h16v1h-16zM14 27h2v1h-2zM20 27h16v1h-16zM13 28h3v1h-3zM20 28h16v1h-16zM11 29h5v1h-5zM19 29h16v1h-16zM0 30h31v1h-31zM0 31h20v1h-20zM25 31h5v1h-5zM0 32h20v1h-20zM25 32h5v1h-5zM0 33h21v1h-21zM25 33h5v1h-5zM0 34h21v1h-21zM0 35h25v1h-25zM0 36h25v1h-25zM0 37h25v1h-25zM0 38h25v1h-25zM0 39h25v1h-25z"/><path fill="#00ff00" d="M11 3h2v1h-2zM13 4h2v1h-2zM14 5h3v1h-3zM16 6h2v1h-2zM17 7h2v1h-2zM18 8h1v1h-1zM19 9h2v1h-2zM20 10h3v1h-3zM35 10h5v1h-5zM22 11h10v1h-10zM26 12h4v1h-4zM34 13h1v1h-1zM35 14h5v1h-5zM38 15h2v1h-2z"/><path fill="#ff3c00" d="M30 4h4v1h-4zM9 10h1v1h-1zM4 11h1v1h-1zM4 12h1v1h-1zM3 13h2v1h-2zM20 14h1v1h-1zM26 15h2v1h-2zM19 16h1v1h-1zM25 16h1v1h-1zM29 16h1v1h-1zM19 17h1v1h-1zM25 17h1v1h-1zM29 17h1v1h-1zM19 18h1v1h-1zM25 18h1v1h-1zM29 18h1v1h-1zM17 19h3v1h-3zM24 19h1v1h-1zM31 19h3v1h-3zM16 20h5v1h-5zM35 20h1v1h-1zM16 21h1v1h-1zM19 21h1v1h-1zM36 21h4v1h-4zM19 22h1v1h-1zM36 22h4v1h-4zM19 23h1v1h-1zM36 23h4v1h-4zM19 24h1v1h-1zM36 24h4v1h-4zM19 25h1v1h-1zM36 25h4v1h-4zM19 26h1v1h-1zM36 26h4v1h-4zM19 27h1v1h-1zM36 27h4v1h-4zM19 28h1v1h-1zM36 28h4v1h-4zM16 29h3v1h-3zM35 29h1v1h-1zM31 30h3v1h-3zM20 31h1v1h-1zM24 31h1v1h-1zM30 31h1v1h-1zM20 32h1v1h-1zM24 32h1v1h-1zM30 32h1v1h-1zM24 33h1v1h-1zM30 33h1v1h-1zM21 34h8v1h-8z"/><path fill="#ffbe00" d="M36 4h4v1h-4zM17 5h3v1h-3zM26 5h8v1h-8zM11 9h3v1h-3zM22 9h2v1h-2zM0 10h4v1h-4zM25 13h1v1h-1zM26 14h3v1h-3zM30 15h1v1h-1zM21 16h3v1h-3zM21 17h3v1h-3zM34 17h1v1h-1zM21 18h3v1h-3zM34 18h1v1h-1zM36 31h4v1h-4zM36 32h4v1h-4zM36 33h4v1h-4zM35 34h5v1h-5zM26 35h4v1h-4zM35 35h1v1h-1zM25 36h1v1h-1zM35 36h1v1h-1zM25 37h1v1h-1zM35 37h1v1h-1zM25 38h1v1h-1zM35 38h1v1h-1zM25 39h1v1h-1zM35 39h1v1h-1z"/><path fill="#ffdc00" d="M34 5h6v1h-6zM18 6h8v1h-8zM36 6h4v1h-4zM15 7h1v1h-1zM19 7h6v1h-6zM15 8h2v1h-2zM20 8h5v1h-5zM10 9h1v1h-1zM24 9h2v1h-2zM19 10h1v1h-1zM25 10h4v1h-4zM26 13h3v1h-3zM29 14h1v1h-1zM31 15h3v1h-3zM34 16h1v1h-1zM35 19h1v1h-1zM30 35h5v1h-5zM26 36h1v1h-1zM34 36h1v1h-1z"/><path fill="#00ff50" d="M32 11h1v1h-1zM30 12h5v1h-5zM35 13h1v1h-1z"/><path fill="#00ffc6" d="M33 11h2v1h-2zM35 12h1v1h-1zM36 13h1v1h-1z"/><path fill="#00f4ff" d="M35 11h2v1h-2zM38 11h2v1h-2zM36 12h1v1h-1zM37 13h2v1h-2z"/><path fill="#00c8ff" d="M37 11h1v1h-1zM37 12h3v1h-3z"/><path fill="#00a7ff" d="M39 13h1v1h-1z"/><path fill="#fa0000" d="M5 15h4v1h-4zM10 18h1v1h-1zM10 19h1v1h-1zM11 20h3v1h-3zM13 21h1v1h-1zM13 24h1v1h-1zM11 25h3v1h-3zM11 26h3v1h-3zM11 27h3v1h-3zM11 28h2v1h-2zM10 29h1v1h-1z"/><path fill="#da0000" d="M0 16h6v1h-6zM8 16h1v1h-1zM0 17h5v1h-5zM9 17h1v1h-1zM0 18h5v1h-5zM9 18h1v1h-1zM9 19h1v1h-1zM10 20h1v1h-1zM10 21h1v1h-1zM10 22h1v1h-1zM10 23h1v1h-1zM10 24h1v1h-1zM10 25h1v1h-1zM8 29h2v1h-2z"/><path fill="#c80000" d="M6 16h2v1h-2zM5 17h4v1h-4zM5 18h4v1h-4zM0 19h5v1h-5zM9 28h1v1h-1zM0 29h8v1h-8z"/><path fill="#ec0000" d="M9 16h1v1h-1zM11 21h2v1h-2zM11 22h3v1h-3zM11 23h3v1h-3zM11 24h2v1h-2zM10 26h1v1h-1zM10 27h1v1h-1zM10 28h1v1h-1z"/><path fill="#b40000" d="M5 19h4v1h-4zM9 20h1v1h-1zM9 21h1v1h-1zM9 24h1v1h-1zM9 25h1v1h-1zM9 26h1v1h-1zM9 27h1v1h-1zM8 28h1v1h-1z"/><path fill="#a00000" d="M0 20h9v1h-9zM0 21h4v1h-4zM0 22h3v1h-3zM9 22h1v1h-1zM0 23h4v1h-4zM9 23h1v1h-1zM0 24h5v1h-5zM0 25h9v1h-9zM0 26h9v1h-9zM0 27h9v1h-9zM0 28h8v1h-8z"/><path fill="#8c0002" d="M4 21h5v1h-5zM3 22h6v1h-6zM4 23h5v1h-5zM5 24h4v1h-4z"/>
</svg>
<svg x="1010.1" y="1342.4" width="351.1" height="305.4" viewBox="0 0 40 40" preserveAspectRatio="none">
<path d="M0.00 14.65 1.00 14.85 1.60 14.80 2.30 14.85 3.50 14.75 4.50 14.75 5.50 14.65 6.40 14.55 6.70 15.00 7.00 15.20 7.30 15.60 7.50 16.10 8.20 16.40 8.60 16.70 9.00 17.20 9.80 17.10 10.30 17.10 9.60 17.60 9.00 17.70 9.40 18.30 10.00 18.90 10.80 19.30 11.50 19.10 12.10 18.80 12.30 18.30 12.60 17.70 12.90 18.20 12.60 18.70 12.90 19.50 12.80 20.40 12.90 21.00 13.10 21.80 13.30 22.70 13.50 23.60 13.80 24.40 14.10 25.10 14.40 25.80 14.70 26.70 14.80 27.40 15.20 28.00 15.60 28.60 15.90 29.20 16.20 30.00 16.40 30.70 16.80 31.30 17.30 31.80 17.60 31.90 18.10 31.50 18.20 31.10 18.40 30.80 19.00 30.70 19.30 30.30 19.60 29.70 19.85 29.65 19.80 29.00 19.80 28.40 20.10 27.60 20.30 26.70 20.20 26.00 20.10 25.30 20.20 24.60 20.50 24.10 21.00 23.80 21.50 23.60 22.20 23.40 22.30 23.00 22.90 22.70 23.50 22.20 24.10 21.70 24.70 21.00 25.20 20.50 25.90 20.20 26.40 20.00 26.90 19.40 27.00 18.80 27.20 18.50 27.90 18.30 28.30 18.40 28.80 18.40 29.20 18.30 29.80 18.10 30.30 18.10 30.70 17.70 31.00 17.30 31.50 17.40 31.90 18.00 32.00 18.70 32.30 19.30 32.70 19.80 33.10 20.10 33.60 20.70 33.90 21.20 34.30 21.80 34.50 22.60 34.60 23.40 34.30 24.00 34.80 24.20 35.30 24.30 35.90 24.00 36.40 23.60 36.90 23.00 37.40 23.40 37.70 24.00 37.80 25.00 38.00 25.80 38.30 26.60 38.60 27.50 38.70 28.40 38.50 29.40 38.30 30.40 38.40 31.40 38.30 32.00 38.70 32.10 39.10 32.60 39.60 33.10 40.00 33.50M40.00 26.50 39.80 27.40 39.50 28.40 39.20 29.40 39.20 30.40 39.80 30.80 40.00 31.00M19.90 30.20 20.30 30.20 20.80 30.80 21.20 31.50 21.40 32.00 21.80 32.60 21.90 33.20 21.60 33.60 21.10 33.90 20.60 34.05 20.10 33.80 19.90 33.20 19.80 32.40 19.80 31.80 19.90 31.10 19.70 30.50 19.90 30.20M35.30 34.40 36.00 34.70 36.80 34.80 37.50 34.80 38.00 35.40 38.60 36.10 39.30 36.70 40.00 37.20M35.30 34.40 35.20 34.90 35.60 35.40 36.20 36.00 36.90 36.60 37.60 37.30 38.30 38.00 38.90 38.50 39.30 39.20 39.70 40.00" fill="none" stroke="#111" stroke-width="1.1" vector-effect="non-scaling-stroke" stroke-linejoin="round"/>
<path d="M1.00 0.00 2.30 0.60 3.60 1.10 4.60 1.70 5.70 2.20 6.50 2.60M1.20 4.40 2.30 4.70 3.10 4.10 4.50 3.70 5.60 2.80 6.60 2.60 7.80 2.80 8.90 2.70 9.50 2.40 10.30 2.00 11.40 2.10 11.60 2.90 12.60 3.00 13.80 2.60 14.90 2.80M1.20 4.40 0.70 5.60 0.90 6.50 0.60 7.50 1.30 8.60 1.70 8.70 0.90 10.20 1.40 10.60 1.80 11.40 2.60 11.70 2.80 12.70 3.30 12.90 3.20 13.40 2.30 13.60 1.80 14.10 1.60 14.80M0.90 10.20 2.50 10.60 4.00 10.50 5.00 10.40 6.30 10.10 6.50 9.00 7.80 8.50 8.80 8.30 9.30 8.00 9.50 7.00 10.00 6.20 11.10 5.70 11.50 5.00 11.50 4.00 12.40 3.40 13.60 3.10 14.90 2.80M8.40 16.30 9.30 15.80 10.50 15.70 11.00 15.40 10.80 14.60 10.30 14.20 10.00 13.50 9.60 12.90 10.30 12.10 11.30 12.10 12.00 11.80 12.90 11.00 13.40 10.10 13.90 9.60 14.60 9.00 14.60 8.10 15.00 7.50 14.40 6.90 14.00 6.50 14.00 5.90 13.90 5.40 14.70 5.00 15.80 4.60 17.00 4.50M14.90 2.80 15.20 3.20 16.20 3.90 17.00 4.50 18.10 4.50 19.00 5.60 18.70 6.50 18.90 7.60 18.60 8.20 19.30 9.00 20.20 9.40 21.00 9.80M20.20 9.60 21.10 9.90 22.10 9.70 23.30 10.50 24.20 10.80 25.10 11.30 26.00 12.00 27.00 12.10 28.10 12.10M20.10 10.00 20.10 11.20 21.00 11.60 22.00 12.10 23.30 12.60 24.50 12.60 25.20 13.20 26.00 13.40 27.20 13.60 28.10 13.50 28.10 12.10M28.10 12.10 28.80 11.90 29.50 11.80 30.50 12.00 31.60 12.10 32.50 12.10 33.40 11.50 34.30 10.90 35.30 10.90 36.20 10.60 36.80 11.40 37.30 11.80M28.80 12.90 29.80 13.30 31.00 13.20 32.10 13.10 32.00 12.50 31.60 12.10M37.30 11.80 38.40 12.40 38.70 13.60 37.80 14.70 37.60 16.00 38.80 15.90 39.50 17.10 39.90 18.00 40.00 18.20M37.30 11.80 37.00 12.40 36.00 12.80 35.20 13.40 34.60 14.60 34.20 16.00 33.40 16.30 33.20 17.70 32.70 18.00 32.60 18.70M28.10 13.50 28.50 14.00 29.80 14.00 29.90 14.70 31.00 14.80 32.00 14.80 32.40 15.20 32.20 16.00 31.90 16.30 31.60 17.00 31.90 18.00M28.50 14.00 28.10 14.40 28.80 15.00 28.50 15.70 28.80 16.50 28.90 17.40 29.00 18.20M32.20 16.00 32.40 17.00 32.60 18.00M40.00 19.80 38.90 20.30 37.80 21.40 37.60 23.00 38.60 23.80 38.20 24.80 39.10 26.00 39.20 27.10 39.40 29.00 38.80 29.60 38.60 30.00M40.00 18.20 40.00 19.80" fill="none" stroke="#222" stroke-width="0.9" vector-effect="non-scaling-stroke" stroke-linejoin="round"/>
<path d="M32.70 26.50 32.90 27.20 32.80 28.00 32.60 28.60 32.60 29.10M33.50 30.80 33.40 31.10M33.80 32.70 33.90 33.10M36.00 37.10 36.50 37.60M37.20 38.50 37.70 39.10" fill="none" stroke="#111" stroke-width="1.8" stroke-dasharray="3 2" vector-effect="non-scaling-stroke"/>
</svg>
<polygon points="1181.26,1416.83 1182.98,1420.96 1187.44,1421.32 1184.04,1424.23 1185.08,1428.59 1181.26,1426.26 1177.44,1428.59 1178.48,1424.23 1175.08,1421.32 1179.54,1420.96" fill="#fff"/>
<rect x="1010.1" y="1342.4" width="351.1" height="305.4" fill="none" stroke="#000" stroke-width="2.6"/>
<path d="M1010.1 1647.8v9.5M1010.1 1647.8h-9.5M1054.0 1647.8v5.5M1010.1 1609.6h-5.5M1097.9 1647.8v9.5M1010.1 1571.5h-9.5M1141.8 1647.8v5.5M1010.1 1533.3h-5.5M1185.7 1647.8v9.5M1010.1 1495.1h-9.5M1229.5 1647.8v5.5M1010.1 1456.9h-5.5M1273.4 1647.8v9.5M1010.1 1418.8h-9.5M1317.3 1647.8v5.5M1010.1 1380.6h-5.5M1361.2 1647.8v9.5M1010.1 1342.4h-9.5" stroke="#000" stroke-width="2.4" fill="none"/>
<text x="1010.1" y="1681.3" text-anchor="middle" font-size="25.5" textLength="26.5" lengthAdjust="spacingAndGlyphs">60</text>
<text x="1097.9" y="1681.3" text-anchor="middle" font-size="25.5" textLength="26.5" lengthAdjust="spacingAndGlyphs">70</text>
<text x="1185.7" y="1681.3" text-anchor="middle" font-size="25.5" textLength="26.5" lengthAdjust="spacingAndGlyphs">80</text>
<text x="1273.4" y="1681.3" text-anchor="middle" font-size="25.5" textLength="26.5" lengthAdjust="spacingAndGlyphs">90</text>
<text x="1361.2" y="1681.3" text-anchor="middle" font-size="25.5" textLength="39.8" lengthAdjust="spacingAndGlyphs">100</text>
<text x="995.6" y="1656.6" text-anchor="end" font-size="25.5">0</text>
<text x="995.6" y="1580.2" text-anchor="end" font-size="25.5">10</text>
<text x="995.6" y="1503.9" text-anchor="end" font-size="25.5">20</text>
<text x="995.6" y="1427.5" text-anchor="end" font-size="25.5">30</text>
<text x="995.6" y="1351.2" text-anchor="end" font-size="25.5">40</text>
<text x="1010.1" y="1331.8" font-size="25.0" textLength="73.4" lengthAdjust="spacingAndGlyphs">March</text>
<svg x="1417.8" y="1341.6" width="339.7" height="306.6" viewBox="0 0 40 40" preserveAspectRatio="none" shape-rendering="crispEdges">
<path fill="#ffdc00" d="M0 0h4v1h-4zM11 0h3v1h-3zM0 1h4v1h-4zM11 1h3v1h-3zM0 2h4v1h-4zM13 2h1v1h-1zM0 3h4v1h-4zM3 4h1v1h-1zM4 6h1v1h-1zM21 6h5v1h-5zM34 6h6v1h-6zM4 7h1v1h-1zM21 7h4v1h-4zM35 7h5v1h-5zM4 8h1v1h-1zM21 8h4v1h-4zM37 8h3v1h-3zM11 9h4v1h-4zM23 9h2v1h-2zM9 10h1v1h-1zM25 14h1v1h-1zM21 15h4v1h-4zM20 16h1v1h-1zM24 16h1v1h-1zM29 16h1v1h-1zM20 17h1v1h-1zM24 17h1v1h-1zM29 17h1v1h-1zM20 18h1v1h-1zM24 18h1v1h-1zM30 19h1v1h-1zM35 20h1v1h-1zM36 21h4v1h-4zM36 22h4v1h-4zM36 23h4v1h-4zM25 30h2v1h-2zM28 30h3v1h-3zM24 31h1v1h-1zM30 31h4v1h-4zM24 32h1v1h-1zM30 32h4v1h-4zM24 33h1v1h-1zM30 33h4v1h-4zM24 34h1v1h-1zM31 34h3v1h-3zM21 35h4v1h-4zM34 35h1v1h-1zM20 36h4v1h-4zM34 36h1v1h-1zM20 37h4v1h-4zM34 37h2v1h-2zM20 38h4v1h-4zM34 38h2v1h-2zM20 39h4v1h-4zM34 39h2v1h-2z"/><path fill="#fff300" d="M4 0h1v1h-1zM10 0h1v1h-1zM4 1h1v1h-1zM10 1h1v1h-1zM4 2h1v1h-1zM10 2h3v1h-3zM4 3h1v1h-1zM10 3h1v1h-1zM4 4h1v1h-1zM11 4h1v1h-1zM4 5h1v1h-1zM12 5h1v1h-1zM14 6h1v1h-1zM26 6h8v1h-8zM14 7h1v1h-1zM16 7h1v1h-1zM25 7h10v1h-10zM14 8h1v1h-1zM25 8h12v1h-12zM10 9h1v1h-1zM21 9h1v1h-1zM25 9h4v1h-4zM6 10h3v1h-3zM25 10h1v1h-1zM25 13h1v1h-1zM26 14h3v1h-3zM29 15h1v1h-1zM21 16h3v1h-3zM21 17h3v1h-3zM21 18h3v1h-3zM31 19h4v1h-4zM36 20h4v1h-4zM27 30h1v1h-1zM25 31h5v1h-5zM25 32h5v1h-5zM25 33h2v1h-2zM28 33h2v1h-2zM25 34h1v1h-1zM29 34h2v1h-2zM25 35h1v1h-1zM30 35h4v1h-4zM24 36h2v1h-2zM30 36h4v1h-4zM24 37h2v1h-2zM30 37h4v1h-4zM24 38h2v1h-2zM30 38h4v1h-4zM24 39h2v1h-2zM30 39h4v1h-4z"/><path fill="#87fa00" d="M5 0h1v1h-1zM9 0h1v1h-1zM5 1h1v1h-1zM9 1h1v1h-1zM5 2h1v1h-1zM9 2h1v1h-1zM5 3h1v1h-1zM9 3h1v1h-1zM5 4h1v1h-1zM9 4h1v1h-1zM5 5h1v1h-1zM5 6h1v1h-1zM5 7h1v1h-1zM5 8h1v1h-1zM6 9h3v1h-3zM18 9h1v1h-1zM29 13h1v1h-1zM31 16h9v1h-9zM31 17h9v1h-9zM32 18h8v1h-8z"/><path fill="#32fc00" d="M6 0h3v1h-3zM6 1h3v1h-3zM6 2h3v1h-3zM6 3h3v1h-3zM13 3h1v1h-1zM6 4h3v1h-3zM12 4h1v1h-1zM6 5h1v1h-1zM9 5h1v1h-1zM9 6h1v1h-1zM9 7h1v1h-1zM6 8h1v1h-1zM9 8h1v1h-1zM19 8h1v1h-1zM23 10h1v1h-1zM30 10h1v1h-1zM30 14h1v1h-1zM31 15h4v1h-4z"/><path fill="#ffbe00" d="M14 0h1v1h-1zM14 1h1v1h-1zM14 2h1v1h-1zM14 3h1v1h-1zM0 4h3v1h-3zM0 5h4v1h-4zM28 5h12v1h-12zM20 6h1v1h-1zM15 7h1v1h-1zM19 7h2v1h-2zM15 8h1v1h-1zM20 8h1v1h-1zM4 9h1v1h-1zM22 9h1v1h-1zM5 10h1v1h-1zM10 10h1v1h-1zM6 11h3v1h-3zM6 12h3v1h-3zM7 13h2v1h-2zM24 13h1v1h-1zM21 14h4v1h-4zM20 15h1v1h-1zM25 15h4v1h-4zM19 16h1v1h-1zM25 16h1v1h-1zM19 17h1v1h-1zM25 17h1v1h-1zM19 18h1v1h-1zM25 18h1v1h-1zM29 18h1v1h-1zM20 19h4v1h-4zM26 29h4v1h-4zM31 30h3v1h-3zM21 31h3v1h-3zM34 31h1v1h-1zM20 32h4v1h-4zM34 32h1v1h-1zM20 33h4v1h-4zM34 33h1v1h-1zM19 34h5v1h-5zM34 34h1v1h-1zM16 35h5v1h-5zM35 35h1v1h-1zM11 36h9v1h-9zM35 36h5v1h-5zM11 37h9v1h-9zM36 37h4v1h-4zM11 38h9v1h-9zM36 38h4v1h-4zM11 39h9v1h-9zM36 39h4v1h-4z"/><path fill="#ff3c00" d="M15 0h1v1h-1zM35 0h1v1h-1zM15 1h1v1h-1zM35 1h1v1h-1zM15 2h1v1h-1zM35 2h1v1h-1zM15 3h1v1h-1zM35 3h1v1h-1zM16 4h3v1h-3zM34 4h1v1h-1zM4 10h1v1h-1zM11 11h4v1h-4zM11 12h4v1h-4zM11 13h4v1h-4zM6 14h1v1h-1zM9 14h2v1h-2zM14 14h1v1h-1zM15 19h1v1h-1zM26 19h3v1h-3zM16 20h1v1h-1zM19 20h5v1h-5zM31 20h3v1h-3zM16 21h4v1h-4zM16 22h3v1h-3zM16 23h3v1h-3zM26 25h14v1h-14zM34 26h1v1h-1zM34 27h1v1h-1zM34 28h1v1h-1zM23 29h2v1h-2zM16 30h4v1h-4zM35 30h2v1h-2zM15 31h1v1h-1zM36 31h4v1h-4zM36 32h4v1h-4zM36 33h4v1h-4zM14 34h1v1h-1zM10 35h1v1h-1zM6 36h3v1h-3zM6 37h3v1h-3zM6 38h3v1h-3zM6 39h3v1h-3z"/><path fill="#ff0000" d="M16 0h19v1h-19zM16 1h19v1h-19zM16 2h19v1h-19zM16 3h19v1h-19zM19 4h15v1h-15zM0 10h4v1h-4zM0 11h5v1h-5zM0 12h5v1h-5zM0 13h5v1h-5zM0 14h6v1h-6zM11 14h3v1h-3zM0 15h15v1h-15zM0 16h15v1h-15zM0 17h15v1h-15zM0 18h15v1h-15zM0 19h15v1h-15zM9 20h7v1h-7zM24 20h7v1h-7zM10 21h6v1h-6zM20 21h15v1h-15zM10 22h6v1h-6zM19 22h16v1h-16zM10 23h6v1h-6zM19 23h16v1h-16zM10 24h25v1h-25zM11 25h15v1h-15zM11 26h14v1h-14zM35 26h5v1h-5zM11 27h14v1h-14zM35 27h5v1h-5zM11 28h14v1h-14zM35 28h5v1h-5zM10 29h13v1h-13zM35 29h5v1h-5zM4 30h12v1h-12zM37 30h3v1h-3zM0 31h15v1h-15zM0 32h15v1h-15zM0 33h15v1h-15zM0 34h14v1h-14zM0 35h10v1h-10zM0 36h6v1h-6zM0 37h6v1h-6zM0 38h6v1h-6zM0 39h6v1h-6z"/><path fill="#ff6e00" d="M36 0h4v1h-4zM36 1h4v1h-4zM36 2h4v1h-4zM36 3h4v1h-4zM35 4h1v1h-1zM17 5h6v1h-6zM0 9h4v1h-4zM15 10h4v1h-4zM10 11h1v1h-1zM15 11h5v1h-5zM5 12h1v1h-1zM10 12h1v1h-1zM15 12h5v1h-5zM5 13h1v1h-1zM10 13h1v1h-1zM15 13h5v1h-5zM7 14h2v1h-2zM15 14h4v1h-4zM15 15h1v1h-1zM15 16h1v1h-1zM15 17h1v1h-1zM15 18h1v1h-1zM16 19h2v1h-2zM25 19h1v1h-1zM29 19h1v1h-1zM17 20h2v1h-2zM34 20h1v1h-1zM35 24h1v1h-1zM25 26h1v1h-1zM29 26h5v1h-5zM25 27h1v1h-1zM30 27h4v1h-4zM25 28h1v1h-1zM30 28h4v1h-4zM34 29h1v1h-1zM20 30h1v1h-1zM35 31h1v1h-1zM15 32h1v1h-1zM35 32h1v1h-1zM15 33h1v1h-1zM35 33h1v1h-1zM15 34h1v1h-1zM36 34h4v1h-4zM11 35h3v1h-3zM9 36h1v1h-1zM9 37h1v1h-1zM9 38h1v1h-1zM9 39h1v1h-1z"/><path fill="#00ff00" d="M11 3h2v1h-2zM13 4h2v1h-2zM7 5h2v1h-2zM14 5h3v1h-3zM6 6h3v1h-3zM16 6h2v1h-2zM6 7h3v1h-3zM17 7h2v1h-2zM7 8h2v1h-2zM18 8h1v1h-1zM19 9h2v1h-2zM20 10h3v1h-3zM31 10h9v1h-9zM22 11h9v1h-9zM25 12h5v1h-5zM30 13h5v1h-5zM31 14h5v1h-5zM35 15h5v1h-5z"/><path fill="#ebff00" d="M10 4h1v1h-1zM15 4h1v1h-1zM11 5h1v1h-1zM13 5h1v1h-1zM11 6h3v1h-3zM11 7h3v1h-3zM11 8h3v1h-3zM5 9h1v1h-1zM29 9h2v1h-2zM19 10h1v1h-1zM24 10h1v1h-1zM26 10h3v1h-3zM21 11h1v1h-1zM24 12h1v1h-1zM26 13h3v1h-3zM30 16h1v1h-1zM30 17h1v1h-1zM30 18h1v1h-1zM35 19h1v1h-1zM27 33h1v1h-1zM26 34h3v1h-3zM26 35h4v1h-4zM26 36h4v1h-4zM26 37h4v1h-4zM26 38h4v1h-4zM26 39h4v1h-4z"/><path fill="#ff9600" d="M36 4h4v1h-4zM23 5h5v1h-5zM0 6h4v1h-4zM18 6h2v1h-2zM0 7h4v1h-4zM0 8h4v1h-4zM16 8h1v1h-1zM15 9h3v1h-3zM11 10h4v1h-4zM5 11h1v1h-1zM9 11h1v1h-1zM20 11h1v1h-1zM9 12h1v1h-1zM20 12h4v1h-4zM6 13h1v1h-1zM9 13h1v1h-1zM20 13h4v1h-4zM19 14h2v1h-2zM16 15h4v1h-4zM16 16h3v1h-3zM26 16h3v1h-3zM16 17h3v1h-3zM26 17h3v1h-3zM16 18h3v1h-3zM26 18h3v1h-3zM18 19h2v1h-2zM24 19h1v1h-1zM35 21h1v1h-1zM35 22h1v1h-1zM35 23h1v1h-1zM36 24h4v1h-4zM26 26h3v1h-3zM26 27h4v1h-4zM26 28h4v1h-4zM25 29h1v1h-1zM30 29h4v1h-4zM21 30h4v1h-4zM34 30h1v1h-1zM16 31h5v1h-5zM16 32h4v1h-4zM16 33h4v1h-4zM16 34h3v1h-3zM35 34h1v1h-1zM14 35h2v1h-2zM36 35h4v1h-4zM10 36h1v1h-1zM10 37h1v1h-1zM10 38h1v1h-1zM10 39h1v1h-1z"/><path fill="#c0fc00" d="M10 5h1v1h-1zM10 6h1v1h-1zM15 6h1v1h-1zM10 7h1v1h-1zM10 8h1v1h-1zM17 8h1v1h-1zM9 9h1v1h-1zM31 9h9v1h-9zM29 10h1v1h-1zM29 14h1v1h-1zM30 15h1v1h-1zM31 18h1v1h-1zM36 19h4v1h-4z"/><path fill="#00ff50" d="M31 11h2v1h-2zM30 12h3v1h-3zM36 14h4v1h-4z"/><path fill="#00ffc6" d="M33 11h2v1h-2zM33 12h3v1h-3zM35 13h1v1h-1z"/><path fill="#00f4ff" d="M35 11h2v1h-2zM38 11h2v1h-2zM36 12h1v1h-1zM36 13h3v1h-3z"/><path fill="#00c8ff" d="M37 11h1v1h-1zM37 12h3v1h-3z"/><path fill="#00a7ff" d="M39 13h1v1h-1z"/><path fill="#da0000" d="M0 20h4v1h-4zM4 21h1v1h-1zM4 22h2v1h-2zM4 23h2v1h-2zM5 24h3v1h-3zM6 25h3v1h-3zM9 26h1v1h-1zM9 27h1v1h-1zM9 28h1v1h-1zM0 29h6v1h-6z"/><path fill="#ec0000" d="M4 20h1v1h-1zM5 21h4v1h-4zM6 22h3v1h-3zM6 23h3v1h-3zM8 24h2v1h-2zM9 25h1v1h-1zM6 29h3v1h-3z"/><path fill="#fa0000" d="M5 20h4v1h-4zM9 21h1v1h-1zM9 22h1v1h-1zM9 23h1v1h-1zM10 25h1v1h-1zM10 26h1v1h-1zM10 27h1v1h-1zM10 28h1v1h-1zM9 29h1v1h-1zM0 30h4v1h-4z"/><path fill="#c80000" d="M0 21h4v1h-4zM0 22h4v1h-4zM0 23h4v1h-4zM0 24h5v1h-5zM4 25h2v1h-2zM5 26h4v1h-4zM5 27h4v1h-4zM4 28h5v1h-5z"/><path fill="#b40000" d="M0 25h4v1h-4zM0 26h5v1h-5zM0 27h5v1h-5zM0 28h4v1h-4z"/>
</svg>
<svg x="1417.8" y="1341.6" width="339.7" height="306.6" viewBox="0 0 40 40" preserveAspectRatio="none">
<path d="M0.00 14.65 1.00 14.85 1.60 14.80 2.30 14.85 3.50 14.75 4.50 14.75 5.50 14.65 6.40 14.55 6.70 15.00 7.00 15.20 7.30 15.60 7.50 16.10 8.20 16.40 8.60 16.70 9.00 17.20 9.80 17.10 10.30 17.10 9.60 17.60 9.00 17.70 9.40 18.30 10.00 18.90 10.80 19.30 11.50 19.10 12.10 18.80 12.30 18.30 12.60 17.70 12.90 18.20 12.60 18.70 12.90 19.50 12.80 20.40 12.90 21.00 13.10 21.80 13.30 22.70 13.50 23.60 13.80 24.40 14.10 25.10 14.40 25.80 14.70 26.70 14.80 27.40 15.20 28.00 15.60 28.60 15.90 29.20 16.20 30.00 16.40 30.70 16.80 31.30 17.30 31.80 17.60 31.90 18.10 31.50 18.20 31.10 18.40 30.80 19.00 30.70 19.30 30.30 19.60 29.70 19.85 29.65 19.80 29.00 19.80 28.40 20.10 27.60 20.30 26.70 20.20 26.00 20.10 25.30 20.20 24.60 20.50 24.10 21.00 23.80 21.50 23.60 22.20 23.40 22.30 23.00 22.90 22.70 23.50 22.20 24.10 21.70 24.70 21.00 25.20 20.50 25.90 20.20 26.40 20.00 26.90 19.40 27.00 18.80 27.20 18.50 27.90 18.30 28.30 18.40 28.80 18.40 29.20 18.30 29.80 18.10 30.30 18.10 30.70 17.70 31.00 17.30 31.50 17.40 31.90 18.00 32.00 18.70 32.30 19.30 32.70 19.80 33.10 20.10 33.60 20.70 33.90 21.20 34.30 21.80 34.50 22.60 34.60 23.40 34.30 24.00 34.80 24.20 35.30 24.30 35.90 24.00 36.40 23.60 36.90 23.00 37.40 23.40 37.70 24.00 37.80 25.00 38.00 25.80 38.30 26.60 38.60 27.50 38.70 28.40 38.50 29.40 38.30 30.40 38.40 31.40 38.30 32.00 38.70 32.10 39.10 32.60 39.60 33.10 40.00 33.50M40.00 26.50 39.80 27.40 39.50 28.40 39.20 29.40 39.20 30.40 39.80 30.80 40.00 31.00M19.90 30.20 20.30 30.20 20.80 30.80 21.20 31.50 21.40 32.00 21.80 32.60 21.90 33.20 21.60 33.60 21.10 33.90 20.60 34.05 20.10 33.80 19.90 33.20 19.80 32.40 19.80 31.80 19.90 31.10 19.70 30.50 19.90 30.20M35.30 34.40 36.00 34.70 36.80 34.80 37.50 34.80 38.00 35.40 38.60 36.10 39.30 36.70 40.00 37.20M35.30 34.40 35.20 34.90 35.60 35.40 36.20 36.00 36.90 36.60 37.60 37.30 38.30 38.00 38.90 38.50 39.30 39.20 39.70 40.00" fill="none" stroke="#111" stroke-width="1.1" vector-effect="non-scaling-stroke" stroke-linejoin="round"/>
<path d="M1.00 0.00 2.30 0.60 3.60 1.10 4.60 1.70 5.70 2.20 6.50 2.60M1.20 4.40 2.30 4.70 3.10 4.10 4.50 3.70 5.60 2.80 6.60 2.60 7.80 2.80 8.90 2.70 9.50 2.40 10.30 2.00 11.40 2.10 11.60 2.90 12.60 3.00 13.80 2.60 14.90 2.80M1.20 4.40 0.70 5.60 0.90 6.50 0.60 7.50 1.30 8.60 1.70 8.70 0.90 10.20 1.40 10.60 1.80 11.40 2.60 11.70 2.80 12.70 3.30 12.90 3.20 13.40 2.30 13.60 1.80 14.10 1.60 14.80M0.90 10.20 2.50 10.60 4.00 10.50 5.00 10.40 6.30 10.10 6.50 9.00 7.80 8.50 8.80 8.30 9.30 8.00 9.50 7.00 10.00 6.20 11.10 5.70 11.50 5.00 11.50 4.00 12.40 3.40 13.60 3.10 14.90 2.80M8.40 16.30 9.30 15.80 10.50 15.70 11.00 15.40 10.80 14.60 10.30 14.20 10.00 13.50 9.60 12.90 10.30 12.10 11.30 12.10 12.00 11.80 12.90 11.00 13.40 10.10 13.90 9.60 14.60 9.00 14.60 8.10 15.00 7.50 14.40 6.90 14.00 6.50 14.00 5.90 13.90 5.40 14.70 5.00 15.80 4.60 17.00 4.50M14.90 2.80 15.20 3.20 16.20 3.90 17.00 4.50 18.10 4.50 19.00 5.60 18.70 6.50 18.90 7.60 18.60 8.20 19.30 9.00 20.20 9.40 21.00 9.80M20.20 9.60 21.10 9.90 22.10 9.70 23.30 10.50 24.20 10.80 25.10 11.30 26.00 12.00 27.00 12.10 28.10 12.10M20.10 10.00 20.10 11.20 21.00 11.60 22.00 12.10 23.30 12.60 24.50 12.60 25.20 13.20 26.00 13.40 27.20 13.60 28.10 13.50 28.10 12.10M28.10 12.10 28.80 11.90 29.50 11.80 30.50 12.00 31.60 12.10 32.50 12.10 33.40 11.50 34.30 10.90 35.30 10.90 36.20 10.60 36.80 11.40 37.30 11.80M28.80 12.90 29.80 13.30 31.00 13.20 32.10 13.10 32.00 12.50 31.60 12.10M37.30 11.80 38.40 12.40 38.70 13.60 37.80 14.70 37.60 16.00 38.80 15.90 39.50 17.10 39.90 18.00 40.00 18.20M37.30 11.80 37.00 12.40 36.00 12.80 35.20 13.40 34.60 14.60 34.20 16.00 33.40 16.30 33.20 17.70 32.70 18.00 32.60 18.70M28.10 13.50 28.50 14.00 29.80 14.00 29.90 14.70 31.00 14.80 32.00 14.80 32.40 15.20 32.20 16.00 31.90 16.30 31.60 17.00 31.90 18.00M28.50 14.00 28.10 14.40 28.80 15.00 28.50 15.70 28.80 16.50 28.90 17.40 29.00 18.20M32.20 16.00 32.40 17.00 32.60 18.00M40.00 19.80 38.90 20.30 37.80 21.40 37.60 23.00 38.60 23.80 38.20 24.80 39.10 26.00 39.20 27.10 39.40 29.00 38.80 29.60 38.60 30.00M40.00 18.20 40.00 19.80" fill="none" stroke="#222" stroke-width="0.9" vector-effect="non-scaling-stroke" stroke-linejoin="round"/>
<path d="M32.70 26.50 32.90 27.20 32.80 28.00 32.60 28.60 32.60 29.10M33.50 30.80 33.40 31.10M33.80 32.70 33.90 33.10M36.00 37.10 36.50 37.60M37.20 38.50 37.70 39.10" fill="none" stroke="#111" stroke-width="1.8" stroke-dasharray="3 2" vector-effect="non-scaling-stroke"/>
</svg>
<polygon points="1583.40,1416.35 1585.12,1420.48 1589.59,1420.84 1586.19,1423.75 1587.22,1428.11 1583.40,1425.77 1579.58,1428.11 1580.62,1423.75 1577.22,1420.84 1581.68,1420.48" fill="#fff"/>
<rect x="1417.8" y="1341.6" width="339.7" height="306.6" fill="none" stroke="#000" stroke-width="2.6"/>
<path d="M1417.8 1648.2v9.5M1417.8 1648.2h-9.5M1460.3 1648.2v5.5M1417.8 1609.9h-5.5M1502.7 1648.2v9.5M1417.8 1571.5h-9.5M1545.2 1648.2v5.5M1417.8 1533.2h-5.5M1587.7 1648.2v9.5M1417.8 1494.9h-9.5M1630.1 1648.2v5.5M1417.8 1456.6h-5.5M1672.6 1648.2v9.5M1417.8 1418.2h-9.5M1715.0 1648.2v5.5M1417.8 1379.9h-5.5M1757.5 1648.2v9.5M1417.8 1341.6h-9.5" stroke="#000" stroke-width="2.4" fill="none"/>
<text x="1417.8" y="1681.7" text-anchor="middle" font-size="25.5" textLength="26.5" lengthAdjust="spacingAndGlyphs">60</text>
<text x="1502.7" y="1681.7" text-anchor="middle" font-size="25.5" textLength="26.5" lengthAdjust="spacingAndGlyphs">70</text>
<text x="1587.7" y="1681.7" text-anchor="middle" font-size="25.5" textLength="26.5" lengthAdjust="spacingAndGlyphs">80</text>
<text x="1672.6" y="1681.7" text-anchor="middle" font-size="25.5" textLength="26.5" lengthAdjust="spacingAndGlyphs">90</text>
<text x="1757.5" y="1681.7" text-anchor="middle" font-size="25.5" textLength="39.8" lengthAdjust="spacingAndGlyphs">100</text>
<text x="1403.3" y="1657.0" text-anchor="end" font-size="25.5">0</text>
<text x="1403.3" y="1580.3" text-anchor="end" font-size="25.5">10</text>
<text x="1403.3" y="1503.7" text-anchor="end" font-size="25.5">20</text>
<text x="1403.3" y="1427.0" text-anchor="end" font-size="25.5">30</text>
<text x="1403.3" y="1350.4" text-anchor="end" font-size="25.5">40</text>
<text x="1418.2" y="1331.8" font-size="25.0" textLength="56.5" lengthAdjust="spacingAndGlyphs">April</text>
<svg x="205.4" y="1720.1" width="337.0" height="302.9" viewBox="0 0 40 40" preserveAspectRatio="none" shape-rendering="crispEdges">
<path fill="#ffbe00" d="M0 0h4v1h-4zM19 0h1v1h-1zM0 1h4v1h-4zM19 1h1v1h-1zM0 2h4v1h-4zM19 2h1v1h-1zM0 3h4v1h-4zM19 3h1v1h-1zM34 3h1v1h-1zM19 4h1v1h-1zM25 4h1v1h-1zM4 5h1v1h-1zM4 6h1v1h-1zM4 7h1v1h-1zM16 19h1v1h-1zM25 19h1v1h-1zM29 19h1v1h-1zM19 20h1v1h-1zM24 21h1v1h-1zM30 21h1v1h-1zM24 22h1v1h-1zM30 22h1v1h-1zM24 23h1v1h-1zM30 23h1v1h-1zM21 24h3v1h-3zM29 25h1v1h-1zM29 29h1v1h-1zM0 30h5v1h-5zM5 31h3v1h-3zM30 31h1v1h-1zM35 31h1v1h-1zM5 32h4v1h-4zM30 32h1v1h-1zM34 32h2v1h-2zM5 33h4v1h-4zM34 33h1v1h-1zM5 34h4v1h-4zM31 34h3v1h-3zM0 35h5v1h-5zM0 36h5v1h-5zM9 36h1v1h-1zM0 37h5v1h-5zM9 37h1v1h-1zM0 38h5v1h-5zM9 38h1v1h-1zM0 39h5v1h-5zM9 39h1v1h-1z"/><path fill="#ffdc00" d="M4 0h1v1h-1zM16 0h3v1h-3zM4 1h1v1h-1zM16 1h3v1h-3zM4 2h1v1h-1zM16 2h3v1h-3zM4 3h1v1h-1zM16 3h3v1h-3zM4 4h1v1h-1zM16 4h3v1h-3zM26 4h9v1h-9zM17 5h3v1h-3zM18 6h1v1h-1zM16 8h1v1h-1zM15 11h1v1h-1zM15 12h1v1h-1zM15 13h1v1h-1zM15 14h1v1h-1zM26 16h3v1h-3zM26 17h3v1h-3zM16 18h1v1h-1zM26 18h4v1h-4zM17 19h2v1h-2zM24 20h1v1h-1zM30 20h1v1h-1zM20 21h1v1h-1zM20 22h1v1h-1zM20 23h1v1h-1zM23 23h1v1h-1zM30 24h1v1h-1zM29 26h1v1h-1zM29 27h1v1h-1zM29 28h1v1h-1zM30 30h1v1h-1zM35 30h5v1h-5zM0 31h5v1h-5zM31 31h4v1h-4zM0 32h5v1h-5zM31 32h3v1h-3zM0 33h5v1h-5zM31 33h3v1h-3zM0 34h5v1h-5zM5 35h4v1h-4zM5 36h4v1h-4zM5 37h4v1h-4zM5 38h4v1h-4zM5 39h4v1h-4z"/><path fill="#c0fc00" d="M5 0h1v1h-1zM9 0h2v1h-2zM5 1h1v1h-1zM9 1h2v1h-2zM5 2h1v1h-1zM9 2h4v1h-4zM5 3h1v1h-1zM10 3h1v1h-1zM5 4h1v1h-1zM10 4h2v1h-2zM36 4h4v1h-4zM5 5h1v1h-1zM29 5h4v1h-4zM21 6h5v1h-5zM21 7h4v1h-4zM14 8h1v1h-1zM21 8h4v1h-4zM22 9h3v1h-3zM16 10h3v1h-3zM16 11h1v1h-1zM19 11h1v1h-1zM16 12h1v1h-1zM19 12h1v1h-1zM16 13h1v1h-1zM19 13h1v1h-1zM16 14h4v1h-4zM25 14h1v1h-1zM21 15h3v1h-3zM30 15h5v1h-5zM21 16h3v1h-3zM21 17h3v1h-3zM21 18h3v1h-3zM35 19h5v1h-5zM35 20h1v1h-1zM34 24h1v1h-1zM31 25h4v1h-4zM31 29h4v1h-4z"/><path fill="#87fa00" d="M6 0h3v1h-3zM6 1h3v1h-3zM6 2h3v1h-3zM6 3h4v1h-4zM6 4h4v1h-4zM15 4h1v1h-1zM6 5h1v1h-1zM10 5h4v1h-4zM33 5h7v1h-7zM14 6h1v1h-1zM26 6h4v1h-4zM14 7h1v1h-1zM25 7h4v1h-4zM6 8h1v1h-1zM10 8h4v1h-4zM17 8h1v1h-1zM25 8h4v1h-4zM21 9h1v1h-1zM25 9h4v1h-4zM24 10h2v1h-2zM17 11h2v1h-2zM21 11h1v1h-1zM17 12h2v1h-2zM24 12h1v1h-1zM17 13h2v1h-2zM25 13h1v1h-1zM26 14h4v1h-4zM35 15h5v1h-5zM36 20h4v1h-4zM35 21h1v1h-1zM35 22h1v1h-1zM35 23h1v1h-1zM35 24h1v1h-1zM35 25h5v1h-5zM31 26h9v1h-9zM31 27h9v1h-9zM31 28h9v1h-9z"/><path fill="#ebff00" d="M11 0h3v1h-3zM36 0h4v1h-4zM11 1h3v1h-3zM36 1h4v1h-4zM13 2h1v1h-1zM36 2h4v1h-4zM14 3h1v1h-1zM36 3h4v1h-4zM35 4h1v1h-1zM25 5h4v1h-4zM5 6h1v1h-1zM20 6h1v1h-1zM5 7h1v1h-1zM16 7h1v1h-1zM20 7h1v1h-1zM5 8h1v1h-1zM20 8h1v1h-1zM6 9h4v1h-4zM20 11h1v1h-1zM20 12h4v1h-4zM20 13h5v1h-5zM20 14h5v1h-5zM17 15h4v1h-4zM24 15h2v1h-2zM29 15h1v1h-1zM19 16h2v1h-2zM24 16h1v1h-1zM30 16h10v1h-10zM19 17h2v1h-2zM24 17h1v1h-1zM31 17h9v1h-9zM20 18h1v1h-1zM24 18h1v1h-1zM31 18h9v1h-9zM20 19h4v1h-4zM31 19h4v1h-4zM22 20h1v1h-1zM34 20h1v1h-1zM34 21h1v1h-1zM34 22h1v1h-1zM34 23h1v1h-1zM31 24h3v1h-3zM30 26h1v1h-1zM30 27h1v1h-1zM30 28h1v1h-1zM35 29h5v1h-5z"/><path fill="#fff300" d="M14 0h2v1h-2zM35 0h1v1h-1zM14 1h2v1h-2zM35 1h1v1h-1zM14 2h2v1h-2zM35 2h1v1h-1zM15 3h1v1h-1zM35 3h1v1h-1zM20 5h5v1h-5zM19 6h1v1h-1zM15 7h1v1h-1zM19 7h1v1h-1zM15 8h1v1h-1zM5 9h1v1h-1zM10 9h8v1h-8zM15 10h1v1h-1zM16 15h1v1h-1zM26 15h3v1h-3zM16 16h3v1h-3zM25 16h1v1h-1zM29 16h1v1h-1zM16 17h3v1h-3zM25 17h1v1h-1zM29 17h2v1h-2zM17 18h3v1h-3zM25 18h1v1h-1zM30 18h1v1h-1zM19 19h1v1h-1zM24 19h1v1h-1zM30 19h1v1h-1zM20 20h2v1h-2zM23 20h1v1h-1zM31 20h3v1h-3zM21 21h3v1h-3zM31 21h3v1h-3zM21 22h3v1h-3zM31 22h3v1h-3zM21 23h2v1h-2zM31 23h3v1h-3zM30 25h1v1h-1zM30 29h1v1h-1zM31 30h4v1h-4z"/><path fill="#ff3c00" d="M20 0h1v1h-1zM24 0h1v1h-1zM20 1h1v1h-1zM24 1h1v1h-1zM20 2h1v1h-1zM24 2h1v1h-1zM24 3h1v1h-1zM0 6h4v1h-4zM0 7h4v1h-4zM0 8h4v1h-4zM5 11h1v1h-1zM5 12h1v1h-1zM26 20h3v1h-3zM25 21h1v1h-1zM29 21h1v1h-1zM25 22h1v1h-1zM29 22h1v1h-1zM16 23h1v1h-1zM25 23h1v1h-1zM29 23h1v1h-1zM19 24h1v1h-1zM25 24h1v1h-1zM24 25h2v1h-2zM0 26h4v1h-4zM4 27h1v1h-1zM4 28h1v1h-1zM25 28h1v1h-1zM5 29h1v1h-1zM25 29h1v1h-1zM9 30h1v1h-1zM26 30h3v1h-3zM29 32h1v1h-1zM29 33h1v1h-1zM29 34h1v1h-1zM10 35h1v1h-1zM29 35h1v1h-1zM35 35h5v1h-5zM11 36h4v1h-4zM30 36h5v1h-5zM11 37h4v1h-4zM30 37h5v1h-5zM11 38h4v1h-4zM30 38h5v1h-5zM11 39h4v1h-4zM30 39h5v1h-5z"/><path fill="#ff0000" d="M21 0h3v1h-3zM21 1h3v1h-3zM21 2h3v1h-3zM21 3h3v1h-3zM10 10h4v1h-4zM6 11h9v1h-9zM6 12h9v1h-9zM5 13h10v1h-10zM0 14h15v1h-15zM10 15h5v1h-5zM11 16h4v1h-4zM11 17h4v1h-4zM11 18h4v1h-4zM11 19h4v1h-4zM11 20h5v1h-5zM11 21h5v1h-5zM26 21h3v1h-3zM11 22h5v1h-5zM26 22h3v1h-3zM11 23h5v1h-5zM26 23h3v1h-3zM10 24h9v1h-9zM26 24h3v1h-3zM0 25h24v1h-24zM4 26h21v1h-21zM5 27h20v1h-20zM5 28h20v1h-20zM6 29h19v1h-19zM10 30h16v1h-16zM10 31h19v1h-19zM10 32h19v1h-19zM10 33h19v1h-19zM10 34h19v1h-19zM11 35h18v1h-18zM15 36h15v1h-15zM35 36h5v1h-5zM15 37h15v1h-15zM35 37h5v1h-5zM15 38h15v1h-15zM35 38h5v1h-5zM15 39h15v1h-15zM35 39h5v1h-5z"/><path fill="#ff6e00" d="M25 0h1v1h-1zM30 0h4v1h-4zM25 1h1v1h-1zM30 1h4v1h-4zM25 2h1v1h-1zM30 2h4v1h-4zM20 3h1v1h-1zM25 3h1v1h-1zM31 3h2v1h-2zM21 4h3v1h-3zM0 5h4v1h-4zM0 9h4v1h-4zM0 10h4v1h-4zM9 10h1v1h-1zM14 10h1v1h-1zM4 11h1v1h-1zM4 12h1v1h-1zM0 13h5v1h-5zM15 19h1v1h-1zM25 20h1v1h-1zM29 20h1v1h-1zM16 21h3v1h-3zM16 22h3v1h-3zM17 23h2v1h-2zM29 24h1v1h-1zM26 25h3v1h-3zM25 26h1v1h-1zM0 27h4v1h-4zM25 27h1v1h-1zM0 28h4v1h-4zM4 29h1v1h-1zM26 29h3v1h-3zM6 30h3v1h-3zM29 30h1v1h-1zM9 31h1v1h-1zM29 31h1v1h-1zM9 32h1v1h-1zM9 33h1v1h-1zM36 34h4v1h-4zM30 35h5v1h-5zM10 36h1v1h-1zM10 37h1v1h-1zM10 38h1v1h-1zM10 39h1v1h-1z"/><path fill="#ff9600" d="M26 0h4v1h-4zM34 0h1v1h-1zM26 1h4v1h-4zM34 1h1v1h-1zM26 2h4v1h-4zM34 2h1v1h-1zM26 3h5v1h-5zM33 3h1v1h-1zM0 4h4v1h-4zM20 4h1v1h-1zM24 4h1v1h-1zM4 8h1v1h-1zM4 9h1v1h-1zM4 10h5v1h-5zM0 11h4v1h-4zM0 12h4v1h-4zM15 15h1v1h-1zM15 16h1v1h-1zM15 17h1v1h-1zM15 18h1v1h-1zM26 19h3v1h-3zM16 20h3v1h-3zM19 21h1v1h-1zM19 22h1v1h-1zM19 23h1v1h-1zM20 24h1v1h-1zM24 24h1v1h-1zM26 26h3v1h-3zM26 27h3v1h-3zM26 28h3v1h-3zM0 29h4v1h-4zM5 30h1v1h-1zM8 31h1v1h-1zM36 31h4v1h-4zM36 32h4v1h-4zM30 33h1v1h-1zM35 33h5v1h-5zM9 34h1v1h-1zM30 34h1v1h-1zM34 34h2v1h-2zM9 35h1v1h-1z"/><path fill="#00ff00" d="M11 3h3v1h-3zM12 4h3v1h-3zM14 5h3v1h-3zM16 6h2v1h-2zM31 6h3v1h-3zM17 7h2v1h-2zM31 7h4v1h-4zM18 8h2v1h-2zM31 8h4v1h-4zM19 9h2v1h-2zM30 9h10v1h-10zM20 10h4v1h-4zM30 10h10v1h-10zM22 11h15v1h-15zM38 11h2v1h-2zM25 12h12v1h-12zM30 13h9v1h-9zM35 14h5v1h-5z"/><path fill="#32fc00" d="M7 5h3v1h-3zM6 6h8v1h-8zM15 6h1v1h-1zM30 6h1v1h-1zM34 6h6v1h-6zM6 7h8v1h-8zM29 7h2v1h-2zM35 7h5v1h-5zM7 8h3v1h-3zM29 8h2v1h-2zM35 8h5v1h-5zM18 9h1v1h-1zM29 9h1v1h-1zM19 10h1v1h-1zM26 10h4v1h-4zM26 13h4v1h-4zM30 14h5v1h-5zM36 21h4v1h-4zM36 22h4v1h-4zM36 23h4v1h-4zM36 24h4v1h-4z"/><path fill="#00ff50" d="M37 11h1v1h-1zM37 12h3v1h-3zM39 13h1v1h-1z"/><path fill="#da0000" d="M0 15h9v1h-9zM9 23h1v1h-1z"/><path fill="#ec0000" d="M9 15h1v1h-1zM0 24h9v1h-9z"/><path fill="#8c0002" d="M0 16h6v1h-6zM5 17h4v1h-4zM5 18h4v1h-4zM0 19h6v1h-6zM0 20h4v1h-4z"/><path fill="#a00000" d="M6 16h3v1h-3zM6 19h3v1h-3zM4 20h4v1h-4zM0 21h5v1h-5zM0 22h5v1h-5z"/><path fill="#c80000" d="M9 16h1v1h-1zM9 19h1v1h-1zM9 20h1v1h-1zM9 21h1v1h-1zM9 22h1v1h-1zM8 23h1v1h-1z"/><path fill="#fa0000" d="M10 16h1v1h-1zM10 17h1v1h-1zM10 18h1v1h-1zM10 19h1v1h-1zM10 20h1v1h-1zM10 21h1v1h-1zM10 22h1v1h-1zM10 23h1v1h-1zM9 24h1v1h-1z"/><path fill="#780006" d="M0 17h5v1h-5zM0 18h5v1h-5z"/><path fill="#b40000" d="M9 17h1v1h-1zM9 18h1v1h-1zM8 20h1v1h-1zM5 21h4v1h-4zM5 22h4v1h-4zM0 23h8v1h-8z"/>
</svg>
<svg x="205.4" y="1720.1" width="337.0" height="302.9" viewBox="0 0 40 40" preserveAspectRatio="none">
<path d="M0.00 14.65 1.00 14.85 1.60 14.80 2.30 14.85 3.50 14.75 4.50 14.75 5.50 14.65 6.40 14.55 6.70 15.00 7.00 15.20 7.30 15.60 7.50 16.10 8.20 16.40 8.60 16.70 9.00 17.20 9.80 17.10 10.30 17.10 9.60 17.60 9.00 17.70 9.40 18.30 10.00 18.90 10.80 19.30 11.50 19.10 12.10 18.80 12.30 18.30 12.60 17.70 12.90 18.20 12.60 18.70 12.90 19.50 12.80 20.40 12.90 21.00 13.10 21.80 13.30 22.70 13.50 23.60 13.80 24.40 14.10 25.10 14.40 25.80 14.70 26.70 14.80 27.40 15.20 28.00 15.60 28.60 15.90 29.20 16.20 30.00 16.40 30.70 16.80 31.30 17.30 31.80 17.60 31.90 18.10 31.50 18.20 31.10 18.40 30.80 19.00 30.70 19.30 30.30 19.60 29.70 19.85 29.65 19.80 29.00 19.80 28.40 20.10 27.60 20.30 26.70 20.20 26.00 20.10 25.30 20.20 24.60 20.50 24.10 21.00 23.80 21.50 23.60 22.20 23.40 22.30 23.00 22.90 22.70 23.50 22.20 24.10 21.70 24.70 21.00 25.20 20.50 25.90 20.20 26.40 20.00 26.90 19.40 27.00 18.80 27.20 18.50 27.90 18.30 28.30 18.40 28.80 18.40 29.20 18.30 29.80 18.10 30.30 18.10 30.70 17.70 31.00 17.30 31.50 17.40 31.90 18.00 32.00 18.70 32.30 19.30 32.70 19.80 33.10 20.10 33.60 20.70 33.90 21.20 34.30 21.80 34.50 22.60 34.60 23.40 34.30 24.00 34.80 24.20 35.30 24.30 35.90 24.00 36.40 23.60 36.90 23.00 37.40 23.40 37.70 24.00 37.80 25.00 38.00 25.80 38.30 26.60 38.60 27.50 38.70 28.40 38.50 29.40 38.30 30.40 38.40 31.40 38.30 32.00 38.70 32.10 39.10 32.60 39.60 33.10 40.00 33.50M40.00 26.50 39.80 27.40 39.50 28.40 39.20 29.40 39.20 30.40 39.80 30.80 40.00 31.00M19.90 30.20 20.30 30.20 20.80 30.80 21.20 31.50 21.40 32.00 21.80 32.60 21.90 33.20 21.60 33.60 21.10 33.90 20.60 34.05 20.10 33.80 19.90 33.20 19.80 32.40 19.80 31.80 19.90 31.10 19.70 30.50 19.90 30.20M35.30 34.40 36.00 34.70 36.80 34.80 37.50 34.80 38.00 35.40 38.60 36.10 39.30 36.70 40.00 37.20M35.30 34.40 35.20 34.90 35.60 35.40 36.20 36.00 36.90 36.60 37.60 37.30 38.30 38.00 38.90 38.50 39.30 39.20 39.70 40.00" fill="none" stroke="#111" stroke-width="1.1" vector-effect="non-scaling-stroke" stroke-linejoin="round"/>
<path d="M1.00 0.00 2.30 0.60 3.60 1.10 4.60 1.70 5.70 2.20 6.50 2.60M1.20 4.40 2.30 4.70 3.10 4.10 4.50 3.70 5.60 2.80 6.60 2.60 7.80 2.80 8.90 2.70 9.50 2.40 10.30 2.00 11.40 2.10 11.60 2.90 12.60 3.00 13.80 2.60 14.90 2.80M1.20 4.40 0.70 5.60 0.90 6.50 0.60 7.50 1.30 8.60 1.70 8.70 0.90 10.20 1.40 10.60 1.80 11.40 2.60 11.70 2.80 12.70 3.30 12.90 3.20 13.40 2.30 13.60 1.80 14.10 1.60 14.80M0.90 10.20 2.50 10.60 4.00 10.50 5.00 10.40 6.30 10.10 6.50 9.00 7.80 8.50 8.80 8.30 9.30 8.00 9.50 7.00 10.00 6.20 11.10 5.70 11.50 5.00 11.50 4.00 12.40 3.40 13.60 3.10 14.90 2.80M8.40 16.30 9.30 15.80 10.50 15.70 11.00 15.40 10.80 14.60 10.30 14.20 10.00 13.50 9.60 12.90 10.30 12.10 11.30 12.10 12.00 11.80 12.90 11.00 13.40 10.10 13.90 9.60 14.60 9.00 14.60 8.10 15.00 7.50 14.40 6.90 14.00 6.50 14.00 5.90 13.90 5.40 14.70 5.00 15.80 4.60 17.00 4.50M14.90 2.80 15.20 3.20 16.20 3.90 17.00 4.50 18.10 4.50 19.00 5.60 18.70 6.50 18.90 7.60 18.60 8.20 19.30 9.00 20.20 9.40 21.00 9.80M20.20 9.60 21.10 9.90 22.10 9.70 23.30 10.50 24.20 10.80 25.10 11.30 26.00 12.00 27.00 12.10 28.10 12.10M20.10 10.00 20.10 11.20 21.00 11.60 22.00 12.10 23.30 12.60 24.50 12.60 25.20 13.20 26.00 13.40 27.20 13.60 28.10 13.50 28.10 12.10M28.10 12.10 28.80 11.90 29.50 11.80 30.50 12.00 31.60 12.10 32.50 12.10 33.40 11.50 34.30 10.90 35.30 10.90 36.20 10.60 36.80 11.40 37.30 11.80M28.80 12.90 29.80 13.30 31.00 13.20 32.10 13.10 32.00 12.50 31.60 12.10M37.30 11.80 38.40 12.40 38.70 13.60 37.80 14.70 37.60 16.00 38.80 15.90 39.50 17.10 39.90 18.00 40.00 18.20M37.30 11.80 37.00 12.40 36.00 12.80 35.20 13.40 34.60 14.60 34.20 16.00 33.40 16.30 33.20 17.70 32.70 18.00 32.60 18.70M28.10 13.50 28.50 14.00 29.80 14.00 29.90 14.70 31.00 14.80 32.00 14.80 32.40 15.20 32.20 16.00 31.90 16.30 31.60 17.00 31.90 18.00M28.50 14.00 28.10 14.40 28.80 15.00 28.50 15.70 28.80 16.50 28.90 17.40 29.00 18.20M32.20 16.00 32.40 17.00 32.60 18.00M40.00 19.80 38.90 20.30 37.80 21.40 37.60 23.00 38.60 23.80 38.20 24.80 39.10 26.00 39.20 27.10 39.40 29.00 38.80 29.60 38.60 30.00M40.00 18.20 40.00 19.80" fill="none" stroke="#222" stroke-width="0.9" vector-effect="non-scaling-stroke" stroke-linejoin="round"/>
<path d="M32.70 26.50 32.90 27.20 32.80 28.00 32.60 28.60 32.60 29.10M33.50 30.80 33.40 31.10M33.80 32.70 33.90 33.10M36.00 37.10 36.50 37.60M37.20 38.50 37.70 39.10" fill="none" stroke="#111" stroke-width="1.8" stroke-dasharray="3 2" vector-effect="non-scaling-stroke"/>
</svg>
<polygon points="369.69,1793.87 371.41,1798.00 375.87,1798.36 372.47,1801.27 373.51,1805.63 369.69,1803.29 365.87,1805.63 366.91,1801.27 363.51,1798.36 367.97,1798.00" fill="#fff"/>
<rect x="205.4" y="1720.1" width="337.0" height="302.9" fill="none" stroke="#000" stroke-width="2.6"/>
<path d="M205.4 2023.0v9.5M205.4 2023.0h-9.5M247.5 2023.0v5.5M205.4 1985.1h-5.5M289.6 2023.0v9.5M205.4 1947.3h-9.5M331.8 2023.0v5.5M205.4 1909.4h-5.5M373.9 2023.0v9.5M205.4 1871.5h-9.5M416.0 2023.0v5.5M205.4 1833.7h-5.5M458.1 2023.0v9.5M205.4 1795.8h-9.5M500.3 2023.0v5.5M205.4 1758.0h-5.5M542.4 2023.0v9.5M205.4 1720.1h-9.5" stroke="#000" stroke-width="2.4" fill="none"/>
<text x="205.4" y="2056.5" text-anchor="middle" font-size="25.5" textLength="26.5" lengthAdjust="spacingAndGlyphs">60</text>
<text x="289.6" y="2056.5" text-anchor="middle" font-size="25.5" textLength="26.5" lengthAdjust="spacingAndGlyphs">70</text>
<text x="373.9" y="2056.5" text-anchor="middle" font-size="25.5" textLength="26.5" lengthAdjust="spacingAndGlyphs">80</text>
<text x="458.1" y="2056.5" text-anchor="middle" font-size="25.5" textLength="26.5" lengthAdjust="spacingAndGlyphs">90</text>
<text x="542.4" y="2056.5" text-anchor="middle" font-size="25.5" textLength="39.8" lengthAdjust="spacingAndGlyphs">100</text>
<text x="190.9" y="2031.8" text-anchor="end" font-size="25.5">0</text>
<text x="190.9" y="1956.1" text-anchor="end" font-size="25.5">10</text>
<text x="190.9" y="1880.3" text-anchor="end" font-size="25.5">20</text>
<text x="190.9" y="1804.6" text-anchor="end" font-size="25.5">30</text>
<text x="190.9" y="1728.9" text-anchor="end" font-size="25.5">40</text>
<text x="213.2" y="1708.5" font-size="25.0" textLength="47.9" lengthAdjust="spacingAndGlyphs">May</text>
<svg x="608.4" y="1722.4" width="340.4" height="305.8" viewBox="0 0 40 40" preserveAspectRatio="none" shape-rendering="crispEdges">
<path fill="#ffdc00" d="M0 0h4v1h-4zM0 1h4v1h-4zM0 2h4v1h-4zM0 3h4v1h-4zM4 5h1v1h-1zM4 6h1v1h-1zM4 7h1v1h-1zM4 8h1v1h-1zM11 9h3v1h-3zM15 19h1v1h-1zM24 20h1v1h-1zM10 21h1v1h-1zM13 21h1v1h-1zM10 22h1v1h-1zM10 23h1v1h-1zM11 24h3v1h-3zM12 25h1v1h-1zM25 25h1v1h-1zM29 29h1v1h-1z"/><path fill="#fff300" d="M4 0h1v1h-1zM15 0h4v1h-4zM4 1h1v1h-1zM15 1h4v1h-4zM4 2h1v1h-1zM15 2h4v1h-4zM4 3h1v1h-1zM15 3h4v1h-4zM4 4h1v1h-1zM11 5h2v1h-2zM11 6h3v1h-3zM11 7h3v1h-3zM11 8h4v1h-4zM5 9h1v1h-1zM10 9h1v1h-1zM14 9h1v1h-1zM15 10h1v1h-1zM15 11h1v1h-1zM15 12h1v1h-1zM15 13h1v1h-1zM15 14h1v1h-1zM15 15h1v1h-1zM15 16h1v1h-1zM15 17h1v1h-1zM15 18h1v1h-1zM16 19h8v1h-8zM11 21h2v1h-2zM11 22h3v1h-3zM11 23h3v1h-3zM26 26h1v1h-1zM26 27h2v1h-2zM26 28h3v1h-3zM36 29h4v1h-4z"/><path fill="#c0fc00" d="M5 0h1v1h-1zM9 0h2v1h-2zM21 0h4v1h-4zM5 1h1v1h-1zM9 1h2v1h-2zM21 1h4v1h-4zM5 2h1v1h-1zM9 2h4v1h-4zM21 2h4v1h-4zM5 3h1v1h-1zM10 3h1v1h-1zM21 3h4v1h-4zM5 4h1v1h-1zM10 4h1v1h-1zM20 4h4v1h-4zM10 5h1v1h-1zM19 5h2v1h-2zM10 6h1v1h-1zM18 6h2v1h-2zM10 7h1v1h-1zM19 7h1v1h-1zM16 8h1v1h-1zM6 9h3v1h-3zM16 9h2v1h-2zM22 9h2v1h-2zM17 14h2v1h-2zM24 14h1v1h-1zM16 15h10v1h-10zM36 15h4v1h-4zM20 16h9v1h-9zM35 16h1v1h-1zM20 17h9v1h-9zM16 18h1v1h-1zM19 18h10v1h-10zM35 18h1v1h-1zM25 19h1v1h-1zM35 19h2v1h-2zM26 25h3v1h-3zM29 26h1v1h-1zM36 26h4v1h-4zM36 27h4v1h-4zM35 28h5v1h-5zM31 29h3v1h-3z"/><path fill="#87fa00" d="M6 0h3v1h-3zM25 0h9v1h-9zM6 1h3v1h-3zM25 1h9v1h-9zM6 2h3v1h-3zM25 2h9v1h-9zM6 3h4v1h-4zM25 3h9v1h-9zM9 4h1v1h-1zM15 4h1v1h-1zM24 4h6v1h-6zM5 5h1v1h-1zM21 5h5v1h-5zM5 6h1v1h-1zM20 6h5v1h-5zM5 7h1v1h-1zM16 7h1v1h-1zM20 7h5v1h-5zM5 8h1v1h-1zM20 8h5v1h-5zM21 9h1v1h-1zM24 9h1v1h-1zM19 10h1v1h-1zM24 10h2v1h-2zM21 11h1v1h-1zM24 12h1v1h-1zM25 13h1v1h-1zM25 14h4v1h-4zM26 15h4v1h-4zM35 15h1v1h-1zM16 16h4v1h-4zM29 16h2v1h-2zM34 16h1v1h-1zM16 17h4v1h-4zM29 17h2v1h-2zM34 17h1v1h-1zM17 18h2v1h-2zM29 18h1v1h-1zM34 18h1v1h-1zM26 19h3v1h-3zM25 20h1v1h-1zM36 20h4v1h-4zM25 21h1v1h-1zM25 22h1v1h-1zM25 23h1v1h-1zM37 24h3v1h-3zM29 25h1v1h-1zM35 25h5v1h-5zM30 26h1v1h-1zM35 26h1v1h-1zM30 27h1v1h-1zM34 27h2v1h-2zM30 28h1v1h-1zM34 28h1v1h-1z"/><path fill="#ebff00" d="M11 0h4v1h-4zM19 0h2v1h-2zM11 1h4v1h-4zM19 1h2v1h-2zM13 2h2v1h-2zM19 2h2v1h-2zM14 3h1v1h-1zM19 3h2v1h-2zM11 4h1v1h-1zM16 4h4v1h-4zM13 5h1v1h-1zM17 5h2v1h-2zM14 6h1v1h-1zM14 7h2v1h-2zM10 8h1v1h-1zM15 8h1v1h-1zM9 9h1v1h-1zM15 9h1v1h-1zM16 10h3v1h-3zM16 11h5v1h-5zM16 12h8v1h-8zM16 13h9v1h-9zM16 14h1v1h-1zM19 14h5v1h-5zM36 16h4v1h-4zM35 17h5v1h-5zM36 18h4v1h-4zM24 19h1v1h-1zM37 19h3v1h-3zM25 24h1v1h-1zM27 26h2v1h-2zM28 27h2v1h-2zM29 28h1v1h-1zM30 29h1v1h-1zM34 29h2v1h-2z"/><path fill="#32fc00" d="M34 0h2v1h-2zM34 1h2v1h-2zM34 2h2v1h-2zM13 3h1v1h-1zM34 3h2v1h-2zM6 4h3v1h-3zM12 4h1v1h-1zM30 4h5v1h-5zM9 5h1v1h-1zM26 5h4v1h-4zM9 6h1v1h-1zM15 6h1v1h-1zM25 6h5v1h-5zM9 7h1v1h-1zM25 7h5v1h-5zM9 8h1v1h-1zM17 8h1v1h-1zM25 8h5v1h-5zM18 9h1v1h-1zM25 9h5v1h-5zM26 10h4v1h-4zM26 13h4v1h-4zM29 14h2v1h-2zM35 14h5v1h-5zM30 15h5v1h-5zM31 16h3v1h-3zM31 17h3v1h-3zM30 18h4v1h-4zM29 19h2v1h-2zM33 19h2v1h-2zM35 20h1v1h-1zM35 21h5v1h-5zM36 22h4v1h-4zM35 23h5v1h-5zM26 24h2v1h-2zM35 24h2v1h-2zM30 25h2v1h-2zM33 25h2v1h-2zM31 26h4v1h-4zM31 27h3v1h-3zM31 28h3v1h-3z"/><path fill="#00ff00" d="M36 0h4v1h-4zM36 1h4v1h-4zM36 2h4v1h-4zM11 3h2v1h-2zM36 3h4v1h-4zM13 4h2v1h-2zM35 4h5v1h-5zM6 5h3v1h-3zM14 5h3v1h-3zM30 5h10v1h-10zM6 6h3v1h-3zM16 6h2v1h-2zM30 6h10v1h-10zM6 7h3v1h-3zM17 7h2v1h-2zM30 7h10v1h-10zM6 8h3v1h-3zM18 8h2v1h-2zM30 8h10v1h-10zM19 9h2v1h-2zM30 9h10v1h-10zM20 10h4v1h-4zM30 10h10v1h-10zM22 11h18v1h-18zM25 12h15v1h-15zM30 13h10v1h-10zM31 14h4v1h-4zM31 19h2v1h-2zM26 20h9v1h-9zM26 21h9v1h-9zM26 22h10v1h-10zM26 23h9v1h-9zM28 24h7v1h-7zM32 25h1v1h-1z"/><path fill="#ffbe00" d="M0 4h4v1h-4zM4 9h1v1h-1zM14 10h1v1h-1zM14 11h1v1h-1zM11 20h3v1h-3zM14 21h1v1h-1zM24 21h1v1h-1zM14 22h1v1h-1zM24 22h1v1h-1zM14 23h1v1h-1zM24 23h1v1h-1zM10 24h1v1h-1zM14 24h1v1h-1zM11 25h1v1h-1zM13 25h1v1h-1zM11 26h3v1h-3zM25 26h1v1h-1zM11 27h3v1h-3zM11 28h3v1h-3zM26 29h3v1h-3zM31 30h4v1h-4z"/><path fill="#ff9600" d="M0 5h4v1h-4zM3 6h1v1h-1zM10 10h4v1h-4zM14 12h1v1h-1zM14 13h1v1h-1zM14 14h1v1h-1zM10 20h1v1h-1zM14 20h1v1h-1zM20 20h4v1h-4zM9 21h1v1h-1zM9 22h1v1h-1zM9 23h1v1h-1zM24 24h1v1h-1zM10 25h1v1h-1zM14 25h1v1h-1zM10 26h1v1h-1zM10 27h1v1h-1zM25 27h1v1h-1zM25 28h1v1h-1zM11 29h3v1h-3zM30 30h1v1h-1zM35 30h5v1h-5zM31 35h3v1h-3zM31 36h3v1h-3zM31 37h3v1h-3zM31 38h3v1h-3zM31 39h3v1h-3z"/><path fill="#ff6e00" d="M0 6h3v1h-3zM0 7h4v1h-4zM0 8h4v1h-4zM0 9h4v1h-4zM0 10h10v1h-10zM0 11h4v1h-4zM11 11h3v1h-3zM0 12h4v1h-4zM11 12h3v1h-3zM0 13h4v1h-4zM11 13h3v1h-3zM14 15h1v1h-1zM14 16h1v1h-1zM14 17h1v1h-1zM14 18h1v1h-1zM14 19h1v1h-1zM15 20h5v1h-5zM7 21h2v1h-2zM23 21h1v1h-1zM6 22h3v1h-3zM6 23h3v1h-3zM9 24h1v1h-1zM14 26h1v1h-1zM14 27h1v1h-1zM10 28h1v1h-1zM14 28h1v1h-1zM10 29h1v1h-1zM25 29h1v1h-1zM31 31h5v1h-5zM31 32h4v1h-4zM31 33h4v1h-4zM31 34h4v1h-4zM34 35h1v1h-1zM30 36h1v1h-1zM34 36h2v1h-2zM30 37h1v1h-1zM34 37h2v1h-2zM30 38h1v1h-1zM34 38h2v1h-2zM30 39h1v1h-1zM34 39h2v1h-2z"/><path fill="#ff3c00" d="M4 11h1v1h-1zM10 11h1v1h-1zM4 12h1v1h-1zM10 12h1v1h-1zM4 13h1v1h-1zM10 13h1v1h-1zM11 14h3v1h-3zM11 19h3v1h-3zM9 20h1v1h-1zM6 21h1v1h-1zM15 21h1v1h-1zM20 21h3v1h-3zM15 22h1v1h-1zM21 22h3v1h-3zM15 23h1v1h-1zM21 23h3v1h-3zM6 24h3v1h-3zM15 24h1v1h-1zM9 25h1v1h-1zM14 29h1v1h-1zM11 30h3v1h-3zM28 30h2v1h-2zM30 31h1v1h-1zM36 31h4v1h-4zM30 32h1v1h-1zM35 32h5v1h-5zM30 33h1v1h-1zM35 33h5v1h-5zM30 34h1v1h-1zM35 34h5v1h-5zM30 35h1v1h-1zM35 35h5v1h-5zM36 36h4v1h-4zM36 37h4v1h-4zM36 38h4v1h-4zM36 39h4v1h-4z"/><path fill="#ff0000" d="M5 11h5v1h-5zM5 12h5v1h-5zM5 13h5v1h-5zM0 14h11v1h-11zM0 15h14v1h-14zM0 16h14v1h-14zM0 17h14v1h-14zM0 18h14v1h-14zM0 19h11v1h-11zM0 20h9v1h-9zM0 21h6v1h-6zM16 21h4v1h-4zM0 22h6v1h-6zM16 22h5v1h-5zM0 23h6v1h-6zM16 23h5v1h-5zM0 24h6v1h-6zM16 24h8v1h-8zM0 25h9v1h-9zM15 25h10v1h-10zM0 26h10v1h-10zM15 26h10v1h-10zM0 27h10v1h-10zM15 27h10v1h-10zM0 28h10v1h-10zM15 28h10v1h-10zM0 29h10v1h-10zM15 29h10v1h-10zM0 30h11v1h-11zM14 30h14v1h-14zM0 31h30v1h-30zM0 32h30v1h-30zM0 33h30v1h-30zM0 34h30v1h-30zM0 35h30v1h-30zM0 36h30v1h-30zM0 37h30v1h-30zM0 38h30v1h-30zM0 39h30v1h-30z"/>
</svg>
<svg x="608.4" y="1722.4" width="340.4" height="305.8" viewBox="0 0 40 40" preserveAspectRatio="none">
<path d="M0.00 14.65 1.00 14.85 1.60 14.80 2.30 14.85 3.50 14.75 4.50 14.75 5.50 14.65 6.40 14.55 6.70 15.00 7.00 15.20 7.30 15.60 7.50 16.10 8.20 16.40 8.60 16.70 9.00 17.20 9.80 17.10 10.30 17.10 9.60 17.60 9.00 17.70 9.40 18.30 10.00 18.90 10.80 19.30 11.50 19.10 12.10 18.80 12.30 18.30 12.60 17.70 12.90 18.20 12.60 18.70 12.90 19.50 12.80 20.40 12.90 21.00 13.10 21.80 13.30 22.70 13.50 23.60 13.80 24.40 14.10 25.10 14.40 25.80 14.70 26.70 14.80 27.40 15.20 28.00 15.60 28.60 15.90 29.20 16.20 30.00 16.40 30.70 16.80 31.30 17.30 31.80 17.60 31.90 18.10 31.50 18.20 31.10 18.40 30.80 19.00 30.70 19.30 30.30 19.60 29.70 19.85 29.65 19.80 29.00 19.80 28.40 20.10 27.60 20.30 26.70 20.20 26.00 20.10 25.30 20.20 24.60 20.50 24.10 21.00 23.80 21.50 23.60 22.20 23.40 22.30 23.00 22.90 22.70 23.50 22.20 24.10 21.70 24.70 21.00 25.20 20.50 25.90 20.20 26.40 20.00 26.90 19.40 27.00 18.80 27.20 18.50 27.90 18.30 28.30 18.40 28.80 18.40 29.20 18.30 29.80 18.10 30.30 18.10 30.70 17.70 31.00 17.30 31.50 17.40 31.90 18.00 32.00 18.70 32.30 19.30 32.70 19.80 33.10 20.10 33.60 20.70 33.90 21.20 34.30 21.80 34.50 22.60 34.60 23.40 34.30 24.00 34.80 24.20 35.30 24.30 35.90 24.00 36.40 23.60 36.90 23.00 37.40 23.40 37.70 24.00 37.80 25.00 38.00 25.80 38.30 26.60 38.60 27.50 38.70 28.40 38.50 29.40 38.30 30.40 38.40 31.40 38.30 32.00 38.70 32.10 39.10 32.60 39.60 33.10 40.00 33.50M40.00 26.50 39.80 27.40 39.50 28.40 39.20 29.40 39.20 30.40 39.80 30.80 40.00 31.00M19.90 30.20 20.30 30.20 20.80 30.80 21.20 31.50 21.40 32.00 21.80 32.60 21.90 33.20 21.60 33.60 21.10 33.90 20.60 34.05 20.10 33.80 19.90 33.20 19.80 32.40 19.80 31.80 19.90 31.10 19.70 30.50 19.90 30.20M35.30 34.40 36.00 34.70 36.80 34.80 37.50 34.80 38.00 35.40 38.60 36.10 39.30 36.70 40.00 37.20M35.30 34.40 35.20 34.90 35.60 35.40 36.20 36.00 36.90 36.60 37.60 37.30 38.30 38.00 38.90 38.50 39.30 39.20 39.70 40.00" fill="none" stroke="#111" stroke-width="1.1" vector-effect="non-scaling-stroke" stroke-linejoin="round"/>
<path d="M1.00 0.00 2.30 0.60 3.60 1.10 4.60 1.70 5.70 2.20 6.50 2.60M1.20 4.40 2.30 4.70 3.10 4.10 4.50 3.70 5.60 2.80 6.60 2.60 7.80 2.80 8.90 2.70 9.50 2.40 10.30 2.00 11.40 2.10 11.60 2.90 12.60 3.00 13.80 2.60 14.90 2.80M1.20 4.40 0.70 5.60 0.90 6.50 0.60 7.50 1.30 8.60 1.70 8.70 0.90 10.20 1.40 10.60 1.80 11.40 2.60 11.70 2.80 12.70 3.30 12.90 3.20 13.40 2.30 13.60 1.80 14.10 1.60 14.80M0.90 10.20 2.50 10.60 4.00 10.50 5.00 10.40 6.30 10.10 6.50 9.00 7.80 8.50 8.80 8.30 9.30 8.00 9.50 7.00 10.00 6.20 11.10 5.70 11.50 5.00 11.50 4.00 12.40 3.40 13.60 3.10 14.90 2.80M8.40 16.30 9.30 15.80 10.50 15.70 11.00 15.40 10.80 14.60 10.30 14.20 10.00 13.50 9.60 12.90 10.30 12.10 11.30 12.10 12.00 11.80 12.90 11.00 13.40 10.10 13.90 9.60 14.60 9.00 14.60 8.10 15.00 7.50 14.40 6.90 14.00 6.50 14.00 5.90 13.90 5.40 14.70 5.00 15.80 4.60 17.00 4.50M14.90 2.80 15.20 3.20 16.20 3.90 17.00 4.50 18.10 4.50 19.00 5.60 18.70 6.50 18.90 7.60 18.60 8.20 19.30 9.00 20.20 9.40 21.00 9.80M20.20 9.60 21.10 9.90 22.10 9.70 23.30 10.50 24.20 10.80 25.10 11.30 26.00 12.00 27.00 12.10 28.10 12.10M20.10 10.00 20.10 11.20 21.00 11.60 22.00 12.10 23.30 12.60 24.50 12.60 25.20 13.20 26.00 13.40 27.20 13.60 28.10 13.50 28.10 12.10M28.10 12.10 28.80 11.90 29.50 11.80 30.50 12.00 31.60 12.10 32.50 12.10 33.40 11.50 34.30 10.90 35.30 10.90 36.20 10.60 36.80 11.40 37.30 11.80M28.80 12.90 29.80 13.30 31.00 13.20 32.10 13.10 32.00 12.50 31.60 12.10M37.30 11.80 38.40 12.40 38.70 13.60 37.80 14.70 37.60 16.00 38.80 15.90 39.50 17.10 39.90 18.00 40.00 18.20M37.30 11.80 37.00 12.40 36.00 12.80 35.20 13.40 34.60 14.60 34.20 16.00 33.40 16.30 33.20 17.70 32.70 18.00 32.60 18.70M28.10 13.50 28.50 14.00 29.80 14.00 29.90 14.70 31.00 14.80 32.00 14.80 32.40 15.20 32.20 16.00 31.90 16.30 31.60 17.00 31.90 18.00M28.50 14.00 28.10 14.40 28.80 15.00 28.50 15.70 28.80 16.50 28.90 17.40 29.00 18.20M32.20 16.00 32.40 17.00 32.60 18.00M40.00 19.80 38.90 20.30 37.80 21.40 37.60 23.00 38.60 23.80 38.20 24.80 39.10 26.00 39.20 27.10 39.40 29.00 38.80 29.60 38.60 30.00M40.00 18.20 40.00 19.80" fill="none" stroke="#222" stroke-width="0.9" vector-effect="non-scaling-stroke" stroke-linejoin="round"/>
<path d="M32.70 26.50 32.90 27.20 32.80 28.00 32.60 28.60 32.60 29.10M33.50 30.80 33.40 31.10M33.80 32.70 33.90 33.10M36.00 37.10 36.50 37.60M37.20 38.50 37.70 39.10" fill="none" stroke="#111" stroke-width="1.8" stroke-dasharray="3 2" vector-effect="non-scaling-stroke"/>
</svg>
<polygon points="774.35,1796.94 776.06,1801.07 780.53,1801.43 777.13,1804.34 778.17,1808.70 774.35,1806.36 770.52,1808.70 771.56,1804.34 768.16,1801.43 772.63,1801.07" fill="#fff"/>
<rect x="608.4" y="1722.4" width="340.4" height="305.8" fill="none" stroke="#000" stroke-width="2.6"/>
<path d="M608.4 2028.2v9.5M608.4 2028.2h-9.5M650.9 2028.2v5.5M608.4 1990.0h-5.5M693.5 2028.2v9.5M608.4 1951.8h-9.5M736.0 2028.2v5.5M608.4 1913.5h-5.5M778.6 2028.2v9.5M608.4 1875.3h-9.5M821.1 2028.2v5.5M608.4 1837.1h-5.5M863.7 2028.2v9.5M608.4 1798.9h-9.5M906.2 2028.2v5.5M608.4 1760.6h-5.5M948.8 2028.2v9.5M608.4 1722.4h-9.5" stroke="#000" stroke-width="2.4" fill="none"/>
<text x="608.4" y="2061.7" text-anchor="middle" font-size="25.5" textLength="26.5" lengthAdjust="spacingAndGlyphs">60</text>
<text x="693.5" y="2061.7" text-anchor="middle" font-size="25.5" textLength="26.5" lengthAdjust="spacingAndGlyphs">70</text>
<text x="778.6" y="2061.7" text-anchor="middle" font-size="25.5" textLength="26.5" lengthAdjust="spacingAndGlyphs">80</text>
<text x="863.7" y="2061.7" text-anchor="middle" font-size="25.5" textLength="26.5" lengthAdjust="spacingAndGlyphs">90</text>
<text x="948.8" y="2061.7" text-anchor="middle" font-size="25.5" textLength="39.8" lengthAdjust="spacingAndGlyphs">100</text>
<text x="593.9" y="2037.0" text-anchor="end" font-size="25.5">0</text>
<text x="593.9" y="1960.5" text-anchor="end" font-size="25.5">10</text>
<text x="593.9" y="1884.1" text-anchor="end" font-size="25.5">20</text>
<text x="593.9" y="1807.7" text-anchor="end" font-size="25.5">30</text>
<text x="593.9" y="1731.2" text-anchor="end" font-size="25.5">40</text>
<text x="608.8" y="1715.3" font-size="25.0" textLength="51.8" lengthAdjust="spacingAndGlyphs">June</text>
<svg x="1019.3" y="1727.0" width="346.6" height="302.7" viewBox="0 0 40 40" preserveAspectRatio="none" shape-rendering="crispEdges">
<path fill="#ff6e00" d="M0 0h4v1h-4zM0 1h4v1h-4zM0 2h4v1h-4zM0 3h4v1h-4zM4 5h1v1h-1zM10 10h1v1h-1zM13 11h1v1h-1zM13 13h1v1h-1zM9 16h1v1h-1zM9 17h1v1h-1zM9 18h1v1h-1zM9 19h1v1h-1zM10 21h1v1h-1zM10 22h1v1h-1zM10 23h1v1h-1zM10 24h1v1h-1zM14 25h1v1h-1zM24 25h1v1h-1zM25 28h1v1h-1zM11 29h3v1h-3zM26 29h2v1h-2zM30 30h1v1h-1zM34 31h1v1h-1zM34 32h1v1h-1zM34 33h1v1h-1zM34 34h1v1h-1zM30 35h1v1h-1zM35 35h1v1h-1zM30 36h1v1h-1zM35 36h1v1h-1zM30 37h1v1h-1zM35 37h1v1h-1zM30 38h1v1h-1zM35 38h1v1h-1zM30 39h1v1h-1zM35 39h1v1h-1z"/><path fill="#ff9600" d="M4 0h1v1h-1zM4 1h1v1h-1zM4 2h1v1h-1zM4 3h1v1h-1zM4 4h1v1h-1zM5 9h1v1h-1zM11 10h1v1h-1zM14 11h1v1h-1zM14 12h1v1h-1zM14 13h1v1h-1zM11 14h3v1h-3zM10 20h1v1h-1zM11 24h1v1h-1zM14 24h5v1h-5zM11 25h3v1h-3zM11 26h3v1h-3zM25 26h1v1h-1zM11 27h3v1h-3zM25 27h1v1h-1zM11 28h3v1h-3zM28 29h2v1h-2zM35 30h5v1h-5zM31 31h3v1h-3zM31 32h3v1h-3zM31 33h3v1h-3zM31 34h3v1h-3zM31 35h1v1h-1zM34 35h1v1h-1zM34 36h1v1h-1zM34 37h1v1h-1zM34 38h1v1h-1zM34 39h1v1h-1z"/><path fill="#fff300" d="M5 0h1v1h-1zM5 1h1v1h-1zM5 2h1v1h-1zM5 3h1v1h-1zM15 11h1v1h-1zM15 14h1v1h-1zM11 15h3v1h-3zM10 16h1v1h-1zM36 16h4v1h-4zM10 17h1v1h-1zM36 17h4v1h-4zM10 18h1v1h-1zM36 18h4v1h-4zM15 20h3v1h-3zM19 22h1v1h-1zM19 23h1v1h-1zM21 24h2v1h-2zM29 26h2v1h-2zM30 27h2v1h-2zM30 28h4v1h-4zM32 29h8v1h-8z"/><path fill="#ebff00" d="M6 0h3v1h-3zM6 1h3v1h-3zM6 2h3v1h-3zM6 3h3v1h-3zM6 4h3v1h-3zM6 5h1v1h-1zM6 8h1v1h-1zM10 9h3v1h-3zM15 10h1v1h-1zM16 11h4v1h-4zM16 12h4v1h-4zM16 13h4v1h-4zM14 15h1v1h-1zM36 15h4v1h-4zM11 16h1v1h-1zM35 16h1v1h-1zM34 17h2v1h-2zM35 18h1v1h-1zM11 19h4v1h-4zM36 19h4v1h-4zM18 20h2v1h-2zM19 21h1v1h-1zM23 24h2v1h-2zM26 25h4v1h-4zM31 26h4v1h-4zM32 27h3v1h-3zM34 28h1v1h-1z"/><path fill="#c0fc00" d="M9 0h2v1h-2zM21 0h3v1h-3zM9 1h2v1h-2zM21 1h3v1h-3zM9 2h2v1h-2zM21 2h3v1h-3zM9 3h2v1h-2zM21 3h3v1h-3zM9 4h1v1h-1zM21 4h3v1h-3zM7 5h3v1h-3zM6 6h3v1h-3zM6 7h3v1h-3zM7 8h3v1h-3zM13 9h2v1h-2zM16 10h3v1h-3zM20 11h1v1h-1zM20 12h4v1h-4zM20 13h5v1h-5zM16 14h5v1h-5zM15 15h1v1h-1zM26 15h5v1h-5zM34 15h2v1h-2zM12 16h3v1h-3zM26 16h9v1h-9zM11 17h3v1h-3zM26 17h8v1h-8zM11 18h4v1h-4zM26 18h9v1h-9zM15 19h1v1h-1zM34 19h2v1h-2zM20 23h1v1h-1zM30 25h5v1h-5zM35 26h1v1h-1zM35 27h1v1h-1zM35 28h1v1h-1z"/><path fill="#87fa00" d="M11 0h4v1h-4zM19 0h2v1h-2zM24 0h1v1h-1zM11 1h4v1h-4zM19 1h2v1h-2zM24 1h1v1h-1zM13 2h2v1h-2zM19 2h2v1h-2zM24 2h1v1h-1zM14 3h1v1h-1zM19 3h2v1h-2zM24 3h1v1h-1zM10 4h2v1h-2zM20 4h1v1h-1zM24 4h1v1h-1zM10 5h1v1h-1zM20 5h4v1h-4zM9 6h2v1h-2zM21 6h3v1h-3zM9 7h2v1h-2zM21 7h3v1h-3zM10 8h1v1h-1zM20 8h4v1h-4zM15 9h1v1h-1zM22 9h3v1h-3zM25 10h1v1h-1zM25 13h5v1h-5zM21 14h14v1h-14zM16 15h10v1h-10zM31 15h3v1h-3zM15 16h1v1h-1zM24 16h2v1h-2zM14 17h2v1h-2zM24 17h2v1h-2zM15 18h1v1h-1zM24 18h2v1h-2zM16 19h4v1h-4zM25 19h9v1h-9zM20 20h1v1h-1zM35 20h5v1h-5zM20 21h1v1h-1zM20 22h1v1h-1zM21 23h2v1h-2zM25 24h1v1h-1zM35 25h5v1h-5zM36 26h4v1h-4zM36 27h4v1h-4zM36 28h4v1h-4z"/><path fill="#32fc00" d="M15 0h4v1h-4zM25 0h1v1h-1zM15 1h4v1h-4zM25 1h1v1h-1zM11 2h2v1h-2zM15 2h4v1h-4zM25 2h1v1h-1zM15 3h4v1h-4zM25 3h1v1h-1zM16 4h4v1h-4zM25 4h1v1h-1zM11 5h3v1h-3zM19 5h1v1h-1zM24 5h1v1h-1zM11 6h4v1h-4zM19 6h2v1h-2zM24 6h1v1h-1zM11 7h4v1h-4zM19 7h2v1h-2zM24 7h1v1h-1zM11 8h4v1h-4zM24 8h1v1h-1zM16 9h2v1h-2zM21 9h1v1h-1zM25 9h1v1h-1zM19 10h1v1h-1zM24 10h1v1h-1zM26 10h5v1h-5zM21 11h1v1h-1zM24 12h1v1h-1zM30 13h5v1h-5zM35 14h5v1h-5zM16 16h8v1h-8zM16 17h8v1h-8zM16 18h8v1h-8zM20 19h5v1h-5zM21 20h4v1h-4zM30 20h5v1h-5zM21 21h3v1h-3zM35 21h5v1h-5zM21 22h3v1h-3zM35 22h5v1h-5zM23 23h2v1h-2zM35 23h5v1h-5zM26 24h14v1h-14z"/><path fill="#00ff00" d="M26 0h14v1h-14zM26 1h14v1h-14zM26 2h14v1h-14zM11 3h3v1h-3zM26 3h14v1h-14zM12 4h4v1h-4zM26 4h14v1h-14zM14 5h5v1h-5zM25 5h15v1h-15zM15 6h4v1h-4zM25 6h15v1h-15zM15 7h4v1h-4zM25 7h15v1h-15zM15 8h5v1h-5zM25 8h15v1h-15zM18 9h3v1h-3zM26 9h14v1h-14zM20 10h4v1h-4zM31 10h9v1h-9zM22 11h18v1h-18zM25 12h15v1h-15zM35 13h5v1h-5zM25 20h5v1h-5zM24 21h11v1h-11zM24 22h11v1h-11zM25 23h10v1h-10z"/><path fill="#ff3c00" d="M0 4h4v1h-4zM4 6h1v1h-1zM4 7h1v1h-1zM4 8h1v1h-1zM0 11h4v1h-4zM11 11h2v1h-2zM0 12h4v1h-4zM11 12h3v1h-3zM0 13h4v1h-4zM11 13h2v1h-2zM10 14h1v1h-1zM9 15h1v1h-1zM10 25h1v1h-1zM21 25h3v1h-3zM10 26h1v1h-1zM14 26h1v1h-1zM10 27h1v1h-1zM14 27h1v1h-1zM10 28h1v1h-1zM14 28h1v1h-1zM25 29h1v1h-1zM30 31h1v1h-1zM35 31h1v1h-1zM30 32h1v1h-1zM35 32h1v1h-1zM30 33h1v1h-1zM35 33h1v1h-1zM30 34h1v1h-1zM35 34h1v1h-1zM36 35h4v1h-4zM36 36h4v1h-4zM36 37h4v1h-4zM36 38h4v1h-4zM36 39h4v1h-4z"/><path fill="#ffdc00" d="M5 4h1v1h-1zM5 5h1v1h-1zM5 6h1v1h-1zM5 7h1v1h-1zM5 8h1v1h-1zM7 9h3v1h-3zM14 10h1v1h-1zM15 12h1v1h-1zM15 13h1v1h-1zM10 19h1v1h-1zM11 20h4v1h-4zM15 21h4v1h-4zM15 22h4v1h-4zM16 23h3v1h-3zM20 24h1v1h-1zM25 25h1v1h-1zM26 26h3v1h-3zM26 27h4v1h-4zM27 28h3v1h-3zM30 29h2v1h-2z"/><path fill="#ff0000" d="M0 5h4v1h-4zM0 6h4v1h-4zM0 7h4v1h-4zM0 8h4v1h-4zM0 9h5v1h-5zM0 10h10v1h-10zM4 11h7v1h-7zM4 12h7v1h-7zM4 13h7v1h-7zM0 14h10v1h-10zM0 15h9v1h-9zM0 16h9v1h-9zM0 17h9v1h-9zM0 18h9v1h-9zM0 19h9v1h-9zM0 20h10v1h-10zM0 21h10v1h-10zM0 22h10v1h-10zM0 23h10v1h-10zM0 24h10v1h-10zM4 25h6v1h-6zM15 25h6v1h-6zM5 26h5v1h-5zM15 26h10v1h-10zM5 27h5v1h-5zM15 27h10v1h-10zM5 28h5v1h-5zM15 28h10v1h-10zM4 29h7v1h-7zM14 29h11v1h-11zM0 30h30v1h-30zM0 31h30v1h-30zM36 31h4v1h-4zM0 32h30v1h-30zM36 32h4v1h-4zM0 33h30v1h-30zM36 33h4v1h-4zM0 34h30v1h-30zM36 34h4v1h-4zM0 35h30v1h-30zM0 36h30v1h-30zM0 37h30v1h-30zM0 38h30v1h-30zM0 39h30v1h-30z"/><path fill="#ffbe00" d="M6 9h1v1h-1zM12 10h2v1h-2zM14 14h1v1h-1zM10 15h1v1h-1zM11 21h4v1h-4zM11 22h4v1h-4zM11 23h5v1h-5zM12 24h2v1h-2zM19 24h1v1h-1zM26 28h1v1h-1zM31 30h4v1h-4zM32 35h2v1h-2zM31 36h3v1h-3zM31 37h3v1h-3zM31 38h3v1h-3zM31 39h3v1h-3z"/><path fill="#fa0000" d="M0 25h4v1h-4zM4 26h1v1h-1zM4 27h1v1h-1zM4 28h1v1h-1zM0 29h4v1h-4z"/><path fill="#ec0000" d="M0 26h4v1h-4zM0 27h4v1h-4zM0 28h4v1h-4z"/>
</svg>
<svg x="1019.3" y="1727.0" width="346.6" height="302.7" viewBox="0 0 40 40" preserveAspectRatio="none">
<path d="M0.00 14.65 1.00 14.85 1.60 14.80 2.30 14.85 3.50 14.75 4.50 14.75 5.50 14.65 6.40 14.55 6.70 15.00 7.00 15.20 7.30 15.60 7.50 16.10 8.20 16.40 8.60 16.70 9.00 17.20 9.80 17.10 10.30 17.10 9.60 17.60 9.00 17.70 9.40 18.30 10.00 18.90 10.80 19.30 11.50 19.10 12.10 18.80 12.30 18.30 12.60 17.70 12.90 18.20 12.60 18.70 12.90 19.50 12.80 20.40 12.90 21.00 13.10 21.80 13.30 22.70 13.50 23.60 13.80 24.40 14.10 25.10 14.40 25.80 14.70 26.70 14.80 27.40 15.20 28.00 15.60 28.60 15.90 29.20 16.20 30.00 16.40 30.70 16.80 31.30 17.30 31.80 17.60 31.90 18.10 31.50 18.20 31.10 18.40 30.80 19.00 30.70 19.30 30.30 19.60 29.70 19.85 29.65 19.80 29.00 19.80 28.40 20.10 27.60 20.30 26.70 20.20 26.00 20.10 25.30 20.20 24.60 20.50 24.10 21.00 23.80 21.50 23.60 22.20 23.40 22.30 23.00 22.90 22.70 23.50 22.20 24.10 21.70 24.70 21.00 25.20 20.50 25.90 20.20 26.40 20.00 26.90 19.40 27.00 18.80 27.20 18.50 27.90 18.30 28.30 18.40 28.80 18.40 29.20 18.30 29.80 18.10 30.30 18.10 30.70 17.70 31.00 17.30 31.50 17.40 31.90 18.00 32.00 18.70 32.30 19.30 32.70 19.80 33.10 20.10 33.60 20.70 33.90 21.20 34.30 21.80 34.50 22.60 34.60 23.40 34.30 24.00 34.80 24.20 35.30 24.30 35.90 24.00 36.40 23.60 36.90 23.00 37.40 23.40 37.70 24.00 37.80 25.00 38.00 25.80 38.30 26.60 38.60 27.50 38.70 28.40 38.50 29.40 38.30 30.40 38.40 31.40 38.30 32.00 38.70 32.10 39.10 32.60 39.60 33.10 40.00 33.50M40.00 26.50 39.80 27.40 39.50 28.40 39.20 29.40 39.20 30.40 39.80 30.80 40.00 31.00M19.90 30.20 20.30 30.20 20.80 30.80 21.20 31.50 21.40 32.00 21.80 32.60 21.90 33.20 21.60 33.60 21.10 33.90 20.60 34.05 20.10 33.80 19.90 33.20 19.80 32.40 19.80 31.80 19.90 31.10 19.70 30.50 19.90 30.20M35.30 34.40 36.00 34.70 36.80 34.80 37.50 34.80 38.00 35.40 38.60 36.10 39.30 36.70 40.00 37.20M35.30 34.40 35.20 34.90 35.60 35.40 36.20 36.00 36.90 36.60 37.60 37.30 38.30 38.00 38.90 38.50 39.30 39.20 39.70 40.00" fill="none" stroke="#111" stroke-width="1.1" vector-effect="non-scaling-stroke" stroke-linejoin="round"/>
<path d="M1.00 0.00 2.30 0.60 3.60 1.10 4.60 1.70 5.70 2.20 6.50 2.60M1.20 4.40 2.30 4.70 3.10 4.10 4.50 3.70 5.60 2.80 6.60 2.60 7.80 2.80 8.90 2.70 9.50 2.40 10.30 2.00 11.40 2.10 11.60 2.90 12.60 3.00 13.80 2.60 14.90 2.80M1.20 4.40 0.70 5.60 0.90 6.50 0.60 7.50 1.30 8.60 1.70 8.70 0.90 10.20 1.40 10.60 1.80 11.40 2.60 11.70 2.80 12.70 3.30 12.90 3.20 13.40 2.30 13.60 1.80 14.10 1.60 14.80M0.90 10.20 2.50 10.60 4.00 10.50 5.00 10.40 6.30 10.10 6.50 9.00 7.80 8.50 8.80 8.30 9.30 8.00 9.50 7.00 10.00 6.20 11.10 5.70 11.50 5.00 11.50 4.00 12.40 3.40 13.60 3.10 14.90 2.80M8.40 16.30 9.30 15.80 10.50 15.70 11.00 15.40 10.80 14.60 10.30 14.20 10.00 13.50 9.60 12.90 10.30 12.10 11.30 12.10 12.00 11.80 12.90 11.00 13.40 10.10 13.90 9.60 14.60 9.00 14.60 8.10 15.00 7.50 14.40 6.90 14.00 6.50 14.00 5.90 13.90 5.40 14.70 5.00 15.80 4.60 17.00 4.50M14.90 2.80 15.20 3.20 16.20 3.90 17.00 4.50 18.10 4.50 19.00 5.60 18.70 6.50 18.90 7.60 18.60 8.20 19.30 9.00 20.20 9.40 21.00 9.80M20.20 9.60 21.10 9.90 22.10 9.70 23.30 10.50 24.20 10.80 25.10 11.30 26.00 12.00 27.00 12.10 28.10 12.10M20.10 10.00 20.10 11.20 21.00 11.60 22.00 12.10 23.30 12.60 24.50 12.60 25.20 13.20 26.00 13.40 27.20 13.60 28.10 13.50 28.10 12.10M28.10 12.10 28.80 11.90 29.50 11.80 30.50 12.00 31.60 12.10 32.50 12.10 33.40 11.50 34.30 10.90 35.30 10.90 36.20 10.60 36.80 11.40 37.30 11.80M28.80 12.90 29.80 13.30 31.00 13.20 32.10 13.10 32.00 12.50 31.60 12.10M37.30 11.80 38.40 12.40 38.70 13.60 37.80 14.70 37.60 16.00 38.80 15.90 39.50 17.10 39.90 18.00 40.00 18.20M37.30 11.80 37.00 12.40 36.00 12.80 35.20 13.40 34.60 14.60 34.20 16.00 33.40 16.30 33.20 17.70 32.70 18.00 32.60 18.70M28.10 13.50 28.50 14.00 29.80 14.00 29.90 14.70 31.00 14.80 32.00 14.80 32.40 15.20 32.20 16.00 31.90 16.30 31.60 17.00 31.90 18.00M28.50 14.00 28.10 14.40 28.80 15.00 28.50 15.70 28.80 16.50 28.90 17.40 29.00 18.20M32.20 16.00 32.40 17.00 32.60 18.00M40.00 19.80 38.90 20.30 37.80 21.40 37.60 23.00 38.60 23.80 38.20 24.80 39.10 26.00 39.20 27.10 39.40 29.00 38.80 29.60 38.60 30.00M40.00 18.20 40.00 19.80" fill="none" stroke="#222" stroke-width="0.9" vector-effect="non-scaling-stroke" stroke-linejoin="round"/>
<path d="M32.70 26.50 32.90 27.20 32.80 28.00 32.60 28.60 32.60 29.10M33.50 30.80 33.40 31.10M33.80 32.70 33.90 33.10M36.00 37.10 36.50 37.60M37.20 38.50 37.70 39.10" fill="none" stroke="#111" stroke-width="1.8" stroke-dasharray="3 2" vector-effect="non-scaling-stroke"/>
</svg>
<polygon points="1188.27,1800.72 1189.99,1804.85 1194.45,1805.21 1191.05,1808.12 1192.09,1812.47 1188.27,1810.14 1184.45,1812.47 1185.49,1808.12 1182.09,1805.21 1186.55,1804.85" fill="#fff"/>
<rect x="1019.3" y="1727.0" width="346.6" height="302.7" fill="none" stroke="#000" stroke-width="2.6"/>
<path d="M1019.3 2029.7v9.5M1019.3 2029.7h-9.5M1062.6 2029.7v5.5M1019.3 1991.9h-5.5M1106.0 2029.7v9.5M1019.3 1954.0h-9.5M1149.3 2029.7v5.5M1019.3 1916.2h-5.5M1192.6 2029.7v9.5M1019.3 1878.3h-9.5M1235.9 2029.7v5.5M1019.3 1840.5h-5.5M1279.2 2029.7v9.5M1019.3 1802.7h-9.5M1322.6 2029.7v5.5M1019.3 1764.8h-5.5M1365.9 2029.7v9.5M1019.3 1727.0h-9.5" stroke="#000" stroke-width="2.4" fill="none"/>
<text x="1019.3" y="2063.2" text-anchor="middle" font-size="25.5" textLength="26.5" lengthAdjust="spacingAndGlyphs">60</text>
<text x="1106.0" y="2063.2" text-anchor="middle" font-size="25.5" textLength="26.5" lengthAdjust="spacingAndGlyphs">70</text>
<text x="1192.6" y="2063.2" text-anchor="middle" font-size="25.5" textLength="26.5" lengthAdjust="spacingAndGlyphs">80</text>
<text x="1279.2" y="2063.2" text-anchor="middle" font-size="25.5" textLength="26.5" lengthAdjust="spacingAndGlyphs">90</text>
<text x="1365.9" y="2063.2" text-anchor="middle" font-size="25.5" textLength="39.8" lengthAdjust="spacingAndGlyphs">100</text>
<text x="1004.8" y="2038.5" text-anchor="end" font-size="25.5">0</text>
<text x="1004.8" y="1962.8" text-anchor="end" font-size="25.5">10</text>
<text x="1004.8" y="1887.1" text-anchor="end" font-size="25.5">20</text>
<text x="1004.8" y="1811.5" text-anchor="end" font-size="25.5">30</text>
<text x="1004.8" y="1735.8" text-anchor="end" font-size="25.5">40</text>
<text x="1017.4" y="1718.6" font-size="25.0" textLength="47.0" lengthAdjust="spacingAndGlyphs">July</text>
<svg x="1422.6" y="1727.8" width="338.4" height="299.5" viewBox="0 0 40 40" preserveAspectRatio="none" shape-rendering="crispEdges">
<path fill="#ff0000" d="M0 0h5v1h-5zM0 1h5v1h-5zM0 2h5v1h-5zM0 3h5v1h-5zM0 4h5v1h-5zM0 5h4v1h-4zM0 6h4v1h-4zM0 7h4v1h-4zM0 8h4v1h-4zM0 9h4v1h-4zM0 10h3v1h-3zM0 14h6v1h-6zM0 15h9v1h-9zM0 16h9v1h-9zM0 17h9v1h-9zM0 18h9v1h-9zM0 19h10v1h-10zM0 20h10v1h-10zM0 21h10v1h-10zM0 22h10v1h-10zM0 23h10v1h-10zM0 24h10v1h-10zM5 25h5v1h-5zM16 25h4v1h-4zM5 26h5v1h-5zM15 26h10v1h-10zM5 27h5v1h-5zM15 27h10v1h-10zM5 28h5v1h-5zM15 28h10v1h-10zM5 29h6v1h-6zM14 29h11v1h-11zM4 30h25v1h-25zM4 31h26v1h-26zM4 32h26v1h-26zM4 33h26v1h-26zM0 34h30v1h-30zM0 35h26v1h-26zM0 36h25v1h-25zM0 37h24v1h-24zM0 38h24v1h-24zM0 39h24v1h-24z"/><path fill="#ff3c00" d="M5 0h1v1h-1zM5 1h1v1h-1zM5 2h1v1h-1zM5 3h1v1h-1zM4 5h1v1h-1zM4 6h1v1h-1zM4 7h1v1h-1zM4 8h1v1h-1zM4 9h1v1h-1zM3 10h2v1h-2zM0 11h5v1h-5zM0 12h5v1h-5zM0 13h5v1h-5zM6 14h3v1h-3zM9 15h1v1h-1zM9 16h1v1h-1zM9 17h1v1h-1zM9 18h1v1h-1zM10 21h1v1h-1zM10 22h1v1h-1zM10 23h1v1h-1zM10 24h1v1h-1zM10 25h1v1h-1zM15 25h1v1h-1zM20 25h4v1h-4zM10 26h1v1h-1zM10 27h1v1h-1zM10 28h1v1h-1zM14 28h1v1h-1zM11 29h1v1h-1zM13 29h1v1h-1zM25 29h1v1h-1zM29 30h1v1h-1zM30 31h1v1h-1zM30 32h1v1h-1zM30 33h1v1h-1zM30 34h1v1h-1zM26 35h4v1h-4zM25 36h1v1h-1zM24 37h2v1h-2zM24 38h2v1h-2zM24 39h2v1h-2z"/><path fill="#ff6e00" d="M6 0h3v1h-3zM6 1h3v1h-3zM6 2h3v1h-3zM6 3h3v1h-3zM5 4h1v1h-1zM5 10h1v1h-1zM5 11h5v1h-5zM5 12h5v1h-5zM5 13h5v1h-5zM9 14h1v1h-1zM10 20h1v1h-1zM14 25h1v1h-1zM24 25h1v1h-1zM14 26h1v1h-1zM14 27h1v1h-1zM11 28h1v1h-1zM12 29h1v1h-1zM30 30h1v1h-1zM31 31h4v1h-4zM31 32h4v1h-4zM31 33h4v1h-4zM31 34h3v1h-3zM30 35h1v1h-1zM26 36h4v1h-4zM26 37h4v1h-4zM26 38h4v1h-4zM26 39h4v1h-4z"/><path fill="#ff9600" d="M9 0h1v1h-1zM9 1h1v1h-1zM9 2h1v1h-1zM6 4h3v1h-3zM6 10h3v1h-3zM10 11h4v1h-4zM10 12h4v1h-4zM10 13h4v1h-4zM10 14h1v1h-1zM11 21h3v1h-3zM11 22h3v1h-3zM11 23h4v1h-4zM11 24h8v1h-8zM11 25h3v1h-3zM11 26h3v1h-3zM25 26h1v1h-1zM11 27h3v1h-3zM25 27h1v1h-1zM12 28h2v1h-2zM25 28h1v1h-1zM26 29h3v1h-3zM31 30h4v1h-4zM35 31h5v1h-5zM35 32h5v1h-5zM35 33h5v1h-5zM34 34h6v1h-6zM31 35h5v1h-5zM30 36h5v1h-5zM30 37h5v1h-5zM30 38h5v1h-5zM30 39h5v1h-5z"/><path fill="#fff300" d="M10 0h1v1h-1zM10 1h1v1h-1zM10 2h1v1h-1zM10 3h1v1h-1zM10 4h1v1h-1zM9 5h1v1h-1zM6 6h3v1h-3zM6 7h2v1h-2zM6 8h3v1h-3zM9 9h1v1h-1zM14 10h1v1h-1zM15 11h1v1h-1zM15 12h2v1h-2zM15 13h2v1h-2zM15 14h1v1h-1zM11 15h3v1h-3zM11 19h3v1h-3zM15 20h4v1h-4zM19 21h1v1h-1zM19 22h1v1h-1zM19 23h1v1h-1zM24 24h1v1h-1zM26 25h3v1h-3zM36 25h4v1h-4zM30 26h10v1h-10zM30 27h10v1h-10zM30 28h10v1h-10z"/><path fill="#ebff00" d="M11 0h3v1h-3zM20 0h5v1h-5zM11 1h3v1h-3zM20 1h5v1h-5zM13 2h1v1h-1zM20 2h5v1h-5zM20 3h5v1h-5zM11 4h1v1h-1zM9 6h1v1h-1zM8 7h2v1h-2zM9 8h1v1h-1zM10 9h4v1h-4zM15 10h1v1h-1zM16 11h4v1h-4zM17 12h3v1h-3zM17 13h3v1h-3zM16 14h4v1h-4zM14 15h1v1h-1zM25 15h5v1h-5zM11 16h3v1h-3zM25 16h15v1h-15zM11 17h2v1h-2zM25 17h15v1h-15zM11 18h3v1h-3zM25 18h15v1h-15zM14 19h2v1h-2zM26 19h3v1h-3zM35 19h5v1h-5zM19 20h2v1h-2zM36 20h4v1h-4zM20 21h1v1h-1zM36 21h4v1h-4zM20 22h1v1h-1zM36 22h4v1h-4zM20 23h2v1h-2zM36 23h4v1h-4zM35 24h5v1h-5zM29 25h7v1h-7z"/><path fill="#c0fc00" d="M14 0h2v1h-2zM19 0h1v1h-1zM25 0h1v1h-1zM14 1h2v1h-2zM19 1h1v1h-1zM25 1h1v1h-1zM11 2h2v1h-2zM14 2h2v1h-2zM19 2h1v1h-1zM25 2h1v1h-1zM14 3h1v1h-1zM19 3h1v1h-1zM25 3h1v1h-1zM20 4h5v1h-5zM10 5h3v1h-3zM10 6h1v1h-1zM10 7h1v1h-1zM10 8h1v1h-1zM14 9h1v1h-1zM16 10h3v1h-3zM20 11h1v1h-1zM20 12h4v1h-4zM20 13h10v1h-10zM20 14h10v1h-10zM15 15h10v1h-10zM30 15h10v1h-10zM14 16h2v1h-2zM20 16h5v1h-5zM13 17h2v1h-2zM20 17h5v1h-5zM14 18h2v1h-2zM20 18h5v1h-5zM16 19h10v1h-10zM29 19h6v1h-6zM21 20h4v1h-4zM35 20h1v1h-1zM21 21h3v1h-3zM35 21h1v1h-1zM21 22h3v1h-3zM35 22h1v1h-1zM22 23h3v1h-3zM35 23h1v1h-1zM25 24h2v1h-2zM34 24h1v1h-1z"/><path fill="#87fa00" d="M16 0h3v1h-3zM26 0h4v1h-4zM16 1h3v1h-3zM26 1h4v1h-4zM16 2h3v1h-3zM26 2h4v1h-4zM15 3h4v1h-4zM26 3h4v1h-4zM19 4h1v1h-1zM25 4h4v1h-4zM13 5h1v1h-1zM11 6h3v1h-3zM11 7h3v1h-3zM11 8h4v1h-4zM15 9h1v1h-1zM25 10h5v1h-5zM24 12h1v1h-1zM30 13h1v1h-1zM30 14h5v1h-5zM16 16h4v1h-4zM15 17h5v1h-5zM16 18h4v1h-4zM25 20h10v1h-10zM24 21h2v1h-2zM34 21h1v1h-1zM24 22h2v1h-2zM34 22h1v1h-1zM25 23h1v1h-1zM34 23h1v1h-1zM27 24h7v1h-7z"/><path fill="#32fc00" d="M30 0h5v1h-5zM30 1h5v1h-5zM30 2h5v1h-5zM30 3h5v1h-5zM16 4h3v1h-3zM29 4h6v1h-6zM20 5h14v1h-14zM14 6h1v1h-1zM26 6h7v1h-7zM14 7h1v1h-1zM27 7h6v1h-6zM26 8h7v1h-7zM16 9h2v1h-2zM22 9h12v1h-12zM19 10h1v1h-1zM24 10h1v1h-1zM30 10h5v1h-5zM21 11h1v1h-1zM31 13h4v1h-4zM35 14h5v1h-5zM26 21h8v1h-8zM26 22h8v1h-8zM26 23h8v1h-8z"/><path fill="#00ff00" d="M35 0h5v1h-5zM35 1h5v1h-5zM35 2h5v1h-5zM11 3h3v1h-3zM35 3h5v1h-5zM12 4h4v1h-4zM35 4h5v1h-5zM14 5h6v1h-6zM34 5h6v1h-6zM15 6h11v1h-11zM33 6h7v1h-7zM15 7h12v1h-12zM33 7h7v1h-7zM15 8h11v1h-11zM33 8h7v1h-7zM18 9h4v1h-4zM34 9h6v1h-6zM20 10h4v1h-4zM35 10h5v1h-5zM22 11h18v1h-18zM25 12h15v1h-15zM35 13h5v1h-5z"/><path fill="#ffbe00" d="M9 3h1v1h-1zM9 4h1v1h-1zM5 5h1v1h-1zM5 6h1v1h-1zM5 7h1v1h-1zM5 8h1v1h-1zM5 9h1v1h-1zM9 10h2v1h-2zM14 11h1v1h-1zM14 12h1v1h-1zM14 13h1v1h-1zM11 14h3v1h-3zM10 15h1v1h-1zM10 19h1v1h-1zM11 20h3v1h-3zM14 21h1v1h-1zM14 22h2v1h-2zM15 23h1v1h-1zM19 24h1v1h-1zM26 28h1v1h-1zM29 29h2v1h-2zM35 30h5v1h-5zM36 35h4v1h-4zM35 36h5v1h-5zM35 37h5v1h-5zM35 38h5v1h-5zM35 39h5v1h-5z"/><path fill="#ffdc00" d="M6 5h3v1h-3zM6 9h3v1h-3zM11 10h3v1h-3zM14 14h1v1h-1zM10 16h1v1h-1zM10 17h1v1h-1zM10 18h1v1h-1zM14 20h1v1h-1zM15 21h4v1h-4zM16 22h3v1h-3zM16 23h3v1h-3zM20 24h4v1h-4zM25 25h1v1h-1zM26 26h4v1h-4zM26 27h4v1h-4zM27 28h3v1h-3zM31 29h9v1h-9z"/><path fill="#ec0000" d="M0 25h3v1h-3zM4 27h1v1h-1zM4 28h1v1h-1zM0 29h4v1h-4zM0 30h3v1h-3z"/><path fill="#fa0000" d="M3 25h2v1h-2zM4 26h1v1h-1zM4 29h1v1h-1zM3 30h1v1h-1zM0 31h4v1h-4zM0 32h4v1h-4zM0 33h4v1h-4z"/><path fill="#da0000" d="M0 26h4v1h-4zM0 27h4v1h-4zM0 28h4v1h-4z"/>
</svg>
<svg x="1422.6" y="1727.8" width="338.4" height="299.5" viewBox="0 0 40 40" preserveAspectRatio="none">
<path d="M0.00 14.65 1.00 14.85 1.60 14.80 2.30 14.85 3.50 14.75 4.50 14.75 5.50 14.65 6.40 14.55 6.70 15.00 7.00 15.20 7.30 15.60 7.50 16.10 8.20 16.40 8.60 16.70 9.00 17.20 9.80 17.10 10.30 17.10 9.60 17.60 9.00 17.70 9.40 18.30 10.00 18.90 10.80 19.30 11.50 19.10 12.10 18.80 12.30 18.30 12.60 17.70 12.90 18.20 12.60 18.70 12.90 19.50 12.80 20.40 12.90 21.00 13.10 21.80 13.30 22.70 13.50 23.60 13.80 24.40 14.10 25.10 14.40 25.80 14.70 26.70 14.80 27.40 15.20 28.00 15.60 28.60 15.90 29.20 16.20 30.00 16.40 30.70 16.80 31.30 17.30 31.80 17.60 31.90 18.10 31.50 18.20 31.10 18.40 30.80 19.00 30.70 19.30 30.30 19.60 29.70 19.85 29.65 19.80 29.00 19.80 28.40 20.10 27.60 20.30 26.70 20.20 26.00 20.10 25.30 20.20 24.60 20.50 24.10 21.00 23.80 21.50 23.60 22.20 23.40 22.30 23.00 22.90 22.70 23.50 22.20 24.10 21.70 24.70 21.00 25.20 20.50 25.90 20.20 26.40 20.00 26.90 19.40 27.00 18.80 27.20 18.50 27.90 18.30 28.30 18.40 28.80 18.40 29.20 18.30 29.80 18.10 30.30 18.10 30.70 17.70 31.00 17.30 31.50 17.40 31.90 18.00 32.00 18.70 32.30 19.30 32.70 19.80 33.10 20.10 33.60 20.70 33.90 21.20 34.30 21.80 34.50 22.60 34.60 23.40 34.30 24.00 34.80 24.20 35.30 24.30 35.90 24.00 36.40 23.60 36.90 23.00 37.40 23.40 37.70 24.00 37.80 25.00 38.00 25.80 38.30 26.60 38.60 27.50 38.70 28.40 38.50 29.40 38.30 30.40 38.40 31.40 38.30 32.00 38.70 32.10 39.10 32.60 39.60 33.10 40.00 33.50M40.00 26.50 39.80 27.40 39.50 28.40 39.20 29.40 39.20 30.40 39.80 30.80 40.00 31.00M19.90 30.20 20.30 30.20 20.80 30.80 21.20 31.50 21.40 32.00 21.80 32.60 21.90 33.20 21.60 33.60 21.10 33.90 20.60 34.05 20.10 33.80 19.90 33.20 19.80 32.40 19.80 31.80 19.90 31.10 19.70 30.50 19.90 30.20M35.30 34.40 36.00 34.70 36.80 34.80 37.50 34.80 38.00 35.40 38.60 36.10 39.30 36.70 40.00 37.20M35.30 34.40 35.20 34.90 35.60 35.40 36.20 36.00 36.90 36.60 37.60 37.30 38.30 38.00 38.90 38.50 39.30 39.20 39.70 40.00" fill="none" stroke="#111" stroke-width="1.1" vector-effect="non-scaling-stroke" stroke-linejoin="round"/>
<path d="M1.00 0.00 2.30 0.60 3.60 1.10 4.60 1.70 5.70 2.20 6.50 2.60M1.20 4.40 2.30 4.70 3.10 4.10 4.50 3.70 5.60 2.80 6.60 2.60 7.80 2.80 8.90 2.70 9.50 2.40 10.30 2.00 11.40 2.10 11.60 2.90 12.60 3.00 13.80 2.60 14.90 2.80M1.20 4.40 0.70 5.60 0.90 6.50 0.60 7.50 1.30 8.60 1.70 8.70 0.90 10.20 1.40 10.60 1.80 11.40 2.60 11.70 2.80 12.70 3.30 12.90 3.20 13.40 2.30 13.60 1.80 14.10 1.60 14.80M0.90 10.20 2.50 10.60 4.00 10.50 5.00 10.40 6.30 10.10 6.50 9.00 7.80 8.50 8.80 8.30 9.30 8.00 9.50 7.00 10.00 6.20 11.10 5.70 11.50 5.00 11.50 4.00 12.40 3.40 13.60 3.10 14.90 2.80M8.40 16.30 9.30 15.80 10.50 15.70 11.00 15.40 10.80 14.60 10.30 14.20 10.00 13.50 9.60 12.90 10.30 12.10 11.30 12.10 12.00 11.80 12.90 11.00 13.40 10.10 13.90 9.60 14.60 9.00 14.60 8.10 15.00 7.50 14.40 6.90 14.00 6.50 14.00 5.90 13.90 5.40 14.70 5.00 15.80 4.60 17.00 4.50M14.90 2.80 15.20 3.20 16.20 3.90 17.00 4.50 18.10 4.50 19.00 5.60 18.70 6.50 18.90 7.60 18.60 8.20 19.30 9.00 20.20 9.40 21.00 9.80M20.20 9.60 21.10 9.90 22.10 9.70 23.30 10.50 24.20 10.80 25.10 11.30 26.00 12.00 27.00 12.10 28.10 12.10M20.10 10.00 20.10 11.20 21.00 11.60 22.00 12.10 23.30 12.60 24.50 12.60 25.20 13.20 26.00 13.40 27.20 13.60 28.10 13.50 28.10 12.10M28.10 12.10 28.80 11.90 29.50 11.80 30.50 12.00 31.60 12.10 32.50 12.10 33.40 11.50 34.30 10.90 35.30 10.90 36.20 10.60 36.80 11.40 37.30 11.80M28.80 12.90 29.80 13.30 31.00 13.20 32.10 13.10 32.00 12.50 31.60 12.10M37.30 11.80 38.40 12.40 38.70 13.60 37.80 14.70 37.60 16.00 38.80 15.90 39.50 17.10 39.90 18.00 40.00 18.20M37.30 11.80 37.00 12.40 36.00 12.80 35.20 13.40 34.60 14.60 34.20 16.00 33.40 16.30 33.20 17.70 32.70 18.00 32.60 18.70M28.10 13.50 28.50 14.00 29.80 14.00 29.90 14.70 31.00 14.80 32.00 14.80 32.40 15.20 32.20 16.00 31.90 16.30 31.60 17.00 31.90 18.00M28.50 14.00 28.10 14.40 28.80 15.00 28.50 15.70 28.80 16.50 28.90 17.40 29.00 18.20M32.20 16.00 32.40 17.00 32.60 18.00M40.00 19.80 38.90 20.30 37.80 21.40 37.60 23.00 38.60 23.80 38.20 24.80 39.10 26.00 39.20 27.10 39.40 29.00 38.80 29.60 38.60 30.00M40.00 18.20 40.00 19.80" fill="none" stroke="#222" stroke-width="0.9" vector-effect="non-scaling-stroke" stroke-linejoin="round"/>
<path d="M32.70 26.50 32.90 27.20 32.80 28.00 32.60 28.60 32.60 29.10M33.50 30.80 33.40 31.10M33.80 32.70 33.90 33.10M36.00 37.10 36.50 37.60M37.20 38.50 37.70 39.10" fill="none" stroke="#111" stroke-width="1.8" stroke-dasharray="3 2" vector-effect="non-scaling-stroke"/>
</svg>
<polygon points="1587.57,1800.67 1589.29,1804.80 1593.75,1805.16 1590.35,1808.07 1591.39,1812.43 1587.57,1810.09 1583.75,1812.43 1584.79,1808.07 1581.39,1805.16 1585.85,1804.80" fill="#fff"/>
<rect x="1422.6" y="1727.8" width="338.4" height="299.5" fill="none" stroke="#000" stroke-width="2.6"/>
<path d="M1422.6 2027.3v9.5M1422.6 2027.3h-9.5M1464.9 2027.3v5.5M1422.6 1989.9h-5.5M1507.2 2027.3v9.5M1422.6 1952.4h-9.5M1549.5 2027.3v5.5M1422.6 1915.0h-5.5M1591.8 2027.3v9.5M1422.6 1877.5h-9.5M1634.1 2027.3v5.5M1422.6 1840.1h-5.5M1676.4 2027.3v9.5M1422.6 1802.7h-9.5M1718.7 2027.3v5.5M1422.6 1765.2h-5.5M1761.0 2027.3v9.5M1422.6 1727.8h-9.5" stroke="#000" stroke-width="2.4" fill="none"/>
<text x="1422.6" y="2060.8" text-anchor="middle" font-size="25.5" textLength="26.5" lengthAdjust="spacingAndGlyphs">60</text>
<text x="1507.2" y="2060.8" text-anchor="middle" font-size="25.5" textLength="26.5" lengthAdjust="spacingAndGlyphs">70</text>
<text x="1591.8" y="2060.8" text-anchor="middle" font-size="25.5" textLength="26.5" lengthAdjust="spacingAndGlyphs">80</text>
<text x="1676.4" y="2060.8" text-anchor="middle" font-size="25.5" textLength="26.5" lengthAdjust="spacingAndGlyphs">90</text>
<text x="1761.0" y="2060.8" text-anchor="middle" font-size="25.5" textLength="39.8" lengthAdjust="spacingAndGlyphs">100</text>
<text x="1408.1" y="2036.1" text-anchor="end" font-size="25.5">0</text>
<text x="1408.1" y="1961.2" text-anchor="end" font-size="25.5">10</text>
<text x="1408.1" y="1886.3" text-anchor="end" font-size="25.5">20</text>
<text x="1408.1" y="1811.5" text-anchor="end" font-size="25.5">30</text>
<text x="1408.1" y="1736.6" text-anchor="end" font-size="25.5">40</text>
<text x="1423.8" y="1717.4" font-size="25.0" textLength="76.7" lengthAdjust="spacingAndGlyphs">August</text>
<svg x="195.0" y="2099.6" width="344.3" height="276.2" viewBox="0 0 40 40" preserveAspectRatio="none" shape-rendering="crispEdges">
<path fill="#ffdc00" d="M0 0h5v1h-5zM0 1h5v1h-5zM0 2h5v1h-5zM0 3h5v1h-5zM5 4h4v1h-4zM9 6h1v1h-1zM9 7h1v1h-1zM9 8h1v1h-1zM9 9h1v1h-1zM5 10h1v1h-1zM4 11h1v1h-1zM11 11h3v1h-3zM4 12h1v1h-1zM11 12h3v1h-3zM10 13h4v1h-4zM8 14h6v1h-6zM31 16h3v1h-3zM31 17h4v1h-4zM31 18h4v1h-4zM11 19h3v1h-3zM15 21h1v1h-1zM15 22h1v1h-1zM15 23h1v1h-1zM19 24h5v1h-5zM25 25h1v1h-1zM29 26h1v1h-1zM29 27h2v1h-2zM30 28h1v1h-1zM31 29h9v1h-9zM31 35h4v1h-4zM30 36h1v1h-1zM34 36h1v1h-1z"/><path fill="#fff300" d="M5 0h4v1h-4zM5 1h4v1h-4zM5 2h4v1h-4zM5 3h4v1h-4zM9 5h1v1h-1zM6 10h5v1h-5zM5 11h1v1h-1zM9 11h2v1h-2zM14 11h1v1h-1zM5 12h1v1h-1zM9 12h2v1h-2zM14 12h1v1h-1zM5 13h1v1h-1zM9 13h1v1h-1zM14 13h1v1h-1zM14 14h1v1h-1zM11 15h4v1h-4zM11 16h3v1h-3zM30 16h1v1h-1zM34 16h6v1h-6zM11 17h3v1h-3zM30 17h1v1h-1zM35 17h5v1h-5zM11 18h4v1h-4zM30 18h1v1h-1zM35 18h5v1h-5zM14 19h1v1h-1zM31 19h9v1h-9zM15 20h2v1h-2zM16 21h4v1h-4zM16 22h4v1h-4zM16 23h5v1h-5zM24 24h1v1h-1zM26 25h4v1h-4zM36 25h4v1h-4zM30 26h10v1h-10zM31 27h9v1h-9zM31 28h9v1h-9zM31 36h3v1h-3zM30 37h5v1h-5zM30 38h5v1h-5zM30 39h5v1h-5z"/><path fill="#ebff00" d="M9 0h1v1h-1zM26 0h3v1h-3zM9 1h1v1h-1zM26 1h3v1h-3zM9 2h1v1h-1zM26 2h3v1h-3zM9 3h1v1h-1zM26 3h3v1h-3zM9 4h1v1h-1zM11 10h4v1h-4zM6 11h3v1h-3zM15 11h1v1h-1zM6 12h3v1h-3zM15 12h1v1h-1zM6 13h3v1h-3zM15 13h1v1h-1zM15 14h1v1h-1zM15 15h1v1h-1zM30 15h6v1h-6zM14 16h2v1h-2zM29 16h1v1h-1zM14 17h2v1h-2zM29 17h1v1h-1zM15 18h1v1h-1zM29 18h1v1h-1zM15 19h4v1h-4zM30 19h1v1h-1zM17 20h7v1h-7zM35 20h5v1h-5zM20 21h4v1h-4zM36 21h4v1h-4zM20 22h4v1h-4zM36 22h4v1h-4zM21 23h3v1h-3zM36 23h4v1h-4zM25 24h1v1h-1zM35 24h5v1h-5zM30 25h6v1h-6z"/><path fill="#87fa00" d="M10 0h1v1h-1zM24 0h1v1h-1zM30 0h1v1h-1zM10 1h1v1h-1zM24 1h1v1h-1zM30 1h1v1h-1zM10 2h1v1h-1zM24 2h1v1h-1zM30 2h1v1h-1zM10 3h1v1h-1zM24 3h1v1h-1zM30 3h1v1h-1zM10 4h1v1h-1zM25 4h1v1h-1zM29 4h1v1h-1zM10 5h1v1h-1zM17 5h2v1h-2zM19 6h1v1h-1zM15 7h2v1h-2zM19 7h1v1h-1zM15 8h1v1h-1zM11 9h4v1h-4zM19 11h2v1h-2zM19 12h2v1h-2zM19 13h2v1h-2zM25 13h5v1h-5zM20 14h14v1h-14zM21 15h3v1h-3zM26 19h2v1h-2zM25 20h9v1h-9zM25 21h1v1h-1zM34 21h1v1h-1zM25 22h1v1h-1zM34 22h1v1h-1zM25 23h1v1h-1zM34 23h1v1h-1zM30 24h4v1h-4z"/><path fill="#32fc00" d="M11 0h4v1h-4zM20 0h4v1h-4zM31 0h4v1h-4zM11 1h4v1h-4zM20 1h4v1h-4zM31 1h4v1h-4zM11 2h4v1h-4zM20 2h4v1h-4zM31 2h4v1h-4zM14 3h1v1h-1zM20 3h4v1h-4zM31 3h4v1h-4zM11 4h1v1h-1zM16 4h5v1h-5zM23 4h2v1h-2zM30 4h1v1h-1zM11 5h3v1h-3zM19 5h1v1h-1zM11 6h4v1h-4zM11 7h4v1h-4zM11 8h4v1h-4zM17 8h1v1h-1zM19 10h1v1h-1zM25 10h5v1h-5zM21 12h3v1h-3zM21 13h4v1h-4zM30 13h1v1h-1zM34 14h6v1h-6zM26 21h8v1h-8zM26 22h8v1h-8zM26 23h8v1h-8z"/><path fill="#00ff00" d="M15 0h5v1h-5zM35 0h5v1h-5zM15 1h5v1h-5zM35 1h5v1h-5zM15 2h5v1h-5zM35 2h5v1h-5zM11 3h3v1h-3zM15 3h5v1h-5zM35 3h5v1h-5zM12 4h4v1h-4zM21 4h2v1h-2zM31 4h9v1h-9zM14 5h3v1h-3zM20 5h20v1h-20zM15 6h3v1h-3zM20 6h20v1h-20zM17 7h2v1h-2zM20 7h20v1h-20zM18 8h22v1h-22zM18 9h22v1h-22zM20 10h5v1h-5zM30 10h10v1h-10zM21 11h19v1h-19zM24 12h16v1h-16zM31 13h9v1h-9z"/><path fill="#c0fc00" d="M25 0h1v1h-1zM29 0h1v1h-1zM25 1h1v1h-1zM29 1h1v1h-1zM25 2h1v1h-1zM29 2h1v1h-1zM25 3h1v1h-1zM29 3h1v1h-1zM26 4h3v1h-3zM10 6h1v1h-1zM18 6h1v1h-1zM10 7h1v1h-1zM10 8h1v1h-1zM16 8h1v1h-1zM10 9h1v1h-1zM15 9h3v1h-3zM15 10h4v1h-4zM16 11h3v1h-3zM16 12h3v1h-3zM16 13h3v1h-3zM16 14h4v1h-4zM16 15h5v1h-5zM24 15h6v1h-6zM36 15h4v1h-4zM16 16h13v1h-13zM16 17h13v1h-13zM16 18h13v1h-13zM19 19h7v1h-7zM28 19h2v1h-2zM24 20h1v1h-1zM34 20h1v1h-1zM24 21h1v1h-1zM35 21h1v1h-1zM24 22h1v1h-1zM35 22h1v1h-1zM24 23h1v1h-1zM35 23h1v1h-1zM26 24h4v1h-4zM34 24h1v1h-1z"/><path fill="#ffbe00" d="M0 4h5v1h-5zM6 5h3v1h-3zM6 9h3v1h-3zM4 10h1v1h-1zM0 11h4v1h-4zM0 12h4v1h-4zM0 13h5v1h-5zM5 14h3v1h-3zM10 15h1v1h-1zM10 16h1v1h-1zM10 17h1v1h-1zM10 18h1v1h-1zM14 20h1v1h-1zM16 24h3v1h-3zM24 25h1v1h-1zM26 26h3v1h-3zM26 27h3v1h-3zM26 28h4v1h-4zM30 29h1v1h-1zM32 34h2v1h-2zM30 35h1v1h-1zM29 36h1v1h-1zM35 36h1v1h-1zM29 37h1v1h-1zM35 37h1v1h-1zM29 38h1v1h-1zM35 38h1v1h-1zM29 39h1v1h-1zM35 39h1v1h-1z"/><path fill="#ff6e00" d="M0 5h4v1h-4zM4 6h1v1h-1zM4 7h2v1h-2zM4 8h1v1h-1zM0 9h5v1h-5zM4 14h1v1h-1zM9 15h1v1h-1zM10 20h1v1h-1zM11 21h3v1h-3zM11 22h3v1h-3zM11 23h3v1h-3zM14 24h1v1h-1zM16 25h5v1h-5zM24 26h1v1h-1zM24 27h1v1h-1zM24 28h1v1h-1zM25 29h4v1h-4zM30 30h1v1h-1zM7 31h2v1h-2zM31 31h1v1h-1zM35 31h5v1h-5zM6 32h3v1h-3zM31 32h1v1h-1zM33 32h7v1h-7zM6 33h3v1h-3zM31 33h1v1h-1zM34 33h6v1h-6zM6 34h3v1h-3zM30 34h1v1h-1zM36 34h4v1h-4zM6 35h4v1h-4zM27 35h2v1h-2zM6 36h8v1h-8zM25 36h1v1h-1zM6 37h8v1h-8zM25 37h1v1h-1zM6 38h8v1h-8zM25 38h1v1h-1zM6 39h8v1h-8zM25 39h1v1h-1z"/><path fill="#ff9600" d="M4 5h2v1h-2zM5 6h4v1h-4zM6 7h3v1h-3zM5 8h4v1h-4zM5 9h1v1h-1zM0 10h4v1h-4zM10 19h1v1h-1zM11 20h3v1h-3zM14 21h1v1h-1zM14 22h1v1h-1zM14 23h1v1h-1zM15 24h1v1h-1zM21 25h3v1h-3zM25 26h1v1h-1zM25 27h1v1h-1zM25 28h1v1h-1zM29 29h1v1h-1zM31 30h9v1h-9zM32 31h3v1h-3zM32 32h1v1h-1zM32 33h2v1h-2zM31 34h1v1h-1zM34 34h2v1h-2zM29 35h1v1h-1zM35 35h5v1h-5zM26 36h3v1h-3zM36 36h4v1h-4zM26 37h3v1h-3zM36 37h4v1h-4zM26 38h3v1h-3zM36 38h4v1h-4zM26 39h3v1h-3zM36 39h4v1h-4z"/><path fill="#ff3c00" d="M0 6h4v1h-4zM0 7h4v1h-4zM0 8h4v1h-4zM0 14h4v1h-4zM7 15h2v1h-2zM10 21h1v1h-1zM10 22h1v1h-1zM10 23h1v1h-1zM12 24h2v1h-2zM15 25h1v1h-1zM19 26h5v1h-5zM20 27h4v1h-4zM20 28h4v1h-4zM29 30h1v1h-1zM6 31h1v1h-1zM9 31h1v1h-1zM30 31h1v1h-1zM9 32h1v1h-1zM30 32h1v1h-1zM9 33h1v1h-1zM30 33h1v1h-1zM9 34h1v1h-1zM29 34h1v1h-1zM10 35h4v1h-4zM25 35h2v1h-2zM14 36h1v1h-1zM24 36h1v1h-1zM14 37h1v1h-1zM24 37h1v1h-1zM14 38h1v1h-1zM24 38h1v1h-1zM14 39h1v1h-1zM24 39h1v1h-1z"/><path fill="#ff0000" d="M0 15h7v1h-7zM0 16h10v1h-10zM0 17h10v1h-10zM0 18h10v1h-10zM0 19h10v1h-10zM0 20h10v1h-10zM0 21h10v1h-10zM0 22h10v1h-10zM0 23h10v1h-10zM0 24h12v1h-12zM0 25h15v1h-15zM0 26h19v1h-19zM0 27h20v1h-20zM0 28h20v1h-20zM0 29h25v1h-25zM0 30h29v1h-29zM0 31h6v1h-6zM10 31h20v1h-20zM0 32h6v1h-6zM10 32h20v1h-20zM0 33h6v1h-6zM10 33h20v1h-20zM0 34h6v1h-6zM10 34h19v1h-19zM0 35h6v1h-6zM14 35h11v1h-11zM0 36h6v1h-6zM15 36h9v1h-9zM0 37h6v1h-6zM15 37h9v1h-9zM0 38h6v1h-6zM15 38h9v1h-9zM0 39h6v1h-6zM15 39h9v1h-9z"/>
</svg>
<svg x="195.0" y="2099.6" width="344.3" height="276.2" viewBox="0 0 40 40" preserveAspectRatio="none">
<path d="M0.00 14.65 1.00 14.85 1.60 14.80 2.30 14.85 3.50 14.75 4.50 14.75 5.50 14.65 6.40 14.55 6.70 15.00 7.00 15.20 7.30 15.60 7.50 16.10 8.20 16.40 8.60 16.70 9.00 17.20 9.80 17.10 10.30 17.10 9.60 17.60 9.00 17.70 9.40 18.30 10.00 18.90 10.80 19.30 11.50 19.10 12.10 18.80 12.30 18.30 12.60 17.70 12.90 18.20 12.60 18.70 12.90 19.50 12.80 20.40 12.90 21.00 13.10 21.80 13.30 22.70 13.50 23.60 13.80 24.40 14.10 25.10 14.40 25.80 14.70 26.70 14.80 27.40 15.20 28.00 15.60 28.60 15.90 29.20 16.20 30.00 16.40 30.70 16.80 31.30 17.30 31.80 17.60 31.90 18.10 31.50 18.20 31.10 18.40 30.80 19.00 30.70 19.30 30.30 19.60 29.70 19.85 29.65 19.80 29.00 19.80 28.40 20.10 27.60 20.30 26.70 20.20 26.00 20.10 25.30 20.20 24.60 20.50 24.10 21.00 23.80 21.50 23.60 22.20 23.40 22.30 23.00 22.90 22.70 23.50 22.20 24.10 21.70 24.70 21.00 25.20 20.50 25.90 20.20 26.40 20.00 26.90 19.40 27.00 18.80 27.20 18.50 27.90 18.30 28.30 18.40 28.80 18.40 29.20 18.30 29.80 18.10 30.30 18.10 30.70 17.70 31.00 17.30 31.50 17.40 31.90 18.00 32.00 18.70 32.30 19.30 32.70 19.80 33.10 20.10 33.60 20.70 33.90 21.20 34.30 21.80 34.50 22.60 34.60 23.40 34.30 24.00 34.80 24.20 35.30 24.30 35.90 24.00 36.40 23.60 36.90 23.00 37.40 23.40 37.70 24.00 37.80 25.00 38.00 25.80 38.30 26.60 38.60 27.50 38.70 28.40 38.50 29.40 38.30 30.40 38.40 31.40 38.30 32.00 38.70 32.10 39.10 32.60 39.60 33.10 40.00 33.50M40.00 26.50 39.80 27.40 39.50 28.40 39.20 29.40 39.20 30.40 39.80 30.80 40.00 31.00M19.90 30.20 20.30 30.20 20.80 30.80 21.20 31.50 21.40 32.00 21.80 32.60 21.90 33.20 21.60 33.60 21.10 33.90 20.60 34.05 20.10 33.80 19.90 33.20 19.80 32.40 19.80 31.80 19.90 31.10 19.70 30.50 19.90 30.20M35.30 34.40 36.00 34.70 36.80 34.80 37.50 34.80 38.00 35.40 38.60 36.10 39.30 36.70 40.00 37.20M35.30 34.40 35.20 34.90 35.60 35.40 36.20 36.00 36.90 36.60 37.60 37.30 38.30 38.00 38.90 38.50 39.30 39.20 39.70 40.00" fill="none" stroke="#111" stroke-width="1.1" vector-effect="non-scaling-stroke" stroke-linejoin="round"/>
<path d="M1.00 0.00 2.30 0.60 3.60 1.10 4.60 1.70 5.70 2.20 6.50 2.60M1.20 4.40 2.30 4.70 3.10 4.10 4.50 3.70 5.60 2.80 6.60 2.60 7.80 2.80 8.90 2.70 9.50 2.40 10.30 2.00 11.40 2.10 11.60 2.90 12.60 3.00 13.80 2.60 14.90 2.80M1.20 4.40 0.70 5.60 0.90 6.50 0.60 7.50 1.30 8.60 1.70 8.70 0.90 10.20 1.40 10.60 1.80 11.40 2.60 11.70 2.80 12.70 3.30 12.90 3.20 13.40 2.30 13.60 1.80 14.10 1.60 14.80M0.90 10.20 2.50 10.60 4.00 10.50 5.00 10.40 6.30 10.10 6.50 9.00 7.80 8.50 8.80 8.30 9.30 8.00 9.50 7.00 10.00 6.20 11.10 5.70 11.50 5.00 11.50 4.00 12.40 3.40 13.60 3.10 14.90 2.80M8.40 16.30 9.30 15.80 10.50 15.70 11.00 15.40 10.80 14.60 10.30 14.20 10.00 13.50 9.60 12.90 10.30 12.10 11.30 12.10 12.00 11.80 12.90 11.00 13.40 10.10 13.90 9.60 14.60 9.00 14.60 8.10 15.00 7.50 14.40 6.90 14.00 6.50 14.00 5.90 13.90 5.40 14.70 5.00 15.80 4.60 17.00 4.50M14.90 2.80 15.20 3.20 16.20 3.90 17.00 4.50 18.10 4.50 19.00 5.60 18.70 6.50 18.90 7.60 18.60 8.20 19.30 9.00 20.20 9.40 21.00 9.80M20.20 9.60 21.10 9.90 22.10 9.70 23.30 10.50 24.20 10.80 25.10 11.30 26.00 12.00 27.00 12.10 28.10 12.10M20.10 10.00 20.10 11.20 21.00 11.60 22.00 12.10 23.30 12.60 24.50 12.60 25.20 13.20 26.00 13.40 27.20 13.60 28.10 13.50 28.10 12.10M28.10 12.10 28.80 11.90 29.50 11.80 30.50 12.00 31.60 12.10 32.50 12.10 33.40 11.50 34.30 10.90 35.30 10.90 36.20 10.60 36.80 11.40 37.30 11.80M28.80 12.90 29.80 13.30 31.00 13.20 32.10 13.10 32.00 12.50 31.60 12.10M37.30 11.80 38.40 12.40 38.70 13.60 37.80 14.70 37.60 16.00 38.80 15.90 39.50 17.10 39.90 18.00 40.00 18.20M37.30 11.80 37.00 12.40 36.00 12.80 35.20 13.40 34.60 14.60 34.20 16.00 33.40 16.30 33.20 17.70 32.70 18.00 32.60 18.70M28.10 13.50 28.50 14.00 29.80 14.00 29.90 14.70 31.00 14.80 32.00 14.80 32.40 15.20 32.20 16.00 31.90 16.30 31.60 17.00 31.90 18.00M28.50 14.00 28.10 14.40 28.80 15.00 28.50 15.70 28.80 16.50 28.90 17.40 29.00 18.20M32.20 16.00 32.40 17.00 32.60 18.00M40.00 19.80 38.90 20.30 37.80 21.40 37.60 23.00 38.60 23.80 38.20 24.80 39.10 26.00 39.20 27.10 39.40 29.00 38.80 29.60 38.60 30.00M40.00 18.20 40.00 19.80" fill="none" stroke="#222" stroke-width="0.9" vector-effect="non-scaling-stroke" stroke-linejoin="round"/>
<path d="M32.70 26.50 32.90 27.20 32.80 28.00 32.60 28.60 32.60 29.10M33.50 30.80 33.40 31.10M33.80 32.70 33.90 33.10M36.00 37.10 36.50 37.60M37.20 38.50 37.70 39.10" fill="none" stroke="#111" stroke-width="1.8" stroke-dasharray="3 2" vector-effect="non-scaling-stroke"/>
</svg>
<polygon points="362.85,2166.29 364.57,2170.43 369.03,2170.78 365.63,2173.70 366.67,2178.05 362.85,2175.72 359.03,2178.05 360.06,2173.70 356.66,2170.78 361.13,2170.43" fill="#fff"/>
<rect x="195.0" y="2099.6" width="344.3" height="276.2" fill="none" stroke="#000" stroke-width="2.6"/>
<path d="M195.0 2375.8v9.5M195.0 2375.8h-9.5M238.0 2375.8v5.5M195.0 2341.3h-5.5M281.1 2375.8v9.5M195.0 2306.8h-9.5M324.1 2375.8v5.5M195.0 2272.2h-5.5M367.1 2375.8v9.5M195.0 2237.7h-9.5M410.2 2375.8v5.5M195.0 2203.2h-5.5M453.2 2375.8v9.5M195.0 2168.7h-9.5M496.3 2375.8v5.5M195.0 2134.1h-5.5M539.3 2375.8v9.5M195.0 2099.6h-9.5" stroke="#000" stroke-width="2.4" fill="none"/>
<text x="195.0" y="2409.3" text-anchor="middle" font-size="25.5" textLength="26.5" lengthAdjust="spacingAndGlyphs">60</text>
<text x="281.1" y="2409.3" text-anchor="middle" font-size="25.5" textLength="26.5" lengthAdjust="spacingAndGlyphs">70</text>
<text x="367.1" y="2409.3" text-anchor="middle" font-size="25.5" textLength="26.5" lengthAdjust="spacingAndGlyphs">80</text>
<text x="453.2" y="2409.3" text-anchor="middle" font-size="25.5" textLength="26.5" lengthAdjust="spacingAndGlyphs">90</text>
<text x="539.3" y="2409.3" text-anchor="middle" font-size="25.5" textLength="39.8" lengthAdjust="spacingAndGlyphs">100</text>
<text x="180.5" y="2384.6" text-anchor="end" font-size="25.5">0</text>
<text x="180.5" y="2315.6" text-anchor="end" font-size="25.5">10</text>
<text x="180.5" y="2246.5" text-anchor="end" font-size="25.5">20</text>
<text x="180.5" y="2177.5" text-anchor="end" font-size="25.5">30</text>
<text x="180.5" y="2108.4" text-anchor="end" font-size="25.5">40</text>
<text x="194.5" y="2089.0" font-size="25.0" textLength="118.3" lengthAdjust="spacingAndGlyphs">September</text>
<svg x="600.9" y="2101.5" width="353.3" height="276.7" viewBox="0 0 40 40" preserveAspectRatio="none" shape-rendering="crispEdges">
<path fill="#32fc00" d="M0 0h5v1h-5zM15 0h4v1h-4zM0 1h5v1h-5zM15 1h4v1h-4zM0 2h5v1h-5zM15 2h4v1h-4zM0 3h5v1h-5zM15 3h4v1h-4zM5 4h1v1h-1zM9 4h3v1h-3zM18 4h1v1h-1zM36 4h4v1h-4zM6 5h4v1h-4zM19 5h1v1h-1zM28 5h2v1h-2zM6 6h3v1h-3zM19 6h1v1h-1zM25 6h1v1h-1zM6 7h3v1h-3zM6 8h3v1h-3zM15 8h1v1h-1zM25 8h1v1h-1zM16 9h2v1h-2zM26 9h1v1h-1zM0 11h4v1h-4zM0 12h4v1h-4zM30 14h1v1h-1zM30 15h1v1h-1zM30 16h1v1h-1zM35 16h5v1h-5zM30 17h1v1h-1zM35 17h5v1h-5zM30 18h1v1h-1zM35 18h5v1h-5zM31 19h5v1h-5zM32 20h1v1h-1z"/><path fill="#00ff00" d="M5 0h10v1h-10zM5 1h10v1h-10zM5 2h10v1h-10zM5 3h10v1h-10zM6 4h3v1h-3zM12 4h6v1h-6zM14 5h5v1h-5zM30 5h10v1h-10zM15 6h4v1h-4zM26 6h14v1h-14zM15 7h5v1h-5zM25 7h15v1h-15zM16 8h4v1h-4zM26 8h14v1h-14zM18 9h3v1h-3zM27 9h13v1h-13zM20 10h4v1h-4zM30 10h10v1h-10zM22 11h10v1h-10zM38 11h2v1h-2zM25 12h7v1h-7zM34 12h2v1h-2zM30 13h9v1h-9zM31 14h9v1h-9zM31 15h9v1h-9zM31 16h4v1h-4zM31 17h4v1h-4zM31 18h4v1h-4z"/><path fill="#c0fc00" d="M19 0h1v1h-1zM35 0h1v1h-1zM19 1h1v1h-1zM35 1h1v1h-1zM19 2h1v1h-1zM35 2h1v1h-1zM19 3h1v1h-1zM35 3h1v1h-1zM31 4h4v1h-4zM3 5h2v1h-2zM11 5h2v1h-2zM25 5h1v1h-1zM4 6h1v1h-1zM10 6h1v1h-1zM14 6h1v1h-1zM20 6h1v1h-1zM24 6h1v1h-1zM10 7h1v1h-1zM14 7h1v1h-1zM20 7h1v1h-1zM24 7h1v1h-1zM4 8h1v1h-1zM10 8h1v1h-1zM14 8h1v1h-1zM20 8h1v1h-1zM24 8h1v1h-1zM3 9h3v1h-3zM9 9h1v1h-1zM15 9h1v1h-1zM21 9h1v1h-1zM4 10h2v1h-2zM24 10h1v1h-1zM26 10h2v1h-2zM21 11h1v1h-1zM4 13h1v1h-1zM29 13h1v1h-1zM29 14h1v1h-1zM29 15h1v1h-1zM29 16h1v1h-1zM29 17h1v1h-1zM29 18h1v1h-1zM29 19h1v1h-1zM27 20h3v1h-3zM35 20h5v1h-5zM26 21h4v1h-4zM35 21h1v1h-1zM26 22h4v1h-4zM34 22h2v1h-2zM26 23h4v1h-4zM34 23h1v1h-1zM31 24h3v1h-3z"/><path fill="#ffbe00" d="M20 0h1v1h-1zM29 0h1v1h-1zM20 1h1v1h-1zM29 1h1v1h-1zM20 2h1v1h-1zM29 2h1v1h-1zM20 3h1v1h-1zM29 3h1v1h-1zM21 4h1v1h-1zM24 4h1v1h-1zM16 11h5v1h-5zM9 12h1v1h-1zM16 12h8v1h-8zM9 13h1v1h-1zM16 13h8v1h-8zM4 14h1v1h-1zM16 14h8v1h-8zM16 15h1v1h-1zM16 19h1v1h-1zM16 20h8v1h-8zM16 21h8v1h-8zM16 22h8v1h-8zM16 23h8v1h-8zM16 24h8v1h-8zM20 25h10v1h-10zM20 26h5v1h-5zM30 26h1v1h-1zM20 27h4v1h-4zM30 27h1v1h-1zM20 28h4v1h-4zM30 28h1v1h-1zM21 29h2v1h-2zM31 29h9v1h-9zM36 30h4v1h-4z"/><path fill="#ff6e00" d="M21 0h4v1h-4zM21 1h4v1h-4zM21 2h4v1h-4zM22 3h2v1h-2zM11 10h3v1h-3zM10 11h1v1h-1zM10 12h1v1h-1zM9 14h1v1h-1zM14 25h1v1h-1zM11 26h4v1h-4zM26 26h3v1h-3zM11 27h4v1h-4zM26 27h3v1h-3zM11 28h4v1h-4zM25 28h4v1h-4zM11 29h8v1h-8zM25 29h2v1h-2zM28 29h2v1h-2zM0 30h3v1h-3zM11 30h9v1h-9zM24 30h1v1h-1zM30 30h1v1h-1zM0 31h5v1h-5zM10 31h5v1h-5zM20 31h1v1h-1zM23 31h2v1h-2zM30 31h5v1h-5zM0 32h5v1h-5zM10 32h5v1h-5zM20 32h5v1h-5zM31 32h4v1h-4zM0 33h5v1h-5zM10 33h5v1h-5zM20 33h5v1h-5zM31 33h4v1h-4zM0 34h5v1h-5zM10 34h5v1h-5zM20 34h5v1h-5zM30 34h5v1h-5zM6 35h4v1h-4zM29 35h2v1h-2zM35 35h5v1h-5zM6 36h4v1h-4zM25 36h5v1h-5zM35 36h5v1h-5zM6 37h4v1h-4zM25 37h5v1h-5zM35 37h5v1h-5zM6 38h4v1h-4zM25 38h5v1h-5zM35 38h5v1h-5zM6 39h4v1h-4zM25 39h5v1h-5zM35 39h5v1h-5z"/><path fill="#ff9600" d="M25 0h4v1h-4zM25 1h4v1h-4zM25 2h4v1h-4zM21 3h1v1h-1zM24 3h5v1h-5zM22 4h2v1h-2zM10 10h1v1h-1zM14 10h1v1h-1zM15 11h1v1h-1zM15 12h1v1h-1zM15 13h1v1h-1zM5 14h4v1h-4zM15 14h1v1h-1zM15 15h1v1h-1zM15 16h1v1h-1zM15 17h1v1h-1zM15 18h1v1h-1zM15 19h1v1h-1zM15 20h1v1h-1zM15 21h1v1h-1zM15 22h1v1h-1zM15 23h1v1h-1zM15 24h1v1h-1zM15 25h5v1h-5zM15 26h5v1h-5zM25 26h1v1h-1zM29 26h1v1h-1zM15 27h5v1h-5zM24 27h2v1h-2zM29 27h1v1h-1zM15 28h5v1h-5zM24 28h1v1h-1zM29 28h1v1h-1zM19 29h2v1h-2zM23 29h2v1h-2zM30 29h1v1h-1zM20 30h4v1h-4zM31 30h5v1h-5zM21 31h2v1h-2zM35 31h5v1h-5zM35 32h5v1h-5zM35 33h5v1h-5zM35 34h5v1h-5zM31 35h4v1h-4zM30 36h5v1h-5zM30 37h5v1h-5zM30 38h5v1h-5zM30 39h5v1h-5z"/><path fill="#ffdc00" d="M30 0h1v1h-1zM30 1h1v1h-1zM30 2h1v1h-1zM30 3h1v1h-1zM20 4h1v1h-1zM25 4h2v1h-2zM11 9h3v1h-3zM15 10h1v1h-1zM9 11h1v1h-1zM8 13h1v1h-1zM24 13h1v1h-1zM0 14h4v1h-4zM24 14h1v1h-1zM17 15h8v1h-8zM16 16h9v1h-9zM16 17h9v1h-9zM16 18h9v1h-9zM17 19h8v1h-8zM24 20h1v1h-1zM24 21h1v1h-1zM24 22h1v1h-1zM24 23h1v1h-1zM24 24h1v1h-1zM30 25h1v1h-1zM31 26h9v1h-9zM31 27h9v1h-9zM31 28h9v1h-9z"/><path fill="#fff300" d="M31 0h3v1h-3zM31 1h3v1h-3zM31 2h3v1h-3zM31 3h3v1h-3zM27 4h3v1h-3zM21 5h3v1h-3zM10 9h1v1h-1zM14 9h1v1h-1zM22 9h2v1h-2zM9 10h1v1h-1zM16 10h3v1h-3zM6 11h3v1h-3zM6 12h3v1h-3zM6 13h2v1h-2zM25 13h1v1h-1zM25 14h1v1h-1zM25 15h1v1h-1zM25 16h2v1h-2zM25 17h2v1h-2zM25 18h2v1h-2zM25 19h1v1h-1zM25 24h4v1h-4zM36 24h4v1h-4zM31 25h9v1h-9z"/><path fill="#ebff00" d="M34 0h1v1h-1zM34 1h1v1h-1zM34 2h1v1h-1zM34 3h1v1h-1zM30 4h1v1h-1zM0 5h3v1h-3zM20 5h1v1h-1zM24 5h1v1h-1zM0 6h4v1h-4zM11 6h3v1h-3zM21 6h3v1h-3zM0 7h5v1h-5zM11 7h3v1h-3zM21 7h3v1h-3zM0 8h4v1h-4zM11 8h3v1h-3zM21 8h3v1h-3zM0 9h3v1h-3zM24 9h1v1h-1zM6 10h3v1h-3zM25 10h1v1h-1zM5 11h1v1h-1zM5 12h1v1h-1zM24 12h1v1h-1zM5 13h1v1h-1zM26 13h3v1h-3zM26 14h3v1h-3zM26 15h3v1h-3zM27 16h2v1h-2zM27 17h2v1h-2zM27 18h2v1h-2zM26 19h3v1h-3zM25 20h2v1h-2zM25 21h1v1h-1zM36 21h4v1h-4zM25 22h1v1h-1zM36 22h4v1h-4zM25 23h1v1h-1zM35 23h5v1h-5zM29 24h2v1h-2zM34 24h2v1h-2z"/><path fill="#87fa00" d="M36 0h4v1h-4zM36 1h4v1h-4zM36 2h4v1h-4zM36 3h4v1h-4zM0 4h5v1h-5zM19 4h1v1h-1zM35 4h1v1h-1zM5 5h1v1h-1zM10 5h1v1h-1zM13 5h1v1h-1zM26 5h2v1h-2zM5 6h1v1h-1zM9 6h1v1h-1zM5 7h1v1h-1zM9 7h1v1h-1zM5 8h1v1h-1zM9 8h1v1h-1zM6 9h3v1h-3zM25 9h1v1h-1zM0 10h4v1h-4zM19 10h1v1h-1zM28 10h2v1h-2zM4 11h1v1h-1zM4 12h1v1h-1zM0 13h4v1h-4zM30 19h1v1h-1zM36 19h4v1h-4zM30 20h2v1h-2zM33 20h2v1h-2zM30 21h5v1h-5zM30 22h4v1h-4zM30 23h4v1h-4z"/><path fill="#ff3c00" d="M11 11h1v1h-1zM14 11h1v1h-1zM14 12h1v1h-1zM10 13h1v1h-1zM14 13h1v1h-1zM14 14h1v1h-1zM14 24h1v1h-1zM11 25h3v1h-3zM10 29h1v1h-1zM27 29h1v1h-1zM3 30h2v1h-2zM10 30h1v1h-1zM25 30h5v1h-5zM5 31h5v1h-5zM15 31h5v1h-5zM25 31h1v1h-1zM29 31h1v1h-1zM5 32h5v1h-5zM15 32h5v1h-5zM25 32h1v1h-1zM29 32h2v1h-2zM5 33h5v1h-5zM15 33h5v1h-5zM25 33h1v1h-1zM29 33h2v1h-2zM5 34h5v1h-5zM15 34h5v1h-5zM25 34h5v1h-5zM0 35h6v1h-6zM10 35h19v1h-19zM4 36h2v1h-2zM10 36h15v1h-15zM4 37h2v1h-2zM10 37h15v1h-15zM4 38h2v1h-2zM10 38h15v1h-15zM4 39h2v1h-2zM10 39h15v1h-15z"/><path fill="#ff0000" d="M12 11h2v1h-2zM11 12h3v1h-3zM11 13h3v1h-3zM10 14h4v1h-4zM0 15h15v1h-15zM4 16h11v1h-11zM5 17h10v1h-10zM5 18h10v1h-10zM5 19h10v1h-10zM0 20h15v1h-15zM0 21h15v1h-15zM0 22h15v1h-15zM0 23h15v1h-15zM0 24h14v1h-14zM0 25h11v1h-11zM0 26h11v1h-11zM0 27h11v1h-11zM0 28h11v1h-11zM0 29h10v1h-10zM5 30h5v1h-5zM26 31h3v1h-3zM26 32h3v1h-3zM26 33h3v1h-3zM0 36h4v1h-4zM0 37h4v1h-4zM0 38h4v1h-4zM0 39h4v1h-4z"/><path fill="#00ff50" d="M32 11h5v1h-5zM32 12h2v1h-2zM36 12h1v1h-1z"/><path fill="#00ffc6" d="M37 11h1v1h-1zM37 12h3v1h-3zM39 13h1v1h-1z"/><path fill="#fa0000" d="M0 16h4v1h-4zM4 17h1v1h-1zM4 18h1v1h-1zM0 19h5v1h-5z"/><path fill="#ec0000" d="M0 17h4v1h-4zM0 18h4v1h-4z"/>
</svg>
<svg x="600.9" y="2101.5" width="353.3" height="276.7" viewBox="0 0 40 40" preserveAspectRatio="none">
<path d="M0.00 14.65 1.00 14.85 1.60 14.80 2.30 14.85 3.50 14.75 4.50 14.75 5.50 14.65 6.40 14.55 6.70 15.00 7.00 15.20 7.30 15.60 7.50 16.10 8.20 16.40 8.60 16.70 9.00 17.20 9.80 17.10 10.30 17.10 9.60 17.60 9.00 17.70 9.40 18.30 10.00 18.90 10.80 19.30 11.50 19.10 12.10 18.80 12.30 18.30 12.60 17.70 12.90 18.20 12.60 18.70 12.90 19.50 12.80 20.40 12.90 21.00 13.10 21.80 13.30 22.70 13.50 23.60 13.80 24.40 14.10 25.10 14.40 25.80 14.70 26.70 14.80 27.40 15.20 28.00 15.60 28.60 15.90 29.20 16.20 30.00 16.40 30.70 16.80 31.30 17.30 31.80 17.60 31.90 18.10 31.50 18.20 31.10 18.40 30.80 19.00 30.70 19.30 30.30 19.60 29.70 19.85 29.65 19.80 29.00 19.80 28.40 20.10 27.60 20.30 26.70 20.20 26.00 20.10 25.30 20.20 24.60 20.50 24.10 21.00 23.80 21.50 23.60 22.20 23.40 22.30 23.00 22.90 22.70 23.50 22.20 24.10 21.70 24.70 21.00 25.20 20.50 25.90 20.20 26.40 20.00 26.90 19.40 27.00 18.80 27.20 18.50 27.90 18.30 28.30 18.40 28.80 18.40 29.20 18.30 29.80 18.10 30.30 18.10 30.70 17.70 31.00 17.30 31.50 17.40 31.90 18.00 32.00 18.70 32.30 19.30 32.70 19.80 33.10 20.10 33.60 20.70 33.90 21.20 34.30 21.80 34.50 22.60 34.60 23.40 34.30 24.00 34.80 24.20 35.30 24.30 35.90 24.00 36.40 23.60 36.90 23.00 37.40 23.40 37.70 24.00 37.80 25.00 38.00 25.80 38.30 26.60 38.60 27.50 38.70 28.40 38.50 29.40 38.30 30.40 38.40 31.40 38.30 32.00 38.70 32.10 39.10 32.60 39.60 33.10 40.00 33.50M40.00 26.50 39.80 27.40 39.50 28.40 39.20 29.40 39.20 30.40 39.80 30.80 40.00 31.00M19.90 30.20 20.30 30.20 20.80 30.80 21.20 31.50 21.40 32.00 21.80 32.60 21.90 33.20 21.60 33.60 21.10 33.90 20.60 34.05 20.10 33.80 19.90 33.20 19.80 32.40 19.80 31.80 19.90 31.10 19.70 30.50 19.90 30.20M35.30 34.40 36.00 34.70 36.80 34.80 37.50 34.80 38.00 35.40 38.60 36.10 39.30 36.70 40.00 37.20M35.30 34.40 35.20 34.90 35.60 35.40 36.20 36.00 36.90 36.60 37.60 37.30 38.30 38.00 38.90 38.50 39.30 39.20 39.70 40.00" fill="none" stroke="#111" stroke-width="1.1" vector-effect="non-scaling-stroke" stroke-linejoin="round"/>
<path d="M1.00 0.00 2.30 0.60 3.60 1.10 4.60 1.70 5.70 2.20 6.50 2.60M1.20 4.40 2.30 4.70 3.10 4.10 4.50 3.70 5.60 2.80 6.60 2.60 7.80 2.80 8.90 2.70 9.50 2.40 10.30 2.00 11.40 2.10 11.60 2.90 12.60 3.00 13.80 2.60 14.90 2.80M1.20 4.40 0.70 5.60 0.90 6.50 0.60 7.50 1.30 8.60 1.70 8.70 0.90 10.20 1.40 10.60 1.80 11.40 2.60 11.70 2.80 12.70 3.30 12.90 3.20 13.40 2.30 13.60 1.80 14.10 1.60 14.80M0.90 10.20 2.50 10.60 4.00 10.50 5.00 10.40 6.30 10.10 6.50 9.00 7.80 8.50 8.80 8.30 9.30 8.00 9.50 7.00 10.00 6.20 11.10 5.70 11.50 5.00 11.50 4.00 12.40 3.40 13.60 3.10 14.90 2.80M8.40 16.30 9.30 15.80 10.50 15.70 11.00 15.40 10.80 14.60 10.30 14.20 10.00 13.50 9.60 12.90 10.30 12.10 11.30 12.10 12.00 11.80 12.90 11.00 13.40 10.10 13.90 9.60 14.60 9.00 14.60 8.10 15.00 7.50 14.40 6.90 14.00 6.50 14.00 5.90 13.90 5.40 14.70 5.00 15.80 4.60 17.00 4.50M14.90 2.80 15.20 3.20 16.20 3.90 17.00 4.50 18.10 4.50 19.00 5.60 18.70 6.50 18.90 7.60 18.60 8.20 19.30 9.00 20.20 9.40 21.00 9.80M20.20 9.60 21.10 9.90 22.10 9.70 23.30 10.50 24.20 10.80 25.10 11.30 26.00 12.00 27.00 12.10 28.10 12.10M20.10 10.00 20.10 11.20 21.00 11.60 22.00 12.10 23.30 12.60 24.50 12.60 25.20 13.20 26.00 13.40 27.20 13.60 28.10 13.50 28.10 12.10M28.10 12.10 28.80 11.90 29.50 11.80 30.50 12.00 31.60 12.10 32.50 12.10 33.40 11.50 34.30 10.90 35.30 10.90 36.20 10.60 36.80 11.40 37.30 11.80M28.80 12.90 29.80 13.30 31.00 13.20 32.10 13.10 32.00 12.50 31.60 12.10M37.30 11.80 38.40 12.40 38.70 13.60 37.80 14.70 37.60 16.00 38.80 15.90 39.50 17.10 39.90 18.00 40.00 18.20M37.30 11.80 37.00 12.40 36.00 12.80 35.20 13.40 34.60 14.60 34.20 16.00 33.40 16.30 33.20 17.70 32.70 18.00 32.60 18.70M28.10 13.50 28.50 14.00 29.80 14.00 29.90 14.70 31.00 14.80 32.00 14.80 32.40 15.20 32.20 16.00 31.90 16.30 31.60 17.00 31.90 18.00M28.50 14.00 28.10 14.40 28.80 15.00 28.50 15.70 28.80 16.50 28.90 17.40 29.00 18.20M32.20 16.00 32.40 17.00 32.60 18.00M40.00 19.80 38.90 20.30 37.80 21.40 37.60 23.00 38.60 23.80 38.20 24.80 39.10 26.00 39.20 27.10 39.40 29.00 38.80 29.60 38.60 30.00M40.00 18.20 40.00 19.80" fill="none" stroke="#222" stroke-width="0.9" vector-effect="non-scaling-stroke" stroke-linejoin="round"/>
<path d="M32.70 26.50 32.90 27.20 32.80 28.00 32.60 28.60 32.60 29.10M33.50 30.80 33.40 31.10M33.80 32.70 33.90 33.10M36.00 37.10 36.50 37.60M37.20 38.50 37.70 39.10" fill="none" stroke="#111" stroke-width="1.8" stroke-dasharray="3 2" vector-effect="non-scaling-stroke"/>
</svg>
<polygon points="773.13,2168.33 774.85,2172.46 779.32,2172.82 775.92,2175.73 776.95,2180.08 773.13,2177.75 769.31,2180.08 770.35,2175.73 766.95,2172.82 771.41,2172.46" fill="#fff"/>
<rect x="600.9" y="2101.5" width="353.3" height="276.7" fill="none" stroke="#000" stroke-width="2.6"/>
<path d="M600.9 2378.2v9.5M600.9 2378.2h-9.5M645.1 2378.2v5.5M600.9 2343.6h-5.5M689.2 2378.2v9.5M600.9 2309.0h-9.5M733.4 2378.2v5.5M600.9 2274.4h-5.5M777.5 2378.2v9.5M600.9 2239.8h-9.5M821.7 2378.2v5.5M600.9 2205.3h-5.5M865.9 2378.2v9.5M600.9 2170.7h-9.5M910.0 2378.2v5.5M600.9 2136.1h-5.5M954.2 2378.2v9.5M600.9 2101.5h-9.5" stroke="#000" stroke-width="2.4" fill="none"/>
<text x="600.9" y="2411.7" text-anchor="middle" font-size="25.5" textLength="26.5" lengthAdjust="spacingAndGlyphs">60</text>
<text x="689.2" y="2411.7" text-anchor="middle" font-size="25.5" textLength="26.5" lengthAdjust="spacingAndGlyphs">70</text>
<text x="777.5" y="2411.7" text-anchor="middle" font-size="25.5" textLength="26.5" lengthAdjust="spacingAndGlyphs">80</text>
<text x="865.9" y="2411.7" text-anchor="middle" font-size="25.5" textLength="26.5" lengthAdjust="spacingAndGlyphs">90</text>
<text x="954.2" y="2411.7" text-anchor="middle" font-size="25.5" textLength="39.8" lengthAdjust="spacingAndGlyphs">100</text>
<text x="586.4" y="2387.0" text-anchor="end" font-size="25.5">0</text>
<text x="586.4" y="2317.8" text-anchor="end" font-size="25.5">10</text>
<text x="586.4" y="2248.7" text-anchor="end" font-size="25.5">20</text>
<text x="586.4" y="2179.5" text-anchor="end" font-size="25.5">30</text>
<text x="586.4" y="2110.3" text-anchor="end" font-size="25.5">40</text>
<text x="603.4" y="2091.0" font-size="25.0" textLength="91.4" lengthAdjust="spacingAndGlyphs">October</text>
<svg x="1014.6" y="2099.5" width="361.9" height="273.0" viewBox="0 0 40 40" preserveAspectRatio="none" shape-rendering="crispEdges">
<path fill="#00ff00" d="M0 0h4v1h-4zM14 0h2v1h-2zM0 1h4v1h-4zM14 1h2v1h-2zM0 2h4v1h-4zM14 2h2v1h-2zM0 3h4v1h-4zM14 3h2v1h-2zM0 4h4v1h-4zM11 4h1v1h-1zM15 4h3v1h-3zM9 5h2v1h-2zM13 5h1v1h-1zM17 5h3v1h-3zM36 5h4v1h-4zM9 6h1v1h-1zM15 6h1v1h-1zM18 6h6v1h-6zM31 6h9v1h-9zM9 7h1v1h-1zM15 7h2v1h-2zM19 7h6v1h-6zM30 7h10v1h-10zM0 8h10v1h-10zM15 8h2v1h-2zM20 8h5v1h-5zM30 8h10v1h-10zM0 9h5v1h-5zM21 9h1v1h-1zM30 9h10v1h-10zM19 10h1v1h-1zM24 10h1v1h-1zM30 10h10v1h-10zM21 11h1v1h-1zM31 13h5v1h-5zM31 14h9v1h-9zM35 15h5v1h-5z"/><path fill="#00ff50" d="M4 0h1v1h-1zM4 1h1v1h-1zM4 2h1v1h-1zM4 3h1v1h-1zM4 4h1v1h-1zM10 4h1v1h-1zM12 4h1v1h-1zM0 5h5v1h-5zM0 6h9v1h-9zM0 7h9v1h-9zM17 8h1v1h-1zM18 9h1v1h-1zM23 10h1v1h-1zM39 11h1v1h-1zM25 12h1v1h-1zM36 13h2v1h-2z"/><path fill="#00f4ff" d="M5 0h1v1h-1zM10 0h1v1h-1zM5 1h1v1h-1zM10 1h1v1h-1zM5 2h1v1h-1zM10 2h1v1h-1zM5 3h1v1h-1zM5 4h2v1h-2zM8 4h1v1h-1zM16 6h2v1h-2zM17 7h1v1h-1zM18 8h1v1h-1zM19 9h2v1h-2zM20 10h3v1h-3zM22 11h3v1h-3zM30 11h2v1h-2zM33 12h1v1h-1zM35 12h1v1h-1z"/><path fill="#00c8ff" d="M6 0h4v1h-4zM6 1h4v1h-4zM6 2h4v1h-4zM6 3h4v1h-4zM7 4h1v1h-1zM25 11h3v1h-3zM32 11h6v1h-6zM26 12h7v1h-7zM36 12h4v1h-4zM39 13h1v1h-1z"/><path fill="#00ffc6" d="M11 0h3v1h-3zM11 1h3v1h-3zM11 2h3v1h-3zM10 3h4v1h-4zM9 4h1v1h-1zM13 4h2v1h-2zM5 5h4v1h-4zM14 5h3v1h-3zM18 7h1v1h-1zM19 8h1v1h-1zM28 11h2v1h-2zM38 11h1v1h-1zM34 12h1v1h-1zM38 13h1v1h-1z"/><path fill="#32fc00" d="M16 0h3v1h-3zM16 1h3v1h-3zM16 2h3v1h-3zM16 3h3v1h-3zM18 4h1v1h-1zM11 5h2v1h-2zM20 5h1v1h-1zM35 5h1v1h-1zM10 6h1v1h-1zM24 6h7v1h-7zM10 7h1v1h-1zM25 7h5v1h-5zM25 8h5v1h-5zM5 9h3v1h-3zM16 9h2v1h-2zM22 9h2v1h-2zM29 9h1v1h-1zM24 12h1v1h-1zM30 13h1v1h-1zM30 14h1v1h-1zM34 15h1v1h-1zM35 16h5v1h-5zM36 17h4v1h-4zM36 18h4v1h-4z"/><path fill="#c0fc00" d="M19 0h1v1h-1zM19 1h1v1h-1zM19 2h1v1h-1zM19 3h1v1h-1zM35 4h5v1h-5zM12 6h2v1h-2zM11 7h3v1h-3zM11 8h3v1h-3zM9 9h1v1h-1zM15 9h1v1h-1zM25 10h4v1h-4zM29 13h1v1h-1zM29 14h1v1h-1zM30 15h1v1h-1zM30 16h4v1h-4zM30 17h4v1h-4zM31 18h4v1h-4zM28 38h4v1h-4zM28 39h4v1h-4z"/><path fill="#fff300" d="M20 0h1v1h-1zM35 0h1v1h-1zM20 1h1v1h-1zM35 1h1v1h-1zM20 2h1v1h-1zM35 2h1v1h-1zM20 3h1v1h-1zM35 3h1v1h-1zM21 4h13v1h-13zM10 9h1v1h-1zM14 9h1v1h-1zM16 10h3v1h-3zM20 11h1v1h-1zM21 12h3v1h-3zM21 13h4v1h-4zM20 14h5v1h-5zM19 15h2v1h-2zM11 16h9v1h-9zM11 17h9v1h-9zM27 17h1v1h-1zM11 18h9v1h-9zM26 18h3v1h-3zM16 19h18v1h-18zM16 25h8v1h-8zM16 26h8v1h-8zM16 27h8v1h-8zM16 28h8v1h-8zM16 29h8v1h-8zM16 30h9v1h-9zM16 31h14v1h-14zM16 32h14v1h-14zM16 33h10v1h-10zM28 33h2v1h-2zM19 34h6v1h-6zM29 34h5v1h-5zM20 35h5v1h-5zM34 35h2v1h-2zM21 36h4v1h-4zM35 36h5v1h-5zM21 37h4v1h-4zM35 37h5v1h-5zM21 38h4v1h-4zM35 38h5v1h-5zM21 39h4v1h-4zM35 39h5v1h-5z"/><path fill="#ffbe00" d="M21 0h4v1h-4zM30 0h4v1h-4zM21 1h4v1h-4zM30 1h4v1h-4zM21 2h4v1h-4zM30 2h4v1h-4zM22 3h2v1h-2zM31 3h3v1h-3zM4 10h1v1h-1zM16 11h3v1h-3zM16 12h3v1h-3zM16 13h3v1h-3zM16 14h1v1h-1zM11 15h4v1h-4zM10 16h1v1h-1zM10 17h1v1h-1zM10 18h1v1h-1zM11 19h3v1h-3zM15 20h1v1h-1zM29 20h11v1h-11zM20 21h10v1h-10zM20 22h9v1h-9zM20 23h9v1h-9zM15 24h1v1h-1zM24 24h2v1h-2zM15 25h1v1h-1zM25 29h1v1h-1zM30 30h4v1h-4zM34 31h1v1h-1zM34 32h2v1h-2zM35 33h1v1h-1zM35 34h5v1h-5zM15 35h2v1h-2zM15 36h4v1h-4zM15 37h4v1h-4zM15 38h4v1h-4zM15 39h4v1h-4z"/><path fill="#ffdc00" d="M25 0h5v1h-5zM34 0h1v1h-1zM25 1h5v1h-5zM34 1h1v1h-1zM25 2h5v1h-5zM34 2h1v1h-1zM21 3h1v1h-1zM24 3h7v1h-7zM34 3h1v1h-1zM11 9h3v1h-3zM0 10h4v1h-4zM15 10h1v1h-1zM19 11h1v1h-1zM19 12h2v1h-2zM19 13h2v1h-2zM17 14h3v1h-3zM15 15h4v1h-4zM14 19h2v1h-2zM16 20h13v1h-13zM16 21h4v1h-4zM16 22h4v1h-4zM16 23h4v1h-4zM16 24h8v1h-8zM24 25h1v1h-1zM15 26h1v1h-1zM24 26h1v1h-1zM15 27h1v1h-1zM24 27h1v1h-1zM15 28h1v1h-1zM24 28h1v1h-1zM15 29h1v1h-1zM24 29h1v1h-1zM15 30h1v1h-1zM25 30h5v1h-5zM0 31h4v1h-4zM15 31h1v1h-1zM30 31h4v1h-4zM0 32h4v1h-4zM15 32h1v1h-1zM30 32h4v1h-4zM0 33h4v1h-4zM15 33h1v1h-1zM30 33h5v1h-5zM15 34h4v1h-4zM34 34h1v1h-1zM17 35h3v1h-3zM36 35h4v1h-4zM19 36h2v1h-2zM19 37h2v1h-2zM19 38h2v1h-2zM19 39h2v1h-2z"/><path fill="#ebff00" d="M36 0h4v1h-4zM36 1h4v1h-4zM36 2h4v1h-4zM36 3h4v1h-4zM20 4h1v1h-1zM34 4h1v1h-1zM25 13h4v1h-4zM25 14h4v1h-4zM21 15h9v1h-9zM20 16h10v1h-10zM20 17h7v1h-7zM28 17h2v1h-2zM20 18h6v1h-6zM29 18h2v1h-2zM34 19h6v1h-6zM26 33h2v1h-2zM25 34h4v1h-4zM25 35h9v1h-9zM25 36h10v1h-10zM25 37h10v1h-10zM25 38h3v1h-3zM32 38h3v1h-3zM25 39h3v1h-3zM32 39h3v1h-3z"/><path fill="#87fa00" d="M19 4h1v1h-1zM21 5h14v1h-14zM11 6h1v1h-1zM14 6h1v1h-1zM14 7h1v1h-1zM10 8h1v1h-1zM14 8h1v1h-1zM8 9h1v1h-1zM24 9h5v1h-5zM29 10h1v1h-1zM31 15h3v1h-3zM34 16h1v1h-1zM34 17h2v1h-2zM35 18h1v1h-1z"/><path fill="#ff6e00" d="M5 10h1v1h-1zM14 10h1v1h-1zM0 11h3v1h-3zM15 11h1v1h-1zM15 12h1v1h-1zM15 13h1v1h-1zM10 15h1v1h-1zM14 20h1v1h-1zM31 21h5v1h-5zM31 22h4v1h-4zM31 23h4v1h-4zM30 24h4v1h-4zM14 25h1v1h-1zM29 25h2v1h-2zM14 26h1v1h-1zM26 26h4v1h-4zM14 27h1v1h-1zM26 27h4v1h-4zM14 28h1v1h-1zM26 28h4v1h-4zM30 29h5v1h-5zM4 30h1v1h-1zM11 30h3v1h-3zM35 30h5v1h-5zM11 31h3v1h-3zM11 32h3v1h-3zM11 33h3v1h-3zM4 34h1v1h-1zM10 34h4v1h-4zM9 35h2v1h-2zM6 36h4v1h-4zM6 37h4v1h-4zM6 38h4v1h-4zM6 39h4v1h-4z"/><path fill="#ff3c00" d="M6 10h4v1h-4zM3 11h1v1h-1zM0 12h4v1h-4zM0 13h4v1h-4zM14 14h1v1h-1zM11 20h3v1h-3zM14 21h1v1h-1zM36 21h4v1h-4zM14 22h1v1h-1zM35 22h5v1h-5zM14 23h1v1h-1zM35 23h5v1h-5zM14 24h1v1h-1zM34 24h2v1h-2zM13 25h1v1h-1zM31 25h4v1h-4zM10 26h4v1h-4zM30 26h4v1h-4zM10 27h4v1h-4zM30 27h4v1h-4zM10 28h4v1h-4zM30 28h5v1h-5zM10 29h4v1h-4zM35 29h1v1h-1zM10 30h1v1h-1zM5 31h1v1h-1zM10 31h1v1h-1zM5 32h1v1h-1zM10 32h1v1h-1zM5 33h1v1h-1zM10 33h1v1h-1zM5 34h1v1h-1zM9 34h1v1h-1zM0 35h9v1h-9zM5 36h1v1h-1zM5 37h1v1h-1zM5 38h1v1h-1zM5 39h1v1h-1z"/><path fill="#ff0000" d="M10 10h4v1h-4zM4 11h11v1h-11zM4 12h11v1h-11zM4 13h11v1h-11zM0 14h14v1h-14zM0 15h10v1h-10zM0 16h10v1h-10zM0 17h10v1h-10zM0 18h10v1h-10zM0 19h10v1h-10zM0 20h11v1h-11zM0 21h14v1h-14zM0 22h14v1h-14zM0 23h14v1h-14zM0 24h14v1h-14zM36 24h4v1h-4zM0 25h13v1h-13zM35 25h5v1h-5zM0 26h10v1h-10zM34 26h6v1h-6zM0 27h10v1h-10zM34 27h6v1h-6zM0 28h10v1h-10zM35 28h5v1h-5zM0 29h10v1h-10zM36 29h4v1h-4zM5 30h5v1h-5zM6 31h4v1h-4zM6 32h4v1h-4zM6 33h4v1h-4zM6 34h3v1h-3zM0 36h5v1h-5zM0 37h5v1h-5zM0 38h5v1h-5zM0 39h5v1h-5z"/><path fill="#ff9600" d="M15 14h1v1h-1zM10 19h1v1h-1zM15 21h1v1h-1zM30 21h1v1h-1zM15 22h1v1h-1zM29 22h2v1h-2zM15 23h1v1h-1zM29 23h2v1h-2zM26 24h4v1h-4zM25 25h4v1h-4zM25 26h1v1h-1zM25 27h1v1h-1zM25 28h1v1h-1zM14 29h1v1h-1zM26 29h4v1h-4zM0 30h4v1h-4zM14 30h1v1h-1zM34 30h1v1h-1zM4 31h1v1h-1zM14 31h1v1h-1zM35 31h5v1h-5zM4 32h1v1h-1zM14 32h1v1h-1zM36 32h4v1h-4zM4 33h1v1h-1zM14 33h1v1h-1zM36 33h4v1h-4zM0 34h4v1h-4zM14 34h1v1h-1zM11 35h4v1h-4zM10 36h5v1h-5zM10 37h5v1h-5zM10 38h5v1h-5zM10 39h5v1h-5z"/>
</svg>
<svg x="1014.6" y="2099.5" width="361.9" height="273.0" viewBox="0 0 40 40" preserveAspectRatio="none">
<path d="M0.00 14.65 1.00 14.85 1.60 14.80 2.30 14.85 3.50 14.75 4.50 14.75 5.50 14.65 6.40 14.55 6.70 15.00 7.00 15.20 7.30 15.60 7.50 16.10 8.20 16.40 8.60 16.70 9.00 17.20 9.80 17.10 10.30 17.10 9.60 17.60 9.00 17.70 9.40 18.30 10.00 18.90 10.80 19.30 11.50 19.10 12.10 18.80 12.30 18.30 12.60 17.70 12.90 18.20 12.60 18.70 12.90 19.50 12.80 20.40 12.90 21.00 13.10 21.80 13.30 22.70 13.50 23.60 13.80 24.40 14.10 25.10 14.40 25.80 14.70 26.70 14.80 27.40 15.20 28.00 15.60 28.60 15.90 29.20 16.20 30.00 16.40 30.70 16.80 31.30 17.30 31.80 17.60 31.90 18.10 31.50 18.20 31.10 18.40 30.80 19.00 30.70 19.30 30.30 19.60 29.70 19.85 29.65 19.80 29.00 19.80 28.40 20.10 27.60 20.30 26.70 20.20 26.00 20.10 25.30 20.20 24.60 20.50 24.10 21.00 23.80 21.50 23.60 22.20 23.40 22.30 23.00 22.90 22.70 23.50 22.20 24.10 21.70 24.70 21.00 25.20 20.50 25.90 20.20 26.40 20.00 26.90 19.40 27.00 18.80 27.20 18.50 27.90 18.30 28.30 18.40 28.80 18.40 29.20 18.30 29.80 18.10 30.30 18.10 30.70 17.70 31.00 17.30 31.50 17.40 31.90 18.00 32.00 18.70 32.30 19.30 32.70 19.80 33.10 20.10 33.60 20.70 33.90 21.20 34.30 21.80 34.50 22.60 34.60 23.40 34.30 24.00 34.80 24.20 35.30 24.30 35.90 24.00 36.40 23.60 36.90 23.00 37.40 23.40 37.70 24.00 37.80 25.00 38.00 25.80 38.30 26.60 38.60 27.50 38.70 28.40 38.50 29.40 38.30 30.40 38.40 31.40 38.30 32.00 38.70 32.10 39.10 32.60 39.60 33.10 40.00 33.50M40.00 26.50 39.80 27.40 39.50 28.40 39.20 29.40 39.20 30.40 39.80 30.80 40.00 31.00M19.90 30.20 20.30 30.20 20.80 30.80 21.20 31.50 21.40 32.00 21.80 32.60 21.90 33.20 21.60 33.60 21.10 33.90 20.60 34.05 20.10 33.80 19.90 33.20 19.80 32.40 19.80 31.80 19.90 31.10 19.70 30.50 19.90 30.20M35.30 34.40 36.00 34.70 36.80 34.80 37.50 34.80 38.00 35.40 38.60 36.10 39.30 36.70 40.00 37.20M35.30 34.40 35.20 34.90 35.60 35.40 36.20 36.00 36.90 36.60 37.60 37.30 38.30 38.00 38.90 38.50 39.30 39.20 39.70 40.00" fill="none" stroke="#111" stroke-width="1.1" vector-effect="non-scaling-stroke" stroke-linejoin="round"/>
<path d="M1.00 0.00 2.30 0.60 3.60 1.10 4.60 1.70 5.70 2.20 6.50 2.60M1.20 4.40 2.30 4.70 3.10 4.10 4.50 3.70 5.60 2.80 6.60 2.60 7.80 2.80 8.90 2.70 9.50 2.40 10.30 2.00 11.40 2.10 11.60 2.90 12.60 3.00 13.80 2.60 14.90 2.80M1.20 4.40 0.70 5.60 0.90 6.50 0.60 7.50 1.30 8.60 1.70 8.70 0.90 10.20 1.40 10.60 1.80 11.40 2.60 11.70 2.80 12.70 3.30 12.90 3.20 13.40 2.30 13.60 1.80 14.10 1.60 14.80M0.90 10.20 2.50 10.60 4.00 10.50 5.00 10.40 6.30 10.10 6.50 9.00 7.80 8.50 8.80 8.30 9.30 8.00 9.50 7.00 10.00 6.20 11.10 5.70 11.50 5.00 11.50 4.00 12.40 3.40 13.60 3.10 14.90 2.80M8.40 16.30 9.30 15.80 10.50 15.70 11.00 15.40 10.80 14.60 10.30 14.20 10.00 13.50 9.60 12.90 10.30 12.10 11.30 12.10 12.00 11.80 12.90 11.00 13.40 10.10 13.90 9.60 14.60 9.00 14.60 8.10 15.00 7.50 14.40 6.90 14.00 6.50 14.00 5.90 13.90 5.40 14.70 5.00 15.80 4.60 17.00 4.50M14.90 2.80 15.20 3.20 16.20 3.90 17.00 4.50 18.10 4.50 19.00 5.60 18.70 6.50 18.90 7.60 18.60 8.20 19.30 9.00 20.20 9.40 21.00 9.80M20.20 9.60 21.10 9.90 22.10 9.70 23.30 10.50 24.20 10.80 25.10 11.30 26.00 12.00 27.00 12.10 28.10 12.10M20.10 10.00 20.10 11.20 21.00 11.60 22.00 12.10 23.30 12.60 24.50 12.60 25.20 13.20 26.00 13.40 27.20 13.60 28.10 13.50 28.10 12.10M28.10 12.10 28.80 11.90 29.50 11.80 30.50 12.00 31.60 12.10 32.50 12.10 33.40 11.50 34.30 10.90 35.30 10.90 36.20 10.60 36.80 11.40 37.30 11.80M28.80 12.90 29.80 13.30 31.00 13.20 32.10 13.10 32.00 12.50 31.60 12.10M37.30 11.80 38.40 12.40 38.70 13.60 37.80 14.70 37.60 16.00 38.80 15.90 39.50 17.10 39.90 18.00 40.00 18.20M37.30 11.80 37.00 12.40 36.00 12.80 35.20 13.40 34.60 14.60 34.20 16.00 33.40 16.30 33.20 17.70 32.70 18.00 32.60 18.70M28.10 13.50 28.50 14.00 29.80 14.00 29.90 14.70 31.00 14.80 32.00 14.80 32.40 15.20 32.20 16.00 31.90 16.30 31.60 17.00 31.90 18.00M28.50 14.00 28.10 14.40 28.80 15.00 28.50 15.70 28.80 16.50 28.90 17.40 29.00 18.20M32.20 16.00 32.40 17.00 32.60 18.00M40.00 19.80 38.90 20.30 37.80 21.40 37.60 23.00 38.60 23.80 38.20 24.80 39.10 26.00 39.20 27.10 39.40 29.00 38.80 29.60 38.60 30.00M40.00 18.20 40.00 19.80" fill="none" stroke="#222" stroke-width="0.9" vector-effect="non-scaling-stroke" stroke-linejoin="round"/>
<path d="M32.70 26.50 32.90 27.20 32.80 28.00 32.60 28.60 32.60 29.10M33.50 30.80 33.40 31.10M33.80 32.70 33.90 33.10M36.00 37.10 36.50 37.60M37.20 38.50 37.70 39.10" fill="none" stroke="#111" stroke-width="1.8" stroke-dasharray="3 2" vector-effect="non-scaling-stroke"/>
</svg>
<polygon points="1191.03,2165.34 1192.75,2169.48 1197.21,2169.84 1193.81,2172.75 1194.85,2177.10 1191.03,2174.77 1187.21,2177.10 1188.24,2172.75 1184.84,2169.84 1189.31,2169.48" fill="#fff"/>
<rect x="1014.6" y="2099.5" width="361.9" height="273.0" fill="none" stroke="#000" stroke-width="2.6"/>
<path d="M1014.6 2372.5v9.5M1014.6 2372.5h-9.5M1059.8 2372.5v5.5M1014.6 2338.4h-5.5M1105.1 2372.5v9.5M1014.6 2304.2h-9.5M1150.3 2372.5v5.5M1014.6 2270.1h-5.5M1195.5 2372.5v9.5M1014.6 2236.0h-9.5M1240.8 2372.5v5.5M1014.6 2201.9h-5.5M1286.0 2372.5v9.5M1014.6 2167.8h-9.5M1331.3 2372.5v5.5M1014.6 2133.6h-5.5M1376.5 2372.5v9.5M1014.6 2099.5h-9.5" stroke="#000" stroke-width="2.4" fill="none"/>
<text x="1014.6" y="2406.0" text-anchor="middle" font-size="25.5" textLength="26.5" lengthAdjust="spacingAndGlyphs">60</text>
<text x="1105.1" y="2406.0" text-anchor="middle" font-size="25.5" textLength="26.5" lengthAdjust="spacingAndGlyphs">70</text>
<text x="1195.5" y="2406.0" text-anchor="middle" font-size="25.5" textLength="26.5" lengthAdjust="spacingAndGlyphs">80</text>
<text x="1286.0" y="2406.0" text-anchor="middle" font-size="25.5" textLength="26.5" lengthAdjust="spacingAndGlyphs">90</text>
<text x="1376.5" y="2406.0" text-anchor="middle" font-size="25.5" textLength="39.8" lengthAdjust="spacingAndGlyphs">100</text>
<text x="1000.1" y="2381.3" text-anchor="end" font-size="25.5">0</text>
<text x="1000.1" y="2313.1" text-anchor="end" font-size="25.5">10</text>
<text x="1000.1" y="2244.8" text-anchor="end" font-size="25.5">20</text>
<text x="1000.1" y="2176.6" text-anchor="end" font-size="25.5">30</text>
<text x="1000.1" y="2108.3" text-anchor="end" font-size="25.5">40</text>
<text x="1024.5" y="2086.0" font-size="25.0" textLength="121.0" lengthAdjust="spacingAndGlyphs">November</text>
<svg x="1431.5" y="2095.3" width="332.1" height="279.0" viewBox="0 0 40 40" preserveAspectRatio="none" shape-rendering="crispEdges">
<path fill="#00ff00" d="M0 0h5v1h-5zM16 0h4v1h-4zM0 1h5v1h-5zM16 1h4v1h-4zM0 2h5v1h-5zM16 2h4v1h-4zM0 3h5v1h-5zM16 3h4v1h-4zM0 4h5v1h-5zM16 4h4v1h-4zM0 5h5v1h-5zM10 5h4v1h-4zM19 5h2v1h-2zM35 5h5v1h-5zM4 6h2v1h-2zM10 6h5v1h-5zM19 6h6v1h-6zM30 6h10v1h-10zM4 7h2v1h-2zM10 7h6v1h-6zM19 7h6v1h-6zM30 7h10v1h-10zM4 8h2v1h-2zM10 8h6v1h-6zM20 8h5v1h-5zM30 8h10v1h-10zM4 9h14v1h-14zM21 9h5v1h-5zM29 9h11v1h-11zM0 10h10v1h-10zM19 10h1v1h-1zM24 10h16v1h-16zM0 11h5v1h-5zM20 11h2v1h-2zM39 11h1v1h-1zM0 12h5v1h-5zM20 12h5v1h-5zM0 13h4v1h-4zM20 13h18v1h-18zM30 14h10v1h-10z"/><path fill="#00ffc6" d="M5 0h1v1h-1zM10 0h4v1h-4zM5 1h1v1h-1zM10 1h4v1h-4zM5 2h1v1h-1zM10 2h4v1h-4zM5 3h1v1h-1zM10 3h1v1h-1zM9 4h1v1h-1zM12 4h1v1h-1zM15 4h1v1h-1zM6 5h3v1h-3zM6 6h3v1h-3zM15 6h1v1h-1zM6 7h3v1h-3zM16 7h1v1h-1zM6 8h3v1h-3zM17 8h1v1h-1zM18 9h1v1h-1zM23 10h1v1h-1zM29 11h1v1h-1zM25 12h1v1h-1zM34 12h2v1h-2z"/><path fill="#00f4ff" d="M6 0h4v1h-4zM6 1h4v1h-4zM6 2h4v1h-4zM6 3h4v1h-4zM11 3h3v1h-3zM6 4h3v1h-3zM13 4h2v1h-2zM14 5h3v1h-3zM16 6h2v1h-2zM17 7h2v1h-2zM18 8h2v1h-2zM19 9h2v1h-2zM20 10h3v1h-3zM22 11h3v1h-3zM28 11h1v1h-1zM30 11h2v1h-2zM33 12h1v1h-1zM36 12h1v1h-1z"/><path fill="#00ff50" d="M14 0h2v1h-2zM14 1h2v1h-2zM14 2h2v1h-2zM14 3h2v1h-2zM5 4h1v1h-1zM10 4h2v1h-2zM5 5h1v1h-1zM9 5h1v1h-1zM17 5h2v1h-2zM9 6h1v1h-1zM18 6h1v1h-1zM9 7h1v1h-1zM9 8h1v1h-1zM16 8h1v1h-1zM38 11h1v1h-1zM38 13h1v1h-1z"/><path fill="#c0fc00" d="M20 0h1v1h-1zM30 0h1v1h-1zM34 0h2v1h-2zM20 1h1v1h-1zM30 1h1v1h-1zM34 1h2v1h-2zM20 2h1v1h-1zM30 2h1v1h-1zM34 2h2v1h-2zM20 3h1v1h-1zM30 3h1v1h-1zM34 3h1v1h-1zM21 4h1v1h-1zM24 4h1v1h-1zM31 4h3v1h-3zM12 10h2v1h-2zM10 11h1v1h-1zM15 11h4v1h-4zM10 12h1v1h-1zM15 12h4v1h-4zM16 13h3v1h-3zM5 14h1v1h-1zM22 15h2v1h-2zM30 15h1v1h-1zM34 16h1v1h-1zM34 17h2v1h-2zM35 18h1v1h-1zM36 19h4v1h-4zM25 30h4v1h-4zM24 31h2v1h-2zM29 31h2v1h-2zM24 32h2v1h-2zM30 32h2v1h-2zM25 33h1v1h-1zM29 33h2v1h-2zM26 34h4v1h-4z"/><path fill="#fff300" d="M21 0h3v1h-3zM21 1h3v1h-3zM21 2h3v1h-3zM22 3h2v1h-2zM9 14h1v1h-1zM16 14h3v1h-3zM4 15h1v1h-1zM20 15h1v1h-1zM0 16h4v1h-4zM21 16h5v1h-5zM29 16h1v1h-1zM0 17h4v1h-4zM21 17h4v1h-4zM29 17h2v1h-2zM0 18h3v1h-3zM21 18h4v1h-4zM30 18h1v1h-1zM33 19h2v1h-2zM35 20h1v1h-1zM36 21h4v1h-4zM36 22h4v1h-4zM37 23h3v1h-3zM22 25h2v1h-2zM24 26h1v1h-1zM24 27h2v1h-2zM24 28h2v1h-2zM25 29h4v1h-4zM20 30h1v1h-1zM30 30h3v1h-3zM0 31h9v1h-9zM20 31h1v1h-1zM34 31h1v1h-1zM0 32h10v1h-10zM20 32h1v1h-1zM34 32h1v1h-1zM0 33h10v1h-10zM20 33h1v1h-1zM34 33h1v1h-1zM21 34h4v1h-4zM34 34h1v1h-1zM26 35h8v1h-8z"/><path fill="#ebff00" d="M24 0h1v1h-1zM31 0h3v1h-3zM24 1h1v1h-1zM31 1h3v1h-3zM24 2h1v1h-1zM31 2h3v1h-3zM21 3h1v1h-1zM24 3h1v1h-1zM31 3h3v1h-3zM22 4h2v1h-2zM11 11h4v1h-4zM11 12h4v1h-4zM10 13h6v1h-6zM6 14h3v1h-3zM19 14h1v1h-1zM0 15h4v1h-4zM21 15h1v1h-1zM24 15h6v1h-6zM30 16h4v1h-4zM31 17h3v1h-3zM31 18h4v1h-4zM35 19h1v1h-1zM36 20h4v1h-4zM21 26h3v1h-3zM21 27h3v1h-3zM21 28h3v1h-3zM21 29h4v1h-4zM21 30h4v1h-4zM29 30h1v1h-1zM21 31h3v1h-3zM31 31h3v1h-3zM21 32h3v1h-3zM32 32h2v1h-2zM21 33h4v1h-4zM31 33h3v1h-3zM25 34h1v1h-1zM30 34h4v1h-4z"/><path fill="#87fa00" d="M25 0h1v1h-1zM29 0h1v1h-1zM36 0h4v1h-4zM25 1h1v1h-1zM29 1h1v1h-1zM36 1h4v1h-4zM25 2h1v1h-1zM29 2h1v1h-1zM36 2h4v1h-4zM25 3h1v1h-1zM29 3h1v1h-1zM35 3h5v1h-5zM20 4h1v1h-1zM25 4h1v1h-1zM29 4h2v1h-2zM34 4h2v1h-2zM10 10h2v1h-2zM14 10h1v1h-1zM9 11h1v1h-1zM19 11h1v1h-1zM9 12h1v1h-1zM19 12h1v1h-1zM8 13h2v1h-2zM19 13h1v1h-1zM4 14h1v1h-1zM20 14h1v1h-1zM26 14h3v1h-3zM31 15h4v1h-4zM35 16h5v1h-5zM36 17h4v1h-4zM36 18h4v1h-4zM26 31h3v1h-3zM26 32h4v1h-4zM26 33h3v1h-3z"/><path fill="#32fc00" d="M26 0h3v1h-3zM26 1h3v1h-3zM26 2h3v1h-3zM26 3h3v1h-3zM26 4h3v1h-3zM36 4h4v1h-4zM21 5h14v1h-14zM0 6h4v1h-4zM25 6h5v1h-5zM0 7h4v1h-4zM25 7h5v1h-5zM0 8h4v1h-4zM25 8h5v1h-5zM0 9h4v1h-4zM26 9h3v1h-3zM15 10h4v1h-4zM5 11h4v1h-4zM5 12h4v1h-4zM4 13h4v1h-4zM0 14h4v1h-4zM21 14h5v1h-5zM29 14h1v1h-1zM35 15h5v1h-5z"/><path fill="#00c8ff" d="M25 11h3v1h-3zM32 11h6v1h-6zM26 12h7v1h-7zM37 12h3v1h-3zM39 13h1v1h-1z"/><path fill="#ffdc00" d="M10 14h1v1h-1zM15 14h1v1h-1zM4 16h1v1h-1zM20 16h1v1h-1zM26 16h3v1h-3zM25 17h4v1h-4zM3 18h1v1h-1zM25 18h5v1h-5zM21 19h4v1h-4zM30 19h3v1h-3zM35 21h1v1h-1zM35 22h1v1h-1zM36 23h1v1h-1zM21 25h1v1h-1zM24 25h1v1h-1zM20 26h1v1h-1zM25 26h4v1h-4zM20 27h1v1h-1zM26 27h3v1h-3zM20 28h1v1h-1zM26 28h3v1h-3zM20 29h1v1h-1zM29 29h1v1h-1zM33 30h1v1h-1zM9 31h1v1h-1zM10 32h1v1h-1zM10 33h1v1h-1zM5 34h5v1h-5zM20 34h1v1h-1zM25 35h1v1h-1zM34 35h1v1h-1zM26 36h9v1h-9zM26 37h8v1h-8zM26 38h8v1h-8zM26 39h8v1h-8z"/><path fill="#ffbe00" d="M11 14h4v1h-4zM5 15h1v1h-1zM19 15h1v1h-1zM4 17h1v1h-1zM20 17h1v1h-1zM4 18h1v1h-1zM20 18h1v1h-1zM0 19h4v1h-4zM25 19h5v1h-5zM34 20h1v1h-1zM35 23h1v1h-1zM21 24h3v1h-3zM20 25h1v1h-1zM25 25h4v1h-4zM29 26h1v1h-1zM29 27h1v1h-1zM29 28h1v1h-1zM30 29h1v1h-1zM0 30h9v1h-9zM34 30h1v1h-1zM10 31h4v1h-4zM19 31h1v1h-1zM11 32h4v1h-4zM19 32h1v1h-1zM35 32h1v1h-1zM11 33h4v1h-4zM19 33h1v1h-1zM35 33h1v1h-1zM0 34h5v1h-5zM10 34h4v1h-4zM19 34h1v1h-1zM35 34h1v1h-1zM16 35h9v1h-9zM35 35h1v1h-1zM15 36h5v1h-5zM25 36h1v1h-1zM35 36h1v1h-1zM15 37h5v1h-5zM25 37h1v1h-1zM34 37h2v1h-2zM15 38h5v1h-5zM25 38h1v1h-1zM34 38h2v1h-2zM15 39h5v1h-5zM25 39h1v1h-1zM34 39h2v1h-2z"/><path fill="#ff9600" d="M6 15h3v1h-3zM20 19h1v1h-1zM21 20h4v1h-4zM30 20h4v1h-4zM22 21h2v1h-2zM34 21h1v1h-1zM22 22h1v1h-1zM34 22h1v1h-1zM22 23h2v1h-2zM34 23h1v1h-1zM24 24h1v1h-1zM35 24h5v1h-5zM29 25h1v1h-1zM31 29h3v1h-3zM9 30h1v1h-1zM19 30h1v1h-1zM14 31h5v1h-5zM35 31h1v1h-1zM15 32h4v1h-4zM15 33h4v1h-4zM14 34h5v1h-5zM7 35h9v1h-9zM36 35h4v1h-4zM11 36h4v1h-4zM20 36h5v1h-5zM36 36h4v1h-4zM12 37h3v1h-3zM20 37h5v1h-5zM36 37h4v1h-4zM12 38h3v1h-3zM20 38h5v1h-5zM36 38h4v1h-4zM12 39h3v1h-3zM20 39h5v1h-5zM36 39h4v1h-4z"/><path fill="#ff6e00" d="M9 15h1v1h-1zM16 15h3v1h-3zM5 16h1v1h-1zM19 16h1v1h-1zM5 17h1v1h-1zM19 17h1v1h-1zM19 18h1v1h-1zM4 19h1v1h-1zM20 20h1v1h-1zM25 20h1v1h-1zM29 20h1v1h-1zM21 21h1v1h-1zM24 21h1v1h-1zM31 21h3v1h-3zM21 22h1v1h-1zM23 22h2v1h-2zM32 22h2v1h-2zM21 23h1v1h-1zM24 23h1v1h-1zM33 23h1v1h-1zM20 24h1v1h-1zM25 24h1v1h-1zM34 24h1v1h-1zM30 25h1v1h-1zM30 26h1v1h-1zM30 27h1v1h-1zM30 28h1v1h-1zM0 29h4v1h-4zM19 29h1v1h-1zM34 29h1v1h-1zM10 30h9v1h-9zM35 30h1v1h-1zM36 31h4v1h-4zM36 32h4v1h-4zM36 33h4v1h-4zM36 34h4v1h-4zM5 35h2v1h-2zM9 36h2v1h-2zM10 37h2v1h-2zM10 38h2v1h-2zM10 39h2v1h-2z"/><path fill="#ff0000" d="M10 15h5v1h-5zM7 16h11v1h-11zM6 17h13v1h-13zM6 18h13v1h-13zM5 19h14v1h-14zM0 20h20v1h-20zM0 21h20v1h-20zM26 21h3v1h-3zM0 22h20v1h-20zM26 22h4v1h-4zM0 23h20v1h-20zM26 23h3v1h-3zM0 24h20v1h-20zM0 25h19v1h-19zM35 25h5v1h-5zM0 26h19v1h-19zM34 26h6v1h-6zM0 27h19v1h-19zM34 27h6v1h-6zM0 28h19v1h-19zM34 28h6v1h-6zM5 29h14v1h-14zM35 29h5v1h-5zM0 35h4v1h-4zM0 36h6v1h-6zM0 37h6v1h-6zM0 38h6v1h-6zM0 39h6v1h-6z"/><path fill="#ff3c00" d="M15 15h1v1h-1zM6 16h1v1h-1zM18 16h1v1h-1zM5 18h1v1h-1zM19 19h1v1h-1zM26 20h3v1h-3zM20 21h1v1h-1zM25 21h1v1h-1zM29 21h2v1h-2zM20 22h1v1h-1zM25 22h1v1h-1zM30 22h2v1h-2zM20 23h1v1h-1zM25 23h1v1h-1zM29 23h4v1h-4zM26 24h8v1h-8zM19 25h1v1h-1zM31 25h4v1h-4zM19 26h1v1h-1zM31 26h3v1h-3zM19 27h1v1h-1zM31 27h3v1h-3zM19 28h1v1h-1zM31 28h3v1h-3zM4 29h1v1h-1zM36 30h4v1h-4zM4 35h1v1h-1zM6 36h3v1h-3zM6 37h4v1h-4zM6 38h4v1h-4zM6 39h4v1h-4z"/>
</svg>
<svg x="1431.5" y="2095.3" width="332.1" height="279.0" viewBox="0 0 40 40" preserveAspectRatio="none">
<path d="M0.00 14.65 1.00 14.85 1.60 14.80 2.30 14.85 3.50 14.75 4.50 14.75 5.50 14.65 6.40 14.55 6.70 15.00 7.00 15.20 7.30 15.60 7.50 16.10 8.20 16.40 8.60 16.70 9.00 17.20 9.80 17.10 10.30 17.10 9.60 17.60 9.00 17.70 9.40 18.30 10.00 18.90 10.80 19.30 11.50 19.10 12.10 18.80 12.30 18.30 12.60 17.70 12.90 18.20 12.60 18.70 12.90 19.50 12.80 20.40 12.90 21.00 13.10 21.80 13.30 22.70 13.50 23.60 13.80 24.40 14.10 25.10 14.40 25.80 14.70 26.70 14.80 27.40 15.20 28.00 15.60 28.60 15.90 29.20 16.20 30.00 16.40 30.70 16.80 31.30 17.30 31.80 17.60 31.90 18.10 31.50 18.20 31.10 18.40 30.80 19.00 30.70 19.30 30.30 19.60 29.70 19.85 29.65 19.80 29.00 19.80 28.40 20.10 27.60 20.30 26.70 20.20 26.00 20.10 25.30 20.20 24.60 20.50 24.10 21.00 23.80 21.50 23.60 22.20 23.40 22.30 23.00 22.90 22.70 23.50 22.20 24.10 21.70 24.70 21.00 25.20 20.50 25.90 20.20 26.40 20.00 26.90 19.40 27.00 18.80 27.20 18.50 27.90 18.30 28.30 18.40 28.80 18.40 29.20 18.30 29.80 18.10 30.30 18.10 30.70 17.70 31.00 17.30 31.50 17.40 31.90 18.00 32.00 18.70 32.30 19.30 32.70 19.80 33.10 20.10 33.60 20.70 33.90 21.20 34.30 21.80 34.50 22.60 34.60 23.40 34.30 24.00 34.80 24.20 35.30 24.30 35.90 24.00 36.40 23.60 36.90 23.00 37.40 23.40 37.70 24.00 37.80 25.00 38.00 25.80 38.30 26.60 38.60 27.50 38.70 28.40 38.50 29.40 38.30 30.40 38.40 31.40 38.30 32.00 38.70 32.10 39.10 32.60 39.60 33.10 40.00 33.50M40.00 26.50 39.80 27.40 39.50 28.40 39.20 29.40 39.20 30.40 39.80 30.80 40.00 31.00M19.90 30.20 20.30 30.20 20.80 30.80 21.20 31.50 21.40 32.00 21.80 32.60 21.90 33.20 21.60 33.60 21.10 33.90 20.60 34.05 20.10 33.80 19.90 33.20 19.80 32.40 19.80 31.80 19.90 31.10 19.70 30.50 19.90 30.20M35.30 34.40 36.00 34.70 36.80 34.80 37.50 34.80 38.00 35.40 38.60 36.10 39.30 36.70 40.00 37.20M35.30 34.40 35.20 34.90 35.60 35.40 36.20 36.00 36.90 36.60 37.60 37.30 38.30 38.00 38.90 38.50 39.30 39.20 39.70 40.00" fill="none" stroke="#111" stroke-width="1.1" vector-effect="non-scaling-stroke" stroke-linejoin="round"/>
<path d="M1.00 0.00 2.30 0.60 3.60 1.10 4.60 1.70 5.70 2.20 6.50 2.60M1.20 4.40 2.30 4.70 3.10 4.10 4.50 3.70 5.60 2.80 6.60 2.60 7.80 2.80 8.90 2.70 9.50 2.40 10.30 2.00 11.40 2.10 11.60 2.90 12.60 3.00 13.80 2.60 14.90 2.80M1.20 4.40 0.70 5.60 0.90 6.50 0.60 7.50 1.30 8.60 1.70 8.70 0.90 10.20 1.40 10.60 1.80 11.40 2.60 11.70 2.80 12.70 3.30 12.90 3.20 13.40 2.30 13.60 1.80 14.10 1.60 14.80M0.90 10.20 2.50 10.60 4.00 10.50 5.00 10.40 6.30 10.10 6.50 9.00 7.80 8.50 8.80 8.30 9.30 8.00 9.50 7.00 10.00 6.20 11.10 5.70 11.50 5.00 11.50 4.00 12.40 3.40 13.60 3.10 14.90 2.80M8.40 16.30 9.30 15.80 10.50 15.70 11.00 15.40 10.80 14.60 10.30 14.20 10.00 13.50 9.60 12.90 10.30 12.10 11.30 12.10 12.00 11.80 12.90 11.00 13.40 10.10 13.90 9.60 14.60 9.00 14.60 8.10 15.00 7.50 14.40 6.90 14.00 6.50 14.00 5.90 13.90 5.40 14.70 5.00 15.80 4.60 17.00 4.50M14.90 2.80 15.20 3.20 16.20 3.90 17.00 4.50 18.10 4.50 19.00 5.60 18.70 6.50 18.90 7.60 18.60 8.20 19.30 9.00 20.20 9.40 21.00 9.80M20.20 9.60 21.10 9.90 22.10 9.70 23.30 10.50 24.20 10.80 25.10 11.30 26.00 12.00 27.00 12.10 28.10 12.10M20.10 10.00 20.10 11.20 21.00 11.60 22.00 12.10 23.30 12.60 24.50 12.60 25.20 13.20 26.00 13.40 27.20 13.60 28.10 13.50 28.10 12.10M28.10 12.10 28.80 11.90 29.50 11.80 30.50 12.00 31.60 12.10 32.50 12.10 33.40 11.50 34.30 10.90 35.30 10.90 36.20 10.60 36.80 11.40 37.30 11.80M28.80 12.90 29.80 13.30 31.00 13.20 32.10 13.10 32.00 12.50 31.60 12.10M37.30 11.80 38.40 12.40 38.70 13.60 37.80 14.70 37.60 16.00 38.80 15.90 39.50 17.10 39.90 18.00 40.00 18.20M37.30 11.80 37.00 12.40 36.00 12.80 35.20 13.40 34.60 14.60 34.20 16.00 33.40 16.30 33.20 17.70 32.70 18.00 32.60 18.70M28.10 13.50 28.50 14.00 29.80 14.00 29.90 14.70 31.00 14.80 32.00 14.80 32.40 15.20 32.20 16.00 31.90 16.30 31.60 17.00 31.90 18.00M28.50 14.00 28.10 14.40 28.80 15.00 28.50 15.70 28.80 16.50 28.90 17.40 29.00 18.20M32.20 16.00 32.40 17.00 32.60 18.00M40.00 19.80 38.90 20.30 37.80 21.40 37.60 23.00 38.60 23.80 38.20 24.80 39.10 26.00 39.20 27.10 39.40 29.00 38.80 29.60 38.60 30.00M40.00 18.20 40.00 19.80" fill="none" stroke="#222" stroke-width="0.9" vector-effect="non-scaling-stroke" stroke-linejoin="round"/>
<path d="M32.70 26.50 32.90 27.20 32.80 28.00 32.60 28.60 32.60 29.10M33.50 30.80 33.40 31.10M33.80 32.70 33.90 33.10M36.00 37.10 36.50 37.60M37.20 38.50 37.70 39.10" fill="none" stroke="#111" stroke-width="1.8" stroke-dasharray="3 2" vector-effect="non-scaling-stroke"/>
</svg>
<polygon points="1593.40,2162.74 1595.12,2166.87 1599.58,2167.23 1596.18,2170.14 1597.22,2174.49 1593.40,2172.16 1589.58,2174.49 1590.62,2170.14 1587.22,2167.23 1591.68,2166.87" fill="#fff"/>
<rect x="1431.5" y="2095.3" width="332.1" height="279.0" fill="none" stroke="#000" stroke-width="2.6"/>
<path d="M1431.5 2374.3v9.5M1431.5 2374.3h-9.5M1473.0 2374.3v5.5M1431.5 2339.4h-5.5M1514.5 2374.3v9.5M1431.5 2304.6h-9.5M1556.0 2374.3v5.5M1431.5 2269.7h-5.5M1597.5 2374.3v9.5M1431.5 2234.8h-9.5M1639.1 2374.3v5.5M1431.5 2199.9h-5.5M1680.6 2374.3v9.5M1431.5 2165.1h-9.5M1722.1 2374.3v5.5M1431.5 2130.2h-5.5M1763.6 2374.3v9.5M1431.5 2095.3h-9.5" stroke="#000" stroke-width="2.4" fill="none"/>
<text x="1431.5" y="2407.8" text-anchor="middle" font-size="25.5" textLength="26.5" lengthAdjust="spacingAndGlyphs">60</text>
<text x="1514.5" y="2407.8" text-anchor="middle" font-size="25.5" textLength="26.5" lengthAdjust="spacingAndGlyphs">70</text>
<text x="1597.5" y="2407.8" text-anchor="middle" font-size="25.5" textLength="26.5" lengthAdjust="spacingAndGlyphs">80</text>
<text x="1680.6" y="2407.8" text-anchor="middle" font-size="25.5" textLength="26.5" lengthAdjust="spacingAndGlyphs">90</text>
<text x="1763.6" y="2407.8" text-anchor="middle" font-size="25.5" textLength="39.8" lengthAdjust="spacingAndGlyphs">100</text>
<text x="1417.0" y="2383.1" text-anchor="end" font-size="25.5">0</text>
<text x="1417.0" y="2313.4" text-anchor="end" font-size="25.5">10</text>
<text x="1417.0" y="2243.6" text-anchor="end" font-size="25.5">20</text>
<text x="1417.0" y="2173.9" text-anchor="end" font-size="25.5">30</text>
<text x="1417.0" y="2104.1" text-anchor="end" font-size="25.5">40</text>
<text x="1437.0" y="2083.5" font-size="25.0" textLength="104.9" lengthAdjust="spacingAndGlyphs">December</text>
<text x="49.4" y="105.5" font-size="60.0" text-anchor="start" textLength="70.6" lengthAdjust="spacingAndGlyphs">(a)</text>
<text x="43.3" y="1378.0" font-size="60.0" text-anchor="start" textLength="71.5" lengthAdjust="spacingAndGlyphs">(b)</text>
<text transform="translate(151.5 227.0) rotate(-90)" text-anchor="middle" font-size="26.0" textLength="96.0" lengthAdjust="spacingAndGlyphs">Latitude</text>
<text transform="translate(151.5 620.5) rotate(-90)" text-anchor="middle" font-size="31.5" textLength="118.0" lengthAdjust="spacingAndGlyphs">Latitude</text>
<text transform="translate(151.5 1009.6) rotate(-90)" text-anchor="middle" font-size="30.5" textLength="112.6" lengthAdjust="spacingAndGlyphs">Latitude</text>
<text transform="translate(146.0 1492.8) rotate(-90)" text-anchor="middle" font-size="24.5" textLength="90.5" lengthAdjust="spacingAndGlyphs">Latitude</text>
<text transform="translate(151.5 1871.0) rotate(-90)" text-anchor="middle" font-size="31.5" textLength="118.0" lengthAdjust="spacingAndGlyphs">Latitude</text>
<text transform="translate(148.0 2236.0) rotate(-90)" text-anchor="middle" font-size="29.5" textLength="108.8" lengthAdjust="spacingAndGlyphs">Latitude</text>
<text x="267.7" y="1214.8" font-size="30.5" text-anchor="start" textLength="135.2" lengthAdjust="spacingAndGlyphs">Longitude</text>
<text x="681.8" y="1224.0" font-size="31.5" text-anchor="start" textLength="139.7" lengthAdjust="spacingAndGlyphs">Longitude</text>
<text x="1069.3" y="1237.0" font-size="34.5" text-anchor="start" textLength="146.7" lengthAdjust="spacingAndGlyphs">Longitude</text>
<text x="1468.0" y="1225.5" font-size="33.0" text-anchor="start" textLength="146.0" lengthAdjust="spacingAndGlyphs">Longitude</text>
<text x="296.0" y="2432.7" font-size="31.0" text-anchor="start" textLength="142.4" lengthAdjust="spacingAndGlyphs">Longitude</text>
<text x="704.6" y="2435.5" font-size="32.0" text-anchor="start" textLength="147.0" lengthAdjust="spacingAndGlyphs">Longitude</text>
<text x="1120.8" y="2429.4" font-size="32.5" text-anchor="start" textLength="150.7" lengthAdjust="spacingAndGlyphs">Longitude</text>
<text x="1529.6" y="2431.8" font-size="30.5" text-anchor="start" textLength="135.9" lengthAdjust="spacingAndGlyphs">Longitude</text>
<rect x="1758.0" y="330.00" width="38.0" height="10.06" fill="#ff0000"/>
<rect x="1758.0" y="339.46" width="38.0" height="10.06" fill="#ff1000"/>
<rect x="1758.0" y="348.92" width="38.0" height="10.06" fill="#ff2000"/>
<rect x="1758.0" y="358.38" width="38.0" height="10.06" fill="#ff2000"/>
<rect x="1758.0" y="367.83" width="38.0" height="10.06" fill="#ff3200"/>
<rect x="1758.0" y="377.29" width="38.0" height="10.06" fill="#ff4600"/>
<rect x="1758.0" y="386.75" width="38.0" height="10.06" fill="#ff4600"/>
<rect x="1758.0" y="396.21" width="38.0" height="10.06" fill="#ff5a00"/>
<rect x="1758.0" y="405.67" width="38.0" height="10.06" fill="#ff6e00"/>
<rect x="1758.0" y="415.12" width="38.0" height="10.06" fill="#ff6e00"/>
<rect x="1758.0" y="424.58" width="38.0" height="10.06" fill="#ff8200"/>
<rect x="1758.0" y="434.04" width="38.0" height="10.06" fill="#ff9800"/>
<rect x="1758.0" y="443.50" width="38.0" height="10.06" fill="#ff9800"/>
<rect x="1758.0" y="452.96" width="38.0" height="10.06" fill="#ffb200"/>
<rect x="1758.0" y="462.42" width="38.0" height="10.06" fill="#ffcd00"/>
<rect x="1758.0" y="471.88" width="38.0" height="10.06" fill="#ffcd00"/>
<rect x="1758.0" y="481.33" width="38.0" height="10.06" fill="#f4e600"/>
<rect x="1758.0" y="490.79" width="38.0" height="10.06" fill="#c5f000"/>
<rect x="1758.0" y="500.25" width="38.0" height="10.06" fill="#c5f000"/>
<rect x="1758.0" y="509.71" width="38.0" height="10.06" fill="#78f000"/>
<rect x="1758.0" y="519.17" width="38.0" height="10.06" fill="#00ff00"/>
<rect x="1758.0" y="528.62" width="38.0" height="10.06" fill="#00ff00"/>
<rect x="1758.0" y="538.08" width="38.0" height="10.06" fill="#00ff00"/>
<rect x="1758.0" y="547.54" width="38.0" height="10.06" fill="#00ff00"/>
<rect x="1758.0" y="557.00" width="38.0" height="10.06" fill="#00ff00"/>
<rect x="1758.0" y="566.46" width="38.0" height="10.06" fill="#00ff00"/>
<rect x="1758.0" y="575.92" width="38.0" height="10.06" fill="#00ff00"/>
<rect x="1758.0" y="585.38" width="38.0" height="10.06" fill="#00ff00"/>
<rect x="1758.0" y="594.83" width="38.0" height="10.06" fill="#00ff32"/>
<rect x="1758.0" y="604.29" width="38.0" height="10.06" fill="#00ff75"/>
<rect x="1758.0" y="613.75" width="38.0" height="10.06" fill="#00ff75"/>
<rect x="1758.0" y="623.21" width="38.0" height="10.06" fill="#00feb0"/>
<rect x="1758.0" y="632.67" width="38.0" height="10.06" fill="#00fbe5"/>
<rect x="1758.0" y="642.12" width="38.0" height="10.06" fill="#00fbe5"/>
<rect x="1758.0" y="651.58" width="38.0" height="10.06" fill="#00edff"/>
<rect x="1758.0" y="661.04" width="38.0" height="10.06" fill="#00d3ff"/>
<rect x="1758.0" y="670.50" width="38.0" height="10.06" fill="#00d3ff"/>
<rect x="1758.0" y="679.96" width="38.0" height="10.06" fill="#00b9ff"/>
<rect x="1758.0" y="689.42" width="38.0" height="10.06" fill="#00a5ff"/>
<rect x="1758.0" y="698.88" width="38.0" height="10.06" fill="#00a5ff"/>
<rect x="1758.0" y="708.33" width="38.0" height="10.06" fill="#0091ff"/>
<rect x="1758.0" y="717.79" width="38.0" height="10.06" fill="#007cff"/>
<rect x="1758.0" y="727.25" width="38.0" height="10.06" fill="#007cff"/>
<rect x="1758.0" y="736.71" width="38.0" height="10.06" fill="#0066ff"/>
<rect x="1758.0" y="746.17" width="38.0" height="10.06" fill="#0050ff"/>
<rect x="1758.0" y="755.62" width="38.0" height="10.06" fill="#0050ff"/>
<rect x="1758.0" y="765.08" width="38.0" height="10.06" fill="#1238ff"/>
<rect x="1758.0" y="774.54" width="38.0" height="10.06" fill="#2420ff"/>
<rect x="1758.0" y="784.00" width="38.0" height="10.06" fill="#2420ff"/>
<rect x="1758.0" y="793.46" width="38.0" height="10.06" fill="#3710ff"/>
<rect x="1758.0" y="802.92" width="38.0" height="10.06" fill="#4b08ff"/>
<rect x="1758.0" y="812.38" width="38.0" height="10.06" fill="#4b08ff"/>
<rect x="1758.0" y="821.83" width="38.0" height="10.06" fill="#5f00ff"/>
<rect x="1758.0" y="831.29" width="38.0" height="10.06" fill="#7100ff"/>
<rect x="1758.0" y="840.75" width="38.0" height="10.06" fill="#7100ff"/>
<rect x="1758.0" y="850.21" width="38.0" height="10.06" fill="#8300ff"/>
<rect x="1758.0" y="859.67" width="38.0" height="10.06" fill="#9300ff"/>
<rect x="1758.0" y="869.12" width="38.0" height="10.06" fill="#9300ff"/>
<rect x="1758.0" y="878.58" width="38.0" height="10.06" fill="#a100ff"/>
<rect x="1758.0" y="888.04" width="38.0" height="10.06" fill="#af00ff"/>
<rect x="1758.0" y="330.0" width="38.0" height="567.5" fill="none" stroke="#000" stroke-width="2.2"/>
<text x="1821.0" y="911.1" font-size="40.0" textLength="21.3" lengthAdjust="spacingAndGlyphs">0</text>
<text x="1821.0" y="840.2" font-size="40.0" textLength="21.3" lengthAdjust="spacingAndGlyphs">5</text>
<text x="1821.0" y="769.2" font-size="40.0" textLength="42.6" lengthAdjust="spacingAndGlyphs">10</text>
<text x="1821.0" y="698.3" font-size="40.0" textLength="42.6" lengthAdjust="spacingAndGlyphs">15</text>
<text x="1821.0" y="627.4" font-size="40.0" textLength="42.6" lengthAdjust="spacingAndGlyphs">20</text>
<text x="1821.0" y="556.4" font-size="40.0" textLength="42.6" lengthAdjust="spacingAndGlyphs">25</text>
<text x="1821.0" y="485.5" font-size="40.0" textLength="42.6" lengthAdjust="spacingAndGlyphs">30</text>
<text x="1821.0" y="414.5" font-size="40.0" textLength="42.6" lengthAdjust="spacingAndGlyphs">35</text>
<text x="1821.0" y="343.6" font-size="40.0" textLength="42.6" lengthAdjust="spacingAndGlyphs">40</text>
<path d="M1796.0 897.5h9.0M1796.0 826.6h9.0M1796.0 755.6h9.0M1796.0 684.7h9.0M1796.0 613.8h9.0M1796.0 542.8h9.0M1796.0 471.9h9.0M1796.0 400.9h9.0M1796.0 330.0h9.0" stroke="#000" stroke-width="2.4"/>
<text transform="translate(1927.0 583.5) rotate(-90)" text-anchor="middle" font-size="36.0" textLength="341.0" lengthAdjust="spacingAndGlyphs">Cloud Optical Depth</text>
<rect x="1803.0" y="1567.00" width="27.0" height="10.28" fill="#64000a"/>
<rect x="1803.0" y="1576.68" width="27.0" height="10.28" fill="#780006"/>
<rect x="1803.0" y="1586.37" width="27.0" height="10.28" fill="#8c0002"/>
<rect x="1803.0" y="1596.05" width="27.0" height="10.28" fill="#a00000"/>
<rect x="1803.0" y="1605.73" width="27.0" height="10.28" fill="#a00000"/>
<rect x="1803.0" y="1615.42" width="27.0" height="10.28" fill="#b40000"/>
<rect x="1803.0" y="1625.10" width="27.0" height="10.28" fill="#c80000"/>
<rect x="1803.0" y="1634.78" width="27.0" height="10.28" fill="#da0000"/>
<rect x="1803.0" y="1644.47" width="27.0" height="10.28" fill="#da0000"/>
<rect x="1803.0" y="1654.15" width="27.0" height="10.28" fill="#ec0000"/>
<rect x="1803.0" y="1663.83" width="27.0" height="10.28" fill="#fa0000"/>
<rect x="1803.0" y="1673.52" width="27.0" height="10.28" fill="#ff0000"/>
<rect x="1803.0" y="1683.20" width="27.0" height="10.28" fill="#ff0000"/>
<rect x="1803.0" y="1692.88" width="27.0" height="10.28" fill="#ff0000"/>
<rect x="1803.0" y="1702.57" width="27.0" height="10.28" fill="#ff0000"/>
<rect x="1803.0" y="1712.25" width="27.0" height="10.28" fill="#ff0000"/>
<rect x="1803.0" y="1721.93" width="27.0" height="10.28" fill="#ff0000"/>
<rect x="1803.0" y="1731.62" width="27.0" height="10.28" fill="#ff0000"/>
<rect x="1803.0" y="1741.30" width="27.0" height="10.28" fill="#ff0000"/>
<rect x="1803.0" y="1750.98" width="27.0" height="10.28" fill="#ff0000"/>
<rect x="1803.0" y="1760.67" width="27.0" height="10.28" fill="#ff0000"/>
<rect x="1803.0" y="1770.35" width="27.0" height="10.28" fill="#ff0000"/>
<rect x="1803.0" y="1780.03" width="27.0" height="10.28" fill="#ff3c00"/>
<rect x="1803.0" y="1789.72" width="27.0" height="10.28" fill="#ff6e00"/>
<rect x="1803.0" y="1799.40" width="27.0" height="10.28" fill="#ff6e00"/>
<rect x="1803.0" y="1809.08" width="27.0" height="10.28" fill="#ff9600"/>
<rect x="1803.0" y="1818.77" width="27.0" height="10.28" fill="#ffbe00"/>
<rect x="1803.0" y="1828.45" width="27.0" height="10.28" fill="#ffdc00"/>
<rect x="1803.0" y="1838.13" width="27.0" height="10.28" fill="#ffdc00"/>
<rect x="1803.0" y="1847.82" width="27.0" height="10.28" fill="#fff300"/>
<rect x="1803.0" y="1857.50" width="27.0" height="10.28" fill="#ebff00"/>
<rect x="1803.0" y="1867.18" width="27.0" height="10.28" fill="#c0fc00"/>
<rect x="1803.0" y="1876.87" width="27.0" height="10.28" fill="#c0fc00"/>
<rect x="1803.0" y="1886.55" width="27.0" height="10.28" fill="#87fa00"/>
<rect x="1803.0" y="1896.23" width="27.0" height="10.28" fill="#32fc00"/>
<rect x="1803.0" y="1905.92" width="27.0" height="10.28" fill="#00ff00"/>
<rect x="1803.0" y="1915.60" width="27.0" height="10.28" fill="#00ff00"/>
<rect x="1803.0" y="1925.28" width="27.0" height="10.28" fill="#00ff00"/>
<rect x="1803.0" y="1934.97" width="27.0" height="10.28" fill="#00ff00"/>
<rect x="1803.0" y="1944.65" width="27.0" height="10.28" fill="#00ff00"/>
<rect x="1803.0" y="1954.33" width="27.0" height="10.28" fill="#00ff00"/>
<rect x="1803.0" y="1964.02" width="27.0" height="10.28" fill="#00ff50"/>
<rect x="1803.0" y="1973.70" width="27.0" height="10.28" fill="#00ffc6"/>
<rect x="1803.0" y="1983.38" width="27.0" height="10.28" fill="#00f4ff"/>
<rect x="1803.0" y="1993.07" width="27.0" height="10.28" fill="#00f4ff"/>
<rect x="1803.0" y="2002.75" width="27.0" height="10.28" fill="#00c8ff"/>
<rect x="1803.0" y="2012.43" width="27.0" height="10.28" fill="#00a7ff"/>
<rect x="1803.0" y="2022.12" width="27.0" height="10.28" fill="#0078ff"/>
<rect x="1803.0" y="2031.80" width="27.0" height="10.28" fill="#0078ff"/>
<rect x="1803.0" y="2041.48" width="27.0" height="10.28" fill="#0036ff"/>
<rect x="1803.0" y="2051.17" width="27.0" height="10.28" fill="#0c00ff"/>
<rect x="1803.0" y="2060.85" width="27.0" height="10.28" fill="#3c00ff"/>
<rect x="1803.0" y="2070.53" width="27.0" height="10.28" fill="#3c00ff"/>
<rect x="1803.0" y="2080.22" width="27.0" height="10.28" fill="#7800ff"/>
<rect x="1803.0" y="2089.90" width="27.0" height="10.28" fill="#8c00e1"/>
<rect x="1803.0" y="2099.58" width="27.0" height="10.28" fill="#9300c1"/>
<rect x="1803.0" y="2109.27" width="27.0" height="10.28" fill="#9300c1"/>
<rect x="1803.0" y="2118.95" width="27.0" height="10.28" fill="#8c00a0"/>
<rect x="1803.0" y="2128.63" width="27.0" height="10.28" fill="#7d007d"/>
<rect x="1803.0" y="2138.32" width="27.0" height="10.28" fill="#6e005a"/>
<rect x="1803.0" y="1567.0" width="27.0" height="581.0" fill="none" stroke="#000" stroke-width="2.2"/>
<text x="1855.0" y="1575.7" font-size="25.5" textLength="31.2" lengthAdjust="spacingAndGlyphs">10</text>
<text x="1855.0" y="1640.2" font-size="25.5" textLength="31.2" lengthAdjust="spacingAndGlyphs">20</text>
<text x="1855.0" y="1704.8" font-size="25.5" textLength="31.2" lengthAdjust="spacingAndGlyphs">30</text>
<text x="1855.0" y="1769.3" font-size="25.5" textLength="31.2" lengthAdjust="spacingAndGlyphs">40</text>
<text x="1855.0" y="1833.9" font-size="25.5" textLength="31.2" lengthAdjust="spacingAndGlyphs">50</text>
<text x="1855.0" y="1898.4" font-size="25.5" textLength="31.2" lengthAdjust="spacingAndGlyphs">60</text>
<text x="1855.0" y="1963.0" font-size="25.5" textLength="31.2" lengthAdjust="spacingAndGlyphs">70</text>
<text x="1855.0" y="2027.6" font-size="25.5" textLength="31.2" lengthAdjust="spacingAndGlyphs">80</text>
<text x="1855.0" y="2092.1" font-size="25.5" textLength="31.2" lengthAdjust="spacingAndGlyphs">90</text>
<text x="1855.0" y="2156.7" font-size="25.5" textLength="46.8" lengthAdjust="spacingAndGlyphs">100</text>
<path d="M1830.0 1567.0h9.0M1830.0 1631.6h9.0M1830.0 1696.1h9.0M1830.0 1760.7h9.0M1830.0 1825.2h9.0M1830.0 1889.8h9.0M1830.0 1954.3h9.0M1830.0 2018.9h9.0M1830.0 2083.4h9.0M1830.0 2148.0h9.0" stroke="#000" stroke-width="2.4"/>
<text transform="translate(1929.0 1843.5) rotate(-90)" text-anchor="middle" font-size="27.5" textLength="547.0" lengthAdjust="spacingAndGlyphs">GHI Percentage Attenuation due to Cloud(%)</text>
</svg></body></html>
